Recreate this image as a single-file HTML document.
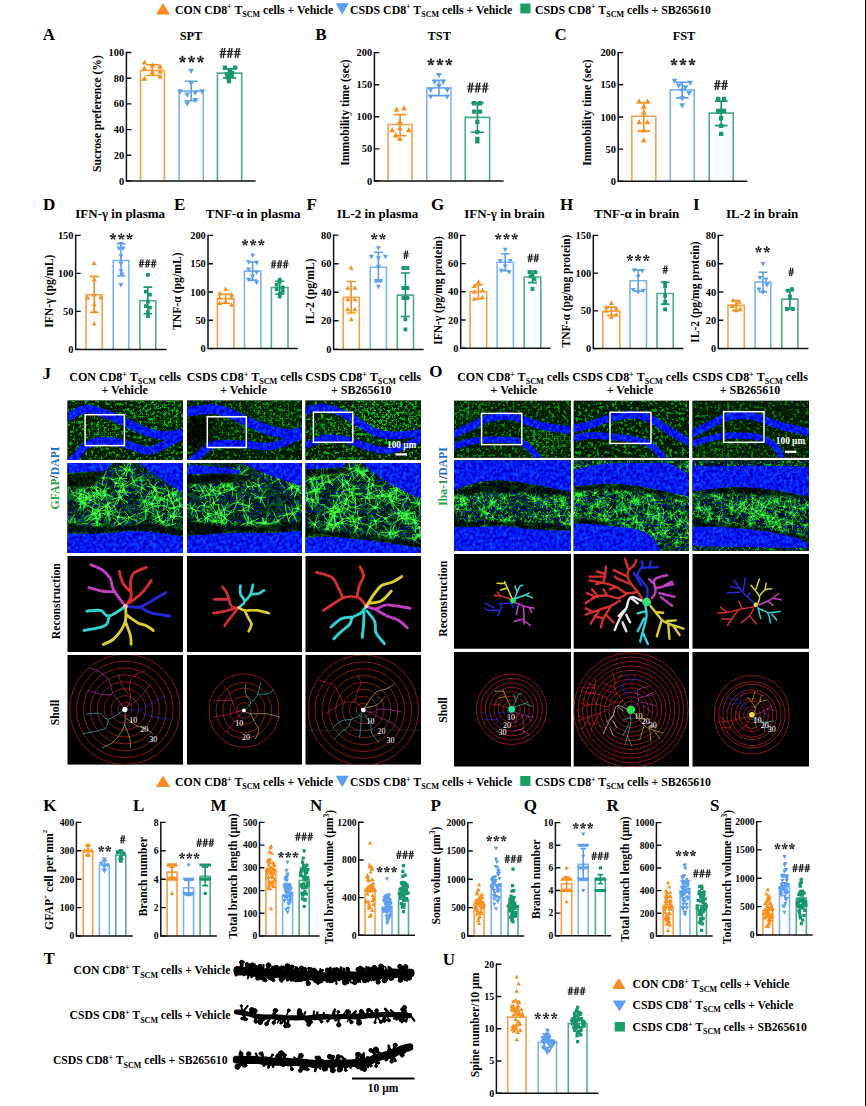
<!DOCTYPE html>
<html><head><meta charset="utf-8"><style>
html,body{margin:0;padding:0;background:#fff;width:866px;height:1106px;overflow:hidden}
svg{display:block;font-family:"Liberation Serif", serif}
</style></head><body>
<svg width="866" height="1106" viewBox="0 0 866 1106">
<path d="M163 3L170 14.6L156 14.6Z" fill="#F98A1E"/>
<text x="175" y="13.6" font-size="11.8" text-anchor="start" font-weight="bold" fill="#000" >CON CD8<tspan font-size="8" dy="-4.2">+</tspan><tspan dy="4.2"> T</tspan><tspan font-size="8" dy="3.3">SCM</tspan><tspan dy="-3.3"> cells + Vehicle</tspan></text>
<path d="M335.7 3.2L348.8 3.2L342.25 14.8Z" fill="#5B9EF5"/>
<text x="350" y="13.6" font-size="11.8" text-anchor="start" font-weight="bold" fill="#000" >CSDS CD8<tspan font-size="8" dy="-4.2">+</tspan><tspan dy="4.2"> T</tspan><tspan font-size="8" dy="3.3">SCM</tspan><tspan dy="-3.3"> cells + Vehicle</tspan></text>
<rect x="520.3" y="3.5" width="10.2" height="9.9" fill="#18A064"/>
<text x="535" y="13.6" font-size="11.8" text-anchor="start" font-weight="bold" fill="#000" >CSDS CD8<tspan font-size="8" dy="-4.2">+</tspan><tspan dy="4.2"> T</tspan><tspan font-size="8" dy="3.3">SCM</tspan><tspan dy="-3.3"> cells + SB265610</tspan></text>
<path d="M163 775.5L170 787.1L156 787.1Z" fill="#F98A1E"/>
<text x="175" y="786.1" font-size="11.8" text-anchor="start" font-weight="bold" fill="#000" >CON CD8<tspan font-size="8" dy="-4.2">+</tspan><tspan dy="4.2"> T</tspan><tspan font-size="8" dy="3.3">SCM</tspan><tspan dy="-3.3"> cells + Vehicle</tspan></text>
<path d="M335.7 775.7L348.8 775.7L342.25 787.3Z" fill="#5B9EF5"/>
<text x="350" y="786.1" font-size="11.8" text-anchor="start" font-weight="bold" fill="#000" >CSDS CD8<tspan font-size="8" dy="-4.2">+</tspan><tspan dy="4.2"> T</tspan><tspan font-size="8" dy="3.3">SCM</tspan><tspan dy="-3.3"> cells + Vehicle</tspan></text>
<rect x="520.3" y="776" width="10.2" height="9.9" fill="#18A064"/>
<text x="535" y="786.1" font-size="11.8" text-anchor="start" font-weight="bold" fill="#000" >CSDS CD8<tspan font-size="8" dy="-4.2">+</tspan><tspan dy="4.2"> T</tspan><tspan font-size="8" dy="3.3">SCM</tspan><tspan dy="-3.3"> cells + SB265610</tspan></text>
<text x="42.8" y="40.4" font-size="17" text-anchor="start" font-weight="bold" fill="#000" >A</text>
<text x="315.2" y="40.4" font-size="17" text-anchor="start" font-weight="bold" fill="#000" >B</text>
<text x="554.6" y="40.4" font-size="17" text-anchor="start" font-weight="bold" fill="#000" >C</text>
<text x="42.9" y="209.9" font-size="17" text-anchor="start" font-weight="bold" fill="#000" >D</text>
<text x="174" y="209.9" font-size="17" text-anchor="start" font-weight="bold" fill="#000" >E</text>
<text x="306.5" y="209.9" font-size="17" text-anchor="start" font-weight="bold" fill="#000" >F</text>
<text x="431" y="209.9" font-size="17" text-anchor="start" font-weight="bold" fill="#000" >G</text>
<text x="560" y="209.9" font-size="17" text-anchor="start" font-weight="bold" fill="#000" >H</text>
<text x="693" y="209.9" font-size="17" text-anchor="start" font-weight="bold" fill="#000" >I</text>
<text x="42.5" y="378.5" font-size="17" text-anchor="start" font-weight="bold" fill="#000" >J</text>
<text x="429.2" y="377.2" font-size="17" text-anchor="start" font-weight="bold" fill="#000" >O</text>
<text x="43.2" y="811" font-size="17" text-anchor="start" font-weight="bold" fill="#000" >K</text>
<text x="133" y="811" font-size="17" text-anchor="start" font-weight="bold" fill="#000" >L</text>
<text x="210.4" y="811" font-size="17" text-anchor="start" font-weight="bold" fill="#000" >M</text>
<text x="310" y="810.7" font-size="17" text-anchor="start" font-weight="bold" fill="#000" >N</text>
<text x="430.4" y="811" font-size="17" text-anchor="start" font-weight="bold" fill="#000" >P</text>
<text x="523.7" y="811" font-size="17" text-anchor="start" font-weight="bold" fill="#000" >Q</text>
<text x="606.6" y="811" font-size="17" text-anchor="start" font-weight="bold" fill="#000" >R</text>
<text x="710" y="811" font-size="17" text-anchor="start" font-weight="bold" fill="#000" >S</text>
<text x="43.5" y="963.9" font-size="17" text-anchor="start" font-weight="bold" fill="#000" >T</text>
<text x="442.8" y="964.8" font-size="17" text-anchor="start" font-weight="bold" fill="#000" >U</text>
<path d="M140.5 181V70.5H164.4V181" fill="none" stroke="#F7A04A" stroke-width="1.6"/>
<path d="M179.1 181V91.1H203.2V181" fill="none" stroke="#7DB3F2" stroke-width="1.6"/>
<path d="M217.4 181V73.1H241.7V181" fill="none" stroke="#4FAE86" stroke-width="1.6"/>
<path d="M144.4 59.4l2.9 5.2h-5.8zM152.4 62.2l2.9 5.2h-5.8zM160.1 63.5l2.9 5.2h-5.8zM144.4 65.2l2.9 5.2h-5.8zM160.1 68.4l2.9 5.2h-5.8zM152.4 69l2.9 5.2h-5.8zM160.1 73.3l2.9 5.2h-5.8zM144.4 75.6l2.9 5.2h-5.8z" fill="#F7901E"/>
<path d="M152.4 75.5V64.7M146.1 64.7H158.8M146.1 75.5H158.8" stroke="#F7901E" stroke-width="1.6" fill="none"/>
<path d="M191.2 73.9l2.9 -5.2h-5.8zM191.2 86.3l2.9 -5.2h-5.8zM180.2 94.4l2.9 -5.2h-5.8zM202.2 94.4l2.9 -5.2h-5.8zM187.2 97.7l2.9 -5.2h-5.8zM195.2 95.6l2.9 -5.2h-5.8zM195.2 103.2l2.9 -5.2h-5.8zM187.2 106.6l2.9 -5.2h-5.8z" fill="#5C9FEE"/>
<path d="M191.2 100.7V81.3M184.7 81.3H197.6M184.7 100.7H197.6" stroke="#5C9FEE" stroke-width="1.6" fill="none"/>
<path d="M222.8 65.4h4.3v4.3h-4.3zM233.1 65.5h4.3v4.3h-4.3zM227.6 67.9h4.3v4.3h-4.3zM229.6 70.5h4.3v4.3h-4.3zM224.8 72.2h4.3v4.3h-4.3zM229.6 73.6h4.3v4.3h-4.3zM226.2 75.3h4.3v4.3h-4.3zM226.8 78.9h4.3v4.3h-4.3z" fill="#17976A"/>
<path d="M229.6 77.9V68.9M223.1 68.9H236M223.1 77.9H236" stroke="#17976A" stroke-width="1.6" fill="none"/>
<path d="M126.4 51.8V181H255.6" fill="none" stroke="#111" stroke-width="1.5"/>
<path d="M126.4 181H131.4M126.4 155.3H131.4M126.4 129.6H131.4M126.4 103.9H131.4M126.4 78.2H131.4M126.4 52.5H131.4" stroke="#111" stroke-width="1.4"/>
<text x="124.2" y="184.5" font-size="10.4" text-anchor="end" font-weight="bold" fill="#000" >0</text>
<text x="124.2" y="158.8" font-size="10.4" text-anchor="end" font-weight="bold" fill="#000" >20</text>
<text x="124.2" y="133.1" font-size="10.4" text-anchor="end" font-weight="bold" fill="#000" >40</text>
<text x="124.2" y="107.4" font-size="10.4" text-anchor="end" font-weight="bold" fill="#000" >60</text>
<text x="124.2" y="81.7" font-size="10.4" text-anchor="end" font-weight="bold" fill="#000" >80</text>
<text x="124.2" y="56" font-size="10.4" text-anchor="end" font-weight="bold" fill="#000" >100</text>
<path d="M182.5 59.4L182.5 56.9M182.5 59.4L184.9 58.6M182.5 59.4L184 61.4M182.5 59.4L181 61.4M182.5 59.4L180.1 58.6M191.5 59.4L191.5 56.9M191.5 59.4L193.9 58.6M191.5 59.4L193 61.4M191.5 59.4L190 61.4M191.5 59.4L189.1 58.6M200.5 59.4L200.5 56.9M200.5 59.4L202.9 58.6M200.5 59.4L202 61.4M200.5 59.4L199 61.4M200.5 59.4L198.1 58.6" stroke="#222" stroke-width="1.1" fill="none"/><path d="M181.4 56.9a1.1 1.1 0 1 0 2.2 0a1.1 1.1 0 1 0 -2.2 0M183.8 58.6a1.1 1.1 0 1 0 2.2 0a1.1 1.1 0 1 0 -2.2 0M182.9 61.4a1.1 1.1 0 1 0 2.2 0a1.1 1.1 0 1 0 -2.2 0M179.9 61.4a1.1 1.1 0 1 0 2.2 0a1.1 1.1 0 1 0 -2.2 0M179 58.6a1.1 1.1 0 1 0 2.2 0a1.1 1.1 0 1 0 -2.2 0M190.4 56.9a1.1 1.1 0 1 0 2.2 0a1.1 1.1 0 1 0 -2.2 0M192.8 58.6a1.1 1.1 0 1 0 2.2 0a1.1 1.1 0 1 0 -2.2 0M191.9 61.4a1.1 1.1 0 1 0 2.2 0a1.1 1.1 0 1 0 -2.2 0M188.9 61.4a1.1 1.1 0 1 0 2.2 0a1.1 1.1 0 1 0 -2.2 0M188 58.6a1.1 1.1 0 1 0 2.2 0a1.1 1.1 0 1 0 -2.2 0M199.4 56.9a1.1 1.1 0 1 0 2.2 0a1.1 1.1 0 1 0 -2.2 0M201.8 58.6a1.1 1.1 0 1 0 2.2 0a1.1 1.1 0 1 0 -2.2 0M200.9 61.4a1.1 1.1 0 1 0 2.2 0a1.1 1.1 0 1 0 -2.2 0M197.9 61.4a1.1 1.1 0 1 0 2.2 0a1.1 1.1 0 1 0 -2.2 0M197 58.6a1.1 1.1 0 1 0 2.2 0a1.1 1.1 0 1 0 -2.2 0" fill="#222"/>
<path d="M220.8 57.8L222.4 48M223.2 57.8L224.8 48M228 57.8L229.6 48M230.4 57.8L232 48M235.3 57.8L236.9 48M237.7 57.8L239.3 48" stroke="#222" stroke-width="1.4" fill="none"/><path d="M219.5 51.5H226.2M219.5 54.3H226.2M226.7 51.5H233.4M226.7 54.3H233.4M234 51.5H240.7M234 54.3H240.7" stroke="#222" stroke-width="1" fill="none"/>
<text x="191" y="39.7" font-size="12.4" text-anchor="middle" font-weight="bold" fill="#000" >SPT</text>
<text transform="translate(97.7 113.5) rotate(-90)" x="0" y="0" font-size="11.7" text-anchor="middle" font-weight="bold" dominant-baseline="central">Sucrose preference (%)</text>
<path d="M388.1 181V124.5H412.1V181" fill="none" stroke="#F7A04A" stroke-width="1.6"/>
<path d="M426.8 181V87.9H451V181" fill="none" stroke="#7DB3F2" stroke-width="1.6"/>
<path d="M465.2 181V117.4H489.6V181" fill="none" stroke="#4FAE86" stroke-width="1.6"/>
<path d="M396.4 106.6l2.9 5.2h-5.8zM404 105.3l2.9 5.2h-5.8zM399.9 118.8l2.9 5.2h-5.8zM392.2 127.1l2.9 5.2h-5.8zM408.8 127.1l2.9 5.2h-5.8zM399.9 125.2l2.9 5.2h-5.8zM395.7 132.3l2.9 5.2h-5.8zM399.9 135.8l2.9 5.2h-5.8z" fill="#F7901E"/>
<path d="M400.1 135.8V114.6M393.7 114.6H406.5M393.7 135.8H406.5" stroke="#F7901E" stroke-width="1.6" fill="none"/>
<path d="M438.9 78.2l2.9 -5.2h-5.8zM434.7 84.9l2.9 -5.2h-5.8zM443.1 84.9l2.9 -5.2h-5.8zM438.9 89.1l2.9 -5.2h-5.8zM430.6 93l2.9 -5.2h-5.8zM447.2 93l2.9 -5.2h-5.8zM430.6 99.6l2.9 -5.2h-5.8zM447.2 99.6l2.9 -5.2h-5.8z" fill="#5C9FEE"/>
<path d="M438.9 95.6V80.2M432.4 80.2H445.3M432.4 95.6H445.3" stroke="#5C9FEE" stroke-width="1.6" fill="none"/>
<path d="M472.1 101.1h4.3v4.3h-4.3zM477.9 101.1h4.3v4.3h-4.3zM472.1 109.5h4.3v4.3h-4.3zM477.9 109.5h4.3v4.3h-4.3zM475.2 119.8h4.3v4.3h-4.3zM475.2 130h4.3v4.3h-4.3zM475.2 136.7h4.3v4.3h-4.3zM475.2 139.3h4.3v4.3h-4.3z" fill="#17976A"/>
<path d="M477.4 132.2V102.7M470.9 102.7H483.9M470.9 132.2H483.9" stroke="#17976A" stroke-width="1.6" fill="none"/>
<path d="M374.4 51.9V181H503.6" fill="none" stroke="#111" stroke-width="1.5"/>
<path d="M374.4 181H379.4M374.4 148.9H379.4M374.4 116.8H379.4M374.4 84.7H379.4M374.4 52.6H379.4" stroke="#111" stroke-width="1.4"/>
<text x="372.2" y="184.5" font-size="10.4" text-anchor="end" font-weight="bold" fill="#000" >0</text>
<text x="372.2" y="152.4" font-size="10.4" text-anchor="end" font-weight="bold" fill="#000" >50</text>
<text x="372.2" y="120.3" font-size="10.4" text-anchor="end" font-weight="bold" fill="#000" >100</text>
<text x="372.2" y="88.2" font-size="10.4" text-anchor="end" font-weight="bold" fill="#000" >150</text>
<text x="372.2" y="56.1" font-size="10.4" text-anchor="end" font-weight="bold" fill="#000" >200</text>
<path d="M430.9 62.2L430.9 59.7M430.9 62.2L433.3 61.4M430.9 62.2L432.4 64.2M430.9 62.2L429.4 64.2M430.9 62.2L428.5 61.4M439.9 62.2L439.9 59.7M439.9 62.2L442.3 61.4M439.9 62.2L441.4 64.2M439.9 62.2L438.4 64.2M439.9 62.2L437.5 61.4M448.9 62.2L448.9 59.7M448.9 62.2L451.3 61.4M448.9 62.2L450.4 64.2M448.9 62.2L447.4 64.2M448.9 62.2L446.5 61.4" stroke="#222" stroke-width="1.1" fill="none"/><path d="M429.8 59.7a1.1 1.1 0 1 0 2.2 0a1.1 1.1 0 1 0 -2.2 0M432.2 61.4a1.1 1.1 0 1 0 2.2 0a1.1 1.1 0 1 0 -2.2 0M431.3 64.2a1.1 1.1 0 1 0 2.2 0a1.1 1.1 0 1 0 -2.2 0M428.3 64.2a1.1 1.1 0 1 0 2.2 0a1.1 1.1 0 1 0 -2.2 0M427.4 61.4a1.1 1.1 0 1 0 2.2 0a1.1 1.1 0 1 0 -2.2 0M438.8 59.7a1.1 1.1 0 1 0 2.2 0a1.1 1.1 0 1 0 -2.2 0M441.2 61.4a1.1 1.1 0 1 0 2.2 0a1.1 1.1 0 1 0 -2.2 0M440.3 64.2a1.1 1.1 0 1 0 2.2 0a1.1 1.1 0 1 0 -2.2 0M437.3 64.2a1.1 1.1 0 1 0 2.2 0a1.1 1.1 0 1 0 -2.2 0M436.4 61.4a1.1 1.1 0 1 0 2.2 0a1.1 1.1 0 1 0 -2.2 0M447.8 59.7a1.1 1.1 0 1 0 2.2 0a1.1 1.1 0 1 0 -2.2 0M450.2 61.4a1.1 1.1 0 1 0 2.2 0a1.1 1.1 0 1 0 -2.2 0M449.3 64.2a1.1 1.1 0 1 0 2.2 0a1.1 1.1 0 1 0 -2.2 0M446.3 64.2a1.1 1.1 0 1 0 2.2 0a1.1 1.1 0 1 0 -2.2 0M445.4 61.4a1.1 1.1 0 1 0 2.2 0a1.1 1.1 0 1 0 -2.2 0" fill="#222"/>
<path d="M468.6 92.5L470.2 82.7M471 92.5L472.6 82.7M475.8 92.5L477.4 82.7M478.2 92.5L479.8 82.7M483.1 92.5L484.7 82.7M485.5 92.5L487.1 82.7" stroke="#222" stroke-width="1.4" fill="none"/><path d="M467.3 86.2H474M467.3 89H474M474.5 86.2H481.2M474.5 89H481.2M481.8 86.2H488.5M481.8 89H488.5" stroke="#222" stroke-width="1" fill="none"/>
<text x="439.3" y="39.7" font-size="12.4" text-anchor="middle" font-weight="bold" fill="#000" >TST</text>
<text transform="translate(345.3 112.5) rotate(-90)" x="0" y="0" font-size="11.7" text-anchor="middle" font-weight="bold" dominant-baseline="central">Immobility time (sec)</text>
<path d="M631.8 181.3V116.3H655.8V181.3" fill="none" stroke="#F7A04A" stroke-width="1.6"/>
<path d="M670.3 181.3V89.9H694.2V181.3" fill="none" stroke="#7DB3F2" stroke-width="1.6"/>
<path d="M709.2 181.3V113.1H733.2V181.3" fill="none" stroke="#4FAE86" stroke-width="1.6"/>
<path d="M639.2 98.4l2.9 5.2h-5.8zM647.5 98.4l2.9 5.2h-5.8zM643.8 103.5l2.9 5.2h-5.8zM643.8 109.3l2.9 5.2h-5.8zM639.2 119l2.9 5.2h-5.8zM647.5 119l2.9 5.2h-5.8zM643.8 127.3l2.9 5.2h-5.8zM643.8 137.3l2.9 5.2h-5.8z" fill="#F7901E"/>
<path d="M643.8 131.1V102.8M637.4 102.8H650.2M637.4 131.1H650.2" stroke="#F7901E" stroke-width="1.6" fill="none"/>
<path d="M674.6 84l2.9 -5.2h-5.8zM690.1 86l2.9 -5.2h-5.8zM678.7 88.6l2.9 -5.2h-5.8zM685.4 90.5l2.9 -5.2h-5.8zM682.2 93.7l2.9 -5.2h-5.8zM689.1 96.3l2.9 -5.2h-5.8zM682.2 101.4l2.9 -5.2h-5.8zM682.2 108.5l2.9 -5.2h-5.8z" fill="#5C9FEE"/>
<path d="M682.2 97.9V82.3M675.9 82.3H688.6M675.9 97.9H688.6" stroke="#5C9FEE" stroke-width="1.6" fill="none"/>
<path d="M716.1 96.8h4.3v4.3h-4.3zM721.9 96.8h4.3v4.3h-4.3zM719 108.7h4.3v4.3h-4.3zM716.1 108.7h4.3v4.3h-4.3zM721.9 108.7h4.3v4.3h-4.3zM719 116.1h4.3v4.3h-4.3zM719 123.8h4.3v4.3h-4.3zM719 131.8h4.3v4.3h-4.3z" fill="#17976A"/>
<path d="M721.2 125.6V101.1M714.8 101.1H727.6M714.8 125.6H727.6" stroke="#17976A" stroke-width="1.6" fill="none"/>
<path d="M618.2 51.9V181.3H747.4" fill="none" stroke="#111" stroke-width="1.5"/>
<path d="M618.2 181.3H623.2M618.2 149.1H623.2M618.2 117H623.2M618.2 84.8H623.2M618.2 52.6H623.2" stroke="#111" stroke-width="1.4"/>
<text x="616" y="184.8" font-size="10.4" text-anchor="end" font-weight="bold" fill="#000" >0</text>
<text x="616" y="152.7" font-size="10.4" text-anchor="end" font-weight="bold" fill="#000" >50</text>
<text x="616" y="120.5" font-size="10.4" text-anchor="end" font-weight="bold" fill="#000" >100</text>
<text x="616" y="88.3" font-size="10.4" text-anchor="end" font-weight="bold" fill="#000" >150</text>
<text x="616" y="56.1" font-size="10.4" text-anchor="end" font-weight="bold" fill="#000" >200</text>
<path d="M674 62.2L674 59.7M674 62.2L676.4 61.4M674 62.2L675.5 64.2M674 62.2L672.5 64.2M674 62.2L671.6 61.4M683 62.2L683 59.7M683 62.2L685.4 61.4M683 62.2L684.5 64.2M683 62.2L681.5 64.2M683 62.2L680.6 61.4M692 62.2L692 59.7M692 62.2L694.4 61.4M692 62.2L693.5 64.2M692 62.2L690.5 64.2M692 62.2L689.6 61.4" stroke="#222" stroke-width="1.1" fill="none"/><path d="M672.9 59.7a1.1 1.1 0 1 0 2.2 0a1.1 1.1 0 1 0 -2.2 0M675.3 61.4a1.1 1.1 0 1 0 2.2 0a1.1 1.1 0 1 0 -2.2 0M674.4 64.2a1.1 1.1 0 1 0 2.2 0a1.1 1.1 0 1 0 -2.2 0M671.4 64.2a1.1 1.1 0 1 0 2.2 0a1.1 1.1 0 1 0 -2.2 0M670.5 61.4a1.1 1.1 0 1 0 2.2 0a1.1 1.1 0 1 0 -2.2 0M681.9 59.7a1.1 1.1 0 1 0 2.2 0a1.1 1.1 0 1 0 -2.2 0M684.3 61.4a1.1 1.1 0 1 0 2.2 0a1.1 1.1 0 1 0 -2.2 0M683.4 64.2a1.1 1.1 0 1 0 2.2 0a1.1 1.1 0 1 0 -2.2 0M680.4 64.2a1.1 1.1 0 1 0 2.2 0a1.1 1.1 0 1 0 -2.2 0M679.5 61.4a1.1 1.1 0 1 0 2.2 0a1.1 1.1 0 1 0 -2.2 0M690.9 59.7a1.1 1.1 0 1 0 2.2 0a1.1 1.1 0 1 0 -2.2 0M693.3 61.4a1.1 1.1 0 1 0 2.2 0a1.1 1.1 0 1 0 -2.2 0M692.4 64.2a1.1 1.1 0 1 0 2.2 0a1.1 1.1 0 1 0 -2.2 0M689.4 64.2a1.1 1.1 0 1 0 2.2 0a1.1 1.1 0 1 0 -2.2 0M688.5 61.4a1.1 1.1 0 1 0 2.2 0a1.1 1.1 0 1 0 -2.2 0" fill="#222"/>
<path d="M715.3 89.9L716.9 80.1M717.7 89.9L719.3 80.1M722.6 89.9L724.2 80.1M725 89.9L726.6 80.1" stroke="#222" stroke-width="1.4" fill="none"/><path d="M714 83.6H720.7M714 86.4H720.7M721.3 83.6H727.9M721.3 86.4H727.9" stroke="#222" stroke-width="1" fill="none"/>
<text x="684" y="39.7" font-size="12.4" text-anchor="middle" font-weight="bold" fill="#000" >FST</text>
<text transform="translate(587.4 112.5) rotate(-90)" x="0" y="0" font-size="11.7" text-anchor="middle" font-weight="bold" dominant-baseline="central">Immobility time (sec)</text>
<path d="M86.1 349.4V294.7H102.2V349.4" fill="none" stroke="#F7A04A" stroke-width="1.6"/>
<path d="M113.2 349.4V260.5H128.9V349.4" fill="none" stroke="#7DB3F2" stroke-width="1.6"/>
<path d="M139.9 349.4V300.8H155.8V349.4" fill="none" stroke="#4FAE86" stroke-width="1.6"/>
<path d="M94.2 260.8l2.5 4.5h-5zM94.2 276.8l2.5 4.5h-5zM94.2 292l2.5 4.5h-5zM87.7 295l2.5 4.5h-5zM100.7 295l2.5 4.5h-5zM94.2 301.9l2.5 4.5h-5zM94.2 308.7l2.5 4.5h-5zM94.2 320.9l2.5 4.5h-5z" fill="#F7901E"/>
<path d="M94.2 312.2V276.4M89.7 276.4H98.6M89.7 312.2H98.6" stroke="#F7901E" stroke-width="1.6" fill="none"/>
<path d="M119 251l2.5 -4.5h-5zM123 251l2.5 -4.5h-5zM121 246.5l2.5 -4.5h-5zM121 258.6l2.5 -4.5h-5zM121 266.2l2.5 -4.5h-5zM121 273.8l2.5 -4.5h-5zM122 276.9l2.5 -4.5h-5zM121 287.5l2.5 -4.5h-5z" fill="#5C9FEE"/>
<path d="M121 275.7V243.8M116.7 243.8H125.4M116.7 275.7H125.4" stroke="#5C9FEE" stroke-width="1.6" fill="none"/>
<path d="M146 273h3.8v3.8h-3.8zM144 289.8h3.8v3.8h-3.8zM148 292.8h3.8v3.8h-3.8zM146 299.6h3.8v3.8h-3.8zM144 304.2h3.8v3.8h-3.8zM148 305.7h3.8v3.8h-3.8zM146 310.3h3.8v3.8h-3.8zM146 314.1h3.8v3.8h-3.8z" fill="#17976A"/>
<path d="M147.8 313.7V287.1M143.5 287.1H152.2M143.5 313.7H152.2" stroke="#17976A" stroke-width="1.6" fill="none"/>
<path d="M75.7 234.7V349.4H166.6" fill="none" stroke="#111" stroke-width="1.5"/>
<path d="M75.7 349.4H80.7M75.7 311.4H80.7M75.7 273.4H80.7M75.7 235.4H80.7" stroke="#111" stroke-width="1.4"/>
<text x="73.5" y="352.9" font-size="10.4" text-anchor="end" font-weight="bold" fill="#000" >0</text>
<text x="73.5" y="314.9" font-size="10.4" text-anchor="end" font-weight="bold" fill="#000" >50</text>
<text x="73.5" y="276.9" font-size="10.4" text-anchor="end" font-weight="bold" fill="#000" >100</text>
<text x="73.5" y="238.9" font-size="10.4" text-anchor="end" font-weight="bold" fill="#000" >150</text>
<path d="M113.1 236.7L113.1 234.3M113.1 236.7L115.4 236M113.1 236.7L114.5 238.6M113.1 236.7L111.7 238.6M113.1 236.7L110.8 236M121.3 236.7L121.3 234.3M121.3 236.7L123.6 236M121.3 236.7L122.7 238.6M121.3 236.7L119.9 238.6M121.3 236.7L119 236M129.5 236.7L129.5 234.3M129.5 236.7L131.8 236M129.5 236.7L130.9 238.6M129.5 236.7L128.1 238.6M129.5 236.7L127.2 236" stroke="#222" stroke-width="1" fill="none"/><path d="M112.1 234.3a1 1 0 1 0 2 0a1 1 0 1 0 -2 0M114.3 236a1 1 0 1 0 2 0a1 1 0 1 0 -2 0M113.5 238.6a1 1 0 1 0 2 0a1 1 0 1 0 -2 0M110.7 238.6a1 1 0 1 0 2 0a1 1 0 1 0 -2 0M109.8 236a1 1 0 1 0 2 0a1 1 0 1 0 -2 0M120.3 234.3a1 1 0 1 0 2 0a1 1 0 1 0 -2 0M122.5 236a1 1 0 1 0 2 0a1 1 0 1 0 -2 0M121.7 238.6a1 1 0 1 0 2 0a1 1 0 1 0 -2 0M118.9 238.6a1 1 0 1 0 2 0a1 1 0 1 0 -2 0M118 236a1 1 0 1 0 2 0a1 1 0 1 0 -2 0M128.5 234.3a1 1 0 1 0 2 0a1 1 0 1 0 -2 0M130.7 236a1 1 0 1 0 2 0a1 1 0 1 0 -2 0M129.9 238.6a1 1 0 1 0 2 0a1 1 0 1 0 -2 0M127.1 238.6a1 1 0 1 0 2 0a1 1 0 1 0 -2 0M126.2 236a1 1 0 1 0 2 0a1 1 0 1 0 -2 0" fill="#222"/>
<path d="M139.8 267.5L141.1 259.3M141.8 267.5L143.1 259.3M145.9 267.5L147.2 259.3M147.9 267.5L149.2 259.3M152 267.5L153.3 259.3M154 267.5L155.3 259.3" stroke="#222" stroke-width="1.2" fill="none"/><path d="M138.7 262.3H144.3M138.7 264.5H144.3M144.8 262.3H150.4M144.8 264.5H150.4M150.9 262.3H156.5M150.9 264.5H156.5" stroke="#222" stroke-width="0.9" fill="none"/>
<text x="120.2" y="217.6" font-size="13" text-anchor="middle" font-weight="bold" fill="#000" >IFN-γ in plasma</text>
<text transform="translate(49.4 291.2) rotate(-90)" x="0" y="0" font-size="11.7" text-anchor="middle" font-weight="bold" dominant-baseline="central">IFN-γ (pg/mL)</text>
<path d="M217.4 348.6V298.8H233.9V348.6" fill="none" stroke="#F7A04A" stroke-width="1.6"/>
<path d="M244.4 348.6V271.1H260.9V348.6" fill="none" stroke="#7DB3F2" stroke-width="1.6"/>
<path d="M271.4 348.6V287.5H288V348.6" fill="none" stroke="#4FAE86" stroke-width="1.6"/>
<path d="M225.6 286.5l2.5 4.5h-5zM219.6 291l2.5 4.5h-5zM231.6 292.1l2.5 4.5h-5zM219.6 295l2.5 4.5h-5zM231.6 295l2.5 4.5h-5zM225.6 298.9l2.5 4.5h-5zM219.6 300.6l2.5 4.5h-5zM231.6 302.3l2.5 4.5h-5z" fill="#F7901E"/>
<path d="M225.6 303.3V294.3M221.1 294.3H230.2M221.1 303.3H230.2" stroke="#F7901E" stroke-width="1.6" fill="none"/>
<path d="M252.6 257.9l2.5 -4.5h-5zM248.6 264.7l2.5 -4.5h-5zM256.6 265.3l2.5 -4.5h-5zM248.6 272.1l2.5 -4.5h-5zM256.6 274.9l2.5 -4.5h-5zM252.6 278.9l2.5 -4.5h-5zM248.6 282.2l2.5 -4.5h-5zM256.6 285.1l2.5 -4.5h-5z" fill="#5C9FEE"/>
<path d="M252.6 280.1V262M248.1 262H257.2M248.1 280.1H257.2" stroke="#5C9FEE" stroke-width="1.6" fill="none"/>
<path d="M277.8 277.7h3.8v3.8h-3.8zM277.8 279.9h3.8v3.8h-3.8zM274.8 282.8h3.8v3.8h-3.8zM280.8 285.6h3.8v3.8h-3.8zM274.8 287.3h3.8v3.8h-3.8zM280.8 289.6h3.8v3.8h-3.8zM277.8 291.8h3.8v3.8h-3.8zM277.8 294.7h3.8v3.8h-3.8z" fill="#17976A"/>
<path d="M279.7 294.3V281.2M275.2 281.2H284.3M275.2 294.3H284.3" stroke="#17976A" stroke-width="1.6" fill="none"/>
<path d="M208 234.7V348.6H297.7" fill="none" stroke="#111" stroke-width="1.5"/>
<path d="M208 348.6H213M208 320.3H213M208 292H213M208 263.7H213M208 235.4H213" stroke="#111" stroke-width="1.4"/>
<text x="205.8" y="352.1" font-size="10.4" text-anchor="end" font-weight="bold" fill="#000" >0</text>
<text x="205.8" y="323.8" font-size="10.4" text-anchor="end" font-weight="bold" fill="#000" >50</text>
<text x="205.8" y="295.5" font-size="10.4" text-anchor="end" font-weight="bold" fill="#000" >100</text>
<text x="205.8" y="267.2" font-size="10.4" text-anchor="end" font-weight="bold" fill="#000" >150</text>
<text x="205.8" y="238.9" font-size="10.4" text-anchor="end" font-weight="bold" fill="#000" >200</text>
<path d="M245 242.7L245 240.3M245 242.7L247.3 242M245 242.7L246.4 244.6M245 242.7L243.6 244.6M245 242.7L242.7 242M253.2 242.7L253.2 240.3M253.2 242.7L255.5 242M253.2 242.7L254.6 244.6M253.2 242.7L251.8 244.6M253.2 242.7L250.9 242M261.4 242.7L261.4 240.3M261.4 242.7L263.7 242M261.4 242.7L262.8 244.6M261.4 242.7L260 244.6M261.4 242.7L259.1 242" stroke="#222" stroke-width="1" fill="none"/><path d="M244 240.3a1 1 0 1 0 2 0a1 1 0 1 0 -2 0M246.2 242a1 1 0 1 0 2 0a1 1 0 1 0 -2 0M245.4 244.6a1 1 0 1 0 2 0a1 1 0 1 0 -2 0M242.6 244.6a1 1 0 1 0 2 0a1 1 0 1 0 -2 0M241.7 242a1 1 0 1 0 2 0a1 1 0 1 0 -2 0M252.2 240.3a1 1 0 1 0 2 0a1 1 0 1 0 -2 0M254.4 242a1 1 0 1 0 2 0a1 1 0 1 0 -2 0M253.6 244.6a1 1 0 1 0 2 0a1 1 0 1 0 -2 0M250.8 244.6a1 1 0 1 0 2 0a1 1 0 1 0 -2 0M249.9 242a1 1 0 1 0 2 0a1 1 0 1 0 -2 0M260.4 240.3a1 1 0 1 0 2 0a1 1 0 1 0 -2 0M262.6 242a1 1 0 1 0 2 0a1 1 0 1 0 -2 0M261.8 244.6a1 1 0 1 0 2 0a1 1 0 1 0 -2 0M259 244.6a1 1 0 1 0 2 0a1 1 0 1 0 -2 0M258.1 242a1 1 0 1 0 2 0a1 1 0 1 0 -2 0" fill="#222"/>
<path d="M271.9 268.3L273.2 260.1M273.9 268.3L275.2 260.1M278 268.3L279.3 260.1M280 268.3L281.3 260.1M284.1 268.3L285.4 260.1M286.1 268.3L287.4 260.1" stroke="#222" stroke-width="1.2" fill="none"/><path d="M270.8 263.1H276.4M270.8 265.3H276.4M276.9 263.1H282.5M276.9 265.3H282.5M283 263.1H288.6M283 265.3H288.6" stroke="#222" stroke-width="0.9" fill="none"/>
<text x="253.2" y="217.6" font-size="13" text-anchor="middle" font-weight="bold" fill="#000" >TNF-α in plasma</text>
<text transform="translate(177.3 291.2) rotate(-90)" x="0" y="0" font-size="11.7" text-anchor="middle" font-weight="bold" dominant-baseline="central">TNF-α (pg/mL)</text>
<path d="M343.2 349.4V297.3H359.3V349.4" fill="none" stroke="#F7A04A" stroke-width="1.6"/>
<path d="M370.3 349.4V267.2H386.5V349.4" fill="none" stroke="#7DB3F2" stroke-width="1.6"/>
<path d="M397.3 349.4V295.1H413.5V349.4" fill="none" stroke="#4FAE86" stroke-width="1.6"/>
<path d="M351.2 265.3l2.5 4.5h-5zM347.8 285.3l2.5 4.5h-5zM354.8 285.3l2.5 4.5h-5zM347.8 296.7l2.5 4.5h-5zM354.8 296.7l2.5 4.5h-5zM347.8 306.7l2.5 4.5h-5zM354.8 306.7l2.5 4.5h-5zM351.2 316.7l2.5 4.5h-5z" fill="#F7901E"/>
<path d="M351.2 313V281.5M346.8 281.5H355.7M346.8 313H355.7" stroke="#F7901E" stroke-width="1.6" fill="none"/>
<path d="M378.4 250.7l2.5 -4.5h-5zM371.4 259.2l2.5 -4.5h-5zM385.4 259.2l2.5 -4.5h-5zM378.4 260.7l2.5 -4.5h-5zM378.4 269.2l2.5 -4.5h-5zM376.4 283.5l2.5 -4.5h-5zM380.4 283.5l2.5 -4.5h-5zM378.4 289.2l2.5 -4.5h-5z" fill="#5C9FEE"/>
<path d="M378.4 281.5V252.2M373.9 252.2H382.8M373.9 281.5H382.8" stroke="#5C9FEE" stroke-width="1.6" fill="none"/>
<path d="M401.5 266.1h3.8v3.8h-3.8zM405.5 266.1h3.8v3.8h-3.8zM401.5 286.1h3.8v3.8h-3.8zM405.5 286.1h3.8v3.8h-3.8zM401.5 296.1h3.8v3.8h-3.8zM405.5 296.1h3.8v3.8h-3.8zM403.5 317.5h3.8v3.8h-3.8zM403.5 327.5h3.8v3.8h-3.8z" fill="#17976A"/>
<path d="M405.4 316.5V273M400.9 273H409.8M400.9 316.5H409.8" stroke="#17976A" stroke-width="1.6" fill="none"/>
<path d="M333.6 234.4V349.4H423.7" fill="none" stroke="#111" stroke-width="1.5"/>
<path d="M333.6 349.4H338.6M333.6 320.8H338.6M333.6 292.2H338.6M333.6 263.7H338.6M333.6 235.1H338.6" stroke="#111" stroke-width="1.4"/>
<text x="331.4" y="352.9" font-size="10.4" text-anchor="end" font-weight="bold" fill="#000" >0</text>
<text x="331.4" y="324.4" font-size="10.4" text-anchor="end" font-weight="bold" fill="#000" >20</text>
<text x="331.4" y="295.8" font-size="10.4" text-anchor="end" font-weight="bold" fill="#000" >40</text>
<text x="331.4" y="267.2" font-size="10.4" text-anchor="end" font-weight="bold" fill="#000" >60</text>
<text x="331.4" y="238.6" font-size="10.4" text-anchor="end" font-weight="bold" fill="#000" >80</text>
<path d="M374.3 236.7L374.3 234.3M374.3 236.7L376.6 236M374.3 236.7L375.7 238.6M374.3 236.7L372.9 238.6M374.3 236.7L372 236M382.5 236.7L382.5 234.3M382.5 236.7L384.8 236M382.5 236.7L383.9 238.6M382.5 236.7L381.1 238.6M382.5 236.7L380.2 236" stroke="#222" stroke-width="1" fill="none"/><path d="M373.3 234.3a1 1 0 1 0 2 0a1 1 0 1 0 -2 0M375.5 236a1 1 0 1 0 2 0a1 1 0 1 0 -2 0M374.7 238.6a1 1 0 1 0 2 0a1 1 0 1 0 -2 0M371.9 238.6a1 1 0 1 0 2 0a1 1 0 1 0 -2 0M371 236a1 1 0 1 0 2 0a1 1 0 1 0 -2 0M381.5 234.3a1 1 0 1 0 2 0a1 1 0 1 0 -2 0M383.7 236a1 1 0 1 0 2 0a1 1 0 1 0 -2 0M382.9 238.6a1 1 0 1 0 2 0a1 1 0 1 0 -2 0M380.1 238.6a1 1 0 1 0 2 0a1 1 0 1 0 -2 0M379.2 236a1 1 0 1 0 2 0a1 1 0 1 0 -2 0" fill="#222"/>
<path d="M404.3 258.9L405.6 250.7M406.3 258.9L407.6 250.7" stroke="#222" stroke-width="1.2" fill="none"/><path d="M403.2 253.7H408.8M403.2 255.9H408.8" stroke="#222" stroke-width="0.9" fill="none"/>
<text x="377.5" y="217.6" font-size="13" text-anchor="middle" font-weight="bold" fill="#000" >IL-2 in plasma</text>
<text transform="translate(310.5 291.2) rotate(-90)" x="0" y="0" font-size="11.7" text-anchor="middle" font-weight="bold" dominant-baseline="central">IL-2 (pg/mL)</text>
<path d="M470.1 348.2V291.8H486.7V348.2" fill="none" stroke="#F7A04A" stroke-width="1.6"/>
<path d="M497.1 348.2V262.2H513.4V348.2" fill="none" stroke="#7DB3F2" stroke-width="1.6"/>
<path d="M524.2 348.2V277H540.8V348.2" fill="none" stroke="#4FAE86" stroke-width="1.6"/>
<path d="M478.4 279.2l2.5 4.5h-5zM474.4 283.5l2.5 4.5h-5zM482.4 287.7l2.5 4.5h-5zM474.4 289.1l2.5 4.5h-5zM482.4 294.7l2.5 4.5h-5zM474.4 296.2l2.5 4.5h-5z" fill="#F7901E"/>
<path d="M478.4 298.9V284.8M473.8 284.8H482.9M473.8 298.9H482.9" stroke="#F7901E" stroke-width="1.6" fill="none"/>
<path d="M505.2 252.2l2.5 -4.5h-5zM500.2 263.5l2.5 -4.5h-5zM510.2 263.5l2.5 -4.5h-5zM505.2 269.1l2.5 -4.5h-5zM501.2 273.3l2.5 -4.5h-5zM509.2 274.8l2.5 -4.5h-5z" fill="#5C9FEE"/>
<path d="M505.2 270.6V253.7M500.8 253.7H509.7M500.8 270.6H509.7" stroke="#5C9FEE" stroke-width="1.6" fill="none"/>
<path d="M527.6 270.2h3.8v3.8h-3.8zM533.6 270.2h3.8v3.8h-3.8zM530.6 273h3.8v3.8h-3.8zM528.6 274.4h3.8v3.8h-3.8zM532.6 277.2h3.8v3.8h-3.8zM530.6 287.1h3.8v3.8h-3.8z" fill="#17976A"/>
<path d="M532.5 282.6V271.4M528 271.4H537M528 282.6H537" stroke="#17976A" stroke-width="1.6" fill="none"/>
<path d="M460.7 234.7V348.2H550.6" fill="none" stroke="#111" stroke-width="1.5"/>
<path d="M460.7 348.2H465.7M460.7 320H465.7M460.7 291.8H465.7M460.7 263.6H465.7M460.7 235.4H465.7" stroke="#111" stroke-width="1.4"/>
<text x="458.5" y="351.7" font-size="10.4" text-anchor="end" font-weight="bold" fill="#000" >0</text>
<text x="458.5" y="323.5" font-size="10.4" text-anchor="end" font-weight="bold" fill="#000" >20</text>
<text x="458.5" y="295.3" font-size="10.4" text-anchor="end" font-weight="bold" fill="#000" >40</text>
<text x="458.5" y="267.1" font-size="10.4" text-anchor="end" font-weight="bold" fill="#000" >60</text>
<text x="458.5" y="238.9" font-size="10.4" text-anchor="end" font-weight="bold" fill="#000" >80</text>
<path d="M498.3 236.7L498.3 234.3M498.3 236.7L500.6 236M498.3 236.7L499.7 238.6M498.3 236.7L496.9 238.6M498.3 236.7L496 236M506.5 236.7L506.5 234.3M506.5 236.7L508.8 236M506.5 236.7L507.9 238.6M506.5 236.7L505.1 238.6M506.5 236.7L504.2 236M514.7 236.7L514.7 234.3M514.7 236.7L517 236M514.7 236.7L516.1 238.6M514.7 236.7L513.3 238.6M514.7 236.7L512.4 236" stroke="#222" stroke-width="1" fill="none"/><path d="M497.3 234.3a1 1 0 1 0 2 0a1 1 0 1 0 -2 0M499.5 236a1 1 0 1 0 2 0a1 1 0 1 0 -2 0M498.7 238.6a1 1 0 1 0 2 0a1 1 0 1 0 -2 0M495.9 238.6a1 1 0 1 0 2 0a1 1 0 1 0 -2 0M495 236a1 1 0 1 0 2 0a1 1 0 1 0 -2 0M505.5 234.3a1 1 0 1 0 2 0a1 1 0 1 0 -2 0M507.7 236a1 1 0 1 0 2 0a1 1 0 1 0 -2 0M506.9 238.6a1 1 0 1 0 2 0a1 1 0 1 0 -2 0M504.1 238.6a1 1 0 1 0 2 0a1 1 0 1 0 -2 0M503.2 236a1 1 0 1 0 2 0a1 1 0 1 0 -2 0M513.7 234.3a1 1 0 1 0 2 0a1 1 0 1 0 -2 0M515.9 236a1 1 0 1 0 2 0a1 1 0 1 0 -2 0M515.1 238.6a1 1 0 1 0 2 0a1 1 0 1 0 -2 0M512.3 238.6a1 1 0 1 0 2 0a1 1 0 1 0 -2 0M511.4 236a1 1 0 1 0 2 0a1 1 0 1 0 -2 0" fill="#222"/>
<path d="M528.5 262.1L529.8 253.9M530.5 262.1L531.9 253.9M534.6 262.1L535.9 253.9M536.6 262.1L538 253.9" stroke="#222" stroke-width="1.2" fill="none"/><path d="M527.4 256.9H533M527.4 259.1H533M533.5 256.9H539.1M533.5 259.1H539.1" stroke="#222" stroke-width="0.9" fill="none"/>
<text x="504.4" y="217.6" font-size="13" text-anchor="middle" font-weight="bold" fill="#000" >IFN-γ in brain</text>
<text transform="translate(437.8 290.5) rotate(-90)" x="0" y="0" font-size="11.5" text-anchor="middle" font-weight="bold" dominant-baseline="central">IFN-γ (pg/mg protein)</text>
<path d="M602.8 348.6V311.2H619.8V348.6" fill="none" stroke="#F7A04A" stroke-width="1.6"/>
<path d="M630 348.6V280.7H646.5V348.6" fill="none" stroke="#7DB3F2" stroke-width="1.6"/>
<path d="M657 348.6V293.5H673.2V348.6" fill="none" stroke="#4FAE86" stroke-width="1.6"/>
<path d="M611.3 300.6l2.5 4.5h-5zM606.3 304.4l2.5 4.5h-5zM616.3 305.9l2.5 4.5h-5zM606.3 308.2l2.5 4.5h-5zM616.3 311.9l2.5 4.5h-5zM611.3 314.2l2.5 4.5h-5z" fill="#F7901E"/>
<path d="M611.3 315.4V307.1M606.6 307.1H615.9M606.6 315.4H615.9" stroke="#F7901E" stroke-width="1.6" fill="none"/>
<path d="M634.2 272.8l2.5 -4.5h-5zM642.2 273.6l2.5 -4.5h-5zM638.2 278.9l2.5 -4.5h-5zM633.2 292.4l2.5 -4.5h-5zM643.2 293.2l2.5 -4.5h-5zM638.2 294.7l2.5 -4.5h-5z" fill="#5C9FEE"/>
<path d="M638.2 291.2V270.1M633.7 270.1H642.8M633.7 291.2H642.8" stroke="#5C9FEE" stroke-width="1.6" fill="none"/>
<path d="M663.2 281.1h3.8v3.8h-3.8zM663.2 282.6h3.8v3.8h-3.8zM663.2 284.1h3.8v3.8h-3.8zM663.2 293.9h3.8v3.8h-3.8zM663.2 299.9h3.8v3.8h-3.8zM663.2 307.5h3.8v3.8h-3.8z" fill="#17976A"/>
<path d="M665.1 304.1V282.2M660.7 282.2H669.5M660.7 304.1H669.5" stroke="#17976A" stroke-width="1.6" fill="none"/>
<path d="M593.3 234.7V348.6H683.4" fill="none" stroke="#111" stroke-width="1.5"/>
<path d="M593.3 348.6H598.3M593.3 310.9H598.3M593.3 273.1H598.3M593.3 235.4H598.3" stroke="#111" stroke-width="1.4"/>
<text x="591.1" y="352.1" font-size="10.4" text-anchor="end" font-weight="bold" fill="#000" >0</text>
<text x="591.1" y="314.4" font-size="10.4" text-anchor="end" font-weight="bold" fill="#000" >50</text>
<text x="591.1" y="276.7" font-size="10.4" text-anchor="end" font-weight="bold" fill="#000" >100</text>
<text x="591.1" y="238.9" font-size="10.4" text-anchor="end" font-weight="bold" fill="#000" >150</text>
<path d="M629.9 258L629.9 255.6M629.9 258L632.2 257.3M629.9 258L631.3 259.9M629.9 258L628.5 259.9M629.9 258L627.6 257.3M638.1 258L638.1 255.6M638.1 258L640.4 257.3M638.1 258L639.5 259.9M638.1 258L636.7 259.9M638.1 258L635.8 257.3M646.3 258L646.3 255.6M646.3 258L648.6 257.3M646.3 258L647.7 259.9M646.3 258L644.9 259.9M646.3 258L644 257.3" stroke="#222" stroke-width="1" fill="none"/><path d="M628.9 255.6a1 1 0 1 0 2 0a1 1 0 1 0 -2 0M631.1 257.3a1 1 0 1 0 2 0a1 1 0 1 0 -2 0M630.3 259.9a1 1 0 1 0 2 0a1 1 0 1 0 -2 0M627.5 259.9a1 1 0 1 0 2 0a1 1 0 1 0 -2 0M626.6 257.3a1 1 0 1 0 2 0a1 1 0 1 0 -2 0M637.1 255.6a1 1 0 1 0 2 0a1 1 0 1 0 -2 0M639.3 257.3a1 1 0 1 0 2 0a1 1 0 1 0 -2 0M638.5 259.9a1 1 0 1 0 2 0a1 1 0 1 0 -2 0M635.7 259.9a1 1 0 1 0 2 0a1 1 0 1 0 -2 0M634.8 257.3a1 1 0 1 0 2 0a1 1 0 1 0 -2 0M645.3 255.6a1 1 0 1 0 2 0a1 1 0 1 0 -2 0M647.5 257.3a1 1 0 1 0 2 0a1 1 0 1 0 -2 0M646.7 259.9a1 1 0 1 0 2 0a1 1 0 1 0 -2 0M643.9 259.9a1 1 0 1 0 2 0a1 1 0 1 0 -2 0M643 257.3a1 1 0 1 0 2 0a1 1 0 1 0 -2 0" fill="#222"/>
<path d="M663.7 273.7L665 265.5M665.7 273.7L667 265.5" stroke="#222" stroke-width="1.2" fill="none"/><path d="M662.6 268.5H668.2M662.6 270.7H668.2" stroke="#222" stroke-width="0.9" fill="none"/>
<text x="636.7" y="217.6" font-size="13" text-anchor="middle" font-weight="bold" fill="#000" >TNF-α in brain</text>
<text transform="translate(566.2 291) rotate(-90)" x="0" y="0" font-size="11.5" text-anchor="middle" font-weight="bold" dominant-baseline="central">TNF-α (pg/mg protein)</text>
<path d="M728 348.6V305.4H744.3V348.6" fill="none" stroke="#F7A04A" stroke-width="1.6"/>
<path d="M755.1 348.6V282.1H770.8V348.6" fill="none" stroke="#7DB3F2" stroke-width="1.6"/>
<path d="M781.8 348.6V299.1H797.9V348.6" fill="none" stroke="#4FAE86" stroke-width="1.6"/>
<path d="M733.2 297.8l2.5 4.5h-5zM739.2 299.2l2.5 4.5h-5zM736.2 302l2.5 4.5h-5zM732.2 303.5l2.5 4.5h-5zM740.2 306.3l2.5 4.5h-5zM736.2 307.7l2.5 4.5h-5z" fill="#F7901E"/>
<path d="M736.2 310.4V300.5M731.7 300.5H740.6M731.7 310.4H740.6" stroke="#F7901E" stroke-width="1.6" fill="none"/>
<path d="M763 266.4l2.5 -4.5h-5zM760 280.6l2.5 -4.5h-5zM766 282l2.5 -4.5h-5zM767 287.6l2.5 -4.5h-5zM759 291.9l2.5 -4.5h-5zM763 294.7l2.5 -4.5h-5z" fill="#5C9FEE"/>
<path d="M763 292V272.2M758.6 272.2H767.3M758.6 292H767.3" stroke="#5C9FEE" stroke-width="1.6" fill="none"/>
<path d="M790 287.3h3.8v3.8h-3.8zM786 288.7h3.8v3.8h-3.8zM788 294.4h3.8v3.8h-3.8zM788 295.8h3.8v3.8h-3.8zM785 307.1h3.8v3.8h-3.8zM791 307.1h3.8v3.8h-3.8z" fill="#17976A"/>
<path d="M789.9 309V290.6M785.4 290.6H794.3M785.4 309H794.3" stroke="#17976A" stroke-width="1.6" fill="none"/>
<path d="M718.3 234.7V348.6H808.4" fill="none" stroke="#111" stroke-width="1.5"/>
<path d="M718.3 348.6H723.3M718.3 320.3H723.3M718.3 292H723.3M718.3 263.7H723.3M718.3 235.4H723.3" stroke="#111" stroke-width="1.4"/>
<text x="716.1" y="352.1" font-size="10.4" text-anchor="end" font-weight="bold" fill="#000" >0</text>
<text x="716.1" y="323.8" font-size="10.4" text-anchor="end" font-weight="bold" fill="#000" >20</text>
<text x="716.1" y="295.5" font-size="10.4" text-anchor="end" font-weight="bold" fill="#000" >40</text>
<text x="716.1" y="267.2" font-size="10.4" text-anchor="end" font-weight="bold" fill="#000" >60</text>
<text x="716.1" y="238.9" font-size="10.4" text-anchor="end" font-weight="bold" fill="#000" >80</text>
<path d="M758.6 249.6L758.6 247.2M758.6 249.6L760.9 248.9M758.6 249.6L760 251.5M758.6 249.6L757.2 251.5M758.6 249.6L756.3 248.9M766.8 249.6L766.8 247.2M766.8 249.6L769.1 248.9M766.8 249.6L768.2 251.5M766.8 249.6L765.4 251.5M766.8 249.6L764.5 248.9" stroke="#222" stroke-width="1" fill="none"/><path d="M757.6 247.2a1 1 0 1 0 2 0a1 1 0 1 0 -2 0M759.8 248.9a1 1 0 1 0 2 0a1 1 0 1 0 -2 0M759 251.5a1 1 0 1 0 2 0a1 1 0 1 0 -2 0M756.2 251.5a1 1 0 1 0 2 0a1 1 0 1 0 -2 0M755.3 248.9a1 1 0 1 0 2 0a1 1 0 1 0 -2 0M765.8 247.2a1 1 0 1 0 2 0a1 1 0 1 0 -2 0M768 248.9a1 1 0 1 0 2 0a1 1 0 1 0 -2 0M767.2 251.5a1 1 0 1 0 2 0a1 1 0 1 0 -2 0M764.4 251.5a1 1 0 1 0 2 0a1 1 0 1 0 -2 0M763.5 248.9a1 1 0 1 0 2 0a1 1 0 1 0 -2 0" fill="#222"/>
<path d="M789.5 276.1L790.8 267.9M791.5 276.1L792.8 267.9" stroke="#222" stroke-width="1.2" fill="none"/><path d="M788.4 270.9H794M788.4 273.1H794" stroke="#222" stroke-width="0.9" fill="none"/>
<text x="762.2" y="217.6" font-size="13" text-anchor="middle" font-weight="bold" fill="#000" >IL-2 in brain</text>
<text transform="translate(695.3 292) rotate(-90)" x="0" y="0" font-size="11.5" text-anchor="middle" font-weight="bold" dominant-baseline="central">IL-2 (pg/mg protein)</text>
<path d="M83.2 936V850.8H92.7V936" fill="none" stroke="#F7A04A" stroke-width="1.6"/>
<path d="M99.4 936V865H109.3V936" fill="none" stroke="#7DB3F2" stroke-width="1.6"/>
<path d="M115.8 936V855.1H125.8V936" fill="none" stroke="#4FAE86" stroke-width="1.6"/>
<path d="M88 842.4l2.5 4.5h-5zM88 846.7l2.5 4.5h-5zM84.5 848.1l2.5 4.5h-5zM91.5 848.1l2.5 4.5h-5zM88 852.4l2.5 4.5h-5z" fill="#F7901E"/>
<path d="M88 855.1V845.1M85.2 845.1H90.7M85.2 855.1H90.7" stroke="#F7901E" stroke-width="1.6" fill="none"/>
<path d="M104.3 862l2.5 -4.5h-5zM101.3 866.3l2.5 -4.5h-5zM107.3 867.7l2.5 -4.5h-5zM104.3 869.1l2.5 -4.5h-5zM104.3 873.4l2.5 -4.5h-5z" fill="#5C9FEE"/>
<path d="M104.3 869.3V860.7M101.5 860.7H107.2M101.5 869.3H107.2" stroke="#5C9FEE" stroke-width="1.6" fill="none"/>
<path d="M118.9 848.9h3.8v3.8h-3.8zM115.9 850.3h3.8v3.8h-3.8zM121.9 851.8h3.8v3.8h-3.8zM118.9 856h3.8v3.8h-3.8zM118.9 858.9h3.8v3.8h-3.8z" fill="#17976A"/>
<path d="M120.8 859.3V850.8M117.9 850.8H123.7M117.9 859.3H123.7" stroke="#17976A" stroke-width="1.6" fill="none"/>
<path d="M76.4 821.7V936H132.8" fill="none" stroke="#111" stroke-width="1.5"/>
<path d="M76.4 936H81.4M76.4 907.6H81.4M76.4 879.2H81.4M76.4 850.8H81.4M76.4 822.4H81.4" stroke="#111" stroke-width="1.4"/>
<text x="74.2" y="939.3" font-size="9.6" text-anchor="end" font-weight="bold" fill="#000" >0</text>
<text x="74.2" y="910.9" font-size="9.6" text-anchor="end" font-weight="bold" fill="#000" >100</text>
<text x="74.2" y="882.5" font-size="9.6" text-anchor="end" font-weight="bold" fill="#000" >200</text>
<text x="74.2" y="854.1" font-size="9.6" text-anchor="end" font-weight="bold" fill="#000" >300</text>
<text x="74.2" y="825.7" font-size="9.6" text-anchor="end" font-weight="bold" fill="#000" >400</text>
<path d="M101.3 849L101.3 846.8M101.3 849L103.4 848.3M101.3 849L102.6 850.8M101.3 849L100 850.8M101.3 849L99.2 848.3M108.3 849L108.3 846.8M108.3 849L110.4 848.3M108.3 849L109.6 850.8M108.3 849L107 850.8M108.3 849L106.2 848.3" stroke="#222" stroke-width="0.9" fill="none"/><path d="M100.4 846.8a0.9 0.9 0 1 0 1.9 0a0.9 0.9 0 1 0 -1.9 0M102.4 848.3a0.9 0.9 0 1 0 1.9 0a0.9 0.9 0 1 0 -1.9 0M101.6 850.8a0.9 0.9 0 1 0 1.9 0a0.9 0.9 0 1 0 -1.9 0M99.1 850.8a0.9 0.9 0 1 0 1.9 0a0.9 0.9 0 1 0 -1.9 0M98.3 848.3a0.9 0.9 0 1 0 1.9 0a0.9 0.9 0 1 0 -1.9 0M107.4 846.8a0.9 0.9 0 1 0 1.9 0a0.9 0.9 0 1 0 -1.9 0M109.4 848.3a0.9 0.9 0 1 0 1.9 0a0.9 0.9 0 1 0 -1.9 0M108.6 850.8a0.9 0.9 0 1 0 1.9 0a0.9 0.9 0 1 0 -1.9 0M106.1 850.8a0.9 0.9 0 1 0 1.9 0a0.9 0.9 0 1 0 -1.9 0M105.3 848.3a0.9 0.9 0 1 0 1.9 0a0.9 0.9 0 1 0 -1.9 0" fill="#222"/>
<path d="M121 843.4L122.3 835.2M123 843.4L124.3 835.2" stroke="#222" stroke-width="1.2" fill="none"/><path d="M119.9 838.2H125.5M119.9 840.4H125.5" stroke="#222" stroke-width="0.9" fill="none"/>
<text transform="translate(49.4 879.8) rotate(-90)" x="0" y="0" font-size="11.7" text-anchor="middle" font-weight="bold" dominant-baseline="central">GFAP<tspan font-size="7" dy="-3.8">+</tspan><tspan dy="3.8"> cell per mm</tspan><tspan font-size="7" dy="-4.2">2</tspan></text>
<path d="M167.1 936V872.1H177V936" fill="none" stroke="#F7A04A" stroke-width="1.6"/>
<path d="M183.5 936V887.7H193.6V936" fill="none" stroke="#7DB3F2" stroke-width="1.6"/>
<path d="M200.1 936V876.4H210.2V936" fill="none" stroke="#4FAE86" stroke-width="1.6"/>
<path d="M167.9 862.7l2.1 3.8h-4.2zM168.9 862.7l2.1 3.8h-4.2zM170 862.7l2.1 3.8h-4.2zM171 862.7l2.1 3.8h-4.2zM172.1 862.7l2.1 3.8h-4.2zM173.1 862.7l2.1 3.8h-4.2zM174.2 862.7l2.1 3.8h-4.2zM175.2 862.7l2.1 3.8h-4.2zM176.2 862.7l2.1 3.8h-4.2zM167.9 876.9l2.1 3.8h-4.2zM168.9 876.9l2.1 3.8h-4.2zM170 876.9l2.1 3.8h-4.2zM171 876.9l2.1 3.8h-4.2zM172.1 876.9l2.1 3.8h-4.2zM173.1 876.9l2.1 3.8h-4.2zM174.2 876.9l2.1 3.8h-4.2zM175.2 876.9l2.1 3.8h-4.2zM176.2 876.9l2.1 3.8h-4.2zM172.1 891.1l2.1 3.8h-4.2z" fill="#F7901E"/>
<path d="M172.1 877.1V867.1M169.2 867.1H174.9M169.2 877.1H174.9" stroke="#F7901E" stroke-width="1.6" fill="none"/>
<path d="M188.6 867.3l2.1 -3.8h-4.2zM184.4 881.5l2.1 -3.8h-4.2zM185.6 881.5l2.1 -3.8h-4.2zM186.8 881.5l2.1 -3.8h-4.2zM188 881.5l2.1 -3.8h-4.2zM189.2 881.5l2.1 -3.8h-4.2zM190.4 881.5l2.1 -3.8h-4.2zM191.6 881.5l2.1 -3.8h-4.2zM192.8 881.5l2.1 -3.8h-4.2zM184.4 895.7l2.1 -3.8h-4.2zM185 895.7l2.1 -3.8h-4.2zM185.6 895.7l2.1 -3.8h-4.2zM186.3 895.7l2.1 -3.8h-4.2zM186.9 895.7l2.1 -3.8h-4.2zM187.6 895.7l2.1 -3.8h-4.2zM188.2 895.7l2.1 -3.8h-4.2zM188.9 895.7l2.1 -3.8h-4.2zM189.5 895.7l2.1 -3.8h-4.2zM190.2 895.7l2.1 -3.8h-4.2zM190.8 895.7l2.1 -3.8h-4.2zM191.5 895.7l2.1 -3.8h-4.2zM192.1 895.7l2.1 -3.8h-4.2zM192.8 895.7l2.1 -3.8h-4.2z" fill="#5C9FEE"/>
<path d="M188.6 895.5V879.9M185.6 879.9H191.5M185.6 895.5H191.5" stroke="#5C9FEE" stroke-width="1.6" fill="none"/>
<path d="M199.4 863.4h3.2v3.2h-3.2zM200.3 863.4h3.2v3.2h-3.2zM201.2 863.4h3.2v3.2h-3.2zM202.2 863.4h3.2v3.2h-3.2zM203.1 863.4h3.2v3.2h-3.2zM204 863.4h3.2v3.2h-3.2zM205 863.4h3.2v3.2h-3.2zM205.9 863.4h3.2v3.2h-3.2zM206.8 863.4h3.2v3.2h-3.2zM207.8 863.4h3.2v3.2h-3.2zM199.4 877.6h3.2v3.2h-3.2zM200.1 877.6h3.2v3.2h-3.2zM200.9 877.6h3.2v3.2h-3.2zM201.7 877.6h3.2v3.2h-3.2zM202.4 877.6h3.2v3.2h-3.2zM203.2 877.6h3.2v3.2h-3.2zM204 877.6h3.2v3.2h-3.2zM204.7 877.6h3.2v3.2h-3.2zM205.5 877.6h3.2v3.2h-3.2zM206.2 877.6h3.2v3.2h-3.2zM207 877.6h3.2v3.2h-3.2zM207.8 877.6h3.2v3.2h-3.2zM203.6 891.8h3.2v3.2h-3.2z" fill="#17976A"/>
<path d="M205.2 885.6V867.1M202.2 867.1H208.1M202.2 885.6H208.1" stroke="#17976A" stroke-width="1.6" fill="none"/>
<path d="M160.8 821.7V936H217" fill="none" stroke="#111" stroke-width="1.5"/>
<path d="M160.8 936H165.8M160.8 907.6H165.8M160.8 879.2H165.8M160.8 850.8H165.8M160.8 822.4H165.8" stroke="#111" stroke-width="1.4"/>
<text x="158.6" y="939.3" font-size="9.6" text-anchor="end" font-weight="bold" fill="#000" >0</text>
<text x="158.6" y="910.9" font-size="9.6" text-anchor="end" font-weight="bold" fill="#000" >2</text>
<text x="158.6" y="882.5" font-size="9.6" text-anchor="end" font-weight="bold" fill="#000" >4</text>
<text x="158.6" y="854.1" font-size="9.6" text-anchor="end" font-weight="bold" fill="#000" >6</text>
<text x="158.6" y="825.7" font-size="9.6" text-anchor="end" font-weight="bold" fill="#000" >8</text>
<path d="M182.1 856L182.1 853.8M182.1 856L184.2 855.3M182.1 856L183.4 857.8M182.1 856L180.8 857.8M182.1 856L180 855.3M189.3 856L189.3 853.8M189.3 856L191.4 855.3M189.3 856L190.6 857.8M189.3 856L188 857.8M189.3 856L187.2 855.3M196.5 856L196.5 853.8M196.5 856L198.6 855.3M196.5 856L197.8 857.8M196.5 856L195.2 857.8M196.5 856L194.4 855.3" stroke="#222" stroke-width="0.9" fill="none"/><path d="M181.2 853.8a0.9 0.9 0 1 0 1.9 0a0.9 0.9 0 1 0 -1.9 0M183.2 855.3a0.9 0.9 0 1 0 1.9 0a0.9 0.9 0 1 0 -1.9 0M182.4 857.8a0.9 0.9 0 1 0 1.9 0a0.9 0.9 0 1 0 -1.9 0M179.9 857.8a0.9 0.9 0 1 0 1.9 0a0.9 0.9 0 1 0 -1.9 0M179.1 855.3a0.9 0.9 0 1 0 1.9 0a0.9 0.9 0 1 0 -1.9 0M188.4 853.8a0.9 0.9 0 1 0 1.9 0a0.9 0.9 0 1 0 -1.9 0M190.4 855.3a0.9 0.9 0 1 0 1.9 0a0.9 0.9 0 1 0 -1.9 0M189.6 857.8a0.9 0.9 0 1 0 1.9 0a0.9 0.9 0 1 0 -1.9 0M187.1 857.8a0.9 0.9 0 1 0 1.9 0a0.9 0.9 0 1 0 -1.9 0M186.3 855.3a0.9 0.9 0 1 0 1.9 0a0.9 0.9 0 1 0 -1.9 0M195.6 853.8a0.9 0.9 0 1 0 1.9 0a0.9 0.9 0 1 0 -1.9 0M197.6 855.3a0.9 0.9 0 1 0 1.9 0a0.9 0.9 0 1 0 -1.9 0M196.8 857.8a0.9 0.9 0 1 0 1.9 0a0.9 0.9 0 1 0 -1.9 0M194.3 857.8a0.9 0.9 0 1 0 1.9 0a0.9 0.9 0 1 0 -1.9 0M193.5 855.3a0.9 0.9 0 1 0 1.9 0a0.9 0.9 0 1 0 -1.9 0" fill="#222"/>
<path d="M197.5 846.9L198.8 838.7M199.5 846.9L200.8 838.7M203.6 846.9L204.9 838.7M205.6 846.9L206.9 838.7M209.7 846.9L211 838.7M211.7 846.9L213 838.7" stroke="#222" stroke-width="1.2" fill="none"/><path d="M196.4 841.7H202M196.4 843.9H202M202.5 841.7H208.1M202.5 843.9H208.1M208.6 841.7H214.2M208.6 843.9H214.2" stroke="#222" stroke-width="0.9" fill="none"/>
<text transform="translate(143.5 876.8) rotate(-90)" x="0" y="0" font-size="11.7" text-anchor="middle" font-weight="bold" dominant-baseline="central">Branch number</text>
<path d="M265.9 936V872.4H276V936" fill="none" stroke="#F7A04A" stroke-width="1.6"/>
<path d="M282.6 936V895.1H292.6V936" fill="none" stroke="#7DB3F2" stroke-width="1.6"/>
<path d="M299.2 936V880.3H309.2V936" fill="none" stroke="#4FAE86" stroke-width="1.6"/>
<path d="M271 843.9l2.1 3.9h-4.3zM271 906.4l2.1 3.9h-4.3zM269.3 886.7l2.1 3.9h-4.3zM271.1 870.9l2.1 3.9h-4.3zM268.6 885.3l2.1 3.9h-4.3zM269.9 886.2l2.1 3.9h-4.3zM271.8 850.9l2.1 3.9h-4.3zM267.9 857.8l2.1 3.9h-4.3zM272.3 873.7l2.1 3.9h-4.3zM266.8 875.5l2.1 3.9h-4.3zM271.2 874.9l2.1 3.9h-4.3zM268.9 862.5l2.1 3.9h-4.3zM266.6 867.1l2.1 3.9h-4.3zM273.1 883.2l2.1 3.9h-4.3zM271.1 867l2.1 3.9h-4.3zM272.1 879.4l2.1 3.9h-4.3zM270.7 881.4l2.1 3.9h-4.3zM274.8 877.7l2.1 3.9h-4.3zM269.6 859.5l2.1 3.9h-4.3zM269.5 886.6l2.1 3.9h-4.3zM273.5 871.2l2.1 3.9h-4.3zM270.1 865.4l2.1 3.9h-4.3zM274.6 863l2.1 3.9h-4.3zM273.4 880.2l2.1 3.9h-4.3zM274.1 861.5l2.1 3.9h-4.3zM270.7 870l2.1 3.9h-4.3zM268.2 857.6l2.1 3.9h-4.3zM272.2 871.6l2.1 3.9h-4.3zM267 868.3l2.1 3.9h-4.3zM269.7 879.8l2.1 3.9h-4.3zM269.3 849.5l2.1 3.9h-4.3zM268.7 874.8l2.1 3.9h-4.3zM273.6 866.5l2.1 3.9h-4.3zM268 867.5l2.1 3.9h-4.3zM269 882.7l2.1 3.9h-4.3zM272.9 875l2.1 3.9h-4.3zM268.4 857.9l2.1 3.9h-4.3zM270.4 856.9l2.1 3.9h-4.3zM275.4 867.8l2.1 3.9h-4.3zM273.2 860.4l2.1 3.9h-4.3zM268.8 878.7l2.1 3.9h-4.3zM270.6 845.6l2.1 3.9h-4.3zM268.2 859.1l2.1 3.9h-4.3zM273.9 884.3l2.1 3.9h-4.3zM273.5 867.9l2.1 3.9h-4.3zM269.7 860.7l2.1 3.9h-4.3zM267 871.5l2.1 3.9h-4.3zM271.7 865.4l2.1 3.9h-4.3z" fill="#F7901E"/>
<path d="M287.6 864.5l2.1 -3.9h-4.3zM287.6 914.5l2.1 -3.9h-4.3zM286.1 887.5l2.1 -3.9h-4.3zM290.6 896.8l2.1 -3.9h-4.3zM288.1 902.5l2.1 -3.9h-4.3zM288.5 910.3l2.1 -3.9h-4.3zM285 890.7l2.1 -3.9h-4.3zM290.4 888.7l2.1 -3.9h-4.3zM285.9 879.8l2.1 -3.9h-4.3zM289 890.6l2.1 -3.9h-4.3zM290.4 902.8l2.1 -3.9h-4.3zM284.3 888.5l2.1 -3.9h-4.3zM287.6 876.4l2.1 -3.9h-4.3zM284.7 889l2.1 -3.9h-4.3zM286.6 872.7l2.1 -3.9h-4.3zM286.9 899.4l2.1 -3.9h-4.3zM288.6 891.6l2.1 -3.9h-4.3zM285 890.8l2.1 -3.9h-4.3zM284.4 898.5l2.1 -3.9h-4.3zM290.4 900.6l2.1 -3.9h-4.3zM288.3 906.1l2.1 -3.9h-4.3zM287.4 891.2l2.1 -3.9h-4.3zM289.7 899.3l2.1 -3.9h-4.3zM292 895.7l2.1 -3.9h-4.3zM286.9 882.5l2.1 -3.9h-4.3zM286.3 899.7l2.1 -3.9h-4.3zM284.5 903l2.1 -3.9h-4.3zM286.2 911.7l2.1 -3.9h-4.3zM289.9 905.4l2.1 -3.9h-4.3zM287.6 888.2l2.1 -3.9h-4.3zM287.3 878.7l2.1 -3.9h-4.3zM287.8 894.1l2.1 -3.9h-4.3zM286.6 895.5l2.1 -3.9h-4.3zM289.3 886.8l2.1 -3.9h-4.3zM285.5 887.1l2.1 -3.9h-4.3zM289 889.7l2.1 -3.9h-4.3zM286.5 889.4l2.1 -3.9h-4.3zM288.9 895.5l2.1 -3.9h-4.3zM285.8 886.7l2.1 -3.9h-4.3zM285.7 893.8l2.1 -3.9h-4.3zM287.4 893.6l2.1 -3.9h-4.3zM291 891.5l2.1 -3.9h-4.3zM286.3 899.1l2.1 -3.9h-4.3zM290.8 891.1l2.1 -3.9h-4.3zM285.3 881.7l2.1 -3.9h-4.3zM286.1 899.4l2.1 -3.9h-4.3zM286.6 880l2.1 -3.9h-4.3zM288.7 894.5l2.1 -3.9h-4.3z" fill="#5C9FEE"/>
<path d="M302.6 849.2h3.2v3.2h-3.2zM302.6 904.9h3.2v3.2h-3.2zM299.4 874h3.2v3.2h-3.2zM300.5 869.3h3.2v3.2h-3.2zM302.9 878.2h3.2v3.2h-3.2zM300.3 884.2h3.2v3.2h-3.2zM305.6 881.3h3.2v3.2h-3.2zM303.3 864.8h3.2v3.2h-3.2zM300 867.6h3.2v3.2h-3.2zM306.2 876.7h3.2v3.2h-3.2zM305.1 869.3h3.2v3.2h-3.2zM303.6 898.6h3.2v3.2h-3.2zM301.6 856.5h3.2v3.2h-3.2zM305.4 884.5h3.2v3.2h-3.2zM302.9 898.5h3.2v3.2h-3.2zM301.9 875.8h3.2v3.2h-3.2zM301.2 886.3h3.2v3.2h-3.2zM299.8 867.6h3.2v3.2h-3.2zM306.2 868.1h3.2v3.2h-3.2zM303.4 897.8h3.2v3.2h-3.2zM300.9 897.2h3.2v3.2h-3.2zM304 884.5h3.2v3.2h-3.2zM300.2 884.9h3.2v3.2h-3.2zM302.8 874.9h3.2v3.2h-3.2zM303.6 877.9h3.2v3.2h-3.2zM301.9 863.7h3.2v3.2h-3.2zM300.7 867.7h3.2v3.2h-3.2zM300.7 867h3.2v3.2h-3.2zM298.8 873.5h3.2v3.2h-3.2zM303.6 866.4h3.2v3.2h-3.2zM304 865.7h3.2v3.2h-3.2zM306.5 881.2h3.2v3.2h-3.2zM305.1 870.9h3.2v3.2h-3.2zM305.8 875.7h3.2v3.2h-3.2zM301.8 882.3h3.2v3.2h-3.2zM305.7 883.2h3.2v3.2h-3.2zM301 860.6h3.2v3.2h-3.2zM304.7 892.4h3.2v3.2h-3.2zM300.4 891.6h3.2v3.2h-3.2zM305.4 863.5h3.2v3.2h-3.2zM301 893.5h3.2v3.2h-3.2zM303.4 889.7h3.2v3.2h-3.2zM301.8 892.2h3.2v3.2h-3.2zM304.3 885.7h3.2v3.2h-3.2zM299.8 883.3h3.2v3.2h-3.2zM304 868.8h3.2v3.2h-3.2zM299.1 870.8h3.2v3.2h-3.2zM303.8 871.8h3.2v3.2h-3.2z" fill="#17976A"/>
<path d="M259.5 821.7V936H319.5" fill="none" stroke="#111" stroke-width="1.5"/>
<path d="M259.5 936H264.5M259.5 913.3H264.5M259.5 890.6H264.5M259.5 867.8H264.5M259.5 845.1H264.5M259.5 822.4H264.5" stroke="#111" stroke-width="1.4"/>
<text x="257.3" y="939.3" font-size="9.6" text-anchor="end" font-weight="bold" fill="#000" >0</text>
<text x="257.3" y="916.5" font-size="9.6" text-anchor="end" font-weight="bold" fill="#000" >100</text>
<text x="257.3" y="893.8" font-size="9.6" text-anchor="end" font-weight="bold" fill="#000" >200</text>
<text x="257.3" y="871.1" font-size="9.6" text-anchor="end" font-weight="bold" fill="#000" >300</text>
<text x="257.3" y="848.4" font-size="9.6" text-anchor="end" font-weight="bold" fill="#000" >400</text>
<text x="257.3" y="825.7" font-size="9.6" text-anchor="end" font-weight="bold" fill="#000" >500</text>
<path d="M281 854.9L281 852.7M281 854.9L283.1 854.2M281 854.9L282.3 856.7M281 854.9L279.7 856.7M281 854.9L278.9 854.2M288.2 854.9L288.2 852.7M288.2 854.9L290.3 854.2M288.2 854.9L289.5 856.7M288.2 854.9L286.9 856.7M288.2 854.9L286.1 854.2M295.4 854.9L295.4 852.7M295.4 854.9L297.5 854.2M295.4 854.9L296.7 856.7M295.4 854.9L294.1 856.7M295.4 854.9L293.3 854.2" stroke="#222" stroke-width="0.9" fill="none"/><path d="M280.1 852.7a0.9 0.9 0 1 0 1.9 0a0.9 0.9 0 1 0 -1.9 0M282.1 854.2a0.9 0.9 0 1 0 1.9 0a0.9 0.9 0 1 0 -1.9 0M281.3 856.7a0.9 0.9 0 1 0 1.9 0a0.9 0.9 0 1 0 -1.9 0M278.8 856.7a0.9 0.9 0 1 0 1.9 0a0.9 0.9 0 1 0 -1.9 0M278 854.2a0.9 0.9 0 1 0 1.9 0a0.9 0.9 0 1 0 -1.9 0M287.3 852.7a0.9 0.9 0 1 0 1.9 0a0.9 0.9 0 1 0 -1.9 0M289.3 854.2a0.9 0.9 0 1 0 1.9 0a0.9 0.9 0 1 0 -1.9 0M288.5 856.7a0.9 0.9 0 1 0 1.9 0a0.9 0.9 0 1 0 -1.9 0M286 856.7a0.9 0.9 0 1 0 1.9 0a0.9 0.9 0 1 0 -1.9 0M285.2 854.2a0.9 0.9 0 1 0 1.9 0a0.9 0.9 0 1 0 -1.9 0M294.5 852.7a0.9 0.9 0 1 0 1.9 0a0.9 0.9 0 1 0 -1.9 0M296.5 854.2a0.9 0.9 0 1 0 1.9 0a0.9 0.9 0 1 0 -1.9 0M295.7 856.7a0.9 0.9 0 1 0 1.9 0a0.9 0.9 0 1 0 -1.9 0M293.2 856.7a0.9 0.9 0 1 0 1.9 0a0.9 0.9 0 1 0 -1.9 0M292.4 854.2a0.9 0.9 0 1 0 1.9 0a0.9 0.9 0 1 0 -1.9 0" fill="#222"/>
<path d="M296.3 840.7L297.6 832.5M298.3 840.7L299.6 832.5M302.4 840.7L303.7 832.5M304.4 840.7L305.7 832.5M308.5 840.7L309.8 832.5M310.5 840.7L311.8 832.5" stroke="#222" stroke-width="1.2" fill="none"/><path d="M295.2 835.5H300.8M295.2 837.7H300.8M301.3 835.5H306.9M301.3 837.7H306.9M307.4 835.5H313M307.4 837.7H313" stroke="#222" stroke-width="0.9" fill="none"/>
<text transform="translate(233.6 876) rotate(-90)" x="0" y="0" font-size="11.7" text-anchor="middle" font-weight="bold" dominant-baseline="central">Total branch length (μm)</text>
<path d="M365 935.3V889.3H375V935.3" fill="none" stroke="#F7A04A" stroke-width="1.6"/>
<path d="M382.1 935.3V907H392V935.3" fill="none" stroke="#7DB3F2" stroke-width="1.6"/>
<path d="M398.6 935.3V899.5H408.5V935.3" fill="none" stroke="#4FAE86" stroke-width="1.6"/>
<path d="M370 840.7l2.1 3.9h-4.3zM370 914.1l2.1 3.9h-4.3zM372.7 883.4l2.1 3.9h-4.3zM370 864.2l2.1 3.9h-4.3zM366.3 899.1l2.1 3.9h-4.3zM368.7 889.1l2.1 3.9h-4.3zM372.6 893.3l2.1 3.9h-4.3zM367.5 891.5l2.1 3.9h-4.3zM374.9 888.3l2.1 3.9h-4.3zM372.1 884.6l2.1 3.9h-4.3zM366.9 874.9l2.1 3.9h-4.3zM368.9 902.5l2.1 3.9h-4.3zM373.7 895.7l2.1 3.9h-4.3zM368.7 888.6l2.1 3.9h-4.3zM367.6 874.1l2.1 3.9h-4.3zM372 867.2l2.1 3.9h-4.3zM369.1 905.8l2.1 3.9h-4.3zM369.9 883.5l2.1 3.9h-4.3zM373.5 887.2l2.1 3.9h-4.3zM367.6 885.1l2.1 3.9h-4.3zM374.5 886.9l2.1 3.9h-4.3zM373 898.2l2.1 3.9h-4.3zM370.8 888l2.1 3.9h-4.3zM370.9 912.7l2.1 3.9h-4.3zM372.3 877.2l2.1 3.9h-4.3zM367.8 877.5l2.1 3.9h-4.3zM369.7 862.6l2.1 3.9h-4.3zM369.1 902.4l2.1 3.9h-4.3zM373.3 902l2.1 3.9h-4.3zM369 884.5l2.1 3.9h-4.3zM371.8 882.6l2.1 3.9h-4.3zM374.8 887.7l2.1 3.9h-4.3zM370.3 905.1l2.1 3.9h-4.3zM372.5 888.3l2.1 3.9h-4.3zM370.5 885.3l2.1 3.9h-4.3zM370.6 869.7l2.1 3.9h-4.3zM368.6 885.1l2.1 3.9h-4.3zM373.4 880.9l2.1 3.9h-4.3zM368.6 899.6l2.1 3.9h-4.3zM367.6 873.1l2.1 3.9h-4.3zM371.1 865l2.1 3.9h-4.3zM369.1 878.3l2.1 3.9h-4.3zM373.1 897.3l2.1 3.9h-4.3zM372.4 908.1l2.1 3.9h-4.3zM371.9 865.3l2.1 3.9h-4.3zM370 913.4l2.1 3.9h-4.3zM369.2 904.5l2.1 3.9h-4.3zM366.7 888.2l2.1 3.9h-4.3z" fill="#F7901E"/>
<path d="M387.1 881.1l2.1 -3.9h-4.3zM387.1 925.4l2.1 -3.9h-4.3zM388.5 907.8l2.1 -3.9h-4.3zM385.8 905.9l2.1 -3.9h-4.3zM390.7 905.2l2.1 -3.9h-4.3zM385.5 912.9l2.1 -3.9h-4.3zM387.7 923.4l2.1 -3.9h-4.3zM389.2 919.7l2.1 -3.9h-4.3zM390.8 910l2.1 -3.9h-4.3zM387.9 911.7l2.1 -3.9h-4.3zM390.3 911.2l2.1 -3.9h-4.3zM387.7 904.8l2.1 -3.9h-4.3zM389.1 897.4l2.1 -3.9h-4.3zM387.6 914.3l2.1 -3.9h-4.3zM385 912.7l2.1 -3.9h-4.3zM389.5 919.2l2.1 -3.9h-4.3zM390.5 914.4l2.1 -3.9h-4.3zM387.7 897.2l2.1 -3.9h-4.3zM388 900.6l2.1 -3.9h-4.3zM385.5 898.4l2.1 -3.9h-4.3zM384.3 900.5l2.1 -3.9h-4.3zM390.7 906.6l2.1 -3.9h-4.3zM386.5 918.5l2.1 -3.9h-4.3zM388.6 909.7l2.1 -3.9h-4.3zM386.1 903.8l2.1 -3.9h-4.3zM387.8 912.6l2.1 -3.9h-4.3zM387.4 912.3l2.1 -3.9h-4.3zM386.7 899.7l2.1 -3.9h-4.3zM383.8 913.7l2.1 -3.9h-4.3zM390.1 917.6l2.1 -3.9h-4.3zM386.3 914.3l2.1 -3.9h-4.3zM390.1 903.1l2.1 -3.9h-4.3zM386.5 900.8l2.1 -3.9h-4.3zM383.5 912l2.1 -3.9h-4.3zM387.4 905.7l2.1 -3.9h-4.3zM385.7 912.2l2.1 -3.9h-4.3zM384.4 912.7l2.1 -3.9h-4.3zM383.8 903.1l2.1 -3.9h-4.3zM387.6 922.5l2.1 -3.9h-4.3zM384.5 912.3l2.1 -3.9h-4.3zM386.2 910.2l2.1 -3.9h-4.3zM390 911.7l2.1 -3.9h-4.3zM389.3 902l2.1 -3.9h-4.3zM387 913.4l2.1 -3.9h-4.3zM389.7 919.2l2.1 -3.9h-4.3zM389.3 910.9l2.1 -3.9h-4.3zM387.7 921.3l2.1 -3.9h-4.3zM385.7 907.3l2.1 -3.9h-4.3z" fill="#5C9FEE"/>
<path d="M401.9 864h3.2v3.2h-3.2zM401.9 910.1h3.2v3.2h-3.2zM402.1 898.7h3.2v3.2h-3.2zM399 895.8h3.2v3.2h-3.2zM399.5 886.7h3.2v3.2h-3.2zM401.6 880.8h3.2v3.2h-3.2zM403.7 886.4h3.2v3.2h-3.2zM401.2 889.8h3.2v3.2h-3.2zM401.3 905.7h3.2v3.2h-3.2zM397.7 891.6h3.2v3.2h-3.2zM403.4 887.8h3.2v3.2h-3.2zM402.6 902.7h3.2v3.2h-3.2zM403.7 881.6h3.2v3.2h-3.2zM400.7 892h3.2v3.2h-3.2zM400.9 902.8h3.2v3.2h-3.2zM398.7 896.4h3.2v3.2h-3.2zM402.3 905.2h3.2v3.2h-3.2zM401.5 887.9h3.2v3.2h-3.2zM399.2 894.1h3.2v3.2h-3.2zM400.5 895h3.2v3.2h-3.2zM398.4 887.9h3.2v3.2h-3.2zM398.8 896.1h3.2v3.2h-3.2zM402.5 883h3.2v3.2h-3.2zM404.9 888.5h3.2v3.2h-3.2zM400.2 894.8h3.2v3.2h-3.2zM400.6 882.5h3.2v3.2h-3.2zM399.7 888.3h3.2v3.2h-3.2zM399.7 902.1h3.2v3.2h-3.2zM404.8 887.3h3.2v3.2h-3.2zM400.7 904.8h3.2v3.2h-3.2zM402.7 896.3h3.2v3.2h-3.2zM405.7 885h3.2v3.2h-3.2zM397.8 892.3h3.2v3.2h-3.2zM404.8 892.1h3.2v3.2h-3.2zM403.7 889.3h3.2v3.2h-3.2zM403.6 873.6h3.2v3.2h-3.2zM402.3 893.2h3.2v3.2h-3.2zM401.3 874.8h3.2v3.2h-3.2zM406.5 891.5h3.2v3.2h-3.2zM398.4 894.8h3.2v3.2h-3.2zM401.7 886.1h3.2v3.2h-3.2zM405.2 883.2h3.2v3.2h-3.2zM401.2 869.7h3.2v3.2h-3.2zM399.8 881.2h3.2v3.2h-3.2zM402.3 883.4h3.2v3.2h-3.2zM401.2 887.6h3.2v3.2h-3.2zM405 897h3.2v3.2h-3.2zM404.7 898.5h3.2v3.2h-3.2z" fill="#17976A"/>
<path d="M358.7 821.6V935.3H415" fill="none" stroke="#111" stroke-width="1.5"/>
<path d="M358.7 935.3H363.7M358.7 897.6H363.7M358.7 860H363.7M358.7 822.3H363.7" stroke="#111" stroke-width="1.4"/>
<text x="356.5" y="938.6" font-size="9.6" text-anchor="end" font-weight="bold" fill="#000" >0</text>
<text x="356.5" y="900.9" font-size="9.6" text-anchor="end" font-weight="bold" fill="#000" >400</text>
<text x="356.5" y="863.2" font-size="9.6" text-anchor="end" font-weight="bold" fill="#000" >800</text>
<text x="356.5" y="825.6" font-size="9.6" text-anchor="end" font-weight="bold" fill="#000" >1200</text>
<path d="M379.7 869.6L379.7 867.4M379.7 869.6L381.8 868.9M379.7 869.6L381 871.4M379.7 869.6L378.4 871.4M379.7 869.6L377.6 868.9M386.9 869.6L386.9 867.4M386.9 869.6L389 868.9M386.9 869.6L388.2 871.4M386.9 869.6L385.6 871.4M386.9 869.6L384.8 868.9M394.1 869.6L394.1 867.4M394.1 869.6L396.2 868.9M394.1 869.6L395.4 871.4M394.1 869.6L392.8 871.4M394.1 869.6L392 868.9" stroke="#222" stroke-width="0.9" fill="none"/><path d="M378.8 867.4a0.9 0.9 0 1 0 1.9 0a0.9 0.9 0 1 0 -1.9 0M380.8 868.9a0.9 0.9 0 1 0 1.9 0a0.9 0.9 0 1 0 -1.9 0M380 871.4a0.9 0.9 0 1 0 1.9 0a0.9 0.9 0 1 0 -1.9 0M377.5 871.4a0.9 0.9 0 1 0 1.9 0a0.9 0.9 0 1 0 -1.9 0M376.7 868.9a0.9 0.9 0 1 0 1.9 0a0.9 0.9 0 1 0 -1.9 0M386 867.4a0.9 0.9 0 1 0 1.9 0a0.9 0.9 0 1 0 -1.9 0M388 868.9a0.9 0.9 0 1 0 1.9 0a0.9 0.9 0 1 0 -1.9 0M387.2 871.4a0.9 0.9 0 1 0 1.9 0a0.9 0.9 0 1 0 -1.9 0M384.7 871.4a0.9 0.9 0 1 0 1.9 0a0.9 0.9 0 1 0 -1.9 0M383.9 868.9a0.9 0.9 0 1 0 1.9 0a0.9 0.9 0 1 0 -1.9 0M393.2 867.4a0.9 0.9 0 1 0 1.9 0a0.9 0.9 0 1 0 -1.9 0M395.2 868.9a0.9 0.9 0 1 0 1.9 0a0.9 0.9 0 1 0 -1.9 0M394.4 871.4a0.9 0.9 0 1 0 1.9 0a0.9 0.9 0 1 0 -1.9 0M391.9 871.4a0.9 0.9 0 1 0 1.9 0a0.9 0.9 0 1 0 -1.9 0M391.1 868.9a0.9 0.9 0 1 0 1.9 0a0.9 0.9 0 1 0 -1.9 0" fill="#222"/>
<path d="M397.3 858.8L398.6 850.6M399.3 858.8L400.6 850.6M403.4 858.8L404.7 850.6M405.4 858.8L406.7 850.6M409.5 858.8L410.8 850.6M411.5 858.8L412.8 850.6" stroke="#222" stroke-width="1.2" fill="none"/><path d="M396.2 853.6H401.8M396.2 855.8H401.8M402.3 853.6H407.9M402.3 855.8H407.9M408.4 853.6H414M408.4 855.8H414" stroke="#222" stroke-width="0.9" fill="none"/>
<text transform="translate(329.9 877) rotate(-90)" x="0" y="0" font-size="11.7" text-anchor="middle" font-weight="bold" dominant-baseline="central">Total branch volume (μm<tspan font-size="7.5" dy="-4">3</tspan><tspan dy="4">)</tspan></text>
<path d="M474.1 936V903.1H484.1V936" fill="none" stroke="#F7A04A" stroke-width="1.6"/>
<path d="M491.2 936V884.7H501V936" fill="none" stroke="#7DB3F2" stroke-width="1.6"/>
<path d="M508.1 936V909.4H518V936" fill="none" stroke="#4FAE86" stroke-width="1.6"/>
<path d="M479.1 882.6l2.1 3.9h-4.3zM479.1 921.2l2.1 3.9h-4.3zM476.7 899.4l2.1 3.9h-4.3zM481.3 899l2.1 3.9h-4.3zM480.2 894.1l2.1 3.9h-4.3zM477.1 891.5l2.1 3.9h-4.3zM478.6 910.4l2.1 3.9h-4.3zM483.6 903.8l2.1 3.9h-4.3zM483.2 900.6l2.1 3.9h-4.3zM478.2 901l2.1 3.9h-4.3zM477.9 899.7l2.1 3.9h-4.3zM482.3 895.2l2.1 3.9h-4.3zM479.9 900.6l2.1 3.9h-4.3zM479.5 896.5l2.1 3.9h-4.3zM478.6 887.4l2.1 3.9h-4.3zM476.7 906.3l2.1 3.9h-4.3zM477 889.6l2.1 3.9h-4.3zM480.5 903.4l2.1 3.9h-4.3zM478.3 917.8l2.1 3.9h-4.3zM476.5 898.2l2.1 3.9h-4.3zM479.7 914.2l2.1 3.9h-4.3zM477.5 901.5l2.1 3.9h-4.3zM477.6 899.7l2.1 3.9h-4.3zM481.1 911l2.1 3.9h-4.3zM482.3 895l2.1 3.9h-4.3zM481.5 905.6l2.1 3.9h-4.3zM480.2 903.6l2.1 3.9h-4.3zM479.5 897.3l2.1 3.9h-4.3zM476.2 903.5l2.1 3.9h-4.3zM482.7 905.1l2.1 3.9h-4.3zM476.8 911.8l2.1 3.9h-4.3zM478.4 909.2l2.1 3.9h-4.3zM481.9 892.2l2.1 3.9h-4.3zM476.9 908.1l2.1 3.9h-4.3zM478.9 915.6l2.1 3.9h-4.3zM481.5 897.9l2.1 3.9h-4.3zM475.7 905.6l2.1 3.9h-4.3zM483.6 903.4l2.1 3.9h-4.3zM477.7 898.1l2.1 3.9h-4.3zM480.9 898.4l2.1 3.9h-4.3zM479.1 896.4l2.1 3.9h-4.3zM481.1 909.1l2.1 3.9h-4.3zM480.2 903.3l2.1 3.9h-4.3zM480 894.4l2.1 3.9h-4.3zM476.1 898.2l2.1 3.9h-4.3zM481.3 901l2.1 3.9h-4.3zM480.9 909.4l2.1 3.9h-4.3zM483.9 902.3l2.1 3.9h-4.3z" fill="#F7901E"/>
<path d="M496.1 850.4l2.1 -3.9h-4.3zM496.1 911.1l2.1 -3.9h-4.3zM494.3 906.5l2.1 -3.9h-4.3zM496.2 888l2.1 -3.9h-4.3zM499.5 880.8l2.1 -3.9h-4.3zM498.6 899.9l2.1 -3.9h-4.3zM498.6 888.7l2.1 -3.9h-4.3zM492.4 888.1l2.1 -3.9h-4.3zM497.6 870.1l2.1 -3.9h-4.3zM499.4 887.3l2.1 -3.9h-4.3zM492.9 881.1l2.1 -3.9h-4.3zM492.6 890.6l2.1 -3.9h-4.3zM493.3 883l2.1 -3.9h-4.3zM491.4 889.2l2.1 -3.9h-4.3zM494.8 885.4l2.1 -3.9h-4.3zM492.8 887.5l2.1 -3.9h-4.3zM493.8 898l2.1 -3.9h-4.3zM496.9 864.2l2.1 -3.9h-4.3zM496.8 889.5l2.1 -3.9h-4.3zM497.6 903.1l2.1 -3.9h-4.3zM494.8 895.4l2.1 -3.9h-4.3zM493.9 892.7l2.1 -3.9h-4.3zM495.8 868.8l2.1 -3.9h-4.3zM498.1 876.7l2.1 -3.9h-4.3zM495.6 883l2.1 -3.9h-4.3zM491.9 889.9l2.1 -3.9h-4.3zM497.5 893.2l2.1 -3.9h-4.3zM495.3 879.2l2.1 -3.9h-4.3zM493.3 885.6l2.1 -3.9h-4.3zM500.4 887.1l2.1 -3.9h-4.3zM498 888.1l2.1 -3.9h-4.3zM498.9 875.8l2.1 -3.9h-4.3zM499.3 892.4l2.1 -3.9h-4.3zM496.2 898.6l2.1 -3.9h-4.3zM494.1 897.8l2.1 -3.9h-4.3zM494.3 901.4l2.1 -3.9h-4.3zM498.2 875.7l2.1 -3.9h-4.3zM497.8 903.8l2.1 -3.9h-4.3zM497.5 889.4l2.1 -3.9h-4.3zM492 882.9l2.1 -3.9h-4.3zM492.3 881.9l2.1 -3.9h-4.3zM498.7 873.9l2.1 -3.9h-4.3zM498.5 893l2.1 -3.9h-4.3zM498.8 900.3l2.1 -3.9h-4.3zM496 861.3l2.1 -3.9h-4.3zM493.6 879.8l2.1 -3.9h-4.3zM495 883.5l2.1 -3.9h-4.3zM498.6 872.9l2.1 -3.9h-4.3z" fill="#5C9FEE"/>
<path d="M511.4 867.5h3.2v3.2h-3.2zM511.4 920.2h3.2v3.2h-3.2zM513.8 914.6h3.2v3.2h-3.2zM510.2 918.5h3.2v3.2h-3.2zM511.5 911.3h3.2v3.2h-3.2zM514.3 913.9h3.2v3.2h-3.2zM514.2 913.4h3.2v3.2h-3.2zM512.7 906.4h3.2v3.2h-3.2zM511.4 907.1h3.2v3.2h-3.2zM508.2 898.4h3.2v3.2h-3.2zM511 915h3.2v3.2h-3.2zM513.7 913h3.2v3.2h-3.2zM512.5 895.8h3.2v3.2h-3.2zM508.4 909.3h3.2v3.2h-3.2zM510.9 884.1h3.2v3.2h-3.2zM509.5 897.2h3.2v3.2h-3.2zM509.4 894.4h3.2v3.2h-3.2zM510.3 912.9h3.2v3.2h-3.2zM506.6 904.6h3.2v3.2h-3.2zM511.6 898.6h3.2v3.2h-3.2zM508.7 907.6h3.2v3.2h-3.2zM508.8 897.4h3.2v3.2h-3.2zM512.2 889.1h3.2v3.2h-3.2zM511.9 901.6h3.2v3.2h-3.2zM508.2 901.7h3.2v3.2h-3.2zM509.9 901.7h3.2v3.2h-3.2zM509.2 898.9h3.2v3.2h-3.2zM508.7 902.6h3.2v3.2h-3.2zM511.2 909.9h3.2v3.2h-3.2zM510.5 912.1h3.2v3.2h-3.2zM510.7 918.4h3.2v3.2h-3.2zM507.8 908.3h3.2v3.2h-3.2zM513.3 912.6h3.2v3.2h-3.2zM507.7 904h3.2v3.2h-3.2zM511.8 903.9h3.2v3.2h-3.2zM510.9 905.9h3.2v3.2h-3.2zM512.9 911.5h3.2v3.2h-3.2zM510.3 889.6h3.2v3.2h-3.2zM509 915.8h3.2v3.2h-3.2zM507.4 904.6h3.2v3.2h-3.2zM511.2 915.2h3.2v3.2h-3.2zM510.9 912.6h3.2v3.2h-3.2zM514.2 911.1h3.2v3.2h-3.2zM516 905.2h3.2v3.2h-3.2zM510.5 906.5h3.2v3.2h-3.2zM514.4 904.7h3.2v3.2h-3.2zM508.5 906.6h3.2v3.2h-3.2zM513.2 901.6h3.2v3.2h-3.2z" fill="#17976A"/>
<path d="M467.8 821.9V936H524.2" fill="none" stroke="#111" stroke-width="1.5"/>
<path d="M467.8 936H472.8M467.8 907.6H472.8M467.8 879.3H472.8M467.8 851H472.8M467.8 822.6H472.8" stroke="#111" stroke-width="1.4"/>
<text x="465.6" y="939.3" font-size="9.6" text-anchor="end" font-weight="bold" fill="#000" >0</text>
<text x="465.6" y="910.9" font-size="9.6" text-anchor="end" font-weight="bold" fill="#000" >500</text>
<text x="465.6" y="882.6" font-size="9.6" text-anchor="end" font-weight="bold" fill="#000" >1000</text>
<text x="465.6" y="854.2" font-size="9.6" text-anchor="end" font-weight="bold" fill="#000" >1500</text>
<text x="465.6" y="825.9" font-size="9.6" text-anchor="end" font-weight="bold" fill="#000" >2000</text>
<path d="M489.2 838.6L489.2 836.4M489.2 838.6L491.3 837.9M489.2 838.6L490.5 840.4M489.2 838.6L487.9 840.4M489.2 838.6L487.1 837.9M496.4 838.6L496.4 836.4M496.4 838.6L498.5 837.9M496.4 838.6L497.7 840.4M496.4 838.6L495.1 840.4M496.4 838.6L494.3 837.9M503.6 838.6L503.6 836.4M503.6 838.6L505.7 837.9M503.6 838.6L504.9 840.4M503.6 838.6L502.3 840.4M503.6 838.6L501.5 837.9" stroke="#222" stroke-width="0.9" fill="none"/><path d="M488.3 836.4a0.9 0.9 0 1 0 1.9 0a0.9 0.9 0 1 0 -1.9 0M490.3 837.9a0.9 0.9 0 1 0 1.9 0a0.9 0.9 0 1 0 -1.9 0M489.5 840.4a0.9 0.9 0 1 0 1.9 0a0.9 0.9 0 1 0 -1.9 0M487 840.4a0.9 0.9 0 1 0 1.9 0a0.9 0.9 0 1 0 -1.9 0M486.2 837.9a0.9 0.9 0 1 0 1.9 0a0.9 0.9 0 1 0 -1.9 0M495.5 836.4a0.9 0.9 0 1 0 1.9 0a0.9 0.9 0 1 0 -1.9 0M497.5 837.9a0.9 0.9 0 1 0 1.9 0a0.9 0.9 0 1 0 -1.9 0M496.7 840.4a0.9 0.9 0 1 0 1.9 0a0.9 0.9 0 1 0 -1.9 0M494.2 840.4a0.9 0.9 0 1 0 1.9 0a0.9 0.9 0 1 0 -1.9 0M493.4 837.9a0.9 0.9 0 1 0 1.9 0a0.9 0.9 0 1 0 -1.9 0M502.7 836.4a0.9 0.9 0 1 0 1.9 0a0.9 0.9 0 1 0 -1.9 0M504.7 837.9a0.9 0.9 0 1 0 1.9 0a0.9 0.9 0 1 0 -1.9 0M503.9 840.4a0.9 0.9 0 1 0 1.9 0a0.9 0.9 0 1 0 -1.9 0M501.4 840.4a0.9 0.9 0 1 0 1.9 0a0.9 0.9 0 1 0 -1.9 0M500.6 837.9a0.9 0.9 0 1 0 1.9 0a0.9 0.9 0 1 0 -1.9 0" fill="#222"/>
<path d="M505.6 863L506.9 854.8M507.6 863L508.9 854.8M511.7 863L513 854.8M513.7 863L515 854.8M517.8 863L519.1 854.8M519.8 863L521.1 854.8" stroke="#222" stroke-width="1.2" fill="none"/><path d="M504.5 857.8H510.1M504.5 860H510.1M510.6 857.8H516.2M510.6 860H516.2M516.7 857.8H522.3M516.7 860H522.3" stroke="#222" stroke-width="0.9" fill="none"/>
<text transform="translate(436.4 875.6) rotate(-90)" x="0" y="0" font-size="11.7" text-anchor="middle" font-weight="bold" dominant-baseline="central">Soma volume (μm<tspan font-size="7.5" dy="-4">3</tspan><tspan dy="4">)</tspan></text>
<path d="M561.4 935.7V883.7H571.7V935.7" fill="none" stroke="#F7A04A" stroke-width="1.6"/>
<path d="M578.3 935.7V864.4H588.2V935.7" fill="none" stroke="#7DB3F2" stroke-width="1.6"/>
<path d="M595.4 935.7V879.2H605.3V935.7" fill="none" stroke="#4FAE86" stroke-width="1.6"/>
<path d="M566.5 865.6l2.1 3.8h-4.2zM562.3 876.9l2.1 3.8h-4.2zM563.3 876.9l2.1 3.8h-4.2zM564.2 876.9l2.1 3.8h-4.2zM565.1 876.9l2.1 3.8h-4.2zM566.1 876.9l2.1 3.8h-4.2zM567 876.9l2.1 3.8h-4.2zM567.9 876.9l2.1 3.8h-4.2zM568.9 876.9l2.1 3.8h-4.2zM569.8 876.9l2.1 3.8h-4.2zM570.8 876.9l2.1 3.8h-4.2zM562.3 888.2l2.1 3.8h-4.2zM563.5 888.2l2.1 3.8h-4.2zM564.8 888.2l2.1 3.8h-4.2zM565.9 888.2l2.1 3.8h-4.2zM567.1 888.2l2.1 3.8h-4.2zM568.3 888.2l2.1 3.8h-4.2zM569.5 888.2l2.1 3.8h-4.2zM570.8 888.2l2.1 3.8h-4.2zM566.5 899.5l2.1 3.8h-4.2z" fill="#F7901E"/>
<path d="M566.5 890.5V876.9M563.6 876.9H569.5M563.6 890.5H569.5" stroke="#F7901E" stroke-width="1.6" fill="none"/>
<path d="M583.2 836.2l2.1 -3.8h-4.2zM579 847.5l2.1 -3.8h-4.2zM580.2 847.5l2.1 -3.8h-4.2zM581.5 847.5l2.1 -3.8h-4.2zM582.6 847.5l2.1 -3.8h-4.2zM583.9 847.5l2.1 -3.8h-4.2zM585 847.5l2.1 -3.8h-4.2zM586.2 847.5l2.1 -3.8h-4.2zM587.5 847.5l2.1 -3.8h-4.2zM583.2 858.8l2.1 -3.8h-4.2zM579 870.1l2.1 -3.8h-4.2zM580.7 870.1l2.1 -3.8h-4.2zM582.4 870.1l2.1 -3.8h-4.2zM584.1 870.1l2.1 -3.8h-4.2zM585.8 870.1l2.1 -3.8h-4.2zM587.5 870.1l2.1 -3.8h-4.2zM579 881.4l2.1 -3.8h-4.2zM580 881.4l2.1 -3.8h-4.2zM580.9 881.4l2.1 -3.8h-4.2zM581.9 881.4l2.1 -3.8h-4.2zM582.8 881.4l2.1 -3.8h-4.2zM583.7 881.4l2.1 -3.8h-4.2zM584.6 881.4l2.1 -3.8h-4.2zM585.6 881.4l2.1 -3.8h-4.2zM586.5 881.4l2.1 -3.8h-4.2zM587.5 881.4l2.1 -3.8h-4.2zM583.2 892.7l2.1 -3.8h-4.2z" fill="#5C9FEE"/>
<path d="M583.2 879.2V848.6M580.4 848.6H586.1M580.4 879.2H586.1" stroke="#5C9FEE" stroke-width="1.6" fill="none"/>
<path d="M598.8 866.3h3.2v3.2h-3.2zM594.6 877.6h3.2v3.2h-3.2zM595.3 877.6h3.2v3.2h-3.2zM596.1 877.6h3.2v3.2h-3.2zM596.9 877.6h3.2v3.2h-3.2zM597.6 877.6h3.2v3.2h-3.2zM598.4 877.6h3.2v3.2h-3.2zM599.2 877.6h3.2v3.2h-3.2zM599.9 877.6h3.2v3.2h-3.2zM600.7 877.6h3.2v3.2h-3.2zM601.4 877.6h3.2v3.2h-3.2zM602.2 877.6h3.2v3.2h-3.2zM603 877.6h3.2v3.2h-3.2zM594.6 888.9h3.2v3.2h-3.2zM595.8 888.9h3.2v3.2h-3.2zM597 888.9h3.2v3.2h-3.2zM598.2 888.9h3.2v3.2h-3.2zM599.4 888.9h3.2v3.2h-3.2zM600.6 888.9h3.2v3.2h-3.2zM601.8 888.9h3.2v3.2h-3.2zM603 888.9h3.2v3.2h-3.2z" fill="#17976A"/>
<path d="M600.4 883.7V874.6M597.5 874.6H603.2M597.5 883.7H603.2" stroke="#17976A" stroke-width="1.6" fill="none"/>
<path d="M555.4 821.9V935.7H611.3" fill="none" stroke="#111" stroke-width="1.5"/>
<path d="M555.4 935.7H560.4M555.4 913.1H560.4M555.4 890.5H560.4M555.4 867.8H560.4M555.4 845.2H560.4M555.4 822.6H560.4" stroke="#111" stroke-width="1.4"/>
<text x="553.2" y="939" font-size="9.6" text-anchor="end" font-weight="bold" fill="#000" >0</text>
<text x="553.2" y="916.3" font-size="9.6" text-anchor="end" font-weight="bold" fill="#000" >2</text>
<text x="553.2" y="893.7" font-size="9.6" text-anchor="end" font-weight="bold" fill="#000" >4</text>
<text x="553.2" y="871.1" font-size="9.6" text-anchor="end" font-weight="bold" fill="#000" >6</text>
<text x="553.2" y="848.5" font-size="9.6" text-anchor="end" font-weight="bold" fill="#000" >8</text>
<text x="553.2" y="825.9" font-size="9.6" text-anchor="end" font-weight="bold" fill="#000" >10</text>
<path d="M575.8 825.9L575.8 823.7M575.8 825.9L577.9 825.2M575.8 825.9L577.1 827.7M575.8 825.9L574.5 827.7M575.8 825.9L573.7 825.2M583 825.9L583 823.7M583 825.9L585.1 825.2M583 825.9L584.3 827.7M583 825.9L581.7 827.7M583 825.9L580.9 825.2M590.2 825.9L590.2 823.7M590.2 825.9L592.3 825.2M590.2 825.9L591.5 827.7M590.2 825.9L588.9 827.7M590.2 825.9L588.1 825.2" stroke="#222" stroke-width="0.9" fill="none"/><path d="M574.9 823.7a0.9 0.9 0 1 0 1.9 0a0.9 0.9 0 1 0 -1.9 0M576.9 825.2a0.9 0.9 0 1 0 1.9 0a0.9 0.9 0 1 0 -1.9 0M576.1 827.7a0.9 0.9 0 1 0 1.9 0a0.9 0.9 0 1 0 -1.9 0M573.6 827.7a0.9 0.9 0 1 0 1.9 0a0.9 0.9 0 1 0 -1.9 0M572.8 825.2a0.9 0.9 0 1 0 1.9 0a0.9 0.9 0 1 0 -1.9 0M582.1 823.7a0.9 0.9 0 1 0 1.9 0a0.9 0.9 0 1 0 -1.9 0M584.1 825.2a0.9 0.9 0 1 0 1.9 0a0.9 0.9 0 1 0 -1.9 0M583.3 827.7a0.9 0.9 0 1 0 1.9 0a0.9 0.9 0 1 0 -1.9 0M580.8 827.7a0.9 0.9 0 1 0 1.9 0a0.9 0.9 0 1 0 -1.9 0M580 825.2a0.9 0.9 0 1 0 1.9 0a0.9 0.9 0 1 0 -1.9 0M589.3 823.7a0.9 0.9 0 1 0 1.9 0a0.9 0.9 0 1 0 -1.9 0M591.3 825.2a0.9 0.9 0 1 0 1.9 0a0.9 0.9 0 1 0 -1.9 0M590.5 827.7a0.9 0.9 0 1 0 1.9 0a0.9 0.9 0 1 0 -1.9 0M588 827.7a0.9 0.9 0 1 0 1.9 0a0.9 0.9 0 1 0 -1.9 0M587.2 825.2a0.9 0.9 0 1 0 1.9 0a0.9 0.9 0 1 0 -1.9 0" fill="#222"/>
<path d="M592.5 860L593.8 851.8M594.5 860L595.8 851.8M598.6 860L599.9 851.8M600.6 860L601.9 851.8M604.7 860L606 851.8M606.7 860L608 851.8" stroke="#222" stroke-width="1.2" fill="none"/><path d="M591.4 854.8H597M591.4 857H597M597.5 854.8H603.1M597.5 857H603.1M603.6 854.8H609.2M603.6 857H609.2" stroke="#222" stroke-width="0.9" fill="none"/>
<text transform="translate(536.1 879.3) rotate(-90)" x="0" y="0" font-size="11.7" text-anchor="middle" font-weight="bold" dominant-baseline="central">Branch number</text>
<path d="M663.2 936V907.2H673.1V936" fill="none" stroke="#F7A04A" stroke-width="1.6"/>
<path d="M680.2 936V891.2H689.9V936" fill="none" stroke="#7DB3F2" stroke-width="1.6"/>
<path d="M696.8 936V905.4H706.4V936" fill="none" stroke="#4FAE86" stroke-width="1.6"/>
<path d="M668.1 880.4l2.1 3.9h-4.3zM668.1 928l2.1 3.9h-4.3zM668.4 919.1l2.1 3.9h-4.3zM667.3 912.7l2.1 3.9h-4.3zM670.8 906.9l2.1 3.9h-4.3zM669 918.6l2.1 3.9h-4.3zM665.4 899.5l2.1 3.9h-4.3zM665.8 914.6l2.1 3.9h-4.3zM669.6 906.4l2.1 3.9h-4.3zM669.1 911.4l2.1 3.9h-4.3zM666.1 888.7l2.1 3.9h-4.3zM671 898.8l2.1 3.9h-4.3zM670.1 901.5l2.1 3.9h-4.3zM670 911.3l2.1 3.9h-4.3zM665.8 894.6l2.1 3.9h-4.3zM670.8 894.6l2.1 3.9h-4.3zM665.3 916l2.1 3.9h-4.3zM669 911.2l2.1 3.9h-4.3zM666.4 892.4l2.1 3.9h-4.3zM667.2 890.3l2.1 3.9h-4.3zM666.2 918.1l2.1 3.9h-4.3zM669.5 910.5l2.1 3.9h-4.3zM668.1 914.4l2.1 3.9h-4.3zM664.7 907l2.1 3.9h-4.3zM667.8 904l2.1 3.9h-4.3zM670.5 906.8l2.1 3.9h-4.3zM668.4 916l2.1 3.9h-4.3zM667 894.4l2.1 3.9h-4.3zM665.8 915.5l2.1 3.9h-4.3zM671.4 902.7l2.1 3.9h-4.3zM671.7 904.2l2.1 3.9h-4.3zM669.8 905.3l2.1 3.9h-4.3zM665.1 910.2l2.1 3.9h-4.3zM669.7 893.9l2.1 3.9h-4.3zM668.9 914.9l2.1 3.9h-4.3zM670 922.6l2.1 3.9h-4.3zM666.4 895.6l2.1 3.9h-4.3zM669 920.7l2.1 3.9h-4.3zM667.5 899l2.1 3.9h-4.3zM666.5 897.1l2.1 3.9h-4.3zM666.2 901.6l2.1 3.9h-4.3zM670.1 890.2l2.1 3.9h-4.3zM667.4 916l2.1 3.9h-4.3zM669.3 884.7l2.1 3.9h-4.3zM665.3 905.2l2.1 3.9h-4.3zM666.7 921.9l2.1 3.9h-4.3zM669.5 899l2.1 3.9h-4.3zM664 904.1l2.1 3.9h-4.3z" fill="#F7901E"/>
<path d="M685 867.4l2.1 -3.9h-4.3zM685 916.8l2.1 -3.9h-4.3zM688.8 895.5l2.1 -3.9h-4.3zM683.1 911.1l2.1 -3.9h-4.3zM682.5 896.6l2.1 -3.9h-4.3zM685.1 892.8l2.1 -3.9h-4.3zM686.2 886.6l2.1 -3.9h-4.3zM685.5 892.8l2.1 -3.9h-4.3zM687.9 891.3l2.1 -3.9h-4.3zM682.4 879.2l2.1 -3.9h-4.3zM683.7 888.1l2.1 -3.9h-4.3zM683.4 910.6l2.1 -3.9h-4.3zM682.2 884.2l2.1 -3.9h-4.3zM681.4 896.8l2.1 -3.9h-4.3zM687.3 885.2l2.1 -3.9h-4.3zM686.5 906.7l2.1 -3.9h-4.3zM684.1 901l2.1 -3.9h-4.3zM685.5 914.3l2.1 -3.9h-4.3zM687.9 900.9l2.1 -3.9h-4.3zM682.7 909.8l2.1 -3.9h-4.3zM683 902.4l2.1 -3.9h-4.3zM682.5 895.2l2.1 -3.9h-4.3zM681.6 889.6l2.1 -3.9h-4.3zM683.8 896.9l2.1 -3.9h-4.3zM684.4 878.2l2.1 -3.9h-4.3zM689.1 891.8l2.1 -3.9h-4.3zM686.1 885.4l2.1 -3.9h-4.3zM687 899.5l2.1 -3.9h-4.3zM682.1 898.5l2.1 -3.9h-4.3zM685.4 870.6l2.1 -3.9h-4.3zM686.8 910.2l2.1 -3.9h-4.3zM687.3 900.1l2.1 -3.9h-4.3zM683.2 893.7l2.1 -3.9h-4.3zM682.9 891.2l2.1 -3.9h-4.3zM688 887.5l2.1 -3.9h-4.3zM684.6 867.8l2.1 -3.9h-4.3zM688.4 900.5l2.1 -3.9h-4.3zM684.8 903.5l2.1 -3.9h-4.3zM685.6 894.9l2.1 -3.9h-4.3zM683.3 885.6l2.1 -3.9h-4.3zM684.7 915l2.1 -3.9h-4.3zM683.3 906.4l2.1 -3.9h-4.3zM682.7 880.6l2.1 -3.9h-4.3zM680.6 894.3l2.1 -3.9h-4.3zM686.9 881.8l2.1 -3.9h-4.3zM684.5 884l2.1 -3.9h-4.3zM688.4 883.9l2.1 -3.9h-4.3zM685.3 889.8l2.1 -3.9h-4.3z" fill="#5C9FEE"/>
<path d="M700 884.5h3.2v3.2h-3.2zM700 928.7h3.2v3.2h-3.2zM699.7 913.3h3.2v3.2h-3.2zM700 921.5h3.2v3.2h-3.2zM699.2 891.8h3.2v3.2h-3.2zM703.4 902.3h3.2v3.2h-3.2zM699.7 922h3.2v3.2h-3.2zM697.3 909.3h3.2v3.2h-3.2zM699.2 891.3h3.2v3.2h-3.2zM698.1 920.7h3.2v3.2h-3.2zM701.6 917h3.2v3.2h-3.2zM700.9 904.8h3.2v3.2h-3.2zM699.3 918.6h3.2v3.2h-3.2zM695.6 904.4h3.2v3.2h-3.2zM702.3 893.6h3.2v3.2h-3.2zM700.2 910.6h3.2v3.2h-3.2zM700.4 886h3.2v3.2h-3.2zM702.5 890.3h3.2v3.2h-3.2zM701.1 905.9h3.2v3.2h-3.2zM702.5 908.3h3.2v3.2h-3.2zM700.2 895.6h3.2v3.2h-3.2zM701.6 909.8h3.2v3.2h-3.2zM701.8 892.8h3.2v3.2h-3.2zM698.1 884.7h3.2v3.2h-3.2zM697.7 912.9h3.2v3.2h-3.2zM700.8 909.7h3.2v3.2h-3.2zM697.8 889.7h3.2v3.2h-3.2zM699.9 906.5h3.2v3.2h-3.2zM701.8 898.6h3.2v3.2h-3.2zM700.8 896.2h3.2v3.2h-3.2zM696.5 898.7h3.2v3.2h-3.2zM701.5 900.8h3.2v3.2h-3.2zM697.5 892.1h3.2v3.2h-3.2zM700.2 886.8h3.2v3.2h-3.2zM695.5 906.7h3.2v3.2h-3.2zM703.9 902.7h3.2v3.2h-3.2zM701.9 898h3.2v3.2h-3.2zM704.8 904.6h3.2v3.2h-3.2zM699 917.2h3.2v3.2h-3.2zM704 906.5h3.2v3.2h-3.2zM701.2 916.8h3.2v3.2h-3.2zM699.3 891.3h3.2v3.2h-3.2zM700.9 922.4h3.2v3.2h-3.2zM703.5 897.3h3.2v3.2h-3.2zM699.2 899.5h3.2v3.2h-3.2zM698 909.7h3.2v3.2h-3.2zM700.5 917.4h3.2v3.2h-3.2zM698.9 895.2h3.2v3.2h-3.2z" fill="#17976A"/>
<path d="M656.4 821.9V936H712.7" fill="none" stroke="#111" stroke-width="1.5"/>
<path d="M656.4 936H661.4M656.4 913.3H661.4M656.4 890.6H661.4M656.4 868H661.4M656.4 845.3H661.4M656.4 822.6H661.4" stroke="#111" stroke-width="1.4"/>
<text x="654.2" y="939.3" font-size="9.6" text-anchor="end" font-weight="bold" fill="#000" >0</text>
<text x="654.2" y="916.6" font-size="9.6" text-anchor="end" font-weight="bold" fill="#000" >200</text>
<text x="654.2" y="893.9" font-size="9.6" text-anchor="end" font-weight="bold" fill="#000" >400</text>
<text x="654.2" y="871.2" font-size="9.6" text-anchor="end" font-weight="bold" fill="#000" >600</text>
<text x="654.2" y="848.5" font-size="9.6" text-anchor="end" font-weight="bold" fill="#000" >800</text>
<text x="654.2" y="825.9" font-size="9.6" text-anchor="end" font-weight="bold" fill="#000" >1000</text>
<path d="M678.6 853.5L678.6 851.3M678.6 853.5L680.7 852.8M678.6 853.5L679.9 855.3M678.6 853.5L677.3 855.3M678.6 853.5L676.5 852.8M685.8 853.5L685.8 851.3M685.8 853.5L687.9 852.8M685.8 853.5L687.1 855.3M685.8 853.5L684.5 855.3M685.8 853.5L683.7 852.8M693 853.5L693 851.3M693 853.5L695.1 852.8M693 853.5L694.3 855.3M693 853.5L691.7 855.3M693 853.5L690.9 852.8" stroke="#222" stroke-width="0.9" fill="none"/><path d="M677.7 851.3a0.9 0.9 0 1 0 1.9 0a0.9 0.9 0 1 0 -1.9 0M679.7 852.8a0.9 0.9 0 1 0 1.9 0a0.9 0.9 0 1 0 -1.9 0M678.9 855.3a0.9 0.9 0 1 0 1.9 0a0.9 0.9 0 1 0 -1.9 0M676.4 855.3a0.9 0.9 0 1 0 1.9 0a0.9 0.9 0 1 0 -1.9 0M675.6 852.8a0.9 0.9 0 1 0 1.9 0a0.9 0.9 0 1 0 -1.9 0M684.9 851.3a0.9 0.9 0 1 0 1.9 0a0.9 0.9 0 1 0 -1.9 0M686.9 852.8a0.9 0.9 0 1 0 1.9 0a0.9 0.9 0 1 0 -1.9 0M686.1 855.3a0.9 0.9 0 1 0 1.9 0a0.9 0.9 0 1 0 -1.9 0M683.6 855.3a0.9 0.9 0 1 0 1.9 0a0.9 0.9 0 1 0 -1.9 0M682.8 852.8a0.9 0.9 0 1 0 1.9 0a0.9 0.9 0 1 0 -1.9 0M692.1 851.3a0.9 0.9 0 1 0 1.9 0a0.9 0.9 0 1 0 -1.9 0M694.1 852.8a0.9 0.9 0 1 0 1.9 0a0.9 0.9 0 1 0 -1.9 0M693.3 855.3a0.9 0.9 0 1 0 1.9 0a0.9 0.9 0 1 0 -1.9 0M690.8 855.3a0.9 0.9 0 1 0 1.9 0a0.9 0.9 0 1 0 -1.9 0M690 852.8a0.9 0.9 0 1 0 1.9 0a0.9 0.9 0 1 0 -1.9 0" fill="#222"/>
<path d="M694.2 877.5L695.5 869.3M696.2 877.5L697.5 869.3M700.3 877.5L701.6 869.3M702.3 877.5L703.6 869.3M706.4 877.5L707.7 869.3M708.4 877.5L709.7 869.3" stroke="#222" stroke-width="1.2" fill="none"/><path d="M693.1 872.3H698.7M693.1 874.5H698.7M699.2 872.3H704.8M699.2 874.5H704.8M705.3 872.3H710.9M705.3 874.5H710.9" stroke="#222" stroke-width="0.9" fill="none"/>
<text transform="translate(625.4 879) rotate(-90)" x="0" y="0" font-size="11.7" text-anchor="middle" font-weight="bold" dominant-baseline="central">Total branch length (μm)</text>
<path d="M763 934.9V910H772.8V934.9" fill="none" stroke="#F7A04A" stroke-width="1.6"/>
<path d="M779.5 934.9V886.7H789.5V934.9" fill="none" stroke="#7DB3F2" stroke-width="1.6"/>
<path d="M796.3 934.9V898.1H806.4V934.9" fill="none" stroke="#4FAE86" stroke-width="1.6"/>
<path d="M767.9 887.3l2.1 3.9h-4.3zM767.9 924.1l2.1 3.9h-4.3zM771.9 907l2.1 3.9h-4.3zM767.3 897.5l2.1 3.9h-4.3zM768.1 894.7l2.1 3.9h-4.3zM769 911l2.1 3.9h-4.3zM771.5 915.1l2.1 3.9h-4.3zM767.1 912.4l2.1 3.9h-4.3zM766.4 891.7l2.1 3.9h-4.3zM765.6 909.9l2.1 3.9h-4.3zM766.7 923.7l2.1 3.9h-4.3zM769 906l2.1 3.9h-4.3zM770.4 918.2l2.1 3.9h-4.3zM769.3 897.2l2.1 3.9h-4.3zM767.4 903.2l2.1 3.9h-4.3zM769.4 894.8l2.1 3.9h-4.3zM772.1 904.8l2.1 3.9h-4.3zM770.2 901.1l2.1 3.9h-4.3zM768.3 922.4l2.1 3.9h-4.3zM767.7 896.9l2.1 3.9h-4.3zM767.4 899.2l2.1 3.9h-4.3zM765 907.3l2.1 3.9h-4.3zM771.3 904.2l2.1 3.9h-4.3zM768.4 909.2l2.1 3.9h-4.3zM767.5 904.7l2.1 3.9h-4.3zM765.2 901l2.1 3.9h-4.3zM772.5 907.2l2.1 3.9h-4.3zM769.5 920.5l2.1 3.9h-4.3zM771.1 901.7l2.1 3.9h-4.3zM768.1 914.8l2.1 3.9h-4.3zM770 916.5l2.1 3.9h-4.3zM769.3 893.9l2.1 3.9h-4.3zM764.6 915.5l2.1 3.9h-4.3zM768.6 911.4l2.1 3.9h-4.3zM768.6 906.5l2.1 3.9h-4.3zM766.9 923.8l2.1 3.9h-4.3zM769.6 914.5l2.1 3.9h-4.3zM771.7 913.3l2.1 3.9h-4.3zM764 911.3l2.1 3.9h-4.3zM768.5 918.5l2.1 3.9h-4.3zM772.3 905.9l2.1 3.9h-4.3zM766.3 913.9l2.1 3.9h-4.3zM769 913l2.1 3.9h-4.3zM767.1 907.7l2.1 3.9h-4.3zM767.6 907.3l2.1 3.9h-4.3zM771.7 912.3l2.1 3.9h-4.3zM768.8 895.8l2.1 3.9h-4.3zM770.1 907.3l2.1 3.9h-4.3z" fill="#F7901E"/>
<path d="M784.5 859l2.1 -3.9h-4.3zM784.5 914.6l2.1 -3.9h-4.3zM787.3 878.3l2.1 -3.9h-4.3zM781.5 893.2l2.1 -3.9h-4.3zM782.5 877.4l2.1 -3.9h-4.3zM783 889.5l2.1 -3.9h-4.3zM783.4 891.1l2.1 -3.9h-4.3zM779.9 891.3l2.1 -3.9h-4.3zM782.3 882.8l2.1 -3.9h-4.3zM782.4 886.1l2.1 -3.9h-4.3zM787.8 887l2.1 -3.9h-4.3zM787.1 900.6l2.1 -3.9h-4.3zM784.7 867.3l2.1 -3.9h-4.3zM785.3 905.9l2.1 -3.9h-4.3zM782.1 878.6l2.1 -3.9h-4.3zM784.6 898.7l2.1 -3.9h-4.3zM781.3 896.1l2.1 -3.9h-4.3zM781.5 890.4l2.1 -3.9h-4.3zM785.7 895.8l2.1 -3.9h-4.3zM784.2 908.7l2.1 -3.9h-4.3zM786 888l2.1 -3.9h-4.3zM784.8 888.9l2.1 -3.9h-4.3zM781.5 895.8l2.1 -3.9h-4.3zM781.5 887.2l2.1 -3.9h-4.3zM783.2 878.5l2.1 -3.9h-4.3zM784.9 878l2.1 -3.9h-4.3zM786 902l2.1 -3.9h-4.3zM786.8 882.9l2.1 -3.9h-4.3zM786.2 872.1l2.1 -3.9h-4.3zM785.4 865.9l2.1 -3.9h-4.3zM786.8 880.9l2.1 -3.9h-4.3zM787.9 887.9l2.1 -3.9h-4.3zM785.7 871.8l2.1 -3.9h-4.3zM785.6 877.8l2.1 -3.9h-4.3zM781.3 897.3l2.1 -3.9h-4.3zM786.5 892.3l2.1 -3.9h-4.3zM787.8 894.5l2.1 -3.9h-4.3zM780.4 892.1l2.1 -3.9h-4.3zM784.7 886l2.1 -3.9h-4.3zM785.2 878.7l2.1 -3.9h-4.3zM784.5 873.6l2.1 -3.9h-4.3zM784.1 892.1l2.1 -3.9h-4.3zM780.8 894.8l2.1 -3.9h-4.3zM783.1 908.3l2.1 -3.9h-4.3zM786 895l2.1 -3.9h-4.3zM782.5 879.1l2.1 -3.9h-4.3zM782.1 889.4l2.1 -3.9h-4.3zM787.1 886.7l2.1 -3.9h-4.3z" fill="#5C9FEE"/>
<path d="M799.7 877.8h3.2v3.2h-3.2zM799.7 922h3.2v3.2h-3.2zM801.2 890.2h3.2v3.2h-3.2zM801.6 906.3h3.2v3.2h-3.2zM796.6 899.8h3.2v3.2h-3.2zM804.3 903.7h3.2v3.2h-3.2zM802.1 901.7h3.2v3.2h-3.2zM797.3 909.5h3.2v3.2h-3.2zM797.7 908.6h3.2v3.2h-3.2zM797.2 893.1h3.2v3.2h-3.2zM798.8 916.3h3.2v3.2h-3.2zM801.3 902.3h3.2v3.2h-3.2zM797.8 898.2h3.2v3.2h-3.2zM795.7 902h3.2v3.2h-3.2zM799.2 906.2h3.2v3.2h-3.2zM798 911h3.2v3.2h-3.2zM799.3 898.7h3.2v3.2h-3.2zM801.1 918.5h3.2v3.2h-3.2zM804.1 900.5h3.2v3.2h-3.2zM797.9 892.3h3.2v3.2h-3.2zM801.4 900h3.2v3.2h-3.2zM802.7 899.5h3.2v3.2h-3.2zM799.1 890.5h3.2v3.2h-3.2zM798.2 897.8h3.2v3.2h-3.2zM796.3 900.6h3.2v3.2h-3.2zM802.5 891.6h3.2v3.2h-3.2zM801 897.6h3.2v3.2h-3.2zM800.7 889.6h3.2v3.2h-3.2zM802.3 913.8h3.2v3.2h-3.2zM796.7 899.6h3.2v3.2h-3.2zM801.9 898.9h3.2v3.2h-3.2zM799.2 893.3h3.2v3.2h-3.2zM796.4 904.7h3.2v3.2h-3.2zM801.1 899h3.2v3.2h-3.2zM797.2 900.1h3.2v3.2h-3.2zM798.6 890.3h3.2v3.2h-3.2zM800.6 893.5h3.2v3.2h-3.2zM799.7 880.8h3.2v3.2h-3.2zM800.3 899h3.2v3.2h-3.2zM798.5 882.3h3.2v3.2h-3.2zM798.6 891h3.2v3.2h-3.2zM799.5 878.9h3.2v3.2h-3.2zM798.7 884.5h3.2v3.2h-3.2zM800.1 889.8h3.2v3.2h-3.2zM798.6 903.7h3.2v3.2h-3.2zM798.4 914.1h3.2v3.2h-3.2zM800.8 904.3h3.2v3.2h-3.2zM803.2 908.9h3.2v3.2h-3.2z" fill="#17976A"/>
<path d="M756.7 820.9V934.9H812.7" fill="none" stroke="#111" stroke-width="1.5"/>
<path d="M756.7 934.9H761.7M756.7 906.6H761.7M756.7 878.2H761.7M756.7 849.9H761.7M756.7 821.6H761.7" stroke="#111" stroke-width="1.4"/>
<text x="754.5" y="938.2" font-size="9.6" text-anchor="end" font-weight="bold" fill="#000" >0</text>
<text x="754.5" y="909.8" font-size="9.6" text-anchor="end" font-weight="bold" fill="#000" >500</text>
<text x="754.5" y="881.5" font-size="9.6" text-anchor="end" font-weight="bold" fill="#000" >1000</text>
<text x="754.5" y="853.2" font-size="9.6" text-anchor="end" font-weight="bold" fill="#000" >1500</text>
<text x="754.5" y="824.9" font-size="9.6" text-anchor="end" font-weight="bold" fill="#000" >2000</text>
<path d="M777.5 846.5L777.5 844.3M777.5 846.5L779.6 845.8M777.5 846.5L778.8 848.3M777.5 846.5L776.2 848.3M777.5 846.5L775.4 845.8M784.7 846.5L784.7 844.3M784.7 846.5L786.8 845.8M784.7 846.5L786 848.3M784.7 846.5L783.4 848.3M784.7 846.5L782.6 845.8M791.9 846.5L791.9 844.3M791.9 846.5L794 845.8M791.9 846.5L793.2 848.3M791.9 846.5L790.6 848.3M791.9 846.5L789.8 845.8" stroke="#222" stroke-width="0.9" fill="none"/><path d="M776.6 844.3a0.9 0.9 0 1 0 1.9 0a0.9 0.9 0 1 0 -1.9 0M778.6 845.8a0.9 0.9 0 1 0 1.9 0a0.9 0.9 0 1 0 -1.9 0M777.8 848.3a0.9 0.9 0 1 0 1.9 0a0.9 0.9 0 1 0 -1.9 0M775.3 848.3a0.9 0.9 0 1 0 1.9 0a0.9 0.9 0 1 0 -1.9 0M774.5 845.8a0.9 0.9 0 1 0 1.9 0a0.9 0.9 0 1 0 -1.9 0M783.8 844.3a0.9 0.9 0 1 0 1.9 0a0.9 0.9 0 1 0 -1.9 0M785.8 845.8a0.9 0.9 0 1 0 1.9 0a0.9 0.9 0 1 0 -1.9 0M785 848.3a0.9 0.9 0 1 0 1.9 0a0.9 0.9 0 1 0 -1.9 0M782.5 848.3a0.9 0.9 0 1 0 1.9 0a0.9 0.9 0 1 0 -1.9 0M781.7 845.8a0.9 0.9 0 1 0 1.9 0a0.9 0.9 0 1 0 -1.9 0M791 844.3a0.9 0.9 0 1 0 1.9 0a0.9 0.9 0 1 0 -1.9 0M793 845.8a0.9 0.9 0 1 0 1.9 0a0.9 0.9 0 1 0 -1.9 0M792.2 848.3a0.9 0.9 0 1 0 1.9 0a0.9 0.9 0 1 0 -1.9 0M789.7 848.3a0.9 0.9 0 1 0 1.9 0a0.9 0.9 0 1 0 -1.9 0M788.9 845.8a0.9 0.9 0 1 0 1.9 0a0.9 0.9 0 1 0 -1.9 0" fill="#222"/>
<path d="M793.4 872.2L794.7 864M795.4 872.2L796.7 864M799.5 872.2L800.8 864M801.5 872.2L802.8 864M805.6 872.2L806.9 864M807.6 872.2L808.9 864" stroke="#222" stroke-width="1.2" fill="none"/><path d="M792.3 867H797.9M792.3 869.2H797.9M798.4 867H804M798.4 869.2H804M804.5 867H810.1M804.5 869.2H810.1" stroke="#222" stroke-width="0.9" fill="none"/>
<text transform="translate(727.6 877) rotate(-90)" x="0" y="0" font-size="11.7" text-anchor="middle" font-weight="bold" dominant-baseline="central">Total branch volume (μm<tspan font-size="7.5" dy="-4">3</tspan><tspan dy="4">)</tspan></text>
<path d="M507.7 1093.2V1017.1H526V1093.2" fill="none" stroke="#F7A04A" stroke-width="1.6"/>
<path d="M538.2 1093.2V1042.2H556.5V1093.2" fill="none" stroke="#7DB3F2" stroke-width="1.6"/>
<path d="M568.3 1093.2V1023.5H587V1093.2" fill="none" stroke="#4FAE86" stroke-width="1.6"/>
<path d="M516.8 974.7l2.2 4h-4.4zM516.8 1037.3l2.2 4h-4.4zM516.7 1022.8l2.2 4h-4.4zM515.8 997.7l2.2 4h-4.4zM513.2 1023.8l2.2 4h-4.4zM518.5 1008.6l2.2 4h-4.4zM518 1000l2.2 4h-4.4zM515.2 1026.3l2.2 4h-4.4zM519.7 1021l2.2 4h-4.4zM514 1011.9l2.2 4h-4.4zM515.1 1023.7l2.2 4h-4.4zM518.6 981.4l2.2 4h-4.4zM517.9 1030l2.2 4h-4.4zM514 1028.7l2.2 4h-4.4zM515.6 1016.9l2.2 4h-4.4zM512.8 1023.9l2.2 4h-4.4zM511.8 1003.8l2.2 4h-4.4zM515.3 1010.5l2.2 4h-4.4zM516.6 988.7l2.2 4h-4.4zM512 1005.9l2.2 4h-4.4zM513.5 1007.6l2.2 4h-4.4zM512.3 1027l2.2 4h-4.4zM516.7 1026.4l2.2 4h-4.4zM513.1 1025.6l2.2 4h-4.4zM515.5 1008.9l2.2 4h-4.4zM518.1 999.8l2.2 4h-4.4zM518.2 1003.5l2.2 4h-4.4zM515.8 997.8l2.2 4h-4.4zM522.4 1011.3l2.2 4h-4.4zM513.4 1003.4l2.2 4h-4.4zM521.8 1012.2l2.2 4h-4.4zM520.3 1027.8l2.2 4h-4.4zM519.7 1011.8l2.2 4h-4.4zM518.3 1012l2.2 4h-4.4zM519.7 1021.9l2.2 4h-4.4zM521.9 1014.1l2.2 4h-4.4zM517.6 1006.4l2.2 4h-4.4zM514.4 1026.6l2.2 4h-4.4zM513.9 1007.1l2.2 4h-4.4zM513 1005l2.2 4h-4.4zM521.5 1007l2.2 4h-4.4zM513.5 998.9l2.2 4h-4.4zM518.1 1019.2l2.2 4h-4.4zM512.3 1008.1l2.2 4h-4.4zM516.8 1004.9l2.2 4h-4.4zM513.9 1005.9l2.2 4h-4.4zM516.4 1010.2l2.2 4h-4.4zM519.3 1000.1l2.2 4h-4.4z" fill="#F7901E"/>
<path d="M547.3 1032.4l2.2 -4h-4.4zM547.3 1054.9l2.2 -4h-4.4zM545.5 1042.2l2.2 -4h-4.4zM552.8 1047.7l2.2 -4h-4.4zM554.6 1044.8l2.2 -4h-4.4zM547 1043.4l2.2 -4h-4.4zM547.6 1042.3l2.2 -4h-4.4zM548.6 1043.9l2.2 -4h-4.4zM543.9 1049.3l2.2 -4h-4.4zM548 1044.1l2.2 -4h-4.4zM548.2 1042.6l2.2 -4h-4.4zM546.2 1053.6l2.2 -4h-4.4zM546.3 1052.7l2.2 -4h-4.4zM545 1041.8l2.2 -4h-4.4zM549.9 1046l2.2 -4h-4.4zM545.2 1039.4l2.2 -4h-4.4zM548.2 1040.7l2.2 -4h-4.4zM547.9 1037.2l2.2 -4h-4.4zM543 1040.7l2.2 -4h-4.4zM545.4 1044.3l2.2 -4h-4.4zM549.5 1053.3l2.2 -4h-4.4zM551.5 1049.2l2.2 -4h-4.4zM545.8 1039.8l2.2 -4h-4.4zM546 1051.2l2.2 -4h-4.4zM547.1 1039.8l2.2 -4h-4.4zM547.5 1050.8l2.2 -4h-4.4zM544.3 1037.3l2.2 -4h-4.4zM544.5 1037.3l2.2 -4h-4.4zM549.8 1043.9l2.2 -4h-4.4zM545.2 1043.5l2.2 -4h-4.4zM548.7 1038.4l2.2 -4h-4.4zM549.1 1041.1l2.2 -4h-4.4zM544.7 1040.7l2.2 -4h-4.4zM554 1045.5l2.2 -4h-4.4zM547.6 1033.5l2.2 -4h-4.4zM550.7 1049.7l2.2 -4h-4.4zM553 1046.2l2.2 -4h-4.4zM553.2 1043.6l2.2 -4h-4.4zM543.4 1044.9l2.2 -4h-4.4zM549.5 1039.6l2.2 -4h-4.4zM542.6 1040l2.2 -4h-4.4zM546.7 1036.4l2.2 -4h-4.4zM542.4 1043.4l2.2 -4h-4.4zM543.1 1050.5l2.2 -4h-4.4zM544.3 1045.5l2.2 -4h-4.4zM548.7 1046.5l2.2 -4h-4.4zM551.6 1045.1l2.2 -4h-4.4zM550.4 1043.3l2.2 -4h-4.4z" fill="#5C9FEE"/>
<path d="M576 1005.8h3.3v3.3h-3.3zM576 1040h3.3v3.3h-3.3zM572.8 1011.8h3.3v3.3h-3.3zM572.9 1015.7h3.3v3.3h-3.3zM578.9 1013h3.3v3.3h-3.3zM577.3 1017.4h3.3v3.3h-3.3zM580.9 1019.5h3.3v3.3h-3.3zM575.1 1008.4h3.3v3.3h-3.3zM582.5 1023.5h3.3v3.3h-3.3zM579 1011.4h3.3v3.3h-3.3zM573.5 1013.8h3.3v3.3h-3.3zM577 1029.8h3.3v3.3h-3.3zM575.9 1031h3.3v3.3h-3.3zM572.6 1017.5h3.3v3.3h-3.3zM573.8 1020.4h3.3v3.3h-3.3zM573.6 1023h3.3v3.3h-3.3zM577 1018.4h3.3v3.3h-3.3zM582.4 1022.6h3.3v3.3h-3.3zM575.4 1034.3h3.3v3.3h-3.3zM575.5 1032.4h3.3v3.3h-3.3zM574.2 1026.6h3.3v3.3h-3.3zM571.2 1016.9h3.3v3.3h-3.3zM577.2 1010.4h3.3v3.3h-3.3zM576.5 1023h3.3v3.3h-3.3zM582.5 1020.3h3.3v3.3h-3.3zM579.7 1017.1h3.3v3.3h-3.3zM579.1 1033.1h3.3v3.3h-3.3zM570.2 1018.7h3.3v3.3h-3.3zM574.2 1026.7h3.3v3.3h-3.3zM576.4 1016.5h3.3v3.3h-3.3zM581.3 1022.9h3.3v3.3h-3.3zM575.1 1018.4h3.3v3.3h-3.3zM573.3 1020.7h3.3v3.3h-3.3zM575.9 1025.5h3.3v3.3h-3.3zM572.9 1014.7h3.3v3.3h-3.3zM574.6 1020.2h3.3v3.3h-3.3zM576.1 1025.2h3.3v3.3h-3.3zM574.5 1010h3.3v3.3h-3.3zM573.2 1028.7h3.3v3.3h-3.3zM579.3 1026.2h3.3v3.3h-3.3zM576.6 1022.9h3.3v3.3h-3.3zM574.5 1022.4h3.3v3.3h-3.3zM576.9 1012.1h3.3v3.3h-3.3zM575.4 1013.8h3.3v3.3h-3.3zM570.9 1022.2h3.3v3.3h-3.3zM572.2 1026.1h3.3v3.3h-3.3zM579.3 1028.9h3.3v3.3h-3.3zM582.3 1024.4h3.3v3.3h-3.3z" fill="#17976A"/>
<path d="M496.4 963.5V1093.2H598.5" fill="none" stroke="#111" stroke-width="1.5"/>
<path d="M496.4 1093.2H501.4M496.4 1061H501.4M496.4 1028.7H501.4M496.4 996.5H501.4M496.4 964.2H501.4" stroke="#111" stroke-width="1.4"/>
<text x="494.2" y="1096.6" font-size="10" text-anchor="end" font-weight="bold" fill="#000" >0</text>
<text x="494.2" y="1064.4" font-size="10" text-anchor="end" font-weight="bold" fill="#000" >5</text>
<text x="494.2" y="1032.1" font-size="10" text-anchor="end" font-weight="bold" fill="#000" >10</text>
<text x="494.2" y="999.9" font-size="10" text-anchor="end" font-weight="bold" fill="#000" >15</text>
<text x="494.2" y="967.6" font-size="10" text-anchor="end" font-weight="bold" fill="#000" >20</text>
<path d="M537.8 1016L537.8 1013.6M537.8 1016L540.1 1015.3M537.8 1016L539.2 1017.9M537.8 1016L536.4 1017.9M537.8 1016L535.5 1015.3M546 1016L546 1013.6M546 1016L548.3 1015.3M546 1016L547.4 1017.9M546 1016L544.6 1017.9M546 1016L543.7 1015.3M554.2 1016L554.2 1013.6M554.2 1016L556.5 1015.3M554.2 1016L555.6 1017.9M554.2 1016L552.8 1017.9M554.2 1016L551.9 1015.3" stroke="#222" stroke-width="1" fill="none"/><path d="M536.8 1013.6a1 1 0 1 0 2 0a1 1 0 1 0 -2 0M539 1015.3a1 1 0 1 0 2 0a1 1 0 1 0 -2 0M538.2 1017.9a1 1 0 1 0 2 0a1 1 0 1 0 -2 0M535.4 1017.9a1 1 0 1 0 2 0a1 1 0 1 0 -2 0M534.5 1015.3a1 1 0 1 0 2 0a1 1 0 1 0 -2 0M545 1013.6a1 1 0 1 0 2 0a1 1 0 1 0 -2 0M547.2 1015.3a1 1 0 1 0 2 0a1 1 0 1 0 -2 0M546.4 1017.9a1 1 0 1 0 2 0a1 1 0 1 0 -2 0M543.6 1017.9a1 1 0 1 0 2 0a1 1 0 1 0 -2 0M542.7 1015.3a1 1 0 1 0 2 0a1 1 0 1 0 -2 0M553.2 1013.6a1 1 0 1 0 2 0a1 1 0 1 0 -2 0M555.4 1015.3a1 1 0 1 0 2 0a1 1 0 1 0 -2 0M554.6 1017.9a1 1 0 1 0 2 0a1 1 0 1 0 -2 0M551.8 1017.9a1 1 0 1 0 2 0a1 1 0 1 0 -2 0M550.9 1015.3a1 1 0 1 0 2 0a1 1 0 1 0 -2 0" fill="#222"/>
<path d="M568.8 995.1L570.1 986.9M570.8 995.1L572.1 986.9M574.9 995.1L576.2 986.9M576.9 995.1L578.2 986.9M581 995.1L582.3 986.9M583 995.1L584.3 986.9" stroke="#222" stroke-width="1.2" fill="none"/><path d="M567.7 989.9H573.3M567.7 992.1H573.3M573.8 989.9H579.4M573.8 992.1H579.4M579.9 989.9H585.5M579.9 992.1H585.5" stroke="#222" stroke-width="0.9" fill="none"/>
<text transform="translate(475.1 1024.9) rotate(-90)" x="0" y="0" font-size="11.7" text-anchor="middle" font-weight="bold" dominant-baseline="central">Spine number/10 μm</text>
<path d="M618.8 978.1L625.4 989L612.2 989Z" fill="#F98A1E"/>
<text x="632.5" y="988.3" font-size="11.7" text-anchor="start" font-weight="bold" fill="#000" >CON CD8<tspan font-size="8" dy="-4.2">+</tspan><tspan dy="4.2"> T</tspan><tspan font-size="8" dy="3.3">SCM</tspan><tspan dy="-3.3"> cells + Vehicle</tspan></text>
<path d="M612.7 1000.5L626.2 1000.5L619.45 1011.4Z" fill="#5B9EF5"/>
<text x="632.5" y="1008.6" font-size="11.7" text-anchor="start" font-weight="bold" fill="#000" >CSDS CD8<tspan font-size="8" dy="-4.2">+</tspan><tspan dy="4.2"> T</tspan><tspan font-size="8" dy="3.3">SCM</tspan><tspan dy="-3.3"> cells + Vehicle</tspan></text>
<rect x="614.7" y="1022" width="10.2" height="9.5" fill="#18A064"/>
<text x="632.5" y="1031" font-size="11.7" text-anchor="start" font-weight="bold" fill="#000" >CSDS CD8<tspan font-size="7.9" dy="-4.2">+</tspan><tspan dy="4.2"> T</tspan><tspan font-size="7.9" dy="3.3">SCM</tspan><tspan dy="-3.3"> cells + SB265610</tspan></text>
<text x="230.5" y="974.2" font-size="11.7" text-anchor="end" font-weight="bold" fill="#000" >CON CD8<tspan font-size="8" dy="-4.2">+</tspan><tspan dy="4.2"> T</tspan><tspan font-size="8" dy="3.3">SCM</tspan><tspan dy="-3.3"> cells + Vehicle</tspan></text>
<text x="230.5" y="1019.3" font-size="11.7" text-anchor="end" font-weight="bold" fill="#000" >CSDS CD8<tspan font-size="8" dy="-4.2">+</tspan><tspan dy="4.2"> T</tspan><tspan font-size="8" dy="3.3">SCM</tspan><tspan dy="-3.3"> cells + Vehicle</tspan></text>
<text x="227.5" y="1064.3" font-size="11.7" text-anchor="end" font-weight="bold" fill="#000" >CSDS CD8<tspan font-size="8" dy="-4.2">+</tspan><tspan dy="4.2"> T</tspan><tspan font-size="8" dy="3.3">SCM</tspan><tspan dy="-3.3"> cells + SB265610</tspan></text>
<path d="M352 1078.5H414.5" stroke="#000" stroke-width="2"/>
<text x="383.1" y="1091.8" font-size="11.5" text-anchor="middle" font-weight="bold" fill="#000" >10 μm</text>
<text x="125.2" y="380.8" font-size="12" text-anchor="middle" font-weight="bold" fill="#000" >CON CD8<tspan font-size="8.2" dy="-4.3">+</tspan><tspan dy="4.3"> T</tspan><tspan font-size="8.2" dy="3.4">SCM</tspan><tspan dy="-3.4"> cells</tspan></text>
<text x="244.5" y="380.8" font-size="12" text-anchor="middle" font-weight="bold" fill="#000" >CSDS CD8<tspan font-size="8.2" dy="-4.3">+</tspan><tspan dy="4.3"> T</tspan><tspan font-size="8.2" dy="3.4">SCM</tspan><tspan dy="-3.4"> cells</tspan></text>
<text x="363.2" y="380.8" font-size="12" text-anchor="middle" font-weight="bold" fill="#000" >CSDS CD8<tspan font-size="8.2" dy="-4.3">+</tspan><tspan dy="4.3"> T</tspan><tspan font-size="8.2" dy="3.4">SCM</tspan><tspan dy="-3.4"> cells</tspan></text>
<text x="513" y="380.8" font-size="12" text-anchor="middle" font-weight="bold" fill="#000" >CON CD8<tspan font-size="8.2" dy="-4.3">+</tspan><tspan dy="4.3"> T</tspan><tspan font-size="8.2" dy="3.4">SCM</tspan><tspan dy="-3.4"> cells</tspan></text>
<text x="630" y="380.8" font-size="12" text-anchor="middle" font-weight="bold" fill="#000" >CSDS CD8<tspan font-size="8.2" dy="-4.3">+</tspan><tspan dy="4.3"> T</tspan><tspan font-size="8.2" dy="3.4">SCM</tspan><tspan dy="-3.4"> cells</tspan></text>
<text x="750" y="380.8" font-size="12" text-anchor="middle" font-weight="bold" fill="#000" >CSDS CD8<tspan font-size="8.2" dy="-4.3">+</tspan><tspan dy="4.3"> T</tspan><tspan font-size="8.2" dy="3.4">SCM</tspan><tspan dy="-3.4"> cells</tspan></text>
<text x="124.7" y="393.7" font-size="12" text-anchor="middle" font-weight="bold" fill="#000" >+ Vehicle</text>
<text x="243.5" y="393.7" font-size="12" text-anchor="middle" font-weight="bold" fill="#000" >+ Vehicle</text>
<text x="361.2" y="393.7" font-size="12" text-anchor="middle" font-weight="bold" fill="#000" >+ SB265610</text>
<text x="513.8" y="393.7" font-size="12" text-anchor="middle" font-weight="bold" fill="#000" >+ Vehicle</text>
<text x="630" y="393.7" font-size="12" text-anchor="middle" font-weight="bold" fill="#000" >+ Vehicle</text>
<text x="750" y="393.7" font-size="12" text-anchor="middle" font-weight="bold" fill="#000" >+ SB265610</text>
<text transform="translate(54.5 478) rotate(-90)" x="0" y="0" font-size="11.7" text-anchor="middle" font-weight="bold" dominant-baseline="central"><tspan fill="#1EA03C">GFAP</tspan>/<tspan fill="#1F70C8">DAPI</tspan></text>
<text transform="translate(56 601.2) rotate(-90)" x="0" y="0" font-size="11.7" text-anchor="middle" font-weight="bold" dominant-baseline="central">Reconstruction</text>
<text transform="translate(55.5 712.5) rotate(-90)" x="0" y="0" font-size="11.7" text-anchor="middle" font-weight="bold" dominant-baseline="central">Sholl</text>
<text transform="translate(443 476.5) rotate(-90)" x="0" y="0" font-size="11.7" text-anchor="middle" font-weight="bold" dominant-baseline="central"><tspan fill="#1EA03C">Iba-1</tspan>/<tspan fill="#1F70C8">DAPI</tspan></text>
<text transform="translate(443 598.8) rotate(-90)" x="0" y="0" font-size="11.7" text-anchor="middle" font-weight="bold" dominant-baseline="central">Reconstruction</text>
<text transform="translate(443 710) rotate(-90)" x="0" y="0" font-size="11.7" text-anchor="middle" font-weight="bold" dominant-baseline="central">Sholl</text>
<defs>
<filter id="gsp" filterUnits="userSpaceOnUse" x="0" y="350" width="866" height="450" color-interpolation-filters="sRGB">
 <feTurbulence type="fractalNoise" baseFrequency="0.33" numOctaves="3" seed="4" result="n"/>
 <feColorMatrix in="n" type="matrix" values="0 0 0 0 0.0  0 0 0 0 0.85  0 0.5 0 0 -0.2  9 0 0 0 -4.95" result="g"/>
 <feGaussianBlur in="g" stdDeviation="0.55" result="gb"/>
 <feComposite in="gb" in2="SourceGraphic" operator="in"/>
</filter>
<filter id="bsp" filterUnits="userSpaceOnUse" x="0" y="350" width="866" height="450" color-interpolation-filters="sRGB">
 <feTurbulence type="fractalNoise" baseFrequency="0.3" numOctaves="2" seed="9" result="n"/>
 <feColorMatrix in="n" type="matrix" values="0.1 0 0 0 -0.03  0.6 0 0 0 -0.2  0.8 0 0 0 0.55  0 0 0 0 1" result="c"/>
 <feGaussianBlur in="c" stdDeviation="0.5" result="cb"/>
 <feComposite in="cb" in2="SourceGraphic" operator="in"/>
</filter>
<filter id="fib" filterUnits="userSpaceOnUse" x="0" y="350" width="866" height="450" color-interpolation-filters="sRGB">
 <feTurbulence type="turbulence" baseFrequency="0.16" numOctaves="2" seed="7" result="n"/>
 <feColorMatrix in="n" type="matrix" values="0 0 0 0 0.05  0 0 0 0 0.95  0 0 0 0 0.25  -13 0 0 0 2.2" result="g"/>
 <feTurbulence type="fractalNoise" baseFrequency="0.12" numOctaves="2" seed="21" result="n2"/>
 <feColorMatrix in="n2" type="matrix" values="0 0 0 0 0.08  0 0 0 0 0.9  0 0 0 0 0.2  8 0 0 0 -4.7" result="g2"/>
 <feMerge result="m"><feMergeNode in="g"/><feMergeNode in="g2"/></feMerge>
 <feGaussianBlur in="m" stdDeviation="0.5" result="gb"/>
 <feComposite in="gb" in2="SourceGraphic" operator="in"/>
</filter>
<filter id="nuc" filterUnits="userSpaceOnUse" x="0" y="350" width="866" height="450" color-interpolation-filters="sRGB">
 <feTurbulence type="fractalNoise" baseFrequency="0.45" numOctaves="1" seed="12" result="n"/>
 <feColorMatrix in="n" type="matrix" values="0 0 0 0 0  0 0 0 0 0.05  0 0 0 0 0.8  12 0 0 0 -6.7" result="g"/>
 <feGaussianBlur in="g" stdDeviation="0.4" result="gb"/>
 <feComposite in="gb" in2="SourceGraphic" operator="in"/>
</filter>
<filter id="gsp2" filterUnits="userSpaceOnUse" x="0" y="350" width="866" height="450" color-interpolation-filters="sRGB">
 <feTurbulence type="fractalNoise" baseFrequency="0.5" numOctaves="2" seed="31" result="n"/>
 <feColorMatrix in="n" type="matrix" values="0 0 0 0 0.05  0 0 0 0 0.9  0 0 0 0 0.15  8 0 0 0 -4.0" result="g"/>
 <feGaussianBlur in="g" stdDeviation="0.4" result="gb"/>
 <feGaussianBlur in="SourceAlpha" stdDeviation="7" result="m"/>
 <feComposite in="gb" in2="m" operator="in"/>
</filter>
<filter id="dk" filterUnits="userSpaceOnUse" x="0" y="350" width="866" height="450"><feGaussianBlur stdDeviation="5"/></filter>
<filter id="soft" x="-10%" y="-10%" width="120%" height="120%"><feGaussianBlur stdDeviation="0.8"/></filter>

<clipPath id="c1"><rect x="67.5" y="400.5" width="115.5" height="59.5"/></clipPath>
<clipPath id="c2"><rect x="67.5" y="463" width="115.5" height="90"/></clipPath>
<clipPath id="c3"><rect x="67.5" y="556" width="115.5" height="96"/></clipPath>
<clipPath id="c4"><rect x="67.5" y="655" width="115.5" height="109.6"/></clipPath>
<clipPath id="c5"><rect x="187" y="400.5" width="115" height="59.5"/></clipPath>
<clipPath id="c6"><rect x="187" y="463" width="115" height="90"/></clipPath>
<clipPath id="c7"><rect x="187" y="556" width="115" height="96"/></clipPath>
<clipPath id="c8"><rect x="187" y="655" width="115" height="109.6"/></clipPath>
<clipPath id="c9"><rect x="305.5" y="400.5" width="115.5" height="59.5"/></clipPath>
<clipPath id="c10"><rect x="305.5" y="463" width="115.5" height="90"/></clipPath>
<clipPath id="c11"><rect x="305.5" y="556" width="115.5" height="96"/></clipPath>
<clipPath id="c12"><rect x="305.5" y="655" width="115.5" height="109.6"/></clipPath>
<clipPath id="c13"><rect x="454" y="400.7" width="117" height="57"/></clipPath>
<clipPath id="c14"><rect x="454" y="460.2" width="117" height="90.6"/></clipPath>
<clipPath id="c15"><rect x="454" y="554" width="117" height="94.7"/></clipPath>
<clipPath id="c16"><rect x="454" y="652" width="117" height="114.5"/></clipPath>
<clipPath id="c17"><rect x="573.7" y="400.7" width="115.3" height="57"/></clipPath>
<clipPath id="c18"><rect x="573.7" y="460.2" width="115.3" height="90.6"/></clipPath>
<clipPath id="c19"><rect x="573.7" y="554" width="115.3" height="94.7"/></clipPath>
<clipPath id="c20"><rect x="573.7" y="652" width="115.3" height="114.5"/></clipPath>
<clipPath id="c21"><rect x="692.5" y="400.7" width="116.5" height="57"/></clipPath>
<clipPath id="c22"><rect x="692.5" y="460.2" width="116.5" height="90.6"/></clipPath>
<clipPath id="c23"><rect x="692.5" y="554" width="116.5" height="94.7"/></clipPath>
<clipPath id="c24"><rect x="692.5" y="652" width="116.5" height="114.5"/></clipPath>
</defs>
<rect x="67.5" y="400.5" width="115.5" height="59.5" fill="#000"/>
<g clip-path="url(#c1)">
<rect x="67.5" y="400.5" width="115.5" height="59.5" fill="#021a06" opacity="1"/>
<rect x="67.5" y="400.5" width="115.5" height="59.5" fill="#fff" filter="url(#gsp)" opacity="0.8"/>
<ellipse cx="160" cy="412" rx="28" ry="14" fill="#fff" filter="url(#gsp2)" opacity="0.6"/>
<ellipse cx="105" cy="432" rx="22" ry="10" fill="#fff" filter="url(#gsp2)" opacity="0.5"/>
<g filter="url(#bsp)"><path d="M62 417C63 416.9 63.9 417.8 68 416.5C72.1 415.2 80.2 409.3 86.8 409C93.4 408.7 101.4 412.5 107.6 414.6C113.8 416.7 118.4 419.1 124.2 421.6C130 424.2 135.7 427.6 142.2 429.9C148.7 432.2 155.7 435 163 435.4C170.3 435.8 182.2 432.6 186 432" stroke="#00f" stroke-width="8.5" fill="none" stroke-linecap="round"/><path d="M70 462C71.2 461 74.2 458.8 77 456C79.8 453.2 81.7 447.5 86.8 445C91.9 442.5 100.7 441 107.6 441C114.5 441 121.5 443.4 128.4 445C135.3 446.6 142.1 451.1 149 450.6C155.9 450.1 163.8 444.9 170 442C176.2 439.1 183.3 434.5 186 433" stroke="#00f" stroke-width="8" fill="none" stroke-linecap="round"/></g>
<rect x="85.1" y="414.7" width="39.3" height="30.9" fill="none" stroke="#fff" stroke-width="1.5"/>
</g>
<rect x="187" y="400.5" width="115" height="59.5" fill="#000"/>
<g clip-path="url(#c5)">
<rect x="187" y="400.5" width="115" height="59.5" fill="#021a06" opacity="1"/>
<rect x="187" y="400.5" width="115" height="59.5" fill="#fff" filter="url(#gsp)" opacity="0.6"/>
<ellipse cx="270" cy="415" rx="30" ry="14" fill="#fff" filter="url(#gsp2)" opacity="0.5"/>
<ellipse cx="235" cy="432" rx="20" ry="8" fill="#fff" filter="url(#gsp2)" opacity="0.4"/>
<ellipse cx="198" cy="432" rx="14" ry="18" fill="#000" filter="url(#dk)" opacity="0.8"/>
<g filter="url(#bsp)"><path d="M183 412C183.7 412 182.1 412.4 187 411.9C191.9 411.4 205.6 408.8 212.7 409C219.8 409.2 223.5 411.1 229.3 413.2C235.1 415.3 240.9 418.8 247.4 421.6C253.9 424.4 261.2 427.8 268.1 429.9C275 432 282.8 433.8 288.9 434C295 434.2 302.3 431.5 305 431" stroke="#00f" stroke-width="9.5" fill="none" stroke-linecap="round"/><path d="M190 462C191.2 461 193.7 459 197.5 456.2C201.3 453.4 206.7 447.2 212.7 445.1C218.7 443 227 443.7 233.5 443.7C240 443.7 245.7 444.6 251.5 445.1C257.3 445.6 262.6 447 268.1 446.5C273.7 446 278.7 444.6 284.8 442.3C290.9 440.1 301.6 434.6 305 433" stroke="#00f" stroke-width="7.6" fill="none" stroke-linecap="round"/></g>
<rect x="207.3" y="416.8" width="39" height="30.7" fill="none" stroke="#fff" stroke-width="1.5"/>
</g>
<rect x="305.5" y="400.5" width="115.5" height="59.5" fill="#000"/>
<g clip-path="url(#c9)">
<rect x="305.5" y="400.5" width="115.5" height="59.5" fill="#021a06" opacity="1"/>
<rect x="305.5" y="400.5" width="115.5" height="59.5" fill="#fff" filter="url(#gsp)" opacity="0.8"/>
<ellipse cx="385" cy="418" rx="38" ry="18" fill="#fff" filter="url(#gsp2)" opacity="0.8"/>
<ellipse cx="330" cy="428" rx="22" ry="10" fill="#fff" filter="url(#gsp2)" opacity="0.6"/>
<g filter="url(#bsp)"><path d="M302 410.5C302.7 410.5 302.2 411 306 410.5C309.8 410 318.7 407.2 324.8 407.7C330.9 408.1 337 410.6 342.8 413.2C348.6 415.8 353.9 419.8 359.4 423C364.9 426.2 370.2 430.5 376 432.6C381.8 434.7 386 435.4 394 435.4C402 435.4 419 433.1 424 432.6" stroke="#00f" stroke-width="7.6" fill="none" stroke-linecap="round"/><path d="M302 446C302.7 445.8 302.2 446.3 306 445C309.8 443.7 318.2 439.1 324.8 438.2C331.4 437.3 338.7 438.2 345.6 439.6C352.5 441 359.5 444.7 366.4 446.5C373.3 448.3 380.2 450.9 387.1 450.6C394 450.4 401.9 447.3 408 445C414.1 442.7 421.3 438.3 424 437" stroke="#00f" stroke-width="7" fill="none" stroke-linecap="round"/></g>
<rect x="313.4" y="412.2" width="39.4" height="30.1" fill="none" stroke="#fff" stroke-width="1.5"/>
</g>
<rect x="454" y="400.7" width="117" height="57" fill="#000"/>
<g clip-path="url(#c13)">
<rect x="454" y="400.7" width="117" height="57" fill="#021a06" opacity="1"/>
<rect x="454" y="400.7" width="117" height="57" fill="#fff" filter="url(#gsp)" opacity="0.6"/>
<ellipse cx="470" cy="410" rx="20" ry="10" fill="#fff" filter="url(#gsp2)" opacity="0.6"/>
<ellipse cx="545" cy="440" rx="25" ry="14" fill="#fff" filter="url(#gsp2)" opacity="0.6"/>
<g filter="url(#bsp)"><path d="M450 436C450.7 435.7 450.2 435.7 454 434C457.8 432.3 467.4 428.2 472.8 425.7C478.2 423.2 480.8 420.4 486.6 418.8C492.4 417.2 501.2 415.8 507.4 416C513.6 416.2 518.2 418.6 524 420.2C529.8 421.8 533.7 423.9 542 425.7C550.3 427.5 568.7 430.1 574 431" stroke="#00f" stroke-width="7.6" fill="none" stroke-linecap="round"/><path d="M450 448C450.7 447.8 450.2 447.7 454 446.5C457.8 445.3 466.2 442.1 472.8 441C479.4 439.9 486 439.6 493.6 439.6C501.2 439.6 512.5 439.6 518.5 441C524.5 442.4 526.4 445.1 529.6 447.9C532.9 450.7 536.1 455.2 538 457.6C539.9 460 540.5 461.3 541 462" stroke="#00f" stroke-width="6.4" fill="none" stroke-linecap="round"/></g>
<rect x="481.6" y="413.4" width="40.2" height="31.2" fill="none" stroke="#fff" stroke-width="1.5"/>
</g>
<rect x="573.7" y="400.7" width="115.3" height="57" fill="#000"/>
<g clip-path="url(#c17)">
<rect x="573.7" y="400.7" width="115.3" height="57" fill="#021a06" opacity="1"/>
<rect x="573.7" y="400.7" width="115.3" height="57" fill="#fff" filter="url(#gsp)" opacity="0.7"/>
<g filter="url(#bsp)"><path d="M570 429C570.5 428.9 569.4 429.3 573 428.5C576.6 427.7 585.2 426.2 591.8 424.3C598.4 422.4 605.7 419 612.6 417.4C619.5 415.8 627.2 414.4 633.4 414.6C639.6 414.8 644.2 416.2 650 418.8C655.8 421.4 661.8 426.2 668 429.9C674.2 433.6 683.4 438.6 687.4 441C691.4 443.4 691.2 443.5 692 444" stroke="#00f" stroke-width="7.6" fill="none" stroke-linecap="round"/><path d="M570 438.5C570.5 438.4 569.4 438.7 573 438.2C576.6 437.7 585.2 435.6 591.8 435.4C598.4 435.2 605.7 436.1 612.6 436.8C619.5 437.5 627.4 438.5 633.4 439.6C639.4 440.8 644.2 441.4 648.6 443.7C653 446 657.1 450.7 659.7 453.4C662.3 456.1 663.3 458.9 664 460" stroke="#00f" stroke-width="6.6" fill="none" stroke-linecap="round"/></g>
<rect x="610" y="412.3" width="41" height="31.1" fill="none" stroke="#fff" stroke-width="1.5"/>
</g>
<rect x="692.5" y="400.7" width="116.5" height="57" fill="#000"/>
<g clip-path="url(#c21)">
<rect x="692.5" y="400.7" width="116.5" height="57" fill="#021a06" opacity="1"/>
<rect x="692.5" y="400.7" width="116.5" height="57" fill="#fff" filter="url(#gsp)" opacity="0.5"/>
<ellipse cx="720" cy="450" rx="28" ry="8" fill="#fff" filter="url(#gsp2)" opacity="0.5"/>
<g filter="url(#bsp)"><path d="M689 436C689.5 435.7 688.4 435.9 692 434C695.6 432.1 705.1 427.1 710.8 424.3C716.5 421.5 720.2 418.9 726 417.4C731.8 415.9 739.4 415.1 745.4 415.3C751.4 415.5 756.2 417.1 762 418.8C767.8 420.5 771.7 423.3 780 425.7C788.3 428.1 806.7 431.8 812 433" stroke="#00f" stroke-width="7.6" fill="none" stroke-linecap="round"/><path d="M689 445C689.5 444.8 688.4 444.8 692 443.7C695.6 442.6 704.2 439.6 710.8 438.2C717.4 436.8 724 435.6 731.6 435.4C739.2 435.2 750 435.6 756.5 436.8C763 438 766.7 440 770.4 442.3C774.1 444.6 776.8 447.7 778.7 450.6C780.6 453.6 781.5 458.4 782 460" stroke="#00f" stroke-width="6.2" fill="none" stroke-linecap="round"/></g>
<rect x="723.6" y="411.7" width="40.4" height="30.6" fill="none" stroke="#fff" stroke-width="1.5"/>
</g>
<text x="401.7" y="448.3" font-size="9.3" text-anchor="middle" font-weight="bold" fill="#fff" >100 μm</text>
<path d="M395.5 454.4H407" stroke="#fff" stroke-width="2.2"/>
<text x="790.5" y="444.3" font-size="9.3" text-anchor="middle" font-weight="bold" fill="#fff" >100 μm</text>
<path d="M785 451.8H796.4" stroke="#fff" stroke-width="2.2"/>
<rect x="67.5" y="463" width="115.5" height="90" fill="#000"/>
<g clip-path="url(#c2)">
<rect x="67.5" y="463" width="115.5" height="90" fill="#021405" opacity="1"/>
<rect x="67.5" y="463" width="115.5" height="90" fill="#fff" filter="url(#fib)" opacity="0.4"/>
<rect x="67.5" y="463" width="115.5" height="90" fill="#fff" filter="url(#gsp)" opacity="0.3"/>
<rect x="67.5" y="463" width="115.5" height="90" fill="#fff" filter="url(#nuc)" opacity="0.9"/>
<path d="M168.9 494.9Q172.9 491.3 177.3 490.7M168.9 494.9Q169.6 500.1 172.8 503.3M168.9 494.9Q166 495.6 164.2 497M168.9 494.9Q168.7 488.5 165.5 485.3M138.2 541.9Q145.2 542.6 147.7 544.3M138.2 541.9Q136.7 548 137.8 550.6M138.2 541.9Q134.7 545.7 128.5 546M138.2 541.9Q134 540.4 130.6 538.3M138.2 541.9Q138.9 539.9 136.8 536.1M138.2 541.9Q143 537.9 146.4 535.7M132.8 538.9Q136.1 537 136.2 533.4M132.8 538.9Q136.2 537.7 138.2 539M132.8 538.9Q135.8 542.3 136.1 545.1M132.8 538.9Q133.8 539.6 133.1 543.1M132.8 538.9Q130.4 540.9 127.2 541.5M132.8 538.9Q131 536.4 127 537.1M132.8 538.9Q129.7 535 127.6 530.9M155.4 490Q157.6 495.4 158 496.1M155.4 490Q150.8 494.2 148.8 495M155.4 490Q153.6 486.6 149.6 483.5M155.4 490Q155.2 488.9 157.4 486.5M155.4 490Q157.7 492.9 162.8 493.4M166.4 525.8Q165.1 529.7 165 531.9M166.4 525.8Q165 527.7 160.8 527M166.4 525.8Q161.9 524.3 160.3 519.7M166.4 525.8Q166.7 525.5 170 523.5M166.4 525.8Q172.7 525.2 176 523.5M166.4 525.8Q167.2 528 170.3 533.4M83 539.5Q85.2 543.1 88.1 546.8M83 539.5Q80.8 541.1 79.6 542M83 539.5Q81.2 535.5 77.3 532.1M83 539.5Q86 538.3 84.9 535.6M83 539.5Q88.4 540.9 91.2 540.7M128.9 517.4Q128.3 514.6 124.3 511.3M128.9 517.4Q132.2 517.4 135.4 513.9M128.9 517.4Q130.9 519.1 135.5 520.5M128.9 517.4Q128.8 520.9 125.2 525.4M128.9 517.4Q124.8 519.9 122.6 519M122 544.9Q119.6 544.8 114.9 547.7M122 544.9Q118.2 545 116.6 543M122 544.9Q123.4 542.5 121.8 538.3M122 544.9Q125.5 541.9 127.5 537.5M122 544.9Q125.9 545.4 132.1 546M122 544.9Q125.4 550.7 128.4 553.3M122 544.9Q119.2 550.1 118.6 554.9M96.5 482.1Q97.4 485.1 96.2 490M96.5 482.1Q96.7 482.6 93.9 486.2M96.5 482.1Q90.8 480.7 89.3 481.9M96.5 482.1Q98.2 480.6 97.7 477M96.5 482.1Q98.4 478.9 102 477.6M96.5 482.1Q100.6 483.3 103.8 485.4M120.5 497.3Q117.4 502.2 116.9 504.4M120.5 497.3Q117.8 497.7 111.9 499.3M120.5 497.3Q116.6 492.2 115.6 490.7M120.5 497.3Q118.4 494.8 119.6 491.1M120.5 497.3Q123.6 494.5 126.9 492.8M120.5 497.3Q122.7 500.8 127.7 502.5M120.5 497.3Q121.6 501.8 124.7 503.6M160 520.2Q158 522.5 155.5 520.9M160 520.2Q158 512.9 156.5 509.8M160 520.2Q163 517.7 162.7 513.5M160 520.2Q165 522.5 167.2 524.1M160 520.2Q161.8 524.8 164.9 526.3M160 520.2Q156.2 521.2 155.7 523.6M89.8 541.7Q88.9 542.3 84.5 542.3M89.8 541.7Q85.9 539.2 86.2 536.9M89.8 541.7Q93.8 539.4 95 534.5M89.8 541.7Q92.9 542.3 98.4 540.2M89.8 541.7Q89.6 545.3 90.1 545.7M174 507.6Q171.6 507 168 508.7M174 507.6Q172.4 502.2 170 497.7M174 507.6Q172.8 504.5 174.2 500.2M174 507.6Q178.7 506 183.4 507.2M174 507.6Q177 507.3 179 510.3M174 507.6Q174.3 512.4 174.9 515.3M174 507.6Q169.2 508.2 167.8 512.2M81.1 494.3Q84.3 492.1 85.2 490.1M81.1 494.3Q85.8 494.2 88.7 496.8M81.1 494.3Q82 498.2 82.3 503.1M81.1 494.3Q77.4 498.1 76.4 499.3M81.1 494.3Q77.9 492.6 71.7 491.9M81.1 494.3Q80.8 493.2 79.5 490M69.9 522.9Q69.3 526.3 70.5 529.2M69.9 522.9Q67.6 527.1 63.1 527.5M69.9 522.9Q66.1 522.7 63.5 522.4M69.9 522.9Q68.7 518.7 64.2 517.4M69.9 522.9Q72.2 517.1 75 514M69.9 522.9Q72.7 521.4 75.8 522.7M69.9 522.9Q73 525.3 77 530.6M108.1 530.5Q109.7 526.6 107.5 525.8M108.1 530.5Q112 526.3 114.5 525.3M108.1 530.5Q110.9 532.2 113.5 534.7M108.1 530.5Q107.9 536.6 109 539M108.1 530.5Q106.8 531.3 103.9 530.3M108.1 530.5Q103.5 529.6 101.2 526.3M141.9 487.8Q141.1 491.3 141 492.8M141.9 487.8Q137 493.4 135.2 494.5M141.9 487.8Q135.4 485.4 132.4 484.2M141.9 487.8Q142.9 481.6 140.1 477.3M141.9 487.8Q142.8 483.8 146.5 483.2M141.9 487.8Q145.5 488.8 146 490.3M103.3 477.7Q103.2 479.9 102.2 484.8M103.3 477.7Q100.1 478.7 98.1 476.3M103.3 477.7Q105 473.9 106.7 470.7M103.3 477.7Q108.3 476.8 113.9 479.7M106.9 506.5Q107.5 501.8 108 501.3M106.9 506.5Q107.9 504.9 110 502.4M106.9 506.5Q108.9 506.2 112.5 508.6M106.9 506.5Q108.3 511.5 109.5 515.7M106.9 506.5Q105.5 509.4 104.7 514.8M106.9 506.5Q100.7 507.5 99 511.3M106.9 506.5Q105.3 505.3 102.5 503.5M95.8 518Q96.1 521.5 97.6 524M95.8 518Q91.2 520.3 88.6 522.4M95.8 518Q88.5 519.7 85.9 520.7M95.8 518Q91.8 514.7 92 510.1M95.8 518Q95.1 512.8 97.5 508.6M95.8 518Q100 517.8 100.7 517.5M95.8 518Q98.4 517.5 100.6 520M73.3 479Q73.4 480.8 70.7 482.1M73.3 479Q69.5 479 68.1 480.9M73.3 479Q71.8 475.6 68.1 473.7M73.3 479Q74.3 475.4 75.8 472.7M73.3 479Q76 478.1 78.2 477.9M73.3 479Q77.6 481.9 81.1 485M169.1 468.2Q168.8 471.8 166.3 475M169.1 468.2Q166.3 466.1 160.6 464.6M169.1 468.2Q170.2 466.4 169.8 462.1M169.1 468.2Q173.8 467.6 179.6 468.9M169.1 468.2Q170.6 471.8 172.9 471.6M124.6 536.3Q124.4 539.9 123.5 540.2M124.6 536.3Q120.7 535.4 117.4 537.7M124.6 536.3Q123.4 529.6 123 526.2M124.6 536.3Q130.2 537.9 134.1 538.2M136.3 524.6Q143.1 520.4 145.6 519.3M136.3 524.6Q136.2 525.3 138.3 528.6M136.3 524.6Q130.6 526.3 128.4 525.9M136.3 524.6Q138 523.1 136 519.2M119.7 523.9Q117.9 520.2 113.3 517.9M119.7 523.9Q122.4 521.9 126.7 520.4M119.7 523.9Q122.3 525.3 123.2 527.2M119.7 523.9Q118.6 524.1 114.2 527.2M145.2 501Q140.5 502.6 139.8 507.2M145.2 501Q141 498.8 137.1 500M145.2 501Q140.8 497.8 140 492.1M145.2 501Q146.4 495.3 149.8 491.3M145.2 501Q150.1 498.2 151.9 497.3M145.2 501Q150.3 504.4 153.4 507.5M145.2 501Q148.8 505.4 148.4 510.9M173.2 494.2Q170.7 499.1 170.7 501.1M173.2 494.2Q169.2 492.1 164.3 488.4M173.2 494.2Q172.9 489.7 172.3 488.3M173.2 494.2Q177.8 491.4 178.4 488.1M173.2 494.2Q174.7 493.6 177.2 495.3M173.2 494.2Q172.7 499.3 175.7 501M182.1 470.5Q176.9 473.4 174.6 477.5M182.1 470.5Q177.9 474.3 173.1 473.9M182.1 470.5Q178.4 469.4 177.6 468.4M182.1 470.5Q183.7 466.4 182.3 462.8M182.1 470.5Q183.2 467.3 186.2 466.3M182.1 470.5Q185 468.7 187.8 470.2M182.1 470.5Q185.1 473.3 186.6 479.1M181.9 478.2Q180.5 478.8 178.7 480.8M181.9 478.2Q178.4 477.1 177.3 477.8M181.9 478.2Q181.3 472.4 184.2 468.1M181.9 478.2Q185.2 479 185.6 476.7M181.9 478.2Q184 478.4 188.5 480M181.9 478.2Q183.5 481.8 185 485.3M131.7 541.3Q126.9 544.5 125.4 544.2M131.7 541.3Q130.8 535.9 129.6 532.1M131.7 541.3Q133.8 537.3 136.4 534M131.7 541.3Q134.6 540.2 140.2 541.9M131.7 541.3Q132.9 546.3 133.5 549.3M176.9 500Q181.3 497.3 185.1 497.4M176.9 500Q179.2 502.4 181.9 506.3M176.9 500Q173.8 502.1 169.9 504M176.9 500Q175.3 496.1 175.5 492.1M145.9 511.2Q142 511.7 138.9 514.1M145.9 511.2Q145.2 509 141.6 508.9M145.9 511.2Q143.8 504.3 144.1 500.8M145.9 511.2Q147.8 507.7 146.7 507.2M145.9 511.2Q150.6 508 152 506.8M145.9 511.2Q151 511.2 153.7 514.2M145.9 511.2Q146.2 516.1 145.3 518.7M162.9 522Q158.4 518 157 513.1M162.9 522Q167.2 517.8 169 516.6M162.9 522Q166.2 520 170.1 519.9M162.9 522Q165.4 527.4 166.3 530.3M162.9 522Q160.7 523.8 155.5 527.7M162.9 522Q162.3 523.2 158.6 521.9M116.5 536Q112.1 534.6 108.1 532.6M116.5 536Q116.1 531.2 112.5 526.6M116.5 536Q116.8 533.7 118.7 530.9M116.5 536Q121.2 531.9 122.7 532.1M116.5 536Q121.4 535.7 124.4 538.5M116.5 536Q115.7 538.7 115.4 544.2M116.5 536Q110.7 538.2 109.4 542.3M69.6 487.3Q70.8 485.7 74.1 486.6M69.6 487.3Q71.4 492.9 74.8 495.7M69.6 487.3Q67.6 490.5 67.5 492.4M69.6 487.3Q66.7 488.2 63.3 485.7M69.6 487.3Q67 482.8 65.1 481.1M69.6 487.3Q70.7 486.2 74 484.2M91.2 541.8Q88.1 540.9 87.9 539.2M91.2 541.8Q92.5 538.6 93.5 535.5M91.2 541.8Q95.4 539.4 101.9 540.6M91.2 541.8Q93.1 543.9 92.5 546.3M91.2 541.8Q89.5 547.4 88.8 552.4M91.2 541.8Q84 542.3 81.3 541M174.2 516.6Q181.4 515.8 184 518.2M174.2 516.6Q172.1 519.2 172.1 524.2M174.2 516.6Q172.2 516.5 168 514.7M174.2 516.6Q171.9 512.8 173.5 512.2M174.2 516.6Q177.7 514.7 181 512.8M80 487.2Q79.3 482.4 79.6 479M80 487.2Q82.7 487.3 87.1 486.2M80 487.2Q82.4 486.7 84.5 489.6M80 487.2Q76.7 491.5 75.7 492.4M80 487.2Q79 487.7 74.8 487.2M80 487.2Q79.6 484.7 77 482.9M120.4 477.9Q123.9 481.4 126.6 481.6M120.4 477.9Q119 482.2 117.9 483.6M120.4 477.9Q114.1 479.5 111.3 479.4M120.4 477.9Q115.8 473.9 115.1 468.7M120.4 477.9Q124.7 475.7 125.6 470.3M120.4 477.9Q122.5 479 126.6 478.6M83.1 471.1Q86.1 468.5 87.7 468.2M83.1 471.1Q87.5 474 87.8 474.7M83.1 471.1Q81.8 473.3 82.1 476.7M83.1 471.1Q79.6 472.5 76.3 474.5M83.1 471.1Q77.4 470.8 75.1 468.2M83.1 471.1Q83.5 464.7 84 462.6M179.5 505.7Q179.8 502.3 179.4 496.9M179.5 505.7Q180.7 504.2 183.8 504.7M179.5 505.7Q179.3 511.7 175.5 515.3M179.5 505.7Q176.8 506.3 172.8 507.8M97 491Q96.7 489 95.7 486M97 491Q100.3 489.2 101.4 490.9M97 491Q100.8 495.6 102.9 499.7M97 491Q96.5 496 96.8 497.3M97 491Q96.4 493.4 93.1 492.7M97 491Q93.5 488.7 94.2 487.4M76.9 535.7Q77.7 537.4 76.1 542.3M76.9 535.7Q72.5 535.7 70 534.5M76.9 535.7Q75.4 534.5 75.3 531.5M76.9 535.7Q80.7 535.3 81.8 531.5M76.9 535.7Q77.7 537.5 81.6 541.1M82.3 537.6Q83.6 541.2 86.4 544.1M82.3 537.6Q82.3 539.7 79 539.9M82.3 537.6Q78.3 536.8 72.2 535.3M82.3 537.6Q81.8 535.4 83.5 532.6M82.3 537.6Q87.9 534.5 91.3 535.3M93.7 496Q91.7 497.1 89.2 496.3M93.7 496Q91.7 494.6 92.8 491.9M93.7 496Q94.1 493.4 97.1 492.7M93.7 496Q100.3 497.9 102.3 500M93.7 496Q95.5 500.8 95.1 504.8M92.9 513.7Q92.2 515.6 88.4 518.9M92.9 513.7Q87.9 514.9 84.3 518.3M92.9 513.7Q89.5 510.9 86.9 509.6M92.9 513.7Q91.5 506.5 93.8 503.8M92.9 513.7Q97.3 512.7 100.9 515.3M92.9 513.7Q95.7 515.6 98.1 519.5M122.9 484.7Q120.7 486.2 116.8 486.4M122.9 484.7Q119.8 482.5 119.4 478.9M122.9 484.7Q127.7 484.4 129.2 481.1M122.9 484.7Q123.2 488.8 125.2 491.8M111.3 535.3Q113.6 538.6 117.8 537.7M111.3 535.3Q112.4 539.7 115.8 541M111.3 535.3Q110 538.7 110.1 542.7M111.3 535.3Q106.1 535.7 105 536M111.3 535.3Q106.3 534.3 103.7 531.4M111.3 535.3Q115 530 115.1 527.2M111.3 535.3Q114 533 118.7 530.2M81.4 490Q85.1 483.8 86.9 481.8M81.4 490Q86.4 493.9 90.2 494.3M81.4 490Q78.6 492.6 73.8 497.5M81.4 490Q77.5 487.7 71.9 486.8M81.9 474.7Q78.9 471.7 79.9 470.4M81.9 474.7Q83.2 474.4 87.3 471.9M81.9 474.7Q88.2 472.5 91.7 473.3M81.9 474.7Q83.8 480.8 84.4 483.4M81.9 474.7Q78 477.6 74.4 481.2M81.9 474.7Q76 476.1 74.5 475.4M86.6 498Q84.8 505.2 85.1 507.7M86.6 498Q85.5 498.2 82.2 496.9M86.6 498Q83.4 493.5 84 489.7M86.6 498Q90.1 498.4 91.8 497.5M107.9 514.6Q104.8 509.7 105.8 504.7M107.9 514.6Q108.5 510.9 110.5 510.8M107.9 514.6Q111.2 515.1 115.9 511.9M107.9 514.6Q110 517.7 111.1 521M107.9 514.6Q105.8 515.8 105.5 518.1M107.9 514.6Q106.9 515.8 103.1 513.5M79.6 498.7Q80.5 496.5 81.1 493.7M79.6 498.7Q84.9 496.6 90.5 497.7M79.6 498.7Q80.3 505.2 80.9 509.1M79.6 498.7Q75.9 494.7 71 494.5M154.1 487.6Q155.4 482.6 158.5 481.2M154.1 487.6Q160.5 488.4 164 489.2M154.1 487.6Q156.9 489.9 157 495.3M154.1 487.6Q154.2 493 152.5 495.1M154.1 487.6Q151 486.9 147.1 486.4M154.1 487.6Q150.7 484.6 147.1 479.2M108.2 504.1Q109.8 510 112.5 512.6M108.2 504.1Q105.3 506.1 99.7 507.2M108.2 504.1Q108.4 500.4 106.4 500.5M108.2 504.1Q109.7 503.3 113.9 501.6M151.9 503.7Q148.1 500.9 142.2 501.1M151.9 503.7Q148.5 503.1 148.6 499.5M151.9 503.7Q152.8 498.8 156 497.7M151.9 503.7Q154.5 503.7 158.9 503.2M151.9 503.7Q155.2 506.1 158.5 507.3M151.9 503.7Q152.6 507.7 153.3 511.1M151.9 503.7Q146 504.5 142.9 508M155 497.3Q158.5 501.7 158.4 507.5M155 497.3Q155.1 500.2 152.1 501.7M155 497.3Q150.3 496.9 147.2 496.3M155 497.3Q151 494.3 151.1 490.1M155 497.3Q157.1 493.5 158.7 491.8M155 497.3Q160.4 496 164.4 498.5M155 497.3Q158.6 497.9 159.1 501.5M108 512.6Q108 509.3 106.9 507.1M108 512.6Q111.4 511.8 116.4 509M108 512.6Q109.3 519.1 109.5 521.2M108 512.6Q103.6 514.3 100.3 513.2M104.8 495.4Q103 499.8 101.3 500.4M104.8 495.4Q100.4 496.7 100.2 494.5M104.8 495.4Q104.3 494.2 103.8 491.4M104.8 495.4Q104.3 491.6 105.8 491M104.8 495.4Q105.6 494.3 109.6 495.2M104.8 495.4Q106.6 495.6 107.1 498.9M97.3 477.2Q98.8 474.2 102.6 472M97.3 477.2Q101.2 477.2 104.1 478.6M97.3 477.2Q98.4 480.3 99.8 481.2M97.3 477.2Q96.7 480.7 94 483.7M97.3 477.2Q93.2 475.1 89.4 475.3M97.3 477.2Q93.7 473.3 91.7 472.2M97.3 477.2Q98.1 472.7 96.2 469.3M100.2 544.3Q94.3 542.9 92 541.4M100.2 544.3Q100.1 544.3 96.8 542.1M100.2 544.3Q101.5 542.1 99.8 539.8M100.2 544.3Q105.8 542.1 108.8 537.6M100.2 544.3Q103.4 547.7 106.4 551M100.2 544.3Q102.5 548.2 105.3 552.7M100.2 544.3Q101.2 545.3 99 548.5M129.5 470Q134.4 471 135.9 468.6M129.5 470Q131.3 472.1 132.6 473.1M129.5 470Q126.5 471.9 125.8 475.5M129.5 470Q126.1 471 121.3 474.8M129.5 470Q124.6 467.5 123.4 463.7M129.5 470Q128.9 466.1 132 460.4M99 494.3Q96.7 496.5 96.3 498.2M99 494.3Q94.8 496.4 88.4 495.2M99 494.3Q93.1 493.8 91.1 490.1M99 494.3Q97.4 490.1 93 486.1M99 494.3Q101.2 493.1 100.8 489.3M99 494.3Q103.9 494.2 106.7 491.2M99 494.3Q103 495.9 102.9 497M84.1 539Q83.1 537.6 83.1 533.6M84.1 539Q87.9 536.8 89.1 536.9M84.1 539Q86.1 542.9 85.5 544.5M84.1 539Q82.2 539.6 81.4 542.2M84.1 539Q80.8 535.3 78.2 534.9M83.6 488.1Q80.4 490.6 75.7 489.1M83.6 488.1Q79.1 485.9 74.4 486.3M83.6 488.1Q85.5 485.3 84.2 482.3M83.6 488.1Q86.9 484.8 87.5 480.6M83.6 488.1Q90.6 487.2 92.8 487.7M83.6 488.1Q84.5 492.7 86.3 493.6M83.6 488.1Q81 488.5 81.6 491.6M169.6 541Q167.8 541.5 165.9 543.4M169.6 541Q166.1 540.9 161.9 542.5M169.6 541Q167.8 539 166.3 537.9M169.6 541Q167.5 534.5 167.6 532.5M169.6 541Q171.7 537.8 176.1 534.2M169.6 541Q176.7 543.1 179.2 545.8M169.6 541Q170.3 544.4 171.6 547.1M136.8 533.4Q140.1 534.4 145.4 532.5M136.8 533.4Q137.2 540.3 141 543.3M136.8 533.4Q133.5 536.3 129.4 536.8M136.8 533.4Q130.6 531.7 128.2 530.4M136.8 533.4Q138.4 530.4 137.3 527.9M167.4 500.1Q169.9 502.9 173 502.3M167.4 500.1Q168 506 165.9 508.6M167.4 500.1Q161.1 500 158.7 498.1M167.4 500.1Q167.4 499.3 168.5 495.3M118.2 517Q124.6 518.4 126.2 516.8M118.2 517Q117.9 522.3 114.1 523.9M118.2 517Q115.4 515.2 110.1 513.9M118.2 517Q120.4 511.2 120.4 509.2M97.2 522.5Q97.3 526.3 99.3 526.5M97.2 522.5Q96.5 527 93.5 527M97.2 522.5Q94.6 524.3 90.8 524.2M97.2 522.5Q94.6 520.7 91.2 516.3M97.2 522.5Q99.7 517.4 99.8 513.6M97.2 522.5Q99.7 523.4 102.4 524.9M160.7 499.5Q157.1 496.8 157.6 496.7M160.7 499.5Q159.4 498.4 161.8 494.9M160.7 499.5Q164.5 498.4 165.1 497.6M160.7 499.5Q163.7 501.2 167.1 503.1M160.7 499.5Q159.4 500.8 159.7 503.5M160.7 499.5Q158.8 501.5 154.5 499.8M73 473Q70.6 476.6 71.8 478.1M73 473Q68 473.2 64.6 475.1M73 473Q70.7 472.6 65.7 470.6M73 473Q73.6 466.6 71.4 463.1M73 473Q76.2 470.3 80 466.9M73 473Q77.4 470.9 79.5 471.7M73 473Q73.4 477.4 74.9 482.3M77.4 525.4Q82.1 522.5 88 523.3M77.4 525.4Q81.5 528.8 81.8 532.2M77.4 525.4Q73.6 528.2 68.6 527.9M77.4 525.4Q74.1 523 74.6 518.2M97.6 525.6Q95.1 533 95.6 536.4M97.6 525.6Q94.7 525.9 92.3 525.3M97.6 525.6Q95.1 523.8 95.9 521.7M97.6 525.6Q100.7 524.7 101.1 523.7M150.2 528.2Q153 525.3 152.3 522.4M150.2 528.2Q152.4 526.9 155.2 528.1M150.2 528.2Q150.3 531.8 149.1 533.9M150.2 528.2Q147.1 528.2 143.3 525.5M125.7 469.3Q123.1 470.2 118.8 470.4M125.7 469.3Q123.5 467.4 119 466.1M125.7 469.3Q127.1 464.3 130.8 461.9M125.7 469.3Q129.7 471 134.5 473.1M125.7 469.3Q127.2 472.2 126.3 476.4M86 476.1Q86.1 475.7 83.2 471.8M86 476.1Q89.1 474.1 92.2 474.9M86 476.1Q88.7 481.7 92.3 484.9M86 476.1Q83.9 480.3 81.7 485.4M86 476.1Q78.3 475.9 75.6 476.9M95 513.2Q97.7 519 97.6 523.8M95 513.2Q92.1 516.7 88.2 519.3M95 513.2Q93.8 508.8 89.9 506M95 513.2Q94.8 510.8 95.9 509.2M95 513.2Q98.3 516.6 102.4 516.2M86.2 531.9Q91.7 528.5 93.3 525.2M86.2 531.9Q88.6 534.3 93.2 537.6M86.2 531.9Q87.5 534.4 87.6 538.4M86.2 531.9Q85 536.8 82.5 538.3M86.2 531.9Q81.4 531.4 78.3 533M86.2 531.9Q85.5 528.3 81.7 524.2M86.2 531.9Q84.6 529.8 85.9 524.8M171.1 516.4Q175.6 511.3 176.9 509.1M171.1 516.4Q173.8 518.5 175 519.1M171.1 516.4Q167.1 519.2 167.4 522.6M171.1 516.4Q169.8 511.5 166.4 509.3M177.9 488.8Q179.7 489.2 183.4 491.2M177.9 488.8Q176.5 495 174.9 496.6M177.9 488.8Q176.6 487.7 173.5 488.9M177.9 488.8Q180.5 482.5 182.2 480.4M133.6 481.3Q131.5 477.6 132.1 471.6M133.6 481.3Q139.3 476.7 142.7 475.7M133.6 481.3Q137.8 479.3 144.4 480.3M133.6 481.3Q135.2 484.2 138.2 486.8M133.6 481.3Q131.5 484.3 130.5 484.3M133.6 481.3Q128.8 486 124.2 486.6M133.6 481.3Q133.4 478.7 129.9 476.3M84.4 503.1Q85.3 500.5 86.5 496.3M84.4 503.1Q89 503.1 89.4 502.9M84.4 503.1Q89.8 507.3 92.7 508.6M84.4 503.1Q84.5 505.5 83.6 510M84.4 503.1Q82.8 504.9 78.8 504.6M84.4 503.1Q81.1 501.9 77.7 499M84.4 503.1Q82.4 498.8 83.5 494M98.5 510.8Q99.9 504.6 98.8 500M98.5 510.8Q102.1 507.4 105.8 505.6M98.5 510.8Q102.7 511.2 104.7 510.3M98.5 510.8Q101.4 515 100.3 518.3M98.5 510.8Q96.9 514.9 95.8 515M98.5 510.8Q96.5 509.7 92.3 508.6M176.6 539.2Q174.3 540.9 175.7 543.8M176.6 539.2Q174 539.5 172.7 540.4M176.6 539.2Q176.2 535.1 172.7 535.4M176.6 539.2Q176.2 537.3 178.4 533.2M176.6 539.2Q179 535.4 184.5 535.2M176.6 539.2Q180.4 543.5 185.6 544.6M164.2 505.8Q164.3 510.2 163.2 510.8M164.2 505.8Q158.1 504.5 153.8 506.6M164.2 505.8Q163.5 498.5 164.7 495.8M164.2 505.8Q169.8 507.7 173 508.9M158.9 516.8Q156.3 514.4 157.7 510.9M158.9 516.8Q162 516.1 165 512.9M158.9 516.8Q159.4 519.7 161.1 521.4M158.9 516.8Q156.3 518 152.7 520M158.9 516.8Q154.8 518.1 151.7 515.6M90.2 480.7Q94.2 477 99.2 476.8M90.2 480.7Q90.2 485.4 92.9 488.8M90.2 480.7Q88.8 486.5 85.6 489.6M90.2 480.7Q87.3 480.3 85.2 478.7M90.2 480.7Q90.2 479.1 90.7 476M73.5 537Q74.3 537.3 78.4 536.5M73.5 537Q74.5 541.2 76.6 543.4M73.5 537Q72.8 537.8 69.9 540.1M73.5 537Q68.3 537.8 67.1 538.2M73.5 537Q71.7 535 73.7 529.7M73.5 537Q73.7 531.1 77.3 529.4M90.3 500Q87.9 502.2 88.8 503.8M90.3 500Q85.1 499.2 82.2 500.5M90.3 500Q87.7 493.9 88.9 491.3M90.3 500Q92.2 499.8 94.7 498.8M90.3 500Q94.4 501.8 97.5 504.5M155.3 535.3Q149.9 538.4 144.8 537.8M155.3 535.3Q153.4 531.4 148.4 529.8M155.3 535.3Q158.2 535.2 159.4 532.8M155.3 535.3Q156.5 542.1 160.3 544.2M114.3 506.3Q115.4 510.5 118 512.7M114.3 506.3Q111.7 507.8 109.4 511.1M114.3 506.3Q113 505.8 109.1 502.1M114.3 506.3Q115.5 500.2 119 497.1M103.8 491.6Q100.9 488.3 95.2 486.2M103.8 491.6Q105.4 486.6 106.7 483.5M103.8 491.6Q107.3 488 109.6 487.9M103.8 491.6Q107 495.8 112.9 497.2M103.8 491.6Q105.5 494.8 106.2 496.2M103.8 491.6Q101.9 494.2 102.7 496.7M103.8 491.6Q99.6 492.5 95.4 493.8M156.6 536.5Q160.2 535.2 162.5 535.3M156.6 536.5Q155.6 539.1 158.4 541.7M156.6 536.5Q151.3 537.7 149.5 539.6M156.6 536.5Q152.3 534.2 148.5 529.8M156.6 536.5Q157.2 532.2 160 529.6M81.5 502Q77 500.8 74.3 500.7M81.5 502Q78.7 497.7 79.1 492.5M81.5 502Q84.1 501.9 85.3 498.8M81.5 502Q84.1 504.9 87.6 506.3M81.5 502Q84.8 506.6 84.6 507.8M81.5 502Q80.5 506.7 78.1 510.9M123.5 490.1Q121.5 488.4 119.7 483.9M123.5 490.1Q123.3 486.3 122.1 481.5M123.5 490.1Q126.2 487.4 127 486M123.5 490.1Q126.7 491.9 131.7 493M123.5 490.1Q125.1 494.9 128.3 496.2M123.5 490.1Q121.1 492.5 119.9 497.9M123.5 490.1Q118.1 490.5 117 491.2M115.7 483.1Q116 481.2 119.8 479.3M115.7 483.1Q116.5 482.9 119.7 483.9M115.7 483.1Q115.4 484.3 114.6 487.4M115.7 483.1Q111.6 480.2 111.3 478.7M146.9 538.6Q148 540.7 146.2 544.2M146.9 538.6Q141.1 540 138.5 541.1M146.9 538.6Q144.2 534.3 143.1 532.3M146.9 538.6Q148.3 539 151.7 536.5M146.9 538.6Q147.1 542.5 150.3 544.6M104.1 536.3Q104.9 534.4 108.8 534.9M104.1 536.3Q106.5 536.8 107.1 539.8M104.1 536.3Q102.9 539.1 101.8 539.8M104.1 536.3Q101.1 538.8 96.3 539.7M104.1 536.3Q102.8 535.6 101.8 532.3M104.1 536.3Q104.8 531.4 107.3 527.2M119.5 491.7Q118.2 492.3 115 490.2M119.5 491.7Q119.9 486.7 123.5 482.8M119.5 491.7Q124.7 493.3 127.6 492.2M119.5 491.7Q118.9 496.8 118.3 501.1" stroke="#38FF38" stroke-width="0.9" fill="none" stroke-linecap="round" opacity="0.95"/>
<g fill="#50FF50"><circle cx="168.9" cy="494.9" r="1.5"/><circle cx="138.2" cy="541.9" r="1.3"/><circle cx="132.8" cy="538.9" r="0.9"/><circle cx="155.4" cy="490" r="1.4"/><circle cx="166.4" cy="525.8" r="1.2"/><circle cx="83" cy="539.5" r="1.3"/><circle cx="128.9" cy="517.4" r="0.9"/><circle cx="122" cy="544.9" r="0.9"/><circle cx="96.5" cy="482.1" r="1.4"/><circle cx="120.5" cy="497.3" r="1.3"/><circle cx="160" cy="520.2" r="0.8"/><circle cx="89.8" cy="541.7" r="1.4"/><circle cx="174" cy="507.6" r="1.4"/><circle cx="81.1" cy="494.3" r="1.1"/><circle cx="69.9" cy="522.9" r="1"/><circle cx="108.1" cy="530.5" r="1"/><circle cx="141.9" cy="487.8" r="0.9"/><circle cx="103.3" cy="477.7" r="1.2"/><circle cx="106.9" cy="506.5" r="1.5"/><circle cx="95.8" cy="518" r="0.9"/><circle cx="73.3" cy="479" r="0.9"/><circle cx="169.1" cy="468.2" r="1.2"/><circle cx="124.6" cy="536.3" r="1"/><circle cx="136.3" cy="524.6" r="0.8"/><circle cx="119.7" cy="523.9" r="1.2"/><circle cx="145.2" cy="501" r="1"/><circle cx="173.2" cy="494.2" r="1.4"/><circle cx="182.1" cy="470.5" r="0.9"/><circle cx="181.9" cy="478.2" r="1.5"/><circle cx="131.7" cy="541.3" r="1"/><circle cx="176.9" cy="500" r="1.3"/><circle cx="145.9" cy="511.2" r="1"/><circle cx="162.9" cy="522" r="1"/><circle cx="116.5" cy="536" r="1.1"/><circle cx="69.6" cy="487.3" r="0.9"/><circle cx="91.2" cy="541.8" r="0.9"/><circle cx="174.2" cy="516.6" r="1.3"/><circle cx="80" cy="487.2" r="1.4"/><circle cx="120.4" cy="477.9" r="1.2"/><circle cx="83.1" cy="471.1" r="1"/><circle cx="179.5" cy="505.7" r="1"/><circle cx="97" cy="491" r="0.9"/><circle cx="76.9" cy="535.7" r="1.4"/><circle cx="82.3" cy="537.6" r="0.9"/><circle cx="93.7" cy="496" r="0.8"/><circle cx="92.9" cy="513.7" r="1.2"/><circle cx="122.9" cy="484.7" r="1.1"/><circle cx="111.3" cy="535.3" r="1.1"/><circle cx="81.4" cy="490" r="1"/><circle cx="81.9" cy="474.7" r="1.3"/><circle cx="86.6" cy="498" r="1.4"/><circle cx="107.9" cy="514.6" r="1"/><circle cx="79.6" cy="498.7" r="1.4"/><circle cx="154.1" cy="487.6" r="1.5"/><circle cx="108.2" cy="504.1" r="1.3"/><circle cx="151.9" cy="503.7" r="1.5"/><circle cx="155" cy="497.3" r="1.3"/><circle cx="108" cy="512.6" r="1"/><circle cx="104.8" cy="495.4" r="1.3"/><circle cx="97.3" cy="477.2" r="1.2"/><circle cx="100.2" cy="544.3" r="1.3"/><circle cx="129.5" cy="470" r="1.2"/><circle cx="99" cy="494.3" r="1.3"/><circle cx="84.1" cy="539" r="0.9"/><circle cx="83.6" cy="488.1" r="1.1"/><circle cx="169.6" cy="541" r="0.9"/><circle cx="136.8" cy="533.4" r="1.4"/><circle cx="167.4" cy="500.1" r="1.1"/><circle cx="118.2" cy="517" r="1.5"/><circle cx="97.2" cy="522.5" r="0.9"/><circle cx="160.7" cy="499.5" r="1.3"/><circle cx="73" cy="473" r="1.4"/><circle cx="77.4" cy="525.4" r="0.9"/><circle cx="97.6" cy="525.6" r="1.1"/><circle cx="150.2" cy="528.2" r="0.8"/><circle cx="125.7" cy="469.3" r="1.4"/><circle cx="86" cy="476.1" r="1.3"/><circle cx="95" cy="513.2" r="1.4"/><circle cx="86.2" cy="531.9" r="0.8"/><circle cx="171.1" cy="516.4" r="1.3"/><circle cx="177.9" cy="488.8" r="0.9"/><circle cx="133.6" cy="481.3" r="0.9"/><circle cx="84.4" cy="503.1" r="0.8"/><circle cx="98.5" cy="510.8" r="1.4"/><circle cx="176.6" cy="539.2" r="1"/><circle cx="164.2" cy="505.8" r="0.9"/><circle cx="158.9" cy="516.8" r="1.5"/><circle cx="90.2" cy="480.7" r="0.9"/><circle cx="73.5" cy="537" r="1"/><circle cx="90.3" cy="500" r="1.3"/><circle cx="155.3" cy="535.3" r="1.1"/><circle cx="114.3" cy="506.3" r="0.9"/><circle cx="103.8" cy="491.6" r="1.2"/><circle cx="156.6" cy="536.5" r="0.9"/><circle cx="81.5" cy="502" r="1.3"/><circle cx="123.5" cy="490.1" r="1.3"/><circle cx="115.7" cy="483.1" r="1.5"/><circle cx="146.9" cy="538.6" r="1"/><circle cx="104.1" cy="536.3" r="0.9"/><circle cx="119.5" cy="491.7" r="1.5"/></g>
<path d="M67 473C80 472 92 472 104 471C103 480 95 487 80 489C74 489 70 488 67 487Z" fill="#000" opacity="0.8" filter="url(#soft)"/>
<path d="M67 522C90 528 115 527 135 524C160 522 175 528 184 531V537C170 534 150 531 130 531C110 533 85 535 67 533Z" fill="#000" opacity="0.8" filter="url(#soft)"/>
<g filter="url(#bsp)"><path d="M67 463H139C148 470 162 480 184 494V463Z" fill="#00f"/><path d="M67 463H112C110 467 108 470 104 471C90 472 78 472 67 473Z" fill="#00f"/><path d="M67 533C90 535 110 533 130 531C150 531 170 534 184 537V554H67Z" fill="#00f"/></g>
<clipPath id="bcJ0"><path d="M67 463H139C148 470 162 480 184 494V463Z"/><path d="M67 463H112C110 467 108 470 104 471C90 472 78 472 67 473Z"/><path d="M67 533C90 535 110 533 130 531C150 531 170 534 184 537V554H67Z"/></clipPath>
<path clip-path="url(#bcJ0)" d="M95 512Q94.5 508.6 95.7 505.3M69 538.4Q67.7 534.1 66.6 529.7M164.1 505.9Q166.8 508.6 168.1 511.4M127.9 529.7Q131.6 531.2 134.9 532.7M102.3 465.8Q99.5 466.4 95.1 467M150 545.9Q151.7 543.2 151.7 540.5M169 471.8Q167.6 467.6 166.4 463.4M139.9 490.1Q139.7 487.6 139.3 485M135 544.4Q139.6 542.6 142.3 540.9M145 477.7Q149.3 476.8 153.3 475.8M149.9 482Q147 481 145.7 479.9M166.1 552.1Q166.3 549.5 167.8 546.9M101.4 532.2Q103.7 533.1 107.9 534M150.5 492.8Q154.5 492.4 156.5 492.1M103.3 469.9Q102.1 468.1 101.3 466.2M138 477.1Q139.8 474.8 139.8 472.5M171.1 497Q171.3 493.6 171.2 490.1M132.1 518.8Q129.7 518.7 126.5 518.6M94.9 490.1Q90.9 489.7 88.7 489.3M115.5 515.2Q115 511.8 116.3 508.5M140 505Q138.3 507.9 135.6 510.8M70.1 468.5Q72.2 467.9 74.4 467.4M136 491.8Q135.6 489.2 134.9 486.7M102.2 496.9Q105.8 497.5 108.5 498M103.3 483Q103.3 485.1 103.6 487.1M148.1 472.2Q147.3 468.2 146.7 464.3M166.3 478.2Q166.9 474.1 167.6 470M93.5 473.9Q92.9 470.2 91 466.4M88.7 488.1Q85.9 485 83.8 482M82.5 489.3Q82 491.8 81.8 494.3M116 499.9Q117.7 501.1 117.7 502.4M169.1 551.8Q170.5 548 173 544.2M153.6 538.3Q150.9 538 148.9 537.7M93.8 469.1Q92 465.3 92 461.5M171.9 525.4Q175.4 522.9 178.6 520.4M69 530.1Q68.3 526.7 67.6 523.3M115.3 547.5Q114.8 549.4 112.8 551.3M122.6 533.4Q122.3 530.5 120.7 527.5M87.3 534.3Q87.7 530.5 90 526.8M140.1 540.6Q139.6 538.4 139 536.1M116.4 505.6Q117.3 505.6 119.7 505.6M81.9 469.2Q83 467.8 84 466.4M104 491.3Q104.2 488.1 105 484.9M89.6 492.6Q89.5 488.9 90 485.3M76.7 479.1Q76.9 475.2 77.6 471.4M160 519.1Q160 516.1 159.2 513.1M116.1 525.5Q115.6 522.5 114.4 519.5M75.8 501.2Q77.2 497.3 79.1 493.3M171.2 534.2Q171.8 532.3 171.1 530.4M144 542.9Q142.3 539.6 140.3 536.4M79.4 515.9Q77.1 512.3 76.6 508.8M78.1 471.9Q79.5 473.4 79.5 474.8M81.5 539Q83.9 535.2 86 531.5M159.8 466.3Q155.3 466 152.5 465.7M154 547.1Q154.1 544 152.8 540.8M95.5 479.2Q95.7 475.4 96.4 471.7M109.9 498.7Q109.8 497 109.6 495.2M179.9 500.2Q182.3 503.2 183.7 506.2M145.3 509.5Q145.3 505.4 146.6 501.2M78.6 530.3Q76.2 530 72.9 529.7M89 487.1Q88.7 484.6 89.4 482.2M147.3 548.8Q148.6 546.1 148.5 543.5M135 487Q133.4 484.5 132.2 481.9M87.4 495.4Q88.9 493.6 88.5 491.7M122.9 516.9Q124.4 513.2 125.6 509.5M123.1 527.9Q121 530 117.1 532.2M121.5 483.7Q123.2 480.2 123.1 476.8M166.1 484.8Q166 482.8 165.1 480.8M166.7 544Q167.4 541.7 168.5 539.5M151.7 470.7Q152.2 468.5 153.3 466.3" stroke="#4FD8FF" stroke-width="0.8" fill="none" opacity="0.3"/>
</g>
<rect x="187" y="463" width="115" height="90" fill="#000"/>
<g clip-path="url(#c6)">
<rect x="187" y="463" width="115" height="90" fill="#021405" opacity="1"/>
<rect x="187" y="463" width="115" height="90" fill="#fff" filter="url(#fib)" opacity="0.3"/>
<rect x="187" y="463" width="115" height="90" fill="#fff" filter="url(#gsp)" opacity="0.3"/>
<rect x="187" y="463" width="115" height="90" fill="#fff" filter="url(#nuc)" opacity="0.9"/>
<path d="M268.7 537.4Q266.8 535 261.9 534.7M268.7 537.4Q268.7 531.8 268.7 527.7M268.7 537.4Q270.4 538.9 273.9 540.4M268.7 537.4Q265.1 540.9 264.5 544.8M220.1 493.5Q221.6 495.7 224.1 495.9M220.1 493.5Q218.3 495.3 215.4 498.1M220.1 493.5Q215.2 494.8 213 493.1M220.1 493.5Q218.7 490.9 219.8 488.4M220.1 493.5Q225 493.3 230.4 489.9M293.8 531Q290.9 529 287.3 529.2M293.8 531Q293.8 528.9 292.5 524.4M293.8 531Q296.4 530.4 297.9 528.2M293.8 531Q294.5 532 298 532.5M293.8 531Q294.9 535.3 294.1 538.5M293.8 531Q292.4 533.4 288.9 533.6M212.9 490.6Q207.8 489.6 205 486M212.9 490.6Q213.2 488 214.7 486.2M212.9 490.6Q215.6 490.5 220.6 492M212.9 490.6Q215.5 495.2 217.6 500.5M212.9 490.6Q207.4 492 206.4 495.6M247.7 522.5Q247.7 526.4 249.5 526.3M247.7 522.5Q247.5 526.4 245 526.5M247.7 522.5Q244.9 523.5 240.6 525.4M247.7 522.5Q245.3 518.2 243.7 513.9M247.7 522.5Q249.6 517 248.3 516M247.7 522.5Q252.8 521.2 254.1 520.1M247.6 539.4Q248.2 535.2 250.3 529.7M247.6 539.4Q251.9 543.5 256.6 543.4M247.6 539.4Q248.5 540.8 250.3 544.9M247.6 539.4Q245.4 544 243.1 545M247.6 539.4Q245.7 537.7 243.4 539.4M247.6 539.4Q245.8 536.1 244.6 532.2M228.3 483.9Q231 482.2 232.2 482.6M228.3 483.9Q229.4 485.5 233.6 488.3M228.3 483.9Q228.5 484.4 227 488M228.3 483.9Q221.5 482.4 217.7 480.8M228.3 483.9Q227.9 479.4 225.7 477.2M276.9 529.9Q281.2 534.4 285 535.4M276.9 529.9Q273.5 532.2 273.4 532.3M276.9 529.9Q274.5 525.8 271.6 525.7M276.9 529.9Q277.1 525.8 280.7 523.6M198.3 474.5Q194.2 474.9 193.4 475.8M198.3 474.5Q196.9 473.3 193.4 470.3M198.3 474.5Q195.8 467.6 196.5 464.9M198.3 474.5Q200.8 471.1 202.6 470.7M198.3 474.5Q205.2 474.6 208 477.3M198.3 474.5Q200.6 478.1 201.1 484.1M198.3 474.5Q197.8 476.8 196 480.9M247.7 486.6Q245.5 484.7 246.4 482.2M247.7 486.6Q252 487.1 255.4 484.8M247.7 486.6Q249.3 488.5 250.6 489.4M247.7 486.6Q245.1 491.7 242.1 493.4M194.7 485.4Q197.5 490.2 199.3 491.6M194.7 485.4Q192.3 485.1 190.7 487.9M194.7 485.4Q190.3 484.9 188.9 482.5M194.7 485.4Q195.4 483.4 196.2 480.6M194.7 485.4Q199.6 483.8 200.2 483.5M251.5 522.7Q251 524.5 247.3 523.2M251.5 522.7Q252 519.8 250.6 518.3M251.5 522.7Q256.6 519.4 258.5 518.5M251.5 522.7Q251.7 527.8 253.8 531.6M276.5 537.8Q276.2 539.2 273 540.9M276.5 537.8Q274.1 538.3 271.8 535.8M276.5 537.8Q276.2 531.2 275.5 529.3M276.5 537.8Q277.5 536.7 277.5 533.2M276.5 537.8Q282.1 538.1 285.1 540.6M276.5 537.8Q280 540.9 284.7 542.3M276.5 537.8Q276.4 539.3 274.3 541.7M235.1 530.9Q235 525.7 235 521.3M235.1 530.9Q235.7 529.5 239.7 529.8M235.1 530.9Q236.6 532.4 236.5 535.1M235.1 530.9Q230.9 532.1 225 533.5M191.2 470.6Q192.6 472.8 195.6 472.8M191.2 470.6Q191.8 475 195.7 478.7M191.2 470.6Q188.3 474.3 187.2 474.8M191.2 470.6Q188 470 185.8 470.2M191.2 470.6Q190.4 465.6 189.1 463.3M191.2 470.6Q195.7 466.8 197.1 465.3M225.5 529.7Q225.4 524.2 223.9 522.3M225.5 529.7Q226.1 524.8 226.4 521.4M225.5 529.7Q229.2 528.8 231 527M225.5 529.7Q226 529 229.4 531M225.5 529.7Q227 531.8 229.1 535.7M225.5 529.7Q223.1 534.4 217.9 536.7M225.5 529.7Q223.6 531.3 221 529.6M216.5 513.2Q214 513.9 215.3 517.6M216.5 513.2Q211.4 515.5 207.1 517.3M216.5 513.2Q215.1 513.3 212.6 511M216.5 513.2Q213.6 508.5 210.6 504.6M216.5 513.2Q218.7 510.3 219.1 505.2M216.5 513.2Q221.5 514.4 222.2 511.9M216.5 513.2Q218.4 517.9 222.2 519.7M209.3 494.7Q210.9 498.9 210.1 502.8M209.3 494.7Q204.8 495.2 200 497.4M209.3 494.7Q205.8 488.2 202.8 485.9M209.3 494.7Q211.7 492 210.9 486.5M209.3 494.7Q213.8 496.1 216.2 494.6M260.8 498.1Q261 498.9 260.2 502.9M260.8 498.1Q258.6 498.1 254.5 497.7M260.8 498.1Q256 496 251.4 493.4M260.8 498.1Q263.7 493.2 266.5 489.3M260.8 498.1Q262 497.1 265.8 497.4M260.8 498.1Q264.9 505.1 265.3 507.4M204.4 504.8Q201 504.8 197.3 507.7M204.4 504.8Q203.9 502.6 201.4 501.8M204.4 504.8Q206 500.9 208.1 501.1M204.4 504.8Q206.6 507.3 210.4 507.8M204.4 504.8Q203.5 509.6 204.3 510.3M292.6 514.1Q296.4 518.2 297 522.4M292.6 514.1Q288.5 517.2 288.3 521.3M292.6 514.1Q288.3 514.4 287.7 513.7M292.6 514.1Q290.8 510.4 288.4 506.7M292.6 514.1Q292.1 507.8 292 505.9M292.6 514.1Q295 511.1 298.2 511.2M269.7 530.9Q265.2 530.5 263.9 532.1M269.7 530.9Q267.1 528.1 267.6 526.9M269.7 530.9Q274.2 526.6 276.5 522.3M269.7 530.9Q272.2 534.4 276.5 534.4M269.7 530.9Q268 534.3 268.1 535.7M297.8 508.6Q300.4 508.6 301.8 511.1M297.8 508.6Q296.1 512.6 294.1 515.7M297.8 508.6Q293.9 508.1 293.2 508.6M297.8 508.6Q296.9 502.7 294.5 500.7M297.8 508.6Q299.2 504.9 297.7 500.9M297.8 508.6Q300.5 504.9 306 503.7M248.9 506.4Q249.6 499.8 250.3 496M248.9 506.4Q251.6 503.7 252 503M248.9 506.4Q251.1 507 254 509.7M248.9 506.4Q247.3 508.9 249.2 512M248.9 506.4Q247.3 507.1 242.7 509.1M248.9 506.4Q242.7 504.3 238.9 504.1M297.8 489.2Q295.6 493.2 294.7 496.5M297.8 489.2Q294 487.8 288.5 487.6M297.8 489.2Q299.9 485.5 298.5 479.9M297.8 489.2Q300.6 484 305.3 483.3M297.8 489.2Q297.8 492 301.2 493.6M221.8 521Q215.1 519.6 211.1 521.7M221.8 521Q218 518.4 218.3 517.2M221.8 521Q221.2 516.7 221 510.1M221.8 521Q224.8 519.7 224.3 517.3M221.8 521Q226.1 518.7 226.9 519.5M221.8 521Q222.3 524.1 225.2 523.4M221.8 521Q222 525 221 528.1M213.6 503.1Q213.6 508.7 210.7 509.8M213.6 503.1Q211.3 506.4 206 507.1M213.6 503.1Q214.1 498.5 212.4 496.8M213.6 503.1Q216.1 500.1 218.9 499.4M213.6 503.1Q216 505.8 219 504.6M187.7 543.8Q190.8 545.7 194.6 550.8M187.7 543.8Q188.3 547.8 189.8 553.2M187.7 543.8Q184.8 541.8 183.2 543.7M187.7 543.8Q183.4 542.4 182.4 538.1M187.7 543.8Q188.7 537.4 189.1 534.6M187.7 543.8Q188.9 543.3 192.9 540.3M236.4 477.2Q240.1 475.6 239.5 474.6M236.4 477.2Q238.8 481.4 243.4 481.4M236.4 477.2Q235.2 481.3 236.1 482.3M236.4 477.2Q233.1 480.2 230.7 484.4M236.4 477.2Q232.7 477.9 231.9 475.4M236.4 477.2Q235.7 474.3 231.6 473.5M236.4 477.2Q236.4 470.9 238.7 469.4M208.2 514.2Q207.2 517.1 207.5 522.1M208.2 514.2Q207.7 514.4 204.3 516.8M208.2 514.2Q203.1 511.2 202.1 509.8M208.2 514.2Q208.2 510.6 207.1 509.3M208.2 514.2Q209.5 513.4 212.2 513.3M208.2 514.2Q211.3 515.8 214.5 520.6M191.4 531.9Q192.7 533.5 190.9 538.4M191.4 531.9Q188.6 532.9 184.3 534.8M191.4 531.9Q190.3 528.9 188.7 526.6M191.4 531.9Q194 531.6 197 528M191.4 531.9Q193.5 534.8 195 534.7M278.6 478.9Q280.4 485.5 284.8 488M278.6 478.9Q274.4 482.9 272.6 482.7M278.6 478.9Q278.2 476.5 274.8 476.3M278.6 478.9Q282.5 477.9 282.3 473.5M257.2 527.5Q255.7 525.9 254.5 523.9M257.2 527.5Q259.6 524.9 263.9 519.6M257.2 527.5Q262.1 526.5 262.5 528.2M257.2 527.5Q259.9 528.3 259.6 530.9M257.2 527.5Q257.9 530.2 255.2 533.3M257.2 527.5Q255.7 528.3 251.3 530.7M257.2 527.5Q252.6 523.2 248.4 522.5M278.2 520.8Q275 521.6 271.5 523.6M278.2 520.8Q274 515.3 274 512.9M278.2 520.8Q283.8 518.5 286.1 513.3M278.2 520.8Q279.4 522.7 281.7 525.7M278.2 520.8Q275 526.4 273.8 527.4M235.2 478.9Q235.9 479.1 237.7 475.6M235.2 478.9Q237.9 479.7 239.6 480.8M235.2 478.9Q234.9 480.8 238.3 484.4M235.2 478.9Q231.4 482.3 228.9 487.1M235.2 478.9Q231.4 479.7 228.1 480.9M235.2 478.9Q235.1 475.3 232.1 472.7M235.2 478.9Q235.2 476 236.3 473.2M232.3 488.9Q227.9 487.1 226.6 482.2M232.3 488.9Q232.7 484.4 232.1 483M232.3 488.9Q236.8 486.7 239.2 486.3M232.3 488.9Q235.4 491.5 236.4 491.1M232.3 488.9Q233.1 491.9 232.3 496.3M232.3 488.9Q229.1 491.5 229.1 491.4M232.3 488.9Q225.4 489.3 223.3 490.5M210.5 484.9Q207.3 481.9 202.7 481.6M210.5 484.9Q211.6 478.9 208.9 475.2M210.5 484.9Q212.4 483.6 214.4 483.2M210.5 484.9Q212.8 489.4 216.4 491.1M210.5 484.9Q210.9 488.8 208.7 491.1M198.4 520.8Q194.8 523.7 194.9 526.5M198.4 520.8Q193.8 521.3 190.5 521.6M198.4 520.8Q197.7 519.6 195.4 515.6M198.4 520.8Q197.4 514.5 195.7 510.1M198.4 520.8Q200.7 517.5 201.7 517.9M198.4 520.8Q201.6 520.8 205.8 524.2M198.4 520.8Q200.7 524.5 201.2 527.7M237.4 502.5Q233 502.9 229.5 505.3M237.4 502.5Q236.6 499.5 236.4 493.7M237.4 502.5Q242 497.5 244.9 495.2M237.4 502.5Q244.1 503.1 246.8 505.7M237.4 502.5Q234.2 508.7 233 512.3M224.7 518.1Q230.5 521.3 232.9 523.8M224.7 518.1Q221 524.3 221.6 526.5M224.7 518.1Q223.3 515.9 221.8 515.2M224.7 518.1Q229.7 514 231.7 510.4M236.9 478.3Q233 484.5 229.8 486.3M236.9 478.3Q231.3 475.9 226.8 474.6M236.9 478.3Q235.7 473.5 238 467.5M236.9 478.3Q239.2 479.8 241.1 480.2M248.4 479.8Q247.6 480.8 245.2 482.3M248.4 479.8Q243.9 476.9 243.4 474M248.4 479.8Q253 478.1 253.6 477.3M248.4 479.8Q253 483.8 253.3 489.6M271.3 472.6Q266.8 474.5 264.5 474.6M271.3 472.6Q269.6 467.4 266.4 463.2M271.3 472.6Q273.2 471.7 273.4 468M271.3 472.6Q275.5 469.6 275.8 470.4M271.3 472.6Q274.2 476.3 278.4 479.9M271.3 472.6Q270 478.7 272.4 481.3M271.3 472.6Q269.2 475.2 268 475.7M265.4 522.8Q265.8 524.2 266 527.1M265.4 522.8Q261.1 522.9 260.4 523.8M265.4 522.8Q258.7 522.7 254.8 522.3M265.4 522.8Q262.5 520.7 263 518.4M265.4 522.8Q265.6 517.2 269.3 513.5M265.4 522.8Q269.6 523.7 273.3 523.9M265.4 522.8Q269.1 524.2 270.5 527.8M297.7 489.5Q295.2 494.8 294.7 496.6M297.7 489.5Q292.4 492.9 290.2 495.9M297.7 489.5Q291.1 484.8 288.9 483.2M297.7 489.5Q293.5 487.7 293 482.7M297.7 489.5Q298.5 487 301 485M297.7 489.5Q301.1 490.7 306.4 490.8M297.7 489.5Q299.7 493.6 301.8 493.8M264 523.9Q261.1 521.9 256.4 523.5M264 523.9Q263.2 521.1 262.3 517.4M264 523.9Q267.8 524.6 271.4 522.9M264 523.9Q267.3 524.7 268 528.1M264 523.9Q260.1 525.9 256.9 529.8M202.6 490.9Q203.2 493.1 200.1 496.3M202.6 490.9Q195.3 491.9 192.4 489.4M202.6 490.9Q199.8 486.2 198.7 484.6M202.6 490.9Q204 486.1 204.8 485.4M202.6 490.9Q203.8 489.6 206.9 491.3M202.6 490.9Q205.1 494.1 206 499M241.8 474.1Q237.4 473 235 473.6M241.8 474.1Q241.9 472 239.4 470.7M241.8 474.1Q246.1 468.2 248.7 465.6M241.8 474.1Q245.4 470.1 248.9 468.6M241.8 474.1Q244.5 474.3 245.7 475.8M241.8 474.1Q242.5 479.8 240.3 481.2M241.8 474.1Q241 475.3 239 478.6M215.4 521.3Q223.1 523.9 226 523.3M215.4 521.3Q218 524.7 217.8 526M215.4 521.3Q213.5 521.9 211.4 524.9M215.4 521.3Q210.4 520.2 206.8 517.7M215.4 521.3Q214.3 517.2 215.5 517.1M215.4 521.3Q219.2 514.3 220 511.5M289 535.4Q287.7 528.8 288.6 526.5M289 535.4Q295.4 535.5 299.7 534.1M289 535.4Q286.6 537.7 287.5 541.4M289 535.4Q281.9 535 279.6 533.8M263.4 468.6Q268.7 463.7 270.5 463.1M263.4 468.6Q265.5 472.8 269.5 473.2M263.4 468.6Q264.8 473.6 265.3 478.7M263.4 468.6Q259.1 469.2 259.1 468.4M263.4 468.6Q264.1 465.7 261.6 464.9M221.4 483.7Q219.1 480.7 215.5 478.7M221.4 483.7Q220 481.5 220.4 478.6M221.4 483.7Q226.2 479.6 227.7 478M221.4 483.7Q225.3 485.5 231.1 487.3M221.4 483.7Q219.3 488 220.9 488.2M221.4 483.7Q216.5 486.6 213.8 490.1M192 508.6Q193.3 512.8 191.6 513.2M192 508.6Q188.7 507.2 183.2 509.5M192 508.6Q190.1 505.3 186.6 503.7M192 508.6Q189.2 504.5 189.9 503.4M192 508.6Q192.2 506.9 195 503.6M192 508.6Q195.4 510.9 200.8 511M192 508.6Q194.8 508.9 195.9 511.8M300.6 540.1Q304.7 535.9 305 530.6M300.6 540.1Q304.1 540.9 309.1 544.4M300.6 540.1Q303.1 542.3 303.5 545.1M300.6 540.1Q298.6 545.4 295.9 546.8M300.6 540.1Q296.8 541.1 294.5 540.6M300.6 540.1Q302 535.7 299.7 532.1M297.5 534.1Q302.5 537.4 303 542.3M297.5 534.1Q294.3 536.8 292.3 538.3M297.5 534.1Q294.7 528.9 291.3 528.2M297.5 534.1Q296 527.2 295.7 524.6M297.5 534.1Q304.3 533.4 306.2 529.3M291.6 487Q294.6 485.9 298 486.5M291.6 487Q290.6 490 292.7 494.3M291.6 487Q290.9 487 288.8 490.5M291.6 487Q285.5 489.2 283.2 493.2M291.6 487Q287.1 483.2 286 481.4M291.6 487Q290.8 483.8 288.6 480.7M291.6 487Q291.8 483.2 295.4 483.1M243.7 510.4Q247 514.7 248.5 520.1M243.7 510.4Q239.8 510.4 238.2 510.5M243.7 510.4Q241.9 505 243.1 499.6M243.7 510.4Q246.9 510.1 247.9 510.4M277.8 535.6Q276.2 537.9 272.9 540.1M277.8 535.6Q277.4 534.1 275.9 531.8M277.8 535.6Q282.8 534.6 284.4 532.9M277.8 535.6Q278.8 538.5 281.2 539.7M270.5 527.9Q272.3 524.1 274.7 519.1M270.5 527.9Q273.1 529.9 276.6 529.5M270.5 527.9Q266.3 528.4 265.1 532.3M270.5 527.9Q267.5 523.9 267.6 524.1M259 485.6Q264.1 482.3 265.4 482.9M259 485.6Q260.8 489.5 262.9 492.2M259 485.6Q258.4 487.8 259.4 491.6M259 485.6Q258.3 485.4 254.4 486.8M259 485.6Q256 483.5 252.2 481.9M259 485.6Q256.9 480.5 258.5 478.4M224.3 509.6Q226.3 505.1 228.4 502M224.3 509.6Q226.3 507.3 229 506.6M224.3 509.6Q228.8 512.1 232.2 512.9M224.3 509.6Q224.7 516 224.9 517.9M224.3 509.6Q221.7 513 220 515.5M224.3 509.6Q221.7 509.9 217.5 510.6M224.3 509.6Q221.2 504.9 221.6 504.4M239.4 474.1Q243.9 475.4 248.1 475M239.4 474.1Q239.6 478.2 242.9 479.3M239.4 474.1Q237.9 478.2 234 480M239.4 474.1Q237.6 469.8 232.9 467.6M239.4 474.1Q239.8 470.2 239.1 466M301.6 469.3Q306.5 466.9 309.7 463.3M301.6 469.3Q305.2 475.8 305.3 477.9M301.6 469.3Q301.7 472.7 299.5 475.3M301.6 469.3Q297.2 471 297 469.7M301.6 469.3Q302 464.8 303.9 461.6M265.9 527.4Q268.3 526.4 267.4 523.5M265.9 527.4Q268.5 527.2 273.6 528.3M265.9 527.4Q265.7 531.8 264.6 537.9M265.9 527.4Q261.2 528.2 256.3 526.2M221.2 515.1Q224.8 514.9 230 514.1M221.2 515.1Q226.3 517 227.1 521.2M221.2 515.1Q220.8 514.4 217.7 517.2M221.2 515.1Q219.7 509.8 218.1 505.3M295.9 481.7Q292.5 484.9 289.3 488.2M295.9 481.7Q289.6 480.1 286 478.8M295.9 481.7Q295 478.2 295.2 474.9M295.9 481.7Q301 482 303.9 479M295.9 481.7Q295.6 486.1 298 486.3M205.9 518.2Q205.9 523.4 203.7 526.3M205.9 518.2Q202 521.2 199.5 523M205.9 518.2Q203.1 516.4 202.4 513.2M205.9 518.2Q206.6 517.2 210.3 514.7M205.9 518.2Q209.8 521.3 214 521.8M223.1 486.5Q224.2 486.9 228.5 485.4M223.1 486.5Q224 489.5 227.5 490.9M223.1 486.5Q225.3 490.3 225.1 491.1M223.1 486.5Q221.6 487.5 217.5 490.7M223.1 486.5Q220.3 487.8 217.2 488.2M223.1 486.5Q222.2 481 217.8 478.3M223.1 486.5Q225.7 484.4 224.7 482.1M277.1 527.6Q281 525.2 283.7 524.9M277.1 527.6Q280.8 529.2 281.2 533.5M277.1 527.6Q274.9 531.1 274.9 536.9M277.1 527.6Q274 530.5 269.8 534.8M277.1 527.6Q272 530 268.9 529.7M277.1 527.6Q275.2 523 275 522.4M277.1 527.6Q280.2 526.8 279.3 524.2M286.9 514.8Q281.5 515.9 278.8 516.3M286.9 514.8Q284.9 508.1 285.2 504.3M286.9 514.8Q292.6 513.5 294.5 511.8M286.9 514.8Q287.3 517.7 290.3 523.6M297.8 480.4Q298.7 482 300.6 484.5M297.8 480.4Q294.4 484.8 295.1 485.9M297.8 480.4Q293 481.6 292.5 483M297.8 480.4Q293.4 479.4 292.2 477M297.8 480.4Q299.1 480.1 297.2 476.5M297.8 480.4Q302 478.4 302.8 476.8M297.8 480.4Q301.4 480.4 303.9 479.6M266.3 526.8Q263.8 529 265.4 532.4M266.3 526.8Q261.3 525.7 260.3 525.5M266.3 526.8Q263.4 523.4 263.6 521M266.3 526.8Q268.1 523 266.5 521.3M266.3 526.8Q270.9 523.5 272.1 523.6M266.3 526.8Q270.5 531.6 272 532.3" stroke="#38FF38" stroke-width="0.9" fill="none" stroke-linecap="round" opacity="0.95"/>
<g fill="#50FF50"><circle cx="268.7" cy="537.4" r="1"/><circle cx="220.1" cy="493.5" r="1.2"/><circle cx="293.8" cy="531" r="0.9"/><circle cx="212.9" cy="490.6" r="1.3"/><circle cx="247.7" cy="522.5" r="0.9"/><circle cx="247.6" cy="539.4" r="0.9"/><circle cx="228.3" cy="483.9" r="1.4"/><circle cx="276.9" cy="529.9" r="1.1"/><circle cx="198.3" cy="474.5" r="1.4"/><circle cx="247.7" cy="486.6" r="1"/><circle cx="194.7" cy="485.4" r="1.1"/><circle cx="251.5" cy="522.7" r="1.1"/><circle cx="276.5" cy="537.8" r="1.2"/><circle cx="235.1" cy="530.9" r="1.1"/><circle cx="191.2" cy="470.6" r="0.9"/><circle cx="225.5" cy="529.7" r="1.1"/><circle cx="216.5" cy="513.2" r="1.5"/><circle cx="209.3" cy="494.7" r="1.3"/><circle cx="260.8" cy="498.1" r="1.3"/><circle cx="204.4" cy="504.8" r="0.9"/><circle cx="292.6" cy="514.1" r="1"/><circle cx="269.7" cy="530.9" r="1.1"/><circle cx="297.8" cy="508.6" r="1.4"/><circle cx="248.9" cy="506.4" r="1.1"/><circle cx="297.8" cy="489.2" r="1.4"/><circle cx="221.8" cy="521" r="1.3"/><circle cx="213.6" cy="503.1" r="1.3"/><circle cx="187.7" cy="543.8" r="1"/><circle cx="236.4" cy="477.2" r="1.3"/><circle cx="208.2" cy="514.2" r="1.1"/><circle cx="191.4" cy="531.9" r="1.1"/><circle cx="278.6" cy="478.9" r="1"/><circle cx="257.2" cy="527.5" r="1.2"/><circle cx="278.2" cy="520.8" r="1.2"/><circle cx="235.2" cy="478.9" r="1.2"/><circle cx="232.3" cy="488.9" r="1"/><circle cx="210.5" cy="484.9" r="1.3"/><circle cx="198.4" cy="520.8" r="1"/><circle cx="237.4" cy="502.5" r="0.9"/><circle cx="224.7" cy="518.1" r="1"/><circle cx="236.9" cy="478.3" r="1.1"/><circle cx="248.4" cy="479.8" r="1.4"/><circle cx="271.3" cy="472.6" r="1.3"/><circle cx="265.4" cy="522.8" r="1.2"/><circle cx="297.7" cy="489.5" r="0.8"/><circle cx="264" cy="523.9" r="1.1"/><circle cx="202.6" cy="490.9" r="0.9"/><circle cx="241.8" cy="474.1" r="1.3"/><circle cx="215.4" cy="521.3" r="1.1"/><circle cx="289" cy="535.4" r="1.4"/><circle cx="263.4" cy="468.6" r="0.8"/><circle cx="221.4" cy="483.7" r="1.2"/><circle cx="192" cy="508.6" r="0.8"/><circle cx="300.6" cy="540.1" r="1.3"/><circle cx="297.5" cy="534.1" r="1.3"/><circle cx="291.6" cy="487" r="1.5"/><circle cx="243.7" cy="510.4" r="1"/><circle cx="277.8" cy="535.6" r="1.2"/><circle cx="270.5" cy="527.9" r="1.4"/><circle cx="259" cy="485.6" r="1.2"/><circle cx="224.3" cy="509.6" r="1.1"/><circle cx="239.4" cy="474.1" r="0.9"/><circle cx="301.6" cy="469.3" r="1"/><circle cx="265.9" cy="527.4" r="1"/><circle cx="221.2" cy="515.1" r="1.3"/><circle cx="295.9" cy="481.7" r="1.3"/><circle cx="205.9" cy="518.2" r="1.2"/><circle cx="223.1" cy="486.5" r="0.9"/><circle cx="277.1" cy="527.6" r="1.2"/><circle cx="286.9" cy="514.8" r="0.8"/><circle cx="297.8" cy="480.4" r="1.3"/><circle cx="266.3" cy="526.8" r="1"/></g>
<path d="M186 475C205 474 225 473 243 474L255 480C235 484 210 484 186 484Z" fill="#000" opacity="0.8" filter="url(#soft)"/>
<path d="M186 520C215 526 250 528 275 524C290 522 300 523 303 524V531C290 532 270 534 250 532C225 532 205 535 186 536Z" fill="#000" opacity="0.8" filter="url(#soft)"/>
<g filter="url(#bsp)"><path d="M186 463H243C255 470 275 478 303 486V463Z" fill="#00f"/><path d="M186 465C200 465 220 467 240 470V474C220 473 200 474 186 475Z" fill="#00f"/><path d="M186 536C210 534 240 532 265 533C280 533 295 531 303 531V554H186Z" fill="#00f"/></g>
<clipPath id="bcJ1"><path d="M186 463H243C255 470 275 478 303 486V463Z"/><path d="M186 465C200 465 220 467 240 470V474C220 473 200 474 186 475Z"/><path d="M186 536C210 534 240 532 265 533C280 533 295 531 303 531V554H186Z"/></clipPath>
<path clip-path="url(#bcJ1)" d="M252.7 501.6Q252.2 497.8 250.3 494.1M262.1 477.4Q262.7 475.2 261.3 473M301.6 467Q299.1 465.4 297.4 463.8M264.6 504.1Q264.2 502.5 262.6 500.9M300 550.2Q300.7 550.7 302.9 551.1M295.2 490.3Q296.3 488 297.2 485.8M237.1 468.8Q237.3 467 238.5 465.2M234.5 466.3Q235.7 463 236.8 459.8M285.3 476.5Q284.1 473.2 284.5 469.9M276.2 471.7Q277.4 467.6 278.9 463.5M234.6 485.1Q234.1 483.1 235.1 481.1M239.4 477.8Q241 474.4 242.7 470.9M227 502.1Q227.2 499.7 228.1 497.3M196.2 503.3Q196.1 499.2 195.3 495.2M214.8 510.3Q210.6 509.9 208.2 509.4M243.3 504.5Q243.1 501.3 242.7 498M243.3 477.9Q243.7 475.5 245.9 473.1M187.3 511.2Q186.5 509.5 185.8 507.9M301.2 506.7Q300.9 503.7 300.8 500.7M270.5 543.8Q268.3 545.4 264.4 547M204.7 484.4Q203.5 481.2 202 478M282.4 506.1Q285.8 505.4 287.8 504.8M269.6 543Q272.1 539.5 272.8 536.1M299.9 488.7Q302.8 491.2 304 493.8M209.1 494.5Q207.6 492.5 207.7 490.5M302 542.9Q302.9 539.4 303.8 535.9M235.7 522.8Q235.3 520.3 234.4 517.7M259.1 481.9Q262.3 479 264.9 476M195.1 501.1Q194 499.1 193 497.1M274.3 519.6Q275 516.6 275.6 513.7M217.3 502.7Q217.9 499.9 218.7 497M241.9 506.2Q240.9 502.4 240.4 498.5M278.3 549.8Q278.6 548.2 277.6 546.5M283.2 464.5Q282.7 460.8 281.8 457.2M219.5 479.8Q218.7 476.2 216.3 472.7M212.3 530Q213.3 533 214.6 536M299.1 541.3Q298 537.4 296.6 533.6M247.1 535.9Q248.6 535.2 251.9 534.5M266.6 467.5Q267.8 465 268.6 462.5M206.7 477.2Q208.7 473.8 212.6 470.4M292.9 509Q292.3 505.8 292.2 502.6M203.7 540.9Q201.9 538.6 198.1 536.2M207.1 537.2Q205.3 539.8 203.6 542.5M209.3 502Q210.5 500.1 211.2 498.3M252.6 550.7Q250 552.7 249.2 554.8M193 491Q195.2 491.6 196.8 492.2M228.5 479.7Q231.5 480.6 234.8 481.5M226.7 480.5Q226.3 476.8 226 473.1M276.4 542.1Q277.5 539.1 278.9 536.1M246 543.1Q243.5 539.1 242.4 535.1M199.3 528Q199.3 524.6 197.8 521.2M226.7 544.6Q223.4 542.7 221.9 540.8M205.2 523.9Q207.9 525.9 210.8 527.8M253.4 498.9Q252.1 494.6 252 490.2M286.2 510.8Q287.3 509.3 287.2 507.9M225.9 545.7Q224.8 548.3 221.7 550.9M206.7 481.5Q206.9 479.4 208.2 477.3M257.7 515.6Q256.8 514 257.9 512.4M190.2 468Q191.8 467.7 193.9 467.5M188.7 502.1Q185.8 499.1 182.7 496.1M193.1 496.9Q193 495.3 192.5 493.7M243.2 526.8Q241.6 524.8 241.2 522.7M240 476.8Q239.2 474.9 240.1 473M200.8 526.5Q202.3 523.5 203.2 520.5M273.7 501.5Q274.6 498.2 275.2 494.9M261.3 511.2Q260.4 507.7 259.9 504.2M285.7 496.7Q288.2 498.3 289.3 499.9M207.2 519.3Q208.3 516.5 207.8 513.7M281.9 532.6Q282.3 530.7 282.6 528.7M231.8 505.3Q231.2 502.3 230 499.4" stroke="#4FD8FF" stroke-width="0.8" fill="none" opacity="0.3"/>
</g>
<rect x="305.5" y="463" width="115.5" height="90" fill="#000"/>
<g clip-path="url(#c10)">
<rect x="305.5" y="463" width="115.5" height="90" fill="#021405" opacity="1"/>
<rect x="305.5" y="463" width="115.5" height="90" fill="#fff" filter="url(#fib)" opacity="0.4"/>
<rect x="305.5" y="463" width="115.5" height="90" fill="#fff" filter="url(#gsp)" opacity="0.3"/>
<rect x="305.5" y="463" width="115.5" height="90" fill="#fff" filter="url(#nuc)" opacity="0.9"/>
<path d="M334 512.8Q333.3 514.5 329.2 514.1M334 512.8Q331.1 511.9 327.2 508.2M334 512.8Q332.5 509.7 333.6 506.6M334 512.8Q337.4 511.1 342.9 510.7M334 512.8Q336.8 511.4 339.1 512.7M334 512.8Q335.2 516.9 336.8 517.7M334 512.8Q332 516.2 331.1 520.6M395.5 532.9Q399.2 534.5 398.7 536.3M395.5 532.9Q395.5 536.2 393.1 540.9M395.5 532.9Q392.6 533.8 388.2 534.2M395.5 532.9Q392.6 530.7 393.9 526M395.5 532.9Q398.8 532.6 398.7 530.1M395.5 532.9Q398.7 530.6 402.6 530.5M414.9 522.4Q415.9 529.4 415.4 532.4M414.9 522.4Q410.7 524.9 404.6 523.9M414.9 522.4Q410.9 517.6 408.3 514.3M414.9 522.4Q416.9 518 414.9 513M414.9 522.4Q415.6 519.4 418.9 520.1M414.9 522.4Q416.7 522.3 418.8 523.5M323.3 475.1Q320.9 477.1 321.7 481.3M323.3 475.1Q319.4 476.5 316.9 479.9M323.3 475.1Q320.6 473.9 319.8 471.7M323.3 475.1Q324.4 472.1 323.7 468M323.3 475.1Q324.6 473 328 468.1M323.3 475.1Q327.9 474.3 329.2 477.2M413.5 481Q409.9 477.2 410.1 475.1M413.5 481Q420 478.7 421.9 475.9M413.5 481Q418.5 485.3 421.9 486.6M413.5 481Q411.2 486.1 411.5 491M413.5 481Q410.4 483.5 407 482.4M372.8 484.8Q376.4 486.5 381.2 486.3M372.8 484.8Q373.4 488.7 376.8 489.1M372.8 484.8Q370.9 486 371.4 489.6M372.8 484.8Q368.3 486.7 364.9 489.7M372.8 484.8Q370.3 483 368.3 481M372.8 484.8Q374.2 481.9 372.6 477.9M351.6 492.9Q351.7 498.1 354.8 502.1M351.6 492.9Q349.9 498 345.3 500.6M351.6 492.9Q346.1 489.1 345.1 486.8M351.6 492.9Q350.8 488.8 353.4 486.2M351.6 492.9Q355.1 493.5 360.8 493.5M355.2 507.4Q356 500.7 355.3 496.7M355.2 507.4Q359 505.9 362.9 504M355.2 507.4Q356 509.7 359 508.7M355.2 507.4Q356.2 512.1 355.2 513.2M355.2 507.4Q352.6 506.5 347.6 507.4M337.4 523.7Q335.8 526.1 333.3 529.7M337.4 523.7Q331.6 525.7 327 524.1M337.4 523.7Q334.1 523 335 519.5M337.4 523.7Q342.4 519.8 343.1 518.7M337.4 523.7Q343.3 522.6 347.2 524M337.4 523.7Q340 525.4 339.8 527.8M345.1 504Q343.8 502.3 341.5 501.6M345.1 504Q346.2 499.9 347 499.2M345.1 504Q347.4 503.8 351 507.1M345.1 504Q342.4 507.2 341.9 511.2M375.4 521.2Q374.6 519.4 371.8 515.5M375.4 521.2Q377 519.1 380 518.2M375.4 521.2Q377.8 520 380.8 521.6M375.4 521.2Q376.6 524.8 376.1 529M375.4 521.2Q371.3 519.7 371.3 520.8M331.3 525.1Q330 520.9 332.4 517.7M331.3 525.1Q336.6 522.9 340 524M331.3 525.1Q332.7 528.8 334.9 528.6M331.3 525.1Q333.2 527 332.6 532.1M331.3 525.1Q329.8 526.8 326.2 525.5M331.3 525.1Q328.8 523.6 326.3 522.5M331.5 510.9Q332.7 506 336.2 502.2M331.5 510.9Q336.3 508.1 337.8 507.1M331.5 510.9Q337.5 512.2 342 512M331.5 510.9Q331.2 513.7 333.8 518.8M331.5 510.9Q328.6 516.1 329.4 517.7M331.5 510.9Q327.2 511.6 322.3 514.5M331.5 510.9Q329.7 507.7 324.6 506M327.6 529.3Q329.1 526.1 330.7 526.9M327.6 529.3Q331.2 530.4 334.2 533.4M327.6 529.3Q326.4 532.4 325.4 535.5M327.6 529.3Q325.5 528.2 322.7 529.4M327.6 529.3Q330.1 523.1 329.1 519M350.2 469Q348.4 463.4 350 460.7M350.2 469Q354.9 467 357.4 468M350.2 469Q353.2 473.9 353.5 477.9M350.2 469Q346.4 468.9 343.9 471.3M350.2 469Q345.4 468.3 341.6 466.7M306.8 539.7Q311.5 535.4 315.3 535.2M306.8 539.7Q307.7 540 310.6 543.1M306.8 539.7Q309.1 542.2 309.3 544.5M306.8 539.7Q303.5 543.3 300.3 545.1M306.8 539.7Q304.5 537.4 302.2 538.3M306.8 539.7Q304.7 538.2 301.1 534.1M306.8 539.7Q309.1 538.2 308.6 534.7M335.1 524.8Q338.3 522.5 343.8 519.3M335.1 524.8Q339.6 529.6 339.9 532.7M335.1 524.8Q333.1 528 331.8 533.4M335.1 524.8Q331.9 526.1 328.4 524.5M335.1 524.8Q334.2 521.7 334.7 516.1M341 473.8Q336.3 468.7 332.6 467.1M341 473.8Q341.6 472.3 339.8 469.2M341 473.8Q343.8 473.2 349.6 470.1M341 473.8Q345.9 475.1 349 475.6M341 473.8Q343.6 479.6 342.4 481.3M341 473.8Q339.3 474.3 339 477.8M341 473.8Q335 479 332.8 480.9M388.9 495.8Q384.3 496.3 383.7 500.1M388.9 495.8Q387.3 497.3 384.3 495.8M388.9 495.8Q387.4 492.2 382.6 490.3M388.9 495.8Q392.2 490.2 391.5 489.3M388.9 495.8Q390.7 494.2 394.9 493.8M388.9 495.8Q391.8 501.4 392.2 506.3M314.7 524.6Q310.8 519.9 308.2 518.3M314.7 524.6Q316.4 517.3 318.1 514.4M314.7 524.6Q314.8 522.7 318.4 521.6M314.7 524.6Q318.8 529.1 320.2 531.6M314.7 524.6Q313.2 531.4 314.1 533.7M314.7 524.6Q310 525.2 309.7 527.9M314.7 524.6Q312.2 522.3 308.8 522.8M329.4 523.3Q334.8 524.6 338.1 526.6M329.4 523.3Q332.3 529 333.2 530.2M329.4 523.3Q328 528.4 324.4 530.4M329.4 523.3Q324.8 523.6 323.7 521.5M329.4 523.3Q325.8 519 323.2 514.4M329.4 523.3Q331.3 520.7 331.3 515M333.7 540.4Q339.1 536.6 340 533.4M333.7 540.4Q339.5 539.7 342.8 538.5M333.7 540.4Q334.3 540.9 336.2 544.1M333.7 540.4Q332.5 542.7 332.8 546.8M333.7 540.4Q331.8 542.9 328.5 541.6M333.7 540.4Q328.5 539.1 324.8 538.7M333.7 540.4Q332.7 538.7 331.4 536.3M363.7 474.7Q366.9 477.8 369.1 478.3M363.7 474.7Q364.9 477 364.3 479.1M363.7 474.7Q360.7 478.2 357.6 481.8M363.7 474.7Q359 469.9 355.4 469.5M363.7 474.7Q363.4 472.2 363.8 467.3M363.7 474.7Q366.9 470.3 367.6 466.8M403.7 516.2Q401.8 510.8 401.8 509.9M403.7 516.2Q406.3 514.1 410.5 512.3M403.7 516.2Q405.9 521.9 405.8 523.2M403.7 516.2Q400.5 518.9 395.5 522.3M398.7 484.4Q399.9 482.7 401.5 479.8M398.7 484.4Q401.2 487.5 406.4 488.2M398.7 484.4Q396.9 487.6 393.3 489M398.7 484.4Q393.5 481.9 390.7 479.3M390 542.9Q392.5 540.8 393.1 538.4M390 542.9Q393.4 545.3 396.9 547M390 542.9Q390.2 548.6 389.9 553.8M390 542.9Q385.6 541.2 384 540.8M356.9 527.5Q358.7 528.4 360.8 529.9M356.9 527.5Q353.1 532.1 352.3 536.7M356.9 527.5Q354.1 525.5 349.6 524.4M356.9 527.5Q359.2 522.3 359.2 518.3M369.4 493.7Q368.8 488.1 366.5 486.8M369.4 493.7Q368.5 488.4 368.5 483.8M369.4 493.7Q373.8 491.4 379 489.6M369.4 493.7Q369.3 496.7 372.4 496.6M369.4 493.7Q370.6 496 369.1 500.6M369.4 493.7Q366.1 495 365.2 494.5M345.8 542.2Q339.5 542.2 335.7 545.1M345.8 542.2Q346.9 538.7 344.7 537.2M345.8 542.2Q345.2 540.2 346.8 537.3M345.8 542.2Q351 541.6 352.7 539.7M345.8 542.2Q347.2 543.3 347.7 546M345.8 542.2Q341.9 546.6 341.5 547.4M390.9 496.2Q390.4 497.4 387.9 502M390.9 496.2Q386.8 493.5 385.9 493.9M390.9 496.2Q390.8 492.1 388.2 490.9M390.9 496.2Q392.8 494 394.4 492.2M390.9 496.2Q396 498.6 400.6 499.2M390.9 496.2Q388.9 500.5 390.4 500.9M373.5 541.2Q373.1 541.4 369.5 542.4M373.5 541.2Q369.7 535 368.9 532.2M373.5 541.2Q379.5 538.6 382.5 538.5M373.5 541.2Q375.8 544.4 375.6 545.3M366.7 497.5Q368.3 492.2 367.2 491M366.7 497.5Q369.8 492.7 371.6 491.9M366.7 497.5Q370.8 498.3 375.5 498.5M366.7 497.5Q370 499.5 369.9 502.9M366.7 497.5Q364.4 499.8 365.4 503M366.7 497.5Q365.1 497.9 360.2 498.7M366.7 497.5Q360.6 495.6 359 493.2M315.9 491.2Q320 490.2 319.8 492.4M315.9 491.2Q316 496.2 315.9 498.1M315.9 491.2Q311.9 491.3 307.1 492.3M315.9 491.2Q315 486.1 311 481.8M315.9 491.2Q320.3 488.4 324.3 484.7M385.3 544.3Q385.2 539.1 385.7 538.1M385.3 544.3Q387 541.2 389.3 537M385.3 544.3Q388.4 542.5 390.5 544.2M385.3 544.3Q385.2 545.8 385 548.7M385.3 544.3Q383.3 549.3 378.1 551.4M385.3 544.3Q380.3 546.1 378.5 545M309.9 537.1Q311.4 537.1 316.1 534.1M309.9 537.1Q312.1 537.8 317.5 541.6M309.9 537.1Q307.6 538.8 303.6 539.7M309.9 537.1Q307.8 536.2 308 532.9M322.8 534.7Q325.3 530.3 327.5 525.1M322.8 534.7Q325.4 535.6 329.5 535.6M322.8 534.7Q319.6 537.6 319.7 542.9M322.8 534.7Q319.4 533.9 313.1 534.5M407.9 469.4Q403.4 467.4 403 466.8M407.9 469.4Q405.6 463.6 403.9 460.2M407.9 469.4Q412.7 466.8 414.8 462M407.9 469.4Q408.6 470.4 412.4 470.4M407.9 469.4Q408.2 474 410.1 476.5M407.9 469.4Q407.3 472.4 404.1 475.3M369.8 526.8Q369.7 525.6 371.2 522.3M369.8 526.8Q374.7 523.6 378.3 522.7M369.8 526.8Q374.4 530.4 375.8 531.7M369.8 526.8Q366.8 531.1 366.2 537.1M369.8 526.8Q366.9 523.5 361.8 523.5M388.9 476.3Q385.2 483.1 383.6 485.7M388.9 476.3Q386 475.8 380.3 477.1M388.9 476.3Q386.6 473.8 384 473.9M388.9 476.3Q388.1 472.5 390.8 472.6M388.9 476.3Q394.2 476.1 397.1 475.2M388.9 476.3Q391.1 476.5 393.4 478.2M346.7 499.4Q350.6 501.4 354.2 503.1M346.7 499.4Q345.3 503.3 346.3 504.3M346.7 499.4Q341.1 501.5 339.2 503.1M346.7 499.4Q343.1 498.1 341.6 496.7M346.7 499.4Q347.1 496.1 344.4 492.6M346.7 499.4Q348.8 497.5 351.3 495.2M385.6 518.3Q390.7 516.2 392.2 514.5M385.6 518.3Q387.2 523.8 389.4 524.9M385.6 518.3Q385 519.8 381.1 522.1M385.6 518.3Q380.7 516.2 375.9 513.8M410.2 479.3Q406.8 480.3 404.8 482M410.2 479.3Q409.8 474.4 412.6 468.7M410.2 479.3Q415.6 478.1 416.9 476.3M410.2 479.3Q410 481.8 411 486M312.4 544.1Q307.6 543 305.4 541.9M312.4 544.1Q313.5 541 315 535M312.4 544.1Q314.1 543.2 316.4 540.7M312.4 544.1Q317.9 547 321 549.5M312.4 544.1Q310.5 549.4 311.6 550.7M312.4 544.1Q311.6 546.3 308.1 547.6M334.6 506.4Q333.4 502.4 333.4 499.7M334.6 506.4Q339.7 503.2 341.7 502.1M334.6 506.4Q338 508.5 338.9 511.9M334.6 506.4Q333.4 508.9 329.7 509M396.4 489.8Q398.9 491.3 403.2 495.3M396.4 489.8Q396.3 495.9 396.6 500.2M396.4 489.8Q393.4 490 390.1 493.7M396.4 489.8Q392.4 488.1 390.1 488.4M396.4 489.8Q397.4 483.2 394.7 479.8M396.4 489.8Q400.4 488.6 404.7 484M418.1 535.3Q416.9 537.1 415.5 540.3M418.1 535.3Q417.1 535.5 412.6 538.7M418.1 535.3Q414.9 534.9 412.7 534.2M418.1 535.3Q414.3 530.9 412.3 526.7M418.1 535.3Q421 534.4 419.8 530.8M418.1 535.3Q422.3 536.7 427.2 536.5M418.1 535.3Q418.4 538.4 421.7 539.1M327.5 475.4Q328.8 481.3 333.3 484.3M327.5 475.4Q324.7 480 321.1 482.9M327.5 475.4Q323.6 474.8 320.3 472.8M327.5 475.4Q327.6 470.3 326.2 466.2M327.5 475.4Q332.9 476.1 336.7 473.4M413.6 519.9Q416.6 525.2 417.8 529.3M413.6 519.9Q412.7 521.9 411.1 524.2M413.6 519.9Q409.2 517.5 405.8 518.8M413.6 519.9Q408.4 518.4 405.5 517.5M413.6 519.9Q413.5 515.7 413.2 515.2M413.6 519.9Q417.4 518.2 420.9 514.1M413.6 519.9Q420.5 521.8 424.1 522.1M321.3 475.8Q325.1 476.7 331.2 474.3M321.3 475.8Q322.3 478.9 322.4 479.7M321.3 475.8Q316.6 477.6 313.1 479M321.3 475.8Q322.3 472.8 321.3 467.9M407.6 498Q409.5 494.4 411.4 489.8M407.6 498Q409.5 499.2 411.8 502.9M407.6 498Q405.3 501.9 401.6 507.2M407.6 498Q401 499.8 398.3 501.3M407.6 498Q404 494.3 403.4 491.2M315.3 490Q310.3 491.9 309.7 491.9M315.3 490Q312.2 486.2 312.9 482.8M315.3 490Q319.5 489.3 320 488.1M315.3 490Q316.5 492.1 315.5 496.1M382.2 495.7Q381.2 498.8 378.1 499.5M382.2 495.7Q381.1 496 378.1 497.8M382.2 495.7Q381.3 491.2 379.7 490.5M382.2 495.7Q381.4 489.6 382.1 486.1M382.2 495.7Q384.4 494.6 386.1 493.4M382.2 495.7Q386.4 496.5 386.8 498.2M382.2 495.7Q385 497.4 385.6 501.3M392.2 500.8Q397.7 495.5 400.9 494.3M392.2 500.8Q398.1 503.8 401.2 503.8M392.2 500.8Q394.8 507 398.2 509.8M392.2 500.8Q393.4 505.8 393.7 508.9M392.2 500.8Q390.3 502 386 504.5M392.2 500.8Q387.2 496.5 383.6 494.4M392.2 500.8Q391 495.9 389.7 493.2M307 499.8Q310.1 504.5 312.5 509.1M307 499.8Q304.9 504.1 302.4 508.7M307 499.8Q300.5 498.5 296.3 499.2M307 499.8Q308.4 494.5 306.7 490.5M307 499.8Q311.2 499.5 312.1 497.1M307 499.8Q310.9 502 310.7 502.1M418.7 503.5Q423.2 503.2 427.8 504.7M418.7 503.5Q419.2 508.3 420.3 513.4M418.7 503.5Q416.3 505.8 415.8 506.4M418.7 503.5Q413.2 502.5 410.7 502.5M418.7 503.5Q414.9 501.7 413.7 496.9M418.7 503.5Q420.5 497.3 422.9 493.8M418.7 503.5Q421.7 504.2 423.3 503.3M349.4 489.1Q343.9 490 341.3 492.5M349.4 489.1Q348.3 483.7 347.3 481.4M349.4 489.1Q355.4 488.8 360 488.4M349.4 489.1Q348.8 491.6 349.4 493.8M369.4 479Q369.8 483.1 367.9 489.1M369.4 479Q368.3 481.2 366.8 482.1M369.4 479Q366.1 475.4 362.8 471M369.4 479Q373.2 475.2 375.3 471.5M369.4 479Q370.9 480.9 373.9 479.9M317.2 537.8Q315.2 539 312.3 538.3M317.2 537.8Q317.8 534.2 316.6 532.7M317.2 537.8Q319 534.2 322 532.6M317.2 537.8Q321.8 537.7 328.1 538.5M317.2 537.8Q318.6 539.5 320.3 540.8M317.2 537.8Q316 543.7 316.6 545M317.2 537.8Q314.8 540.9 312.8 547M315.9 491Q311.4 490.5 310.9 488M315.9 491Q317.8 484.9 316.4 481.8M315.9 491Q316.7 489.5 320 488.3M315.9 491Q316.9 491.3 319.6 492.8M315.9 491Q315 496.3 316.9 500.8M315.9 491Q308.5 493.9 305.6 493.4M414.4 539.5Q417.3 535.9 417.5 535.7M414.4 539.5Q418.8 535.6 420.6 535.3M414.4 539.5Q417 543.9 422.3 544.9M414.4 539.5Q413.9 544.6 412.6 545.4M414.4 539.5Q408.9 537.8 406.2 537.9M414.4 539.5Q413.6 539.1 412.1 535.5M418.7 496.4Q416.5 500.8 417.3 502.3M418.7 496.4Q414.9 493.9 412.2 495M418.7 496.4Q420 489.1 421.2 486.1M418.7 496.4Q423.5 498.3 425.2 499.7M389.7 533.6Q387 535.6 385.9 536.2M389.7 533.6Q385.6 528.4 383.8 525.7M389.7 533.6Q392.1 529.8 395.2 524.7M389.7 533.6Q394.4 534.2 396.5 535.8M389.7 533.6Q391.4 537.3 389.4 539.7M352.6 495.4Q351.9 492 355.1 485.8M352.6 495.4Q359.7 494.4 363.1 492.8M352.6 495.4Q356.1 499.2 356 504.2M352.6 495.4Q352 499 351.8 503.5M352.6 495.4Q348.9 497 344.7 494.8M352.6 495.4Q351.7 494.1 350.6 491.2M352.3 537.1Q349 540.1 345.7 544.5M352.3 537.1Q350.8 534.8 348.9 534.5M352.3 537.1Q350.1 534.8 350 532.1M352.3 537.1Q354.6 535.1 357.6 534.4M352.3 537.1Q353.6 539.2 357.4 540.9M352.3 537.1Q355.5 540.7 356.5 546.6M359.3 518.5Q359.8 520.4 361.6 522.9M359.3 518.5Q357.1 521.5 355.5 521.3M359.3 518.5Q353.8 519.6 348.3 518.7M359.3 518.5Q357.2 516.1 357.4 510.8M359.3 518.5Q360.1 517.7 364.1 516.7M406.4 514.9Q408.8 510.7 411.4 506.6M406.4 514.9Q410.8 513.4 415.5 512.9M406.4 514.9Q407.9 519.4 408.8 524.9M406.4 514.9Q405.9 518.6 402.7 520.7M406.4 514.9Q404.9 514 401 513.3M406.4 514.9Q399.9 511.6 397.5 509.1M360.9 472.4Q363.2 472.1 368.4 471M360.9 472.4Q361 473.2 362.7 476M360.9 472.4Q358.4 470.7 355.8 472.2M360.9 472.4Q357.3 468 357.6 464.9M375.2 507.5Q376.9 508.7 378.9 512.7M375.2 507.5Q371.3 509.2 367.5 513.8M375.2 507.5Q371.4 508.1 369.5 509.2M375.2 507.5Q371.6 504.6 366.9 503.2M375.2 507.5Q378.2 506.1 378 501.3M375.2 507.5Q379.5 505.2 380.5 501M375.2 507.5Q378.5 506.6 380.9 509M395.8 479.4Q392.3 482.9 390.6 484.3M395.8 479.4Q389 477.9 385.9 476.5M395.8 479.4Q396.5 475.3 399.4 474.3M395.8 479.4Q399.3 479.5 401 479.1M395.8 479.4Q394.3 481.4 395.7 484.1M402.1 518.1Q405.7 519 407.2 520.7M402.1 518.1Q401.4 519 403.3 523M402.1 518.1Q395.9 521.2 392.7 523.8M402.1 518.1Q398.2 514.4 393.9 511.5M402.1 518.1Q401.5 513.4 400 510.4M402.1 518.1Q408.8 518.8 411.4 517.6M338.9 496.5Q333 494.6 329.9 495.7M338.9 496.5Q335.7 495.5 336.8 491.9M338.9 496.5Q344.2 491 345.3 489.2M338.9 496.5Q342.4 493.1 347 493.8M338.9 496.5Q338.7 500.4 342 505.3M338.9 496.5Q337.8 499.9 335.9 503.8M419.3 527.5Q423.7 525.5 427.4 523.4M419.3 527.5Q421.7 534.3 420.3 536.9M419.3 527.5Q416.9 529.1 415.3 528.8M419.3 527.5Q417.4 525.6 416.2 522.5M381.5 470.5Q382.5 471.5 386.5 471.6M381.5 470.5Q383.4 471.4 385.6 473.7M381.5 470.5Q380.3 472.3 378.4 475.6M381.5 470.5Q377 471 372.5 473.1M381.5 470.5Q377.3 467.5 375.1 466.4M381.5 470.5Q379.4 470.4 379.4 466.9M381.5 470.5Q384.9 467 385 466.2M395.2 480.3Q393.4 477.4 392.2 474.1M395.2 480.3Q397.2 478 399.5 476.1M395.2 480.3Q397.2 485.5 397.7 489.4M395.2 480.3Q394.4 483.3 391.7 483.3M312.7 500.3Q314 502.3 315.9 504.3M312.7 500.3Q311.2 505.4 312.6 509.8M312.7 500.3Q306.7 497.2 303.8 497.2M312.7 500.3Q310 496.9 311.4 495.9M312.7 500.3Q314.8 499.2 318 497.8M390.2 532.2Q391.8 525.6 390.8 522.2M390.2 532.2Q392.6 532.6 396.5 532.2M390.2 532.2Q389.1 534.5 390.9 539M390.2 532.2Q385.9 533.1 382.5 532.5M400 472.2Q403.4 478.3 403.9 479.7M400 472.2Q398.7 477.5 398.3 478.2M400 472.2Q395 473.1 392.2 474.4M400 472.2Q400.1 467.4 396.8 466.9M400 472.2Q402.3 470.3 404 469.3M334.1 515.6Q334.9 522.6 335.8 524.9M334.1 515.6Q331.1 514.7 326.7 511.5M334.1 515.6Q338 511 338.5 505.8M334.1 515.6Q335.6 515.5 338.3 516.9M390.8 538.4Q386.3 536.3 381.5 534.8M390.8 538.4Q392.2 535.9 393.2 531M390.8 538.4Q396.1 535.4 397.6 534.9M390.8 538.4Q391.7 538.4 394.1 541M390.8 538.4Q387.9 542.2 385.9 544.3M347.4 483.1Q350.5 480.3 351 477.3M347.4 483.1Q353.4 485.5 355.4 486.9M347.4 483.1Q349.6 485.8 350.7 486.8M347.4 483.1Q343.3 484.2 342.2 486.6M347.4 483.1Q344.3 479.5 340.8 479M347.4 483.1Q345.6 479.5 342.4 474.6M399.9 476.5Q403.7 480.9 404.7 485.8M399.9 476.5Q397.5 480.3 393.7 482M399.9 476.5Q398.4 473.3 393.6 471.2M399.9 476.5Q403.5 474.3 409.9 473.9M398.6 513.3Q399.2 510.5 398.3 508.9M398.6 513.3Q403.5 513.5 409.1 510.3M398.6 513.3Q398.5 514.4 401.9 516.3M398.6 513.3Q399.4 515.3 397.2 520.4M398.6 513.3Q393.2 513.5 388.6 514.3M342.1 522.7Q342.8 520.6 340.3 515.3M342.1 522.7Q345.7 520.1 347.5 520.4M342.1 522.7Q343 526 346.9 529.5M342.1 522.7Q335.3 523.9 333 527.3M343.1 484.2Q343.1 479.6 342 479.4M343.1 484.2Q346.4 481.4 347.5 480.3M343.1 484.2Q344.4 486.7 347.7 490.7M343.1 484.2Q341.7 488.7 343.7 491.1M343.1 484.2Q339.1 486.8 337.2 490.4M343.1 484.2Q339.7 481.9 336.3 476.6M403.8 477.6Q407.6 476.9 410.2 478.7M403.8 477.6Q408.5 481 410.7 484.4M403.8 477.6Q401.2 481.8 398.2 484M403.8 477.6Q400.9 479.3 398.1 477.5M403.8 477.6Q402.6 476 403.1 473.6M403.8 477.6Q408.2 472.8 412.3 470.8M318.4 489.3Q315.8 490.7 315.5 495M318.4 489.3Q315.7 488.6 312.3 490.2M318.4 489.3Q316.8 487.4 317.6 485M318.4 489.3Q323.1 484.7 323.3 483.1M318.4 489.3Q324 488.2 325.6 489.1M318.4 489.3Q318.3 489.4 321.2 492.7M354.3 521.7Q351.8 516.8 349.9 514.6M354.3 521.7Q351.7 519.2 352.9 515M354.3 521.7Q354.5 520.1 357.3 518.5M354.3 521.7Q356.2 521.7 360.2 523.7M354.3 521.7Q356.8 527.2 356 532.3M354.3 521.7Q351.1 524.8 350.8 526.7M354.3 521.7Q351.7 521.2 348.1 521.8M406.4 514Q406.5 512.6 407.9 509.3M406.4 514Q413 512.9 415 511.4M406.4 514Q409.4 518 408.7 518.6M406.4 514Q406.4 516.1 406.9 520M406.4 514Q399.9 515.3 397 517.4M406.4 514Q402.3 512.6 402.2 512.5M406.4 514Q404.6 510.8 402.6 504.7M347.6 509.3Q348.7 506.2 348.3 500.9M347.6 509.3Q350.7 512.5 356.6 512.9M347.6 509.3Q344.2 510.2 344.2 514M347.6 509.3Q342.9 506.8 340.7 506.5M409.4 469.4Q408.9 470 405.8 473M409.4 469.4Q405.7 471.3 403.6 470.7M409.4 469.4Q408.3 469.3 405.4 466.3M409.4 469.4Q411.7 465.3 412.9 464.3M409.4 469.4Q414 470.4 414.7 468.3M409.4 469.4Q409.4 471.3 410.9 473.2M317.8 502.3Q312.2 502.2 309.6 502.1M317.8 502.3Q318.5 495.8 317.7 492.9M317.8 502.3Q317.7 498.6 321.1 498.1M317.8 502.3Q319.8 505.4 324.5 504.6M317.8 502.3Q316.3 504.2 314.8 506.1M339.3 509.6Q335.7 505.3 336.3 503.9M339.3 509.6Q343.7 503.4 344.7 501.4M339.3 509.6Q342.8 507.8 345.6 508.3M339.3 509.6Q339.9 516.5 342.4 518.5M339.3 509.6Q336.3 511.7 333.3 517M339.3 509.6Q337.5 510.8 334.1 512.8M339.3 509.6Q336.3 509.3 334.3 508.4M378.9 536.9Q378.7 532.2 381.7 532M378.9 536.9Q382.6 538.9 386.1 538.5M378.9 536.9Q378.9 539.4 381.6 543.9M378.9 536.9Q375.3 539.2 375.4 544.6M378.9 536.9Q375.7 536.8 370.8 537.7M378.9 536.9Q377.9 533.1 376.9 531.7M357.3 470Q364.5 470.2 367.8 470.3M357.3 470Q356 472.1 357.8 476.9M357.3 470Q351.1 471.9 348.8 473.7M357.3 470Q355.7 468.7 356 464.8M357.3 470Q359.3 466.6 361.8 460.5M307.2 540.5Q308.8 534.5 310.7 532.7M307.2 540.5Q310 540.3 314.2 538.1M307.2 540.5Q309.8 545.6 312.1 546.3M307.2 540.5Q306.5 543.5 305 545.8M307.2 540.5Q301.8 539.1 299.3 536.1M347.6 518Q343.6 517.6 341.9 520.2M347.6 518Q344.2 515 342.7 511.8M347.6 518Q350.3 517.6 353.6 516.4M347.6 518Q351.4 518.5 351.1 522.5M322.8 483.4Q320.4 483.1 317.2 485.2M322.8 483.4Q323.4 477.2 321 473.3M322.8 483.4Q327.8 481.4 328.7 481.1M322.8 483.4Q324.3 485.9 325 489.5M377.7 496.1Q374.8 501 375.9 504M377.7 496.1Q373.4 496.7 367.5 499.1M377.7 496.1Q371.8 494.5 370 492M377.7 496.1Q380 491.6 382.6 490.1M377.7 496.1Q382 493.8 385 494.9M377.7 496.1Q382.2 501.1 384.7 502.2M314.4 478.5Q310.7 482.1 309.4 482.1M314.4 478.5Q310.1 480.5 308 479.1M314.4 478.5Q312.9 472.2 310.7 470M314.4 478.5Q315.1 474 317.2 468.9M314.4 478.5Q316.4 480.3 319.3 479M314.4 478.5Q319.3 483.8 321.3 487M314.4 478.5Q312.7 481.2 311.9 484.8M358.2 536.3Q360 533.6 361.9 533.7M358.2 536.3Q362.8 540 367.9 541.1M358.2 536.3Q357.5 541.1 359.2 546.6M358.2 536.3Q352.4 539.7 348.8 539.9M358.2 536.3Q358.4 533.9 355.5 533.1M310.8 478.8Q313.2 485.3 312.2 488.2M310.8 478.8Q306.7 480.9 303.7 482.8M310.8 478.8Q304.8 473.7 303.2 471.6M310.8 478.8Q313 476.8 317.8 473.2M396.6 490.6Q400.9 492.3 404.2 493.6M396.6 490.6Q395.1 496 393 499.8M396.6 490.6Q393.5 491.6 390.6 493.4M396.6 490.6Q392.6 487 392.3 484.4M396.6 490.6Q398.2 485.5 398.9 480.2M396.6 490.6Q399.7 488.5 401.6 490.3M359.5 472.4Q357.8 470.8 359.2 467.4M359.5 472.4Q362.5 473 367.4 470M359.5 472.4Q364 478.5 366 480.3M359.5 472.4Q355.1 476.8 353.2 479.8M359.5 472.4Q358 471.1 354.9 470.3M408.8 490.1Q412.7 491.5 413.8 493.4M408.8 490.1Q408.1 493 406.5 496.2M408.8 490.1Q404.6 489.2 402.2 489.6M408.8 490.1Q407.3 489.9 405.1 486.6M408.8 490.1Q410.6 487.5 410.8 482.6M329.4 482Q327.6 479 327.7 475.1M329.4 482Q331.7 479.4 334 478.9M329.4 482Q332.4 483.7 332.7 485.7M329.4 482Q326.1 482.5 324.2 482.1" stroke="#38FF38" stroke-width="0.9" fill="none" stroke-linecap="round" opacity="0.95"/>
<g fill="#50FF50"><circle cx="334" cy="512.8" r="1"/><circle cx="395.5" cy="532.9" r="1"/><circle cx="414.9" cy="522.4" r="1.5"/><circle cx="323.3" cy="475.1" r="1.4"/><circle cx="413.5" cy="481" r="0.8"/><circle cx="372.8" cy="484.8" r="1.2"/><circle cx="351.6" cy="492.9" r="0.8"/><circle cx="355.2" cy="507.4" r="0.9"/><circle cx="337.4" cy="523.7" r="1.4"/><circle cx="345.1" cy="504" r="1.1"/><circle cx="375.4" cy="521.2" r="1.3"/><circle cx="331.3" cy="525.1" r="1.1"/><circle cx="331.5" cy="510.9" r="1"/><circle cx="327.6" cy="529.3" r="1.3"/><circle cx="350.2" cy="469" r="1.2"/><circle cx="306.8" cy="539.7" r="1.3"/><circle cx="335.1" cy="524.8" r="0.9"/><circle cx="341" cy="473.8" r="1.3"/><circle cx="388.9" cy="495.8" r="1.4"/><circle cx="314.7" cy="524.6" r="1.2"/><circle cx="329.4" cy="523.3" r="0.8"/><circle cx="333.7" cy="540.4" r="1.4"/><circle cx="363.7" cy="474.7" r="1.3"/><circle cx="403.7" cy="516.2" r="0.9"/><circle cx="398.7" cy="484.4" r="1.1"/><circle cx="390" cy="542.9" r="1.1"/><circle cx="356.9" cy="527.5" r="1.2"/><circle cx="369.4" cy="493.7" r="1.1"/><circle cx="345.8" cy="542.2" r="1.3"/><circle cx="390.9" cy="496.2" r="0.8"/><circle cx="373.5" cy="541.2" r="1.2"/><circle cx="366.7" cy="497.5" r="1.3"/><circle cx="315.9" cy="491.2" r="0.9"/><circle cx="385.3" cy="544.3" r="1.2"/><circle cx="309.9" cy="537.1" r="1.4"/><circle cx="322.8" cy="534.7" r="1.1"/><circle cx="407.9" cy="469.4" r="1.3"/><circle cx="369.8" cy="526.8" r="1.1"/><circle cx="388.9" cy="476.3" r="0.8"/><circle cx="346.7" cy="499.4" r="1.2"/><circle cx="385.6" cy="518.3" r="1.2"/><circle cx="410.2" cy="479.3" r="0.8"/><circle cx="312.4" cy="544.1" r="1.5"/><circle cx="334.6" cy="506.4" r="1.2"/><circle cx="396.4" cy="489.8" r="1"/><circle cx="418.1" cy="535.3" r="1.5"/><circle cx="327.5" cy="475.4" r="0.8"/><circle cx="413.6" cy="519.9" r="1.2"/><circle cx="321.3" cy="475.8" r="1.2"/><circle cx="407.6" cy="498" r="0.9"/><circle cx="315.3" cy="490" r="1"/><circle cx="382.2" cy="495.7" r="1.4"/><circle cx="392.2" cy="500.8" r="1.1"/><circle cx="307" cy="499.8" r="1.2"/><circle cx="418.7" cy="503.5" r="1.3"/><circle cx="349.4" cy="489.1" r="1.2"/><circle cx="369.4" cy="479" r="0.9"/><circle cx="317.2" cy="537.8" r="0.8"/><circle cx="315.9" cy="491" r="0.9"/><circle cx="414.4" cy="539.5" r="0.8"/><circle cx="418.7" cy="496.4" r="1.4"/><circle cx="389.7" cy="533.6" r="1.1"/><circle cx="352.6" cy="495.4" r="0.9"/><circle cx="352.3" cy="537.1" r="1.1"/><circle cx="359.3" cy="518.5" r="1.4"/><circle cx="406.4" cy="514.9" r="1.4"/><circle cx="360.9" cy="472.4" r="1.5"/><circle cx="375.2" cy="507.5" r="1.5"/><circle cx="395.8" cy="479.4" r="1.3"/><circle cx="402.1" cy="518.1" r="1.1"/><circle cx="338.9" cy="496.5" r="1.1"/><circle cx="419.3" cy="527.5" r="1.5"/><circle cx="381.5" cy="470.5" r="0.9"/><circle cx="395.2" cy="480.3" r="1"/><circle cx="312.7" cy="500.3" r="1.5"/><circle cx="390.2" cy="532.2" r="1"/><circle cx="400" cy="472.2" r="0.9"/><circle cx="334.1" cy="515.6" r="1.4"/><circle cx="390.8" cy="538.4" r="1.4"/><circle cx="347.4" cy="483.1" r="0.9"/><circle cx="399.9" cy="476.5" r="0.8"/><circle cx="398.6" cy="513.3" r="1.3"/><circle cx="342.1" cy="522.7" r="1.2"/><circle cx="343.1" cy="484.2" r="1.3"/><circle cx="403.8" cy="477.6" r="1"/><circle cx="318.4" cy="489.3" r="1"/><circle cx="354.3" cy="521.7" r="1.1"/><circle cx="406.4" cy="514" r="0.9"/><circle cx="347.6" cy="509.3" r="0.9"/><circle cx="409.4" cy="469.4" r="0.9"/><circle cx="317.8" cy="502.3" r="0.9"/><circle cx="339.3" cy="509.6" r="1"/><circle cx="378.9" cy="536.9" r="0.8"/><circle cx="357.3" cy="470" r="0.8"/><circle cx="307.2" cy="540.5" r="1"/><circle cx="347.6" cy="518" r="1.1"/><circle cx="322.8" cy="483.4" r="1"/><circle cx="377.7" cy="496.1" r="1.3"/><circle cx="314.4" cy="478.5" r="0.9"/><circle cx="358.2" cy="536.3" r="1.3"/><circle cx="310.8" cy="478.8" r="1.1"/><circle cx="396.6" cy="490.6" r="1"/><circle cx="359.5" cy="472.4" r="0.9"/><circle cx="408.8" cy="490.1" r="0.9"/><circle cx="329.4" cy="482" r="1.4"/></g>
<path d="M305 469C320 470 335 469 345 467L352 472C335 475 320 476 305 476Z" fill="#000" opacity="0.7" filter="url(#soft)"/>
<path d="M305 527C325 531 350 533 370 535C390 537 410 541 422 543V548C400 546 380 543 360 541C340 538 320 535 305 538Z" fill="#000" opacity="0.7" filter="url(#soft)"/>
<g filter="url(#bsp)"><path d="M305 463H363C375 475 395 488 422 499V463Z" fill="#00f"/><path d="M305 463H345V467C330 468 315 469 305 469Z" fill="#00f"/><path d="M305 538C325 535 345 538 365 540C385 542 405 546 422 548V554H305Z" fill="#00f"/></g>
<clipPath id="bcJ2"><path d="M305 463H363C375 475 395 488 422 499V463Z"/><path d="M305 463H345V467C330 468 315 469 305 469Z"/><path d="M305 538C325 535 345 538 365 540C385 542 405 546 422 548V554H305Z"/></clipPath>
<path clip-path="url(#bcJ2)" d="M365.8 535.6Q365.3 539.3 363.9 543M381.9 472.9Q380.9 469.2 381 465.5M363.4 491.6Q367 490.7 368.5 489.7M312.7 536.1Q314.9 539.1 316.9 542M415.8 481.9Q416.8 478.8 418.5 475.6M315 547.6Q316.5 545.9 316.9 544.2M399.4 545.8Q399.7 544.2 399 542.5M346.5 549.4Q347.1 545.4 348.8 541.5M369.8 549.2Q370 546.9 369.1 544.6M327.8 517.4Q328.2 515.5 328 513.6M411.4 491.7Q412.2 488.8 414 485.8M306.6 530.8Q306.8 528.5 306.5 526.2M389.7 490.9Q390.8 487.2 393.8 483.5M370.7 524.7Q371.9 520.5 372.8 516.2M350.7 480.6Q349.5 478.9 349.4 477.2M402.8 511.3Q405.3 509.4 409.7 507.5M412.4 471.4Q414.1 468.4 416.1 465.5M314.2 470.7Q313.9 473.8 314.5 476.8M324.4 489.6Q321.7 489.8 319 490M369.5 509.4Q370.7 506.1 373 502.8M342.3 480Q340.6 476.7 338.7 473.4M354.3 543.4Q354.8 539.1 355 534.9M376.3 496.1Q376.1 493.7 376.4 491.3M373.8 509.7Q373.2 506.6 371.8 503.6M393.9 503.4Q393.8 500.3 393.9 497.2M306.9 486.7Q308.7 484.1 309.6 481.6M329.9 487Q330.2 485.5 330.6 483.9M410.2 518.1Q414.3 520.6 417 523M308.5 511.3Q309.8 514.7 309.7 518.1M397.2 501.5Q397.4 499.5 397.4 497.4M336.6 494.3Q337.9 490.1 339.5 485.9M306.4 530.5Q306.5 526.7 308.5 522.8M389.9 488.6Q388.9 485.6 388.8 482.5M362.6 488.5Q361.3 485.1 360.8 481.7M328.6 495.9Q329.8 492.5 332.4 489.2M339.4 502.2Q339.6 499.2 338.7 496.1M323.3 513.3Q324 510.9 323.5 508.4M407.3 549.1Q407.9 547.1 407.7 545.1M395.4 501.4Q397 497.8 397.4 494.2M338.8 484.8Q337.6 483.4 337.9 481.9M362.4 501.7Q361.8 503.1 359.5 504.5M313.9 493.6Q312.5 497.5 310.1 501.5M341.1 540.7Q338.4 540.5 337.3 540.4M400 542.9Q400 539.1 401.1 535.2M330.1 541.1Q327.2 542 325.9 542.9M352.2 544.8Q352 543.2 351.6 541.7M312.4 523.7Q311.9 521.5 312.1 519.2M408.6 547.7Q408.9 549.7 409.6 551.8M406.7 547.9Q406.9 545.2 407.4 542.6M328.3 527.9Q331 526.8 333.8 525.7M380.1 474.8Q380.2 472.6 380.6 470.5M361.6 539.7Q362.8 544 362.2 548.4M404.6 507.3Q404.1 502.9 403.7 498.5M416.3 479.6Q415.8 477.5 416.2 475.4M309.7 474.2Q308.9 472 307.7 469.9M335.5 491Q335.3 487.9 334 484.8M309.1 511.3Q310.2 508 312.2 504.7M376.7 544.1Q376.6 542.2 377.1 540.4M360.8 492.6Q355.4 492.8 351.9 493M398.8 473.2Q398.1 470.8 396.9 468.3M416.2 466.7Q414 463.3 413.3 459.8M328.2 535.8Q330.1 533.7 330.1 531.6M317.8 471.7Q316.7 468.3 316.4 464.9M343.7 464.5Q343 462 340.8 459.5M367.5 492.1Q367.8 488.2 369.8 484.2M380.2 489.7Q380 486.5 379.1 483.3M393.5 469.4Q393.5 467.6 391.7 465.9M371.6 481Q372.1 479.3 371.3 477.5M349.5 468.1Q348.7 464.3 348.8 460.5M333 508.1Q332.4 504.7 330.2 501.3" stroke="#4FD8FF" stroke-width="0.8" fill="none" opacity="0.3"/>
</g>
<rect x="454" y="460.2" width="117" height="90.6" fill="#000"/>
<g clip-path="url(#c14)">
<rect x="454" y="460.2" width="117" height="90.6" fill="#021405" opacity="1"/>
<rect x="454" y="460.2" width="117" height="90.6" fill="#fff" filter="url(#fib)" opacity="0.3"/>
<rect x="454" y="460.2" width="117" height="90.6" fill="#fff" filter="url(#gsp)" opacity="0.85"/>
<rect x="454" y="460.2" width="117" height="90.6" fill="#fff" filter="url(#nuc)" opacity="0.9"/>
<path d="M504.8 521.4Q502 520.3 497.8 521.7M504.8 521.4Q500.2 520.4 499.1 518.6M504.8 521.4Q506.8 519.7 506.8 516.6M504.8 521.4Q506.7 521.6 509.5 519.8M504.8 521.4Q504.6 521.4 507.4 522.9M504.8 521.4Q507.7 524.2 506.5 523.6M504.8 521.4Q504.8 522 504.1 525.3M489.7 540.7Q489.2 539.9 491.6 538.5M489.7 540.7Q492.2 540.9 495.3 541.6M489.7 540.7Q491.8 543.8 490.9 543M489.7 540.7Q487.1 544.3 484.7 545.6M489.7 540.7Q487.9 540.6 486.2 541.7M489.7 540.7Q487.6 537.9 488.4 535.8M463.7 500.9Q461.9 504 461.2 503.9M463.7 500.9Q460.9 499.9 460.6 501.5M463.7 500.9Q464.4 495.5 462.6 494.6M463.7 500.9Q464 497.1 466.4 495.6M463.7 500.9Q465.6 500.2 467.9 499.5M463.7 500.9Q467.6 504.5 468.1 505.2M463.7 500.9Q463.8 503.9 465.7 506M561.8 501.2Q563.6 499.3 566 500.1M561.8 501.2Q562.1 505.1 564.8 506.4M561.8 501.2Q562.6 501.7 561 504.8M561.8 501.2Q558.9 500.6 554.8 502.2M561.8 501.2Q561.9 498.2 558.6 499M561.8 501.2Q561.3 499.9 561.1 498M561.8 501.2Q561.2 497.4 564.1 495.2M535.8 479Q538.2 478.4 536.8 475.9M535.8 479Q539.9 479.1 542.3 481.4M535.8 479Q536.4 481.9 535.8 485.8M535.8 479Q533.5 479.4 533.1 479.9M535.8 479Q534.9 476.5 531.8 474.1M569.7 488.6Q567 491.3 567.1 493.6M569.7 488.6Q567.3 488.1 564.2 487.9M569.7 488.6Q568.8 485.8 571.3 482.9M569.7 488.6Q572.4 489.3 574.8 487.3M569.7 488.6Q569.3 491.3 572 494.2M566.6 508.5Q566.5 509.6 564.3 513.3M566.6 508.5Q565.3 506.9 561.8 507.8M566.6 508.5Q567.4 505.4 567.9 505.7M566.6 508.5Q568.9 509.1 569.6 508.2M546.5 503.9Q549.4 505.2 552.3 504.4M546.5 503.9Q546.6 507.4 547 509.4M546.5 503.9Q545.6 503.1 543.9 505.2M546.5 503.9Q546.5 502.8 544.1 502.4M546.5 503.9Q547.1 500.4 548 498.6M491.8 502.6Q489.9 500.3 489.4 501.3M491.8 502.6Q490.7 498.2 488.5 496.3M491.8 502.6Q492.1 500 493.9 497.3M491.8 502.6Q491.9 502.2 495.3 501.2M491.8 502.6Q491.5 506 494.6 506.1M491.8 502.6Q490.3 507.4 491.9 509.4M491.8 502.6Q489.6 505.3 489.9 505.9M570.1 515.8Q570 514 572.7 514M570.1 515.8Q569.9 514.6 573 515.9M570.1 515.8Q572.4 519.5 571.5 519.6M570.1 515.8Q570.2 517 566.8 518.3M570.1 515.8Q567.7 515.5 566.9 513.5M570.1 515.8Q571.1 514.5 568.3 510.8M527.9 524.5Q525.2 526.1 524.6 526.3M527.9 524.5Q524.9 519.8 525.5 519M527.9 524.5Q530.2 519.9 530.5 519.4M527.9 524.5Q529.7 524.2 531.1 525.7M527.9 524.5Q529.8 526.1 528.4 529.2M502.7 530.9Q501.1 532.7 502.6 534M502.7 530.9Q498.5 534.8 498.1 534.5M502.7 530.9Q499.6 531.9 500.6 529.3M502.7 530.9Q501.1 528.7 501 525.4M502.7 530.9Q503.3 530.2 505.6 527.9M502.7 530.9Q508.2 532.1 509.6 531.4M532.7 525.7Q531.3 523.9 528 521.2M532.7 525.7Q533.8 524.5 535.7 521.3M532.7 525.7Q535.7 526.4 536.9 523.9M532.7 525.7Q534.5 528.2 537.8 527.7M532.7 525.7Q531.2 530.4 531.3 531.1M532.7 525.7Q530 529.9 530.3 530.1M532.7 525.7Q529.7 526.7 526.1 524.6M481.1 493Q477.6 494.7 474.3 493.3M481.1 493Q480.5 493 481.2 489.7M481.1 493Q485.6 490.5 486.4 491.5M481.1 493Q482 494.2 484.2 498.1M516.8 475Q514.3 477.4 513.4 477.2M516.8 475Q514.6 473.2 512.5 472.5M516.8 475Q517.9 471 519.2 470.1M516.8 475Q519 473.7 519.6 475M516.8 475Q519.3 476.9 518.9 477.3M542 478.9Q543.4 474.5 541.3 471.9M542 478.9Q544.2 476.3 546.6 477.3M542 478.9Q546.5 479 547.5 481.1M542 478.9Q543.4 481.2 544.2 483.6M542 478.9Q540 477.8 537.6 480.1M542 478.9Q539.2 475.2 538.3 475M494.3 491.2Q494.2 488.4 495.8 487.5M494.3 491.2Q495.5 491.1 499.3 488.6M494.3 491.2Q496.3 491.5 496.3 492.8M494.3 491.2Q493.5 492.2 490.2 495.1M494.3 491.2Q490.3 490.7 490.2 489.2M531.1 471.3Q534.5 469.3 534.7 470.9M531.1 471.3Q529.9 474 532.1 474.9M531.1 471.3Q531.4 475.5 529 475.8M531.1 471.3Q529.3 473.4 526.6 472.4M531.1 471.3Q529.5 470.1 527.4 468.1M531.1 471.3Q530.9 465.9 532 464.6M532.7 476.3Q535 477 539.6 476M532.7 476.3Q534.1 477 534.9 480.5M532.7 476.3Q530.1 476.3 529 476.6M532.7 476.3Q533.6 473.8 533.5 469.8M564.8 502.5Q561.9 502.1 558.8 499.2M564.8 502.5Q565 500.6 566.6 496M564.8 502.5Q566.9 504.7 567.4 504M564.8 502.5Q561.1 504.7 561.1 508.3M509.7 524Q507.2 521.5 507.7 522.2M509.7 524Q513.7 520.4 513.8 519.1M509.7 524Q512 525 512.3 528.8M509.7 524Q505.3 525 504.4 528.4M485.2 512.7Q484.6 516.2 485.4 515.7M485.2 512.7Q483.5 512.5 480 515.5M485.2 512.7Q485.1 511.3 481.8 511.1M485.2 512.7Q484.7 509.1 484.4 505.7M485.2 512.7Q486 512.2 486.8 509.1M485.2 512.7Q486.4 513.7 489.6 513.7M485.2 512.7Q485.9 512.1 487.2 514.6M559.7 470.6Q556.6 472.8 556.9 476.9M559.7 470.6Q555.3 469.9 554.8 471M559.7 470.6Q558.1 466.1 554.6 465.7M559.7 470.6Q559.7 469.4 561.7 465.8M559.7 470.6Q564 468.7 565.1 467.1M559.7 470.6Q561.1 474.6 565.4 474.4M559.7 470.6Q561.5 473.7 560.8 476.5M514.1 486.7Q513.1 483.5 513.9 482.3M514.1 486.7Q515.7 487.5 518.4 487.8M514.1 486.7Q512.2 488.1 511.5 491.7M514.1 486.7Q509.6 485.7 509.4 486.7M568.7 477.3Q568.7 479.1 571.9 478.9M568.7 477.3Q567.8 477 566.4 479.3M568.7 477.3Q567.8 477.2 566.1 473.5M568.7 477.3Q568.9 477.5 570.5 474.8M482.6 509.3Q480.7 509.6 476.8 506.3M482.6 509.3Q482.9 504.6 484.4 503.8M482.6 509.3Q487.7 505.6 488.4 506M482.6 509.3Q486.9 513.1 487.8 513.6M482.6 509.3Q481.5 510.9 481.6 515.2M482.6 509.3Q478.8 511.4 478.2 510.9M461.6 504.5Q456.4 503.7 455.4 506.5M461.6 504.5Q462 499.9 461.8 499.6M461.6 504.5Q465.9 504.4 466.7 502.9M461.6 504.5Q461.5 504.1 463.3 506.9M537.2 478.7Q541.3 481.3 541.1 482.6M537.2 478.7Q536.2 482.1 536.9 481.8M537.2 478.7Q536.8 480.5 535.2 481.6M537.2 478.7Q534.1 476.7 531.4 477.2M537.2 478.7Q535.7 476.1 537.8 475.7M537.2 478.7Q540.2 479.2 541.8 477.9M460.8 498.9Q462.9 497.3 464.1 492.6M460.8 498.9Q464.3 497.8 466.4 497.8M460.8 498.9Q464.5 498.9 464.3 501.7M460.8 498.9Q459.9 504.4 460.2 505.7M460.8 498.9Q459.9 500.2 456.1 502.5M460.8 498.9Q459.1 496.5 454.2 496.9M460.8 498.9Q459 497.4 460.9 495.7M555.3 510.8Q556.5 513.9 559.1 516.7M555.3 510.8Q553.8 511.7 555.2 515.2M555.3 510.8Q555.5 510.1 552.5 511.3M555.3 510.8Q554.8 507.8 553.1 508.7M555.3 510.8Q554.5 508.7 555.6 505.7M555.3 510.8Q558.5 510.7 557.8 507.6M555.3 510.8Q555.6 510.5 559.4 512.2M504.6 497.8Q504.6 496.8 506.9 494.2M504.6 497.8Q507.4 497.6 507.1 496.4M504.6 497.8Q506 498.4 508.1 502.1M504.6 497.8Q505.2 503 502.5 503.7M504.6 497.8Q501.8 499.9 499.3 501.1M504.6 497.8Q504.5 498.3 500.9 497.3M504.6 497.8Q503.2 496.3 502.7 493.8M544.5 501.8Q542.8 503.9 542.3 507.5M544.5 501.8Q541.1 499.7 538 498.8M544.5 501.8Q545.1 497.1 547.3 496.9M544.5 501.8Q547.4 500.2 549 502.5M463.1 498.5Q460.2 496.9 459.7 498.5M463.1 498.5Q460.6 496.8 462 496.1M463.1 498.5Q465.4 497.4 464.8 496.2M463.1 498.5Q464.9 498.2 466.7 499.5M463.1 498.5Q465.6 500.8 464.5 505.1M550.3 531.3Q551.3 528.7 550.4 528.7M550.3 531.3Q554.5 531 556.6 528.7M550.3 531.3Q553.6 530.3 553.6 532.6M550.3 531.3Q549.4 533.7 550.6 534.5M550.3 531.3Q549.7 533.4 547.9 532.5M550.3 531.3Q549.1 529.2 547.9 530.3M550.3 531.3Q550.4 528.6 548.7 528.5M487.4 513.7Q486.2 511.7 483.5 511M487.4 513.7Q487.9 513.2 489.5 511.5M487.4 513.7Q487.2 511.9 490.5 514.1M487.4 513.7Q486.2 515.4 486.7 518M487.4 513.7Q485.3 515.7 485.2 515.3M514.7 525.9Q511.2 526.6 511.9 524.7M514.7 525.9Q514.8 521.7 514.4 520.6M514.7 525.9Q515.1 527 518.6 526.6M514.7 525.9Q514.7 527.8 515.4 532.8M469.2 520.9Q470.6 520.3 473.2 520.9M469.2 520.9Q470.9 525.3 473.1 525.7M469.2 520.9Q466.4 523.2 466.6 525.1M469.2 520.9Q465.4 522.2 465.3 520.1M469.2 520.9Q468.9 518.9 468.8 514.7M564.6 523.4Q562.9 523.7 559.3 521.3M564.6 523.4Q560.2 521.5 560.1 520.4M564.6 523.4Q566.5 521.2 568.2 518.2M564.6 523.4Q566.7 519.6 569.7 519.8M564.6 523.4Q569.8 525 570.7 524.5M564.6 523.4Q566.8 527 565.5 528.8M564.6 523.4Q562.8 525.2 561.5 525.8M505.6 523.4Q505.1 520.8 505.7 519M505.6 523.4Q507.1 520.9 509.5 521.8M505.6 523.4Q506.3 525.6 508.7 529.7M505.6 523.4Q506.5 524.3 504.1 526.4M505.6 523.4Q501.8 521.8 500.3 519.1M534.5 498.4Q538 499.1 541.3 498M534.5 498.4Q534.7 501.9 535.9 501.5M534.5 498.4Q535.3 500.5 535 501.7M534.5 498.4Q533.6 499.2 529.8 499.5M534.5 498.4Q531.2 496.4 528.2 495.6M534.5 498.4Q535.2 494.2 536.7 491.8M554.5 499.6Q557.8 499.7 557.8 501.1M554.5 499.6Q555.2 499.4 553.9 502.5M554.5 499.6Q551.6 498.1 550 497.8M554.5 499.6Q554.1 498 554.2 495.3M557.9 475.7Q555.7 478 554 476.9M557.9 475.7Q555.7 475.1 553.8 472.9M557.9 475.7Q558.8 475.6 558.4 472.6M557.9 475.7Q561.3 473.8 564 472.1M557.9 475.7Q559.6 479.1 562.3 478.9M557.9 475.7Q555.9 477.7 556.1 480.4M457.7 508.9Q459.2 508.5 457.9 505.2M457.7 508.9Q459.4 506 460.9 504.1M457.7 508.9Q461.4 510.1 464.6 509.4M457.7 508.9Q458.2 510.6 461.7 512M457.7 508.9Q456.5 510.9 457.1 511.8M457.7 508.9Q455.1 507.8 453.8 510.2M457.7 508.9Q455 507.7 452.3 504.4M536.3 477.6Q537.3 480.4 534.6 484M536.3 477.6Q534.7 477.5 532.1 480.3M536.3 477.6Q534 475 532.1 474.3M536.3 477.6Q535.8 475.2 538 475M536.3 477.6Q536.9 479.3 538.9 477.7M533.1 487Q536.4 487.1 535.6 490.2M533.1 487Q530 488.3 526.6 488M533.1 487Q531 487.6 531.2 484.7M533.1 487Q536.2 483.8 537.2 484M528.2 472.3Q528.5 473.2 528.7 476.6M528.2 472.3Q525.6 473.7 525.1 474.6M528.2 472.3Q525.1 470.9 524.1 468.6M528.2 472.3Q529.4 470.5 531.1 467.8M528.2 472.3Q532.5 471.7 534.6 474.3M548.2 484.7Q548.6 482.5 551.6 481M548.2 484.7Q549.4 485 552.7 486.7M548.2 484.7Q548.1 487.4 548.6 487.5M548.2 484.7Q544.9 485.7 543.6 488.1M548.2 484.7Q544.4 484 542.6 484M548.2 484.7Q549.8 481.8 548 481.7M460 473.7Q457.8 472.2 456.4 467.6M460 473.7Q462.1 470.6 460.5 470.8M460 473.7Q461.6 474.3 462.7 472.9M460 473.7Q461.8 473.4 463.8 475.9M460 473.7Q459.7 476.8 460.8 476.9M460 473.7Q455.2 477.7 454.7 478M460 473.7Q455.6 475.1 453.5 473M476.9 537Q475.8 533.8 472.4 533.4M476.9 537Q480.5 536.4 480.8 533.4M476.9 537Q481.2 538.2 481.4 537M476.9 537Q479.4 542 481.1 542.7M476.9 537Q477 540.2 476.3 540.1M476.9 537Q473.6 537.4 472.8 536.3M465.2 503.2Q468.5 501.6 469 502.1M465.2 503.2Q467.6 508.1 466.2 510.3M465.2 503.2Q464 505.2 462.3 504.5M465.2 503.2Q465.7 502.4 463.1 498.6M520.3 541.6Q517.2 545 515.9 544.7M520.3 541.6Q517.3 540.3 517.9 539.7M520.3 541.6Q520.7 537.9 520.1 536.5M520.3 541.6Q522.5 537.8 522.6 538M520.3 541.6Q523.2 540.9 523.9 540.9M520.3 541.6Q523.6 544.6 524.5 546.1M520.3 541.6Q518.9 541.5 521.2 544.6M470.7 486Q469.6 485.9 468.9 482.6M470.7 486Q471 484.2 470.8 482.3M470.7 486Q471.1 483.9 473.1 484.7M470.7 486Q471.4 487.6 474.3 486.2M470.7 486Q471.6 485.8 471.7 488.4M470.7 486Q468.2 491.1 466.6 491.7M470.7 486Q467.3 487 465.2 486.6M535.5 516.6Q532.4 515.5 530.4 516.8M535.5 516.6Q535.3 511.9 533.9 511.6M535.5 516.6Q537.9 514.4 539.1 511.3M535.5 516.6Q538.5 520 541.8 519.7M535.5 516.6Q532.7 519.1 534 518.9M481.3 482Q478.2 483.1 477.9 484.3M481.3 482Q478.8 480.7 479.6 476.8M481.3 482Q480.7 481.1 483.4 480.4M481.3 482Q482.6 483.9 484.2 483M481.3 482Q480.7 485.2 480 488.6M494.7 539.2Q493.4 542.3 494.5 543.2M494.7 539.2Q492.3 541.4 490.2 540M494.7 539.2Q492.3 537.6 491.8 536.9M494.7 539.2Q495.8 536 494.2 535.3M494.7 539.2Q497.9 538.4 496.9 534.7M494.7 539.2Q500.1 538.7 501.8 539.3M494.7 539.2Q493.5 539.8 496 543.2M510.6 482.1Q508.7 478.8 509.4 479.5M510.6 482.1Q512.3 480.9 516.7 479.9M510.6 482.1Q511.8 485.5 511.8 488.5M510.6 482.1Q508.6 480.8 507.7 483M509 520.3Q513.8 521.6 516 520M509 520.3Q512.1 523.3 511.8 524M509 520.3Q506.5 523 506.5 523.3M509 520.3Q506.1 521.9 506.4 520.8M509 520.3Q506 518.1 505.8 519.5M509 520.3Q510.1 517 509.4 515.5M509 520.3Q508.4 520 511.3 516.2M478.4 498.1Q482.2 497.4 483.1 493.4M478.4 498.1Q481.2 499.5 482.6 497.7M478.4 498.1Q478.5 502.1 482.1 504.1M478.4 498.1Q478.2 501.3 479.9 502.2M478.4 498.1Q477.9 502.5 473.9 503.5M478.4 498.1Q474.8 496.3 474 496.4M478.4 498.1Q478.7 494.9 477.6 495M570.5 477.8Q573.1 481.7 573.2 481.9M570.5 477.8Q566.4 480.1 565.6 482.8M570.5 477.8Q568.5 477.5 566.6 477M570.5 477.8Q569.9 476.7 571.1 473.5M570.5 477.8Q571.2 477.8 573.3 478.6M469.5 477.2Q468.2 476.5 466.5 478.5M469.5 477.2Q468.7 474.9 464.7 473.9M469.5 477.2Q472.1 475.5 471.6 472.5M469.5 477.2Q470.2 477.7 473.3 477.8M469.5 477.2Q470.2 481.6 473.2 482.9M484.9 530.5Q488 531.1 488.8 534.9M484.9 530.5Q483.3 532.8 483.6 536.9M484.9 530.5Q480.3 529.7 479.1 530.6M484.9 530.5Q487.1 525.1 485.7 523.9M484.9 530.5Q488.4 529.9 490.7 527.7M570.2 523.4Q568.8 520.5 566 518M570.2 523.4Q570.1 522.8 570.7 518.7M570.2 523.4Q572.3 520.6 573.2 519.2M570.2 523.4Q575 521.2 577.1 522.7M570.2 523.4Q569.7 526.5 571.9 526.9M570.2 523.4Q568 527.5 568.2 528.7M570.2 523.4Q566.2 524.9 563.4 523.7M560 495.5Q558.1 496 557.3 493.3M560 495.5Q563 490.9 562.1 490.1M560 495.5Q563 497.5 564.7 496.8M560 495.5Q561 497.5 559.6 499.1M560 495.5Q559.4 497.3 556.6 496.3M531.5 541.8Q530.4 540.9 526.5 541.8M531.5 541.8Q531.7 539.3 528.6 540.7M531.5 541.8Q530.8 539.5 530.9 539M531.5 541.8Q531.7 540.9 534.9 540.8M531.5 541.8Q533 541.1 534.8 543.8M531.5 541.8Q531.9 542.2 534 545.5M531.5 541.8Q530.9 542.6 528.6 546.5M500.3 508.5Q500.9 511.7 502.3 512.4M500.3 508.5Q497.5 510 497.3 509.9M500.3 508.5Q497.6 508.9 496.1 508.1M500.3 508.5Q501.4 506.4 500.8 501.8M500.3 508.5Q503.2 508.3 502.2 506.4M500.3 508.5Q503 508.3 502.9 509.8M504.2 519.9Q508.2 518.6 510.2 517.6M504.2 519.9Q504.3 521.3 506.5 524.7M504.2 519.9Q503.1 523.9 501 525M504.2 519.9Q501.4 516.6 501.2 514.2M474.8 534.9Q470.5 535.9 469.1 535.4M474.8 534.9Q472.8 534.4 473.1 531.6M474.8 534.9Q477.7 534.7 480.2 531.4M474.8 534.9Q473.2 537.3 474.3 541.2M546.6 516.4Q543.8 512.8 543.1 512.3M546.6 516.4Q549 515 550.4 511.4M546.6 516.4Q550.6 514.5 551.2 516.1M546.6 516.4Q549.3 519.1 550.4 519.7M546.6 516.4Q547.1 517.5 546.2 521.5M546.6 516.4Q544.1 516.4 540.8 515.7M525.4 493.4Q526.1 496.1 524.9 496M525.4 493.4Q521.9 494.2 520.2 496.8M525.4 493.4Q525 492 523 491.8M525.4 493.4Q527.6 488.3 528.6 487.3M525.4 493.4Q528.9 492.2 528.5 490.3M525.4 493.4Q527.1 496.2 528.7 495.8M570.6 470.6Q572.7 472.3 573.5 471.8M570.6 470.6Q569.6 474.5 570.5 474.3M570.6 470.6Q567.5 471.9 566.5 474.4M570.6 470.6Q566.9 467.2 567.4 467M570.6 470.6Q570.2 469 571.3 465.6M570.6 470.6Q573.7 471.5 574.4 469M454.9 497.9Q454.3 499 451.5 500M454.9 497.9Q454.2 495 452.8 491.2M454.9 497.9Q455.1 498.3 457.1 496.2M454.9 497.9Q453.4 498.5 454.5 501.1M514.8 533.5Q514.2 534.9 511.6 536.2M514.8 533.5Q514.3 531.4 511.8 528.7M514.8 533.5Q514.3 531.5 517.4 527.4M514.8 533.5Q516 535.2 519.8 533.8M514.8 533.5Q516.1 535.1 515.4 539.6M475.3 476.9Q474.1 472.9 473.5 470.1M475.3 476.9Q478.2 476.5 482 477.8M475.3 476.9Q474.1 477.3 474.6 481.2M475.3 476.9Q473.6 478 470.1 475.9M491.7 502Q490.8 499.8 493.4 497.9M491.7 502Q495.8 502.1 496.4 501.2M491.7 502Q493.2 504.9 495.6 507.5M491.7 502Q489.1 503.2 490.2 507.8M491.7 502Q489.1 501.2 487 503.4M491.7 502Q492.1 499.8 489.2 500M562.1 475.1Q557.7 475.8 555.5 473.8M562.1 475.1Q558.2 474.9 558.3 471.2M562.1 475.1Q562.7 474.1 564.8 470.3M562.1 475.1Q565.5 472.5 567.6 472.7M562.1 475.1Q565.4 474.8 564.8 478M562.1 475.1Q560.6 476 560 479.1M463.3 476.8Q467.5 479.3 468.1 480.2M463.3 476.8Q463.9 476.9 463.7 479.5M463.3 476.8Q460.5 475.4 460.6 477.9M463.3 476.8Q461 475.5 459.5 476.6M463.3 476.8Q462 473.4 459.2 472.7M463.3 476.8Q465.9 474 466.1 473.7M463.3 476.8Q468.2 475.8 469.6 475.8M495.9 476.3Q495.8 478.5 498.6 478M495.9 476.3Q495.7 479.4 496.8 483.4M495.9 476.3Q495.1 480.2 490.9 480.3M495.9 476.3Q492 477.9 490.9 476.1M495.9 476.3Q492.6 472.8 491.7 471.9M495.9 476.3Q497 476.3 498.1 473.3M495.9 476.3Q497.7 476 498.9 476.8M458.1 494.5Q459.8 491.1 458.4 490.7M458.1 494.5Q462.8 494.3 463.5 491.8M458.1 494.5Q459.5 495.9 461.7 496.1M458.1 494.5Q458.2 496.6 456.8 498.9M458.1 494.5Q458.2 496.4 455.8 495.8M458.1 494.5Q455.8 494.8 451 494.7M458.1 494.5Q457.3 491.1 457 489.4M534.9 501.1Q535.4 504.2 534 504.3M534.9 501.1Q531.7 503 527.8 501.3M534.9 501.1Q532.9 498.3 531.7 498.9M534.9 501.1Q532.2 497.5 531.6 495M534.9 501.1Q538.1 500.6 538.7 497.4M534.9 501.1Q537 499.9 539.3 499.7M534.9 501.1Q534.8 501.3 538.3 505M494 502.1Q490.9 503.3 490.2 504.4M494 502.1Q493.3 501.2 491.7 497.7M494 502.1Q493.8 499.3 497 499.9M494 502.1Q496.8 504.4 499.1 504.7M494 502.1Q494.6 503.9 494.9 505.8M492.7 517Q492 515.9 492.8 513.7M492.7 517Q492.4 515.7 495.5 512.8M492.7 517Q496.4 520.1 496.6 519.6M492.7 517Q492.4 519.5 493.3 520.7M492.7 517Q488.8 518.9 489.1 521.4M492.7 517Q488.9 519 488.7 517.2M484.5 525.7Q485.1 522.2 484.8 521.1M484.5 525.7Q486.7 525.4 488.6 523.7M484.5 525.7Q483.2 529.9 485.5 530.7M484.5 525.7Q483.9 525.9 480.5 527.3M484.5 525.7Q483.3 525.2 480.3 523.1M566.1 535.6Q565.5 533.3 564.9 531.1M566.1 535.6Q566.9 531.2 571 531.1M566.1 535.6Q567.4 536.9 569 538.7M566.1 535.6Q565.3 540.6 565.6 542.1M566.1 535.6Q563.6 534.9 559.5 536.1M559.3 516Q557.7 512.8 559.3 513.1M559.3 516Q560.3 515.6 564.1 515.3M559.3 516Q561 519.5 560.7 520M559.3 516Q557.8 515.3 553.7 517M487.1 486.6Q486.1 481.9 487.4 481.6M487.1 486.6Q489 487.8 491.2 487.8M487.1 486.6Q489.7 489 489.3 492.8M487.1 486.6Q485.4 486.8 480.8 486.5M485.7 535.1Q481.3 536.8 479.6 534.6M485.7 535.1Q487.5 532.5 487.6 530.5M485.7 535.1Q488.6 532.1 489.1 532.6M485.7 535.1Q487.3 538.1 487.5 537.8M485.7 535.1Q486.1 534.3 483.6 536.6M476 473Q475.3 476.4 474.7 477.6M476 473Q473.4 474.6 471.1 472.9M476 473Q476.7 471.6 475 470.1M476 473Q475.8 473.4 478.8 473.5M531.3 486Q528 484.3 525.9 482.7M531.3 486Q532.6 483.4 532.7 483.6M531.3 486Q535 485.4 535.8 486.2M531.3 486Q528.9 489.3 530.3 491M531.3 486Q528.8 488 527.5 486.4M499 470.9Q497.8 467.9 494.5 465.8M499 470.9Q500.4 470.1 501.9 469.9M499 470.9Q501.8 475.2 500.5 477.2M499 470.9Q497.6 473.5 493.1 472.1M563.5 505.3Q560.8 506.3 558 506.4M563.5 505.3Q564.1 500.3 563.2 499.7M563.5 505.3Q567.3 504.6 567.1 501.5M563.5 505.3Q564.9 504.6 566 506.5M563.5 505.3Q560.1 505.4 560.6 507.9" stroke="#38FF38" stroke-width="0.7" fill="none" stroke-linecap="round" opacity="0.95"/>
<g fill="#50FF50"><circle cx="504.8" cy="521.4" r="1"/><circle cx="489.7" cy="540.7" r="0.6"/><circle cx="463.7" cy="500.9" r="0.7"/><circle cx="561.8" cy="501.2" r="0.9"/><circle cx="535.8" cy="479" r="0.7"/><circle cx="569.7" cy="488.6" r="0.6"/><circle cx="566.6" cy="508.5" r="0.7"/><circle cx="546.5" cy="503.9" r="0.9"/><circle cx="491.8" cy="502.6" r="0.8"/><circle cx="570.1" cy="515.8" r="0.7"/><circle cx="527.9" cy="524.5" r="0.6"/><circle cx="502.7" cy="530.9" r="0.6"/><circle cx="532.7" cy="525.7" r="0.8"/><circle cx="481.1" cy="493" r="0.9"/><circle cx="516.8" cy="475" r="1"/><circle cx="542" cy="478.9" r="0.9"/><circle cx="494.3" cy="491.2" r="0.7"/><circle cx="531.1" cy="471.3" r="0.7"/><circle cx="532.7" cy="476.3" r="0.7"/><circle cx="564.8" cy="502.5" r="0.6"/><circle cx="509.7" cy="524" r="0.6"/><circle cx="485.2" cy="512.7" r="0.7"/><circle cx="559.7" cy="470.6" r="0.9"/><circle cx="514.1" cy="486.7" r="0.8"/><circle cx="568.7" cy="477.3" r="0.8"/><circle cx="482.6" cy="509.3" r="0.6"/><circle cx="461.6" cy="504.5" r="0.9"/><circle cx="537.2" cy="478.7" r="0.9"/><circle cx="460.8" cy="498.9" r="0.8"/><circle cx="555.3" cy="510.8" r="0.9"/><circle cx="504.6" cy="497.8" r="0.7"/><circle cx="544.5" cy="501.8" r="0.7"/><circle cx="463.1" cy="498.5" r="0.6"/><circle cx="550.3" cy="531.3" r="0.5"/><circle cx="487.4" cy="513.7" r="0.8"/><circle cx="514.7" cy="525.9" r="0.7"/><circle cx="469.2" cy="520.9" r="0.6"/><circle cx="564.6" cy="523.4" r="0.9"/><circle cx="505.6" cy="523.4" r="0.8"/><circle cx="534.5" cy="498.4" r="0.9"/><circle cx="554.5" cy="499.6" r="0.7"/><circle cx="557.9" cy="475.7" r="0.6"/><circle cx="457.7" cy="508.9" r="1"/><circle cx="536.3" cy="477.6" r="0.9"/><circle cx="533.1" cy="487" r="0.6"/><circle cx="528.2" cy="472.3" r="0.6"/><circle cx="548.2" cy="484.7" r="0.6"/><circle cx="460" cy="473.7" r="0.7"/><circle cx="476.9" cy="537" r="1"/><circle cx="465.2" cy="503.2" r="0.7"/><circle cx="520.3" cy="541.6" r="0.8"/><circle cx="470.7" cy="486" r="0.6"/><circle cx="535.5" cy="516.6" r="0.8"/><circle cx="481.3" cy="482" r="0.6"/><circle cx="494.7" cy="539.2" r="0.7"/><circle cx="510.6" cy="482.1" r="0.7"/><circle cx="509" cy="520.3" r="0.6"/><circle cx="478.4" cy="498.1" r="1"/><circle cx="570.5" cy="477.8" r="0.7"/><circle cx="469.5" cy="477.2" r="0.7"/><circle cx="484.9" cy="530.5" r="0.7"/><circle cx="570.2" cy="523.4" r="0.8"/><circle cx="560" cy="495.5" r="0.6"/><circle cx="531.5" cy="541.8" r="0.7"/><circle cx="500.3" cy="508.5" r="0.9"/><circle cx="504.2" cy="519.9" r="0.6"/><circle cx="474.8" cy="534.9" r="0.8"/><circle cx="546.6" cy="516.4" r="0.9"/><circle cx="525.4" cy="493.4" r="0.6"/><circle cx="570.6" cy="470.6" r="0.5"/><circle cx="454.9" cy="497.9" r="0.6"/><circle cx="514.8" cy="533.5" r="0.6"/><circle cx="475.3" cy="476.9" r="0.6"/><circle cx="491.7" cy="502" r="0.6"/><circle cx="562.1" cy="475.1" r="0.7"/><circle cx="463.3" cy="476.8" r="0.9"/><circle cx="495.9" cy="476.3" r="0.6"/><circle cx="458.1" cy="494.5" r="0.8"/><circle cx="534.9" cy="501.1" r="0.7"/><circle cx="494" cy="502.1" r="0.7"/><circle cx="492.7" cy="517" r="0.7"/><circle cx="484.5" cy="525.7" r="0.7"/><circle cx="566.1" cy="535.6" r="0.8"/><circle cx="559.3" cy="516" r="1"/><circle cx="487.1" cy="486.6" r="0.7"/><circle cx="485.7" cy="535.1" r="0.5"/><circle cx="476" cy="473" r="0.9"/><circle cx="531.3" cy="486" r="0.8"/><circle cx="499" cy="470.9" r="0.8"/><circle cx="563.5" cy="505.3" r="0.7"/></g>
<path d="M453 491C470 486 485 480 505 480C530 482 550 488 572 492V497C540 493 500 490 453 496Z" fill="#000" opacity="0.7" filter="url(#soft)"/>
<path d="M453 520C480 523 510 520 540 523C555 525 565 526 572 527V531C555 530 530 531 510 527C480 524 465 528 453 527Z" fill="#000" opacity="0.7" filter="url(#soft)"/>
<g filter="url(#bsp)"><path d="M453 460H572V492C550 488 530 482 500 480C480 480 465 486 453 491Z" fill="#00f"/><path d="M453 527C480 528 500 524 520 528C540 531 560 530 572 531V552H453Z" fill="#00f"/></g>
<clipPath id="bcO0"><path d="M453 460H572V492C550 488 530 482 500 480C480 480 465 486 453 491Z"/><path d="M453 527C480 528 500 524 520 528C540 531 560 530 572 531V552H453Z"/></clipPath>
<path clip-path="url(#bcO0)" d="M506.9 510.9Q504.1 511.6 501 512.2M475.6 506.6Q475.7 504.9 476.6 503.1M464.6 533.6Q469.8 534.7 473.2 535.9M530.5 516Q528.1 513.3 527.5 510.6M476.3 482.1Q476.8 479.3 476 476.5M514.7 518.2Q514.8 515.4 515.7 512.5M570.7 550.4Q569.5 548 569.4 545.7M487.8 466.6Q484.3 468.9 481.3 471.3M566.1 537Q564.8 532.9 563.6 528.9M568.7 496.2Q568.8 492.4 569.7 488.6M464.2 490.3Q463.8 488.5 464.4 486.6M465.8 465.6Q467.1 468.5 468.6 471.3M476.3 526.5Q476.4 524.7 476.9 522.9M478.9 484.6Q480.5 482.4 480.5 480.1M478.7 495.9Q478.5 494.5 476.4 493.1M478.9 483.6Q477 485.7 476.7 487.8M464.5 513Q464.7 510.4 465.1 507.8M566.2 504Q566.3 502.1 567.8 500.2M560.3 534.3Q560 530.8 557.9 527.2M477 546.3Q474 544.6 472.6 542.9M458.5 547.4Q459.7 545.2 459.5 543M523.8 486.8Q523.6 485.1 524.6 483.5M519.4 537.4Q518.1 541.6 517.8 545.8M455.9 484.6Q454.8 482.8 454.1 481M520.9 472.1Q523 468 524.5 464M534.9 513.2Q535 511.8 533.4 510.4M536 547.4Q536.9 544.5 536.9 541.6M491.3 550.7Q492.3 547 491.7 543.3M540.2 524Q542.8 522.7 544.6 521.4M559.4 539.1Q560.8 535.2 561.8 531.3M527.1 494.8Q527.6 493.1 527.5 491.4M570.2 539.9Q567.5 542.3 564.6 544.7M505.5 536.2Q506.2 534.6 506.4 533.1M510.3 481.1Q507.8 481.1 503.6 481.2M483.9 461.2Q483.7 459.2 484.7 457.1M560 520Q561.3 517.7 561.9 515.4M477.2 499.2Q480.5 497.1 484.3 495M522.2 488.9Q522.9 484.9 522.2 480.9M537.2 546.3Q535.8 543.6 535.3 540.9M479 497.7Q477.3 497.8 474.2 497.9M568.9 501.2Q566 497.6 565 493.9M536.9 511.9Q536.6 510.4 537.8 508.9M507.2 462.4Q506.5 464.4 507.5 466.3M527.6 500.7Q526.3 497.4 523.2 494.2M534.1 478.3Q533.5 476.8 533.1 475.4M537.6 476.4Q537 472.9 536.4 469.3M525.9 528.7Q526.3 524.7 528.4 520.7M563.1 525.6Q563.8 522.3 562.8 518.9M498.1 511.7Q499.3 507.6 500.6 503.4M530.2 478.8Q532.1 475.6 533.1 472.5M479 541.7Q482.6 541.3 485.1 540.9M491.5 542.6Q490.4 544.1 489.5 545.5M518.4 529.8Q515.7 526.3 514.7 522.9M547.6 475.9Q547.5 474 548.7 472.2M514.4 525.8Q512.8 521.7 511.2 517.7M565.1 468Q565.6 465.6 565.2 463.3M528.7 507.6Q526.2 506.7 524.2 505.8M552.9 541.8Q554.5 537.7 556.1 533.6M521 478.4Q520.1 475.1 521.1 471.8M567.4 507Q568.4 503.9 569.4 500.9M534.8 466.2Q535.3 461.8 534.1 457.5M485.5 503.1Q486 499.1 485 495.2M509.8 488.9Q509.5 484.7 510.8 480.5M545.2 462.3Q543.8 458.8 543.2 455.4M495.6 516.4Q496 514.5 496.5 512.7M483.3 478.1Q483 475.5 483 472.9M515.9 474.7Q516.5 471.3 516.9 467.9M553.6 515.6Q554.6 519.3 554.4 523M559.6 488.8Q561.5 486.9 561.5 484.9M557.8 472.3Q557.6 470.1 558.9 467.9" stroke="#4FD8FF" stroke-width="0.8" fill="none" opacity="0.3"/>
</g>
<rect x="573.7" y="460.2" width="115.3" height="90.6" fill="#000"/>
<g clip-path="url(#c18)">
<rect x="573.7" y="460.2" width="115.3" height="90.6" fill="#021405" opacity="1"/>
<rect x="573.7" y="460.2" width="115.3" height="90.6" fill="#fff" filter="url(#fib)" opacity="0.4"/>
<rect x="573.7" y="460.2" width="115.3" height="90.6" fill="#fff" filter="url(#gsp)" opacity="0.85"/>
<rect x="573.7" y="460.2" width="115.3" height="90.6" fill="#fff" filter="url(#nuc)" opacity="0.9"/>
<path d="M574.7 488.9Q576.4 485.5 580.2 484.5M574.7 488.9Q576.4 490.7 580 490.4M574.7 488.9Q576 491.1 576 494.4M574.7 488.9Q572.1 489.4 569.5 491.3M574.7 488.9Q573.2 485.1 573.3 484.9M654 516.9Q657.2 520.9 657.5 520.6M654 516.9Q651.9 517 653.4 519.7M654 516.9Q652.1 516.3 648.3 516.6M654 516.9Q652.7 513.7 648.1 513.9M654 516.9Q652.7 515.9 653.1 513.9M654 516.9Q654.4 516.1 657.2 515.3M654 516.9Q655.2 517.7 659.5 521.3M636.3 500.1Q636.5 504 635.6 505.1M636.3 500.1Q633.5 503.6 633.4 503M636.3 500.1Q635.2 498.1 632.4 495.5M636.3 500.1Q635.7 498 637 497.5M636.3 500.1Q635.3 497.6 638 498M636.3 500.1Q637.7 502.3 639 502.1M688.1 533.2Q690.1 535.5 690.4 539.6M688.1 533.2Q685.7 533.2 684.9 534.1M688.1 533.2Q685.1 531.9 685.2 532.4M688.1 533.2Q687.6 528.9 686.2 528.5M688.1 533.2Q691.6 533.1 691.6 532.5M688.1 533.2Q691.3 535.6 692.2 534.6M646.5 533.4Q644.5 531.5 642.1 528.4M646.5 533.4Q649 531 651.2 528.6M646.5 533.4Q648.8 536.3 652.6 535.2M646.5 533.4Q646.1 537.2 648.3 537.9M646.5 533.4Q644.8 537.4 643.5 537.9M646.5 533.4Q642.6 531.7 640.6 533.7M575.8 521.9Q574.4 524.6 573.8 525.4M575.8 521.9Q574 521.6 572.4 521.4M575.8 521.9Q575.1 519.4 577 517.1M575.8 521.9Q575.5 519 578.9 519M575.8 521.9Q575.4 522.4 577.5 524.2M632.2 501.1Q630.7 500 632.6 498.5M632.2 501.1Q635.1 499.1 634.8 496.4M632.2 501.1Q637.2 500.3 638.3 500.1M632.2 501.1Q633.4 503 635.9 504.8M632.2 501.1Q632.7 502.3 631.5 504.1M632.2 501.1Q629.4 503 627.7 502.3M632.2 501.1Q628 501 627.6 499.7M648 495.7Q652.5 494.9 653.6 493.4M648 495.7Q650.1 498.3 652.6 499.4M648 495.7Q647.5 500.8 646.8 502.7M648 495.7Q645.2 498.8 643.8 499.2M648 495.7Q644.6 495 644 494.3M648 495.7Q646.1 492.4 646 491.4M648 495.7Q650.2 494.7 649.6 492.5M649.8 495.8Q653.9 496.7 654.8 499.7M649.8 495.8Q647.5 495.8 646.5 496.9M649.8 495.8Q648.1 495.5 648.9 493.1M649.8 495.8Q650.5 496 653.3 493.3M679.1 524.5Q680.6 523.9 681.4 522.5M679.1 524.5Q679.1 523.6 682.5 525.4M679.1 524.5Q677.8 527.2 679.3 528.3M679.1 524.5Q675.6 524.7 673.3 526.6M679.1 524.5Q677.2 521.8 676.1 522.7M679.1 524.5Q680.5 519.7 679.3 518.4M681 496.8Q678.2 499.1 677.2 498.5M681 496.8Q680.1 494.7 678.9 493.6M681 496.8Q682.2 496.2 682.7 494.1M681 496.8Q681.9 498 685.8 500.3M681 496.8Q680.4 502.1 679.1 503.3M616 484.9Q614.3 487.7 614.1 487M616 484.9Q613.4 486.8 611.9 486.3M616 484.9Q611.7 481.6 610 481.3M616 484.9Q614.6 482.4 614.1 478.1M616 484.9Q619.5 484.1 619.4 484.2M616 484.9Q619.8 486.5 620.5 488.9M616 484.9Q615.6 487.3 617.9 491.7M680.9 537.5Q683.1 534.1 682.3 532.7M680.9 537.5Q685.4 537.9 687.6 536.8M680.9 537.5Q680.4 540.3 681.8 543.5M680.9 537.5Q676.4 536.1 674.8 537.9M680.9 537.5Q680.3 536.2 677.9 532.4M606 468.8Q607.4 470.2 611 472M606 468.8Q607 472.6 604.8 474.7M606 468.8Q601.9 470.7 602.3 471.5M606 468.8Q605.6 466.3 601.8 466.5M606 468.8Q604.1 466.3 604.5 462.2M606 468.8Q607.5 470.5 611.1 468.3M574.4 512.9Q577.2 515.8 577.6 519.2M574.4 512.9Q570.3 512.9 568.3 515M574.4 512.9Q573.8 509.2 571.3 509.1M574.4 512.9Q576.2 508.1 575.6 506.6M574.4 512.9Q577 511.4 577.1 512.6M659 513.9Q657.9 510.2 660.6 508.9M659 513.9Q662.5 512.1 662.5 513M659 513.9Q660.2 517.7 664.1 518.1M659 513.9Q660.7 515.2 659.3 517.9M659 513.9Q658.3 515.7 654.8 515.8M659 513.9Q657.7 512.6 655.2 509.5M657.6 508.4Q656.8 506.1 657.2 504.5M657.6 508.4Q658.6 507.4 660 509.8M657.6 508.4Q656.8 510.2 657.1 511.7M657.6 508.4Q651.8 508.5 650.5 507.7M601.6 520.2Q603.7 520.4 603.7 524M601.6 520.2Q598.7 523.6 599.9 525.2M601.6 520.2Q598.5 520.6 597 517.6M601.6 520.2Q599.5 516.9 598.3 515.8M601.6 520.2Q605.8 518.7 606 516M601.6 520.2Q604.2 519.4 607.8 521.2M670.1 481.5Q672.2 485.4 674.4 487M670.1 481.5Q668.5 483.5 667.8 486.8M670.1 481.5Q666.6 482.3 664.5 485.5M670.1 481.5Q666.3 478.4 666.4 478.2M670.1 481.5Q668.1 481.3 670.2 478M670.1 481.5Q672.5 479.8 674.6 478.5M617.8 537.9Q616.2 540.6 617.3 544.2M617.8 537.9Q615.4 539.5 615.5 539.7M617.8 537.9Q616.5 538.1 613.6 536.9M617.8 537.9Q618.7 534.6 618.5 531.1M617.8 537.9Q620.9 537.3 622.8 535.6M617.8 537.9Q622.2 540.4 622.4 539.5M608 486.8Q608.8 486.2 613.1 486.7M608 486.8Q611.2 487.4 612.7 489.9M608 486.8Q606.8 488.8 607.1 491.1M608 486.8Q605.3 485.9 605.7 488.5M608 486.8Q604.5 485.7 604 486.1M608 486.8Q606.4 483.1 603.6 483M608 486.8Q607.4 483.7 607.9 481.2M598.8 466.9Q600.8 466.1 602.2 467.4M598.8 466.9Q597.9 471 598.4 472.1M598.8 466.9Q598.5 468.8 596.3 468.4M598.8 466.9Q597.5 466.9 595.1 467.2M598.8 466.9Q600 462.3 599.1 460.1M598.8 466.9Q599.7 465.1 601.3 461.2M637.9 502.2Q636.5 501.1 633.6 499.7M637.9 502.2Q638.1 500.3 637.8 497.3M637.9 502.2Q637.8 502.7 640.3 500.2M637.9 502.2Q643.3 503.5 644.5 501.5M637.9 502.2Q637.7 504.4 640.4 505.7M637.9 502.2Q639.1 503.5 637.7 507.4M637.9 502.2Q635.5 504.2 634.8 505.6M608.1 466.6Q604.2 466 604.2 464.7M608.1 466.6Q606.4 464.9 607.3 463.3M608.1 466.6Q607.9 464.2 610.8 463.4M608.1 466.6Q610.9 466.5 611.5 468.7M608.1 466.6Q606.3 469.9 604.5 469.8M612.3 535.2Q612.4 538.1 613.3 539M612.3 535.2Q607.6 538 606.6 538.6M612.3 535.2Q609.2 534.7 607.4 536.8M612.3 535.2Q611.5 531.9 609.9 529.4M612.3 535.2Q612.5 533.4 612.3 529.2M612.3 535.2Q615.2 530.7 617.1 530.6M612.3 535.2Q615.9 538.1 618 539.1M647.5 513.9Q647.4 512.1 648.5 508.8M647.5 513.9Q648.9 515.9 651.5 514.9M647.5 513.9Q649.2 516.4 649.6 520.2M647.5 513.9Q643.7 514.5 644.1 517.3M647.5 513.9Q643.3 513.9 642.4 512.8M647.5 513.9Q648 511.2 647 511.3M652.6 468.7Q652.7 463.8 652.3 462.9M652.6 468.7Q655.1 468.6 657.9 465M652.6 468.7Q657.5 470.2 657.8 468.7M652.6 468.7Q653.5 468.5 654 471.4M652.6 468.7Q650.1 468.8 651.5 471.1M652.6 468.7Q649.3 468.9 647.3 465.8M615.4 511.5Q613 514 612.9 515.4M615.4 511.5Q611.6 512.1 609.1 512.6M615.4 511.5Q614.1 511.3 613.2 509M615.4 511.5Q617.1 508.9 616.6 505.6M615.4 511.5Q618.1 510.8 620.9 508.6M615.4 511.5Q617.3 512.7 618 516.6M611.1 529.2Q610.5 528.3 608.2 527.7M611.1 529.2Q611.4 527.6 610.9 523.9M611.1 529.2Q613.3 530.5 616.3 528.1M611.1 529.2Q612.8 530.5 612.4 531.7M611.1 529.2Q609.7 533.5 609.7 533.8M637.1 522.8Q641.2 526.7 642.2 526.9M637.1 522.8Q637.2 526.3 635.6 528.2M637.1 522.8Q633 521.9 632.8 520.6M637.1 522.8Q637.5 521.3 636.8 518.6M637.1 522.8Q640.5 522.3 643.3 521.7M584.2 491.7Q585.5 495.4 584.6 496.3M584.2 491.7Q580.5 494.6 580.9 494.8M584.2 491.7Q582.4 490.2 581.3 489.4M584.2 491.7Q583 489.8 585.4 486.1M584.2 491.7Q587.6 490.3 588.3 490.5M584.2 491.7Q586.6 492.7 588.7 494.8M679 491.1Q678.4 487.1 680 486.4M679 491.1Q682.3 491.4 683.9 488.5M679 491.1Q681.6 494.3 682.6 495.9M679 491.1Q676.1 493.4 675.8 496.2M679 491.1Q678.3 491.8 675.2 491.7M576.7 532.9Q579.9 529.6 582.2 530.5M576.7 532.9Q577.6 534.8 579.3 536.2M576.7 532.9Q573.9 534.1 573.6 537.6M576.7 532.9Q574.9 532.7 570.2 534.1M576.7 532.9Q574.1 529.1 575 526.9M664 470.5Q665.5 469.8 663.5 467.5M664 470.5Q666.1 467.6 668.1 466.8M664 470.5Q665.2 470.5 669.2 470M664 470.5Q664.3 473 664.3 473.8M664 470.5Q661.2 473.9 657.9 473.6M664 470.5Q662.5 467.5 658 467.9M607.5 518.8Q609.6 521.2 611.8 520.7M607.5 518.8Q608.3 522.2 607.8 521.8M607.5 518.8Q605 519.5 605.2 521.5M607.5 518.8Q603.9 519.2 604.4 519M607.5 518.8Q606 513.7 604 512.8M607.5 518.8Q608.6 515 612.4 514.5M633.8 518.2Q631.2 515.1 628.8 514.2M633.8 518.2Q635.1 515 635.4 512.3M633.8 518.2Q636.5 515.8 637.3 515.1M633.8 518.2Q634 520.9 635.9 520.7M633.8 518.2Q632.5 520.9 632.8 524.9M633.8 518.2Q631.5 518 628.1 520M687.6 523Q689.6 523.7 687.7 527.8M687.6 523Q685.7 525.6 685.5 527.4M687.6 523Q685.1 520.5 683.1 520.4M687.6 523Q685.8 521.5 687.3 519.7M687.6 523Q688.3 519.9 691.1 520M687.6 523Q690.6 523.5 691.1 525.5M607.8 504.5Q605.2 503.8 604.6 506.6M607.8 504.5Q605.7 502.8 604.8 501.2M607.8 504.5Q607.1 502.3 609.2 502.2M607.8 504.5Q609.9 504.8 609.9 506.2M607.8 504.5Q608.4 508.5 605.7 510.1M650.2 474.2Q647.8 475.4 647.7 476M650.2 474.2Q649 475.4 645.5 473.4M650.2 474.2Q649.4 472.1 648.9 468.6M650.2 474.2Q652.2 471.7 652.9 472.9M650.2 474.2Q652.7 476 652.9 473.9M650.2 474.2Q652.7 473.8 652.6 476.3M650.2 474.2Q650.4 477.8 650.3 480.4M640.3 531Q640 528.4 638.6 525.8M640.3 531Q644.5 530.1 644.4 530.8M640.3 531Q640 534.6 641.9 537.8M640.3 531Q637.5 534.3 634.9 533.5M615.5 531.3Q611.4 530.1 610.7 531.6M615.5 531.3Q616.6 527.2 614.3 527.4M615.5 531.3Q615.2 533 618.5 531.9M615.5 531.3Q614.7 533.6 614.8 537.4M582.1 537.8Q578.8 538.4 579.1 540.2M582.1 537.8Q580.8 538 577.9 534.9M582.1 537.8Q584 534.5 584.6 534.8M582.1 537.8Q583.7 540.9 586.2 540M582.1 537.8Q581.8 541.1 582.4 541.1M687.8 495.2Q687.8 495 685 494.4M687.8 495.2Q687.3 494.8 684 491.2M687.8 495.2Q687.7 494.1 689 491.7M687.8 495.2Q691.8 493.3 692.4 495.3M687.8 495.2Q686.9 495.4 689 498.1M687.8 495.2Q683.9 497.4 682.3 499.5M681.4 493.3Q683.7 489.8 683.3 489M681.4 493.3Q683.3 494.8 686 495.3M681.4 493.3Q683.2 493.4 682.8 496.9M681.4 493.3Q679.4 492.2 678.8 494M681.4 493.3Q678.2 493.2 678.9 491.2M664.9 533Q663.5 533.5 660.1 534.7M664.9 533Q664.9 529.9 662 529.1M664.9 533Q666.2 529.7 665.6 529.5M664.9 533Q666.2 532.9 669.9 529.4M664.9 533Q666.1 535.8 669.8 537M664.9 533Q666 534.7 666.3 537.2M664.9 533Q664.3 533.6 663.8 537.6M593 482.9Q591.1 485 590.1 485.7M593 482.9Q589.1 483.6 589.1 481.8M593 482.9Q594.3 480.2 591.8 480.4M593 482.9Q594.3 479.5 594.4 475.9M593 482.9Q595.5 481.8 596.7 483.8M593 482.9Q594.4 483 595.9 484.9M593 482.9Q591.3 484.7 592.6 487.4M594.5 482.1Q595.8 484.9 598.2 486.1M594.5 482.1Q594.1 482.7 595.2 485.3M594.5 482.1Q590.8 483.2 591.3 482.1M594.5 482.1Q592.7 478.9 591.1 478.2M594.5 482.1Q598.8 479.9 599.2 477.4M604.6 477.1Q605.7 480.2 606.9 482M604.6 477.1Q603 479.9 602.5 478.8M604.6 477.1Q604.1 473.4 600.3 471.5M604.6 477.1Q607.9 475.6 608.4 472.6M584.3 483Q585.7 480.5 586.4 478.7M584.3 483Q587.9 485.8 590 487.1M584.3 483Q584.2 485 582.6 487.9M584.3 483Q583.7 485.1 580.4 483.8M584.3 483Q584.5 480.1 582.5 477.8M611.5 541.7Q611.1 541.1 607.9 539.8M611.5 541.7Q610.4 540.5 610.5 539.1M611.5 541.7Q614.6 540.2 613.7 539.1M611.5 541.7Q613.1 541.9 617.5 543.5M611.5 541.7Q615.1 543 614.7 545.3M611.5 541.7Q611.3 542.5 610.2 545.2M611.5 541.7Q608.8 543 604.8 543M590 513.1Q592.6 513.9 593.2 513.2M590 513.1Q591.9 517.2 594.1 518M590 513.1Q589.2 515.6 589.7 518.5M590 513.1Q585.4 514.8 584.1 514.2M590 513.1Q590.4 513.3 588 511M590 513.1Q590.4 509.9 590.2 506.4M603.8 516.1Q602.3 515 601 516M603.8 516.1Q603.7 513.3 604.9 510.4M603.8 516.1Q606.2 515.7 607.6 514M603.8 516.1Q606 519.1 605.4 522.5M573.8 467.3Q574.2 471.9 572.9 473.2M573.8 467.3Q569 469.9 568.7 468.7M573.8 467.3Q572.1 464 573 464.6M573.8 467.3Q577.5 465.1 580.2 466.8M680.2 520.6Q681.8 521 683.2 523.1M680.2 520.6Q679.8 525.6 678.1 527.2M680.2 520.6Q679.2 521.5 675.3 521M680.2 520.6Q676.6 518.1 676.1 514.8M680.2 520.6Q682.5 517.5 681.2 516.5M680.2 520.6Q682 521.1 682.5 519.2M680.2 520.6Q680.1 522.1 683.7 522.2M663.8 513.1Q663.8 509.3 662.8 508.3M663.8 513.1Q668.3 509.9 669.3 510.9M663.8 513.1Q662.1 516.7 663.3 518.2M663.8 513.1Q661.4 513.3 660.9 514.5M625.3 509.8Q623.3 507.5 623.7 503.4M625.3 509.8Q626.8 508.8 629.5 507.8M625.3 509.8Q627.7 511.4 627.3 513.3M625.3 509.8Q622.2 508.4 622.6 509.9M591.8 506.5Q587.9 503.4 587.1 503.6M591.8 506.5Q590.5 504.8 590.4 503.3M591.8 506.5Q594.3 505.2 595.9 504.6M591.8 506.5Q595.7 506.5 595.5 507.5M591.8 506.5Q593.7 508.7 592 509.5M591.8 506.5Q587.4 506.9 587.4 509.3M585.3 468.9Q587.4 469.1 589.8 466.7M585.3 468.9Q586.7 472.7 589.6 473.5M585.3 468.9Q585.3 474.6 583.9 475.8M585.3 468.9Q582.7 471.3 580.2 470.6M585.3 468.9Q584.6 468.4 583.6 466M585.3 468.9Q587.9 467.8 586.8 464.1M644.3 467.3Q641.5 465.9 640.7 465.1M644.3 467.3Q644.9 466.1 646.5 463.8M644.3 467.3Q646.3 468.4 648.6 472.8M644.3 467.3Q643 470.6 639.8 472.7M627.6 466Q629.2 465.3 627.3 461.2M627.6 466Q630.3 462.6 629.6 460.3M627.6 466Q630.5 466.3 633.2 465.4M627.6 466Q629.6 468.4 628 471.6M627.6 466Q625.3 468.8 626.5 468.4M627.6 466Q624.3 465.9 622.3 464M672.8 472.8Q673.8 473.5 674 475.3M672.8 472.8Q672 474.7 668.2 476.6M672.8 472.8Q671.5 471.3 670.2 472.5M672.8 472.8Q670 467.8 670.8 466.3M672.8 472.8Q672.2 468.7 675.2 467.5M672.8 472.8Q673.6 471.7 675.8 473.5M604.3 488.9Q601.4 488.9 601.6 487.3M604.3 488.9Q604.7 486.4 606.5 484.5M604.3 488.9Q606.6 485.6 610.4 485.4M604.3 488.9Q606.9 490.5 607.4 493.3M604.3 488.9Q605 491.1 605 493.9M604.3 488.9Q601.9 490.1 600 489.2M592.7 474.5Q590.1 474.4 590 471.9M592.7 474.5Q593.1 473.4 592.2 470.9M592.7 474.5Q593.4 473.8 595.5 472.8M592.7 474.5Q595.5 476 599 473.6M592.7 474.5Q594.9 477.1 595.8 477.6M592.7 474.5Q590.1 474.8 589.9 477.8M592.7 474.5Q590.9 475.5 588.4 475.3M625.3 491.3Q628.7 488.4 628.7 488.3M625.3 491.3Q629.9 494.3 631.5 493M625.3 491.3Q628.8 492.2 630.5 495.5M625.3 491.3Q626.3 494.5 624.1 496M625.3 491.3Q625.9 491.5 623 492.7M625.3 491.3Q625.3 489.2 622.3 490.8M625.3 491.3Q627.4 487.9 626.3 488.2M609.4 469Q607.8 467.6 606.9 466.5M609.4 469Q609.3 465.8 611 465.5M609.4 469Q612.2 469.7 613.2 470.3M609.4 469Q607.1 469.5 607.9 472.2M609.4 469Q605.5 470.9 604.1 472.6M607.4 511.7Q607.8 515.2 610.6 517.9M607.4 511.7Q607.4 511.8 603.7 515.3M607.4 511.7Q604.9 511.6 605.1 509.7M607.4 511.7Q609.9 509.5 611.3 507.1M658.4 518.7Q662.2 515.9 662.8 515.9M658.4 518.7Q659.3 519.3 663.5 523.3M658.4 518.7Q657.3 524.1 658.6 525.1M658.4 518.7Q654.6 517.8 652.1 519.7M658.4 518.7Q655.9 518.7 656.6 516M658.4 518.7Q659.3 516.7 658.2 512.2M635.7 488.5Q635.2 488.5 638.3 487.9M635.7 488.5Q638.9 491 640.6 492.2M635.7 488.5Q635.4 490.8 633.3 492M635.7 488.5Q630.9 488.4 630.3 488.5M635.7 488.5Q633 486.7 634.1 484.3M681.4 495.7Q680.2 495.2 678.1 495.1M681.4 495.7Q680.3 493.6 681.3 488.9M681.4 495.7Q682.8 495.4 687 496.4M681.4 495.7Q683.2 499.1 684.6 500.5M681.4 495.7Q678 495.3 678.1 497.6M631.5 466.5Q630 464.3 629.4 464M631.5 466.5Q630.6 464.4 631.8 462.6M631.5 466.5Q633.5 466.7 634.9 466.2M631.5 466.5Q632.4 467.5 633.6 470.5M631.5 466.5Q631.4 469.5 630.4 473.2M631.5 466.5Q628.6 464.3 624.9 465.9M658 532.9Q657.7 527.6 657.8 525.8M658 532.9Q661 533.3 663.9 532.7M658 532.9Q656.5 536.5 656.6 539.5M658 532.9Q654 534.4 651.9 533.3M676.8 541.9Q672.9 542.1 672 544.8M676.8 541.9Q677 542 673.8 539.4M676.8 541.9Q678.1 539.6 677.6 539.3M676.8 541.9Q678.2 543.3 681.2 541.2M676.8 541.9Q679.5 543.2 679.9 544.2M676.8 541.9Q675.9 542.7 675.6 546.4M576 518.8Q578.9 517.5 582.7 517.6M576 518.8Q579.5 522.1 579.9 524M576 518.8Q575.3 519.1 577.3 522.4M576 518.8Q571.7 519.7 571.5 523.6M576 518.8Q574.4 517.8 570 517.5M576 518.8Q574.6 517.8 573.8 514.8M576 518.8Q574.8 516.9 576.6 513.2M640.9 524.4Q644.2 522 643.6 520.2M640.9 524.4Q640.6 522.6 643.4 522.5M640.9 524.4Q642.8 527.7 644.4 527.9M640.9 524.4Q643.7 528.5 643.8 529.9M640.9 524.4Q638.6 525.9 639.3 529.6M640.9 524.4Q640 526.4 638.3 525.3M640.9 524.4Q636.6 521.6 636.6 520M637.4 480.6Q633.9 482.1 634.3 481.7M637.4 480.6Q635.1 479 632.5 479.7M637.4 480.6Q635.5 477 637.4 474.6M637.4 480.6Q637.7 479.2 640.4 478.8M637.4 480.6Q639.1 483.6 641.7 482.5M637.4 480.6Q638.7 482.9 639.4 485.6M637.4 480.6Q636.3 483.1 637.1 484.7M630.5 507.9Q625.5 510.1 623.7 509.7M630.5 507.9Q629.4 506.6 628.3 504.9M630.5 507.9Q629.4 503.3 630.7 502.4M630.5 507.9Q634.6 507.8 634.7 508.2M630.5 507.9Q632.2 511.8 635.6 512.8M630.5 507.9Q630.1 509.1 629 513.6M682.1 501.7Q685 500.9 687.8 500.5M682.1 501.7Q680.8 502.7 682.1 505.7M682.1 501.7Q679.2 500.5 676 499.2M682.1 501.7Q683.8 498 682 495.9M657.2 470.1Q657.9 472.8 661.6 473.2M657.2 470.1Q657.3 474.1 656.3 474.4M657.2 470.1Q653.9 472.6 652 474.5M657.2 470.1Q652.8 471.4 651.1 469.3M657.2 470.1Q654.6 469.2 655.9 466.3M657.2 470.1Q657.8 470 658.8 467.3M657.2 470.1Q661.2 469.5 661.1 469.1M597.6 504.5Q599.5 504 600.4 501.7M597.6 504.5Q599.8 505.8 602.8 504.5M597.6 504.5Q596.9 506.8 598.9 508.9M597.6 504.5Q597.3 507.9 595.7 507.2M597.6 504.5Q594.5 504.7 592.4 504M597.6 504.5Q595.1 503.2 594.1 501M597.6 504.5Q598.7 501.4 596.6 498.8M667.3 494.1Q667.4 498.8 665.2 500M667.3 494.1Q664 496.1 663.4 495.3M667.3 494.1Q662.4 494.4 661.2 493.1M667.3 494.1Q667.6 492.1 666.5 487.5M667.3 494.1Q670.6 493.4 670.4 493.2M667.3 494.1Q668.8 496.9 672.4 496.8M687.6 499Q682.7 498.9 681.9 501.8M687.6 499Q683.8 500.2 683.6 497.8M687.6 499Q688.4 495.3 686.5 495.7M687.6 499Q690.3 495.9 690.2 494.8M687.6 499Q688.8 500.9 692.8 500.3M687.6 499Q688.7 498.8 693.2 501.8M687.6 499Q686.2 501.7 688.6 504.3M687.8 466Q690.5 469 693.2 469.8M687.8 466Q689.1 467.9 688.3 471.8M687.8 466Q686.4 467.6 686.9 468.5M687.8 466Q685.6 466 683.6 466.6M687.8 466Q683.5 464.1 683.2 463M687.8 466Q689.5 464.8 688.7 463.5M687.8 466Q690.1 465 691.4 465.5M581.2 495.5Q581.7 497.2 579.7 500.5M581.2 495.5Q579.3 497.4 574.5 495.3M581.2 495.5Q578.6 494.8 578.7 493.5M581.2 495.5Q582.4 494.3 581 491.4M581.2 495.5Q585.3 494.6 588 495.6M581.2 495.5Q582.2 497.9 585.3 501.2M636.2 521.6Q637.4 517 635.9 515.5M636.2 521.6Q636.1 518.5 637.4 518.9M636.2 521.6Q638.4 522.8 642.8 522.8M636.2 521.6Q635.4 523.5 637.7 524.2M636.2 521.6Q634.2 522.4 632.1 525M636.2 521.6Q634.3 522.6 630.8 522.6M675.7 493.8Q678.8 494 677.9 491.3M675.7 493.8Q676.8 495.7 678.2 495.1M675.7 493.8Q674.7 494 675.1 496.6M675.7 493.8Q674.1 492.5 669.6 490.4M595.1 492.9Q593.8 493.5 594.1 495.9M595.1 492.9Q593.3 495.7 592.9 495.1M595.1 492.9Q592.7 492.4 589.5 491.3M595.1 492.9Q594.4 488.9 594.4 486.8M595.1 492.9Q598.6 491.8 598.6 489.1M595.1 492.9Q598 492.3 598.7 490.6M595.1 492.9Q597.5 493.5 597.5 495.2M634.4 501.6Q638.5 499.6 640.2 499.7M634.4 501.6Q635.8 504 635.9 505.1M634.4 501.6Q629.1 501.8 627.5 503.3M634.4 501.6Q634.1 500.9 633.5 498.5M606.7 540.2Q607.2 537.6 608.2 537.5M606.7 540.2Q609.7 541.8 612.6 541.1M606.7 540.2Q609.1 545.3 609.6 546.5M606.7 540.2Q604.5 543.4 604.1 545.5M606.7 540.2Q604.4 538.6 600 540.3M606.7 540.2Q604.7 538.3 602.3 535.8M606.7 540.2Q604 536.4 605.3 536.9M661.1 522.9Q663.3 521.5 666.4 519M661.1 522.9Q663.1 521.8 667.2 524.3M661.1 522.9Q662.5 524.9 664.8 525.8M661.1 522.9Q659.8 524.1 660.5 527.5M661.1 522.9Q658 525.9 657.8 524.8M661.1 522.9Q661.1 523.3 657.9 522.1M661.1 522.9Q661.2 520.2 661.1 519.6M593.7 528.4Q594.4 527.3 597.1 527.1M593.7 528.4Q593.9 528.9 595 531.7M593.7 528.4Q590.9 529.8 587.7 531.5M593.7 528.4Q592.4 525.4 594 524.5M675.9 500.5Q676 502.2 676.2 503.3M675.9 500.5Q675 502.3 671.8 503.8M675.9 500.5Q673 496.2 672.4 496.2M675.9 500.5Q676.3 496.8 678 494.8M675.9 500.5Q680.2 502 681.1 500.6M578.9 494.3Q578.2 498.5 577.5 498.5M578.9 494.3Q575.9 495.7 573.9 495.7M578.9 494.3Q577.8 491.2 575.3 491.5M578.9 494.3Q579.7 492 578.7 490.8M578.9 494.3Q580.3 494.4 581.7 492.2M578.9 494.3Q579.7 492.5 582 493.8M578.9 494.3Q578.6 495.2 580.2 497.2M637.4 480.5Q636.5 478 636.6 477.9M637.4 480.5Q640.4 479.3 640 478.8M637.4 480.5Q639.5 483.3 641.7 484.8M637.4 480.5Q637.4 479.9 635.1 482.6M637.4 480.5Q635.9 480.9 633.4 480.1M614.4 466.2Q616.1 468 614.8 471.8M614.4 466.2Q612.4 466.4 610.2 467M614.4 466.2Q612.7 462 609.6 461.1M614.4 466.2Q613.6 462.2 613.9 462.2M614.4 466.2Q618 465.2 618.9 464M614.4 466.2Q618.8 466.2 619.9 467.6M614.4 466.2Q615.8 469.3 619 470.2M604.3 473.2Q604.8 471.9 607.1 474.5M604.3 473.2Q606 477 604.1 478.9M604.3 473.2Q601 473.7 600.6 474.7M604.3 473.2Q603.8 470.5 601.5 469.7M604.3 473.2Q607.2 470.2 608 467.6M623.6 523.7Q627.8 521.8 628 519.1M623.6 523.7Q624.5 522.5 626 525.1M623.6 523.7Q625.4 526.4 624.8 527.5M623.6 523.7Q619.5 527.5 619.5 529.3M623.6 523.7Q621.9 521.8 617 523.7M623.6 523.7Q619.8 520.8 618.4 519.6M623.6 523.7Q624 520.8 624.3 516.8M668.1 480Q667.4 475.9 666.5 474.6M668.1 480Q671 477.1 672.4 477.5M668.1 480Q669.9 482.2 672.4 485.7M668.1 480Q666.5 481.2 661.6 482M666.5 531Q664.4 533.2 663 536.7M666.5 531Q665.8 530.5 662.4 530.2M666.5 531Q666.3 529.6 667.7 527.6M666.5 531Q666.4 529.1 669.1 530.6M641 481.1Q642.6 479.9 642.9 479.2M641 481.1Q645.7 481.2 646.1 480.7M641 481.1Q643.8 483.7 642.6 483.2M641 481.1Q640.8 483.2 639.8 485.2M641 481.1Q637.4 483 637.9 483M641 481.1Q641.1 480.8 638.1 480.9M641 481.1Q638.8 476.6 640.1 476M621.3 510.6Q623 508.5 625.1 508.4M621.3 510.6Q625.3 510 626.9 511.8M621.3 510.6Q620.1 514.4 621.9 514.3M621.3 510.6Q617.7 511.4 616.4 512.3M621.3 510.6Q619.9 511.1 616.4 508M621.3 510.6Q622 505.4 622.5 504.1M605.3 534.9Q607.7 535.3 607.8 534M605.3 534.9Q605.8 539.7 606.8 541.3M605.3 534.9Q604.5 537.6 601.6 537.9M605.3 534.9Q604.7 532.4 603.4 532.9M582.5 472.1Q579.9 470.2 580.4 468.1M582.5 472.1Q583.8 469.5 585.5 466.5M582.5 472.1Q584.7 471.9 587.1 473.2M582.5 472.1Q584.1 474.6 584.9 477M582.5 472.1Q582.3 475.9 581.7 479.1M582.5 472.1Q581.9 472.1 578.7 473.4M582.5 472.1Q581.5 470.9 578.3 471.9M642.2 484.4Q640.8 482.9 638.4 480.3M642.2 484.4Q643.7 483.6 645.2 482.9M642.2 484.4Q644.1 487.6 647.6 488.3M642.2 484.4Q641.5 485.7 640.1 486.1M637.9 531.8Q642.1 529.9 643 530.9M637.9 531.8Q638.8 534.6 639.1 535.6M637.9 531.8Q636.9 533.1 635.2 534.5M637.9 531.8Q637.6 529.2 635.5 528.3M678.4 487.4Q681.3 486.8 684.3 486.2M678.4 487.4Q681.2 489.6 681.9 490.4M678.4 487.4Q679.9 488.1 678.1 490.2M678.4 487.4Q676.2 491 674.2 492.3M678.4 487.4Q675.2 485.3 674.7 484.1M678.4 487.4Q677.3 485.1 677.9 481.7M678.4 487.4Q682.7 486.6 683.3 483.2M635.4 539.6Q638.5 540.6 638.7 538.6M635.4 539.6Q637.4 540.4 639.2 540.3M635.4 539.6Q634.6 542.5 634.6 545.9M635.4 539.6Q634.7 542.6 632.9 543M635.4 539.6Q633.2 540.4 630.7 538.4M635.4 539.6Q631.7 538.4 632.1 534.1M635.4 539.6Q636.7 537.9 637.3 534.1M618.5 471.7Q614.3 470.4 612.9 468.4M618.5 471.7Q621.7 469.8 621.7 468.6M618.5 471.7Q621.6 472.8 622 475M618.5 471.7Q617.6 472.8 615.7 473.7M649.1 504.4Q646.8 503 644.5 503.4M649.1 504.4Q648.1 501.6 647.7 499.5M649.1 504.4Q652.8 506.2 655.1 507M649.1 504.4Q647.3 509.2 647.6 511.2M644.6 489Q645.9 488.8 649.7 490.4M644.6 489Q644.4 492.5 642.7 493.3M644.6 489Q640.3 491.1 639.7 489.8M644.6 489Q643.8 487.8 641.6 485.7M644.6 489Q644.6 487.9 645.2 484.8M644.6 489Q646 487.8 650.6 487.9M589.9 535.9Q585.1 533.9 584 535.9M589.9 535.9Q588.6 534.2 588.9 531.6M589.9 535.9Q592.3 533.8 594.5 533.6M589.9 535.9Q591.3 538.4 593.1 537.1M589.9 535.9Q588.1 539.2 589.4 542.7M573.8 496.9Q571.9 499.9 570.5 499.7M573.8 496.9Q571.3 493.2 571.4 493.6M573.8 496.9Q575.3 495.8 577.7 495M573.8 496.9Q575.7 499.1 577.3 502.8M655 488.6Q656.4 485.4 656.9 485M655 488.6Q655 487.9 657 486.4M655 488.6Q657.6 487.8 660.1 490.3M655 488.6Q655.9 492.9 658.4 493.2M655 488.6Q653.6 489.9 651.8 493.7M655 488.6Q650.5 489.4 648.2 488.8M655 488.6Q652.7 485.4 651.2 485.4M622.6 497.9Q620.6 497.2 619.3 494.7M622.6 497.9Q624.4 495.7 625.6 496.8M622.6 497.9Q625.9 497.7 625.3 500.7M622.6 497.9Q622.6 503.2 619.4 504.2M677.3 469.7Q679 469.9 678.1 473M677.3 469.7Q673.5 470.3 673.1 472.5M677.3 469.7Q677.9 468.6 675.9 466.6M677.3 469.7Q677.2 470.4 680.5 468.8M617.4 491.7Q618.4 493.9 621.2 492.7M617.4 491.7Q617.1 494.4 619.3 497.2M617.4 491.7Q614 493.4 611.2 494.9M617.4 491.7Q615.7 492.3 612 490.3M617.4 491.7Q616.7 489 619.4 487.2M654.2 480.2Q658.9 480.7 660.7 479.1M654.2 480.2Q654.4 481.6 657.3 483.9M654.2 480.2Q652.2 482.9 651.8 481.7M654.2 480.2Q651.3 476.9 649.3 477.1M654.2 480.2Q655.4 477.9 655.6 475M631.4 485.4Q628.6 483 626.6 484.4M631.4 485.4Q633.4 482.8 632.1 479.2M631.4 485.4Q632.6 485.4 635.3 485M631.4 485.4Q634 487.5 634.1 488.5M631.4 485.4Q627.6 486.9 627.2 488.2M679.7 511.2Q681.7 512.6 680.1 514.3M679.7 511.2Q674.3 513.3 673.5 512.1M679.7 511.2Q679.6 511 680 507.6M679.7 511.2Q681.6 513.3 686.5 511.7M653.5 534.5Q650.7 532.8 651.6 530.3M653.5 534.5Q653.9 535.6 656.4 533.1M653.5 534.5Q655.9 536.8 657 536.5M653.5 534.5Q654.8 538.6 655.3 539.3M653.5 534.5Q653.2 535.3 650.6 537.8M653.5 534.5Q653.6 532 650.8 532.6M671.4 515.5Q672.5 518.9 671.3 519.5M671.4 515.5Q671.1 516.8 668.2 518M671.4 515.5Q668.4 513.1 666.2 510.9M671.4 515.5Q669.8 513.5 670.7 510.4M671.4 515.5Q674.2 513.6 676.8 511.6M671.4 515.5Q674 514.5 675.4 514M671.4 515.5Q675.4 515.5 675.3 518.8M600 481.7Q599.1 484.2 596.9 486.3M600 481.7Q598.6 480.3 594.7 479.8M600 481.7Q602.6 479.4 601.3 477.4M600 481.7Q603.1 481.7 603.1 478.6M600 481.7Q603.7 482.7 606.9 482.3M600 481.7Q601.2 482.8 599.7 487.2M576.8 493.8Q574.1 490.2 574.1 489.8M576.8 493.8Q578.3 494 577.2 491.1M576.8 493.8Q578.9 492.3 580.9 493M576.8 493.8Q576.8 496.9 579.2 499.1M576.8 493.8Q573.8 492.7 573.7 494.4M588.7 531.4Q589.8 535.6 592.7 536.9M588.7 531.4Q585.9 532 586.4 534.8M588.7 531.4Q586.8 530.5 582.8 533M588.7 531.4Q586.4 528.9 587.8 528.2M588.7 531.4Q590.8 528.9 591.1 529.5M588.7 531.4Q592.3 531.1 595.4 530.3M577.6 517.9Q577.9 515.4 575.8 515.4M577.6 517.9Q581.4 514.7 582.1 513.2M577.6 517.9Q580 519.8 582.2 518.1M577.6 517.9Q580.3 518.9 580 520M577.6 517.9Q579 519.2 577.3 521M577.6 517.9Q574.5 517.7 575.3 521.1M577.6 517.9Q574.9 519.3 570.5 518.2M626.6 542.8Q622 542.7 620.7 539.5M626.6 542.8Q626.4 541.3 629.4 539.3M626.6 542.8Q629.3 545.1 632.1 543.5M626.6 542.8Q624.9 543.3 627.1 545.5M626.6 542.8Q626 543.5 622.9 546.4M599.3 514.5Q602 512.2 602.1 510.9M599.3 514.5Q601.8 514.7 602.6 515M599.3 514.5Q600.5 516.7 600.4 517.3M599.3 514.5Q599.9 517.1 597.7 516.8M599.3 514.5Q596.6 512.7 594 510.7M612.1 484.8Q614.7 486.4 614.7 484.6M612.1 484.8Q615.8 483.8 616.1 485.8M612.1 484.8Q613.1 488 613.3 491.6M612.1 484.8Q610.8 484.3 609 486.9M612.1 484.8Q611.5 482 609.9 483M612.1 484.8Q613.2 479.9 613.1 478.9M635.6 488.9Q633.7 490.3 632.6 490.9M635.6 488.9Q633.8 487.6 631.4 488.5M635.6 488.9Q634.8 484.8 636.5 483.7M635.6 488.9Q637.3 488 639.2 484.5M635.6 488.9Q636.9 489.7 641.6 491.5M635.6 488.9Q635.4 491.6 635.1 492.3M632.7 532.1Q628.8 532.9 628.2 533M632.7 532.1Q631.3 528.9 630.5 526.4M632.7 532.1Q633.3 529.4 635.5 530.2M632.7 532.1Q635.1 532.2 635.7 532.9M632.7 532.1Q631.6 534.6 633.5 534.7M632.7 532.1Q633.9 533.7 631.4 536.5M600.3 501.1Q599.4 500 601.2 497.4M600.3 501.1Q602.7 499 602.9 497.9M600.3 501.1Q602.6 503.5 604.5 503.2M600.3 501.1Q600.4 503.4 603.4 503.8M600.3 501.1Q600.4 504.3 599 504.3M600.3 501.1Q595.6 503.4 594.9 503.6M600.3 501.1Q596.7 498.6 596.8 499.4M624 466.6Q624.4 469.5 622.2 470.7M624 466.6Q623.7 466.4 619.9 463M624 466.6Q624.8 465.7 626.4 465.3M624 466.6Q625.6 468.4 627.5 468M653.6 499.7Q653.6 497 653.1 495.4M653.6 499.7Q657.6 499.8 658.5 500.5M653.6 499.7Q656.2 503.7 654.9 506M653.6 499.7Q651.3 500.2 650.9 500.2M612.7 471Q612.9 470.7 615.7 469.2M612.7 471Q612.2 473.4 612.6 475.3M612.7 471Q608.6 473.2 608.6 472.7M612.7 471Q614 471.2 612.5 467.8M578.1 500Q577.4 500.6 578.7 502.6M578.1 500Q575.2 503.8 573.7 503.9M578.1 500Q576.2 499 573 496.6M578.1 500Q577.5 497.1 580.6 493.8M578.1 500Q580.3 501.3 584.7 500.7M687.3 496.5Q687.6 498.6 690.8 500.4M687.3 496.5Q685.7 500.8 684 501.1M687.3 496.5Q686.8 495.6 683 495.5M687.3 496.5Q685 495.4 686.5 492.2M687.3 496.5Q687.2 494.2 689.6 493.6" stroke="#38FF38" stroke-width="0.7" fill="none" stroke-linecap="round" opacity="0.95"/>
<g fill="#50FF50"><circle cx="574.7" cy="488.9" r="1"/><circle cx="654" cy="516.9" r="0.5"/><circle cx="636.3" cy="500.1" r="0.6"/><circle cx="688.1" cy="533.2" r="0.9"/><circle cx="646.5" cy="533.4" r="0.6"/><circle cx="575.8" cy="521.9" r="0.7"/><circle cx="632.2" cy="501.1" r="0.6"/><circle cx="648" cy="495.7" r="0.7"/><circle cx="649.8" cy="495.8" r="1"/><circle cx="679.1" cy="524.5" r="0.6"/><circle cx="681" cy="496.8" r="0.6"/><circle cx="616" cy="484.9" r="0.5"/><circle cx="680.9" cy="537.5" r="0.8"/><circle cx="606" cy="468.8" r="0.7"/><circle cx="574.4" cy="512.9" r="0.6"/><circle cx="659" cy="513.9" r="0.7"/><circle cx="657.6" cy="508.4" r="0.8"/><circle cx="601.6" cy="520.2" r="0.8"/><circle cx="670.1" cy="481.5" r="0.9"/><circle cx="617.8" cy="537.9" r="0.8"/><circle cx="608" cy="486.8" r="0.7"/><circle cx="598.8" cy="466.9" r="0.9"/><circle cx="637.9" cy="502.2" r="0.7"/><circle cx="608.1" cy="466.6" r="0.6"/><circle cx="612.3" cy="535.2" r="0.7"/><circle cx="647.5" cy="513.9" r="1"/><circle cx="652.6" cy="468.7" r="0.7"/><circle cx="615.4" cy="511.5" r="0.8"/><circle cx="611.1" cy="529.2" r="0.8"/><circle cx="637.1" cy="522.8" r="0.8"/><circle cx="584.2" cy="491.7" r="0.8"/><circle cx="679" cy="491.1" r="0.9"/><circle cx="576.7" cy="532.9" r="0.8"/><circle cx="664" cy="470.5" r="0.6"/><circle cx="607.5" cy="518.8" r="0.9"/><circle cx="633.8" cy="518.2" r="0.7"/><circle cx="687.6" cy="523" r="0.6"/><circle cx="607.8" cy="504.5" r="0.8"/><circle cx="650.2" cy="474.2" r="0.7"/><circle cx="640.3" cy="531" r="0.6"/><circle cx="615.5" cy="531.3" r="0.9"/><circle cx="582.1" cy="537.8" r="0.9"/><circle cx="687.8" cy="495.2" r="1"/><circle cx="681.4" cy="493.3" r="0.5"/><circle cx="664.9" cy="533" r="0.9"/><circle cx="593" cy="482.9" r="0.8"/><circle cx="594.5" cy="482.1" r="0.8"/><circle cx="604.6" cy="477.1" r="1"/><circle cx="584.3" cy="483" r="0.7"/><circle cx="611.5" cy="541.7" r="0.7"/><circle cx="590" cy="513.1" r="0.6"/><circle cx="603.8" cy="516.1" r="0.9"/><circle cx="573.8" cy="467.3" r="0.9"/><circle cx="680.2" cy="520.6" r="0.9"/><circle cx="663.8" cy="513.1" r="0.8"/><circle cx="625.3" cy="509.8" r="1"/><circle cx="591.8" cy="506.5" r="0.7"/><circle cx="585.3" cy="468.9" r="0.8"/><circle cx="644.3" cy="467.3" r="0.9"/><circle cx="627.6" cy="466" r="0.7"/><circle cx="672.8" cy="472.8" r="0.8"/><circle cx="604.3" cy="488.9" r="0.8"/><circle cx="592.7" cy="474.5" r="0.6"/><circle cx="625.3" cy="491.3" r="0.9"/><circle cx="609.4" cy="469" r="0.9"/><circle cx="607.4" cy="511.7" r="0.8"/><circle cx="658.4" cy="518.7" r="0.7"/><circle cx="635.7" cy="488.5" r="0.8"/><circle cx="681.4" cy="495.7" r="0.9"/><circle cx="631.5" cy="466.5" r="0.6"/><circle cx="658" cy="532.9" r="0.8"/><circle cx="676.8" cy="541.9" r="0.6"/><circle cx="576" cy="518.8" r="0.7"/><circle cx="640.9" cy="524.4" r="0.7"/><circle cx="637.4" cy="480.6" r="0.9"/><circle cx="630.5" cy="507.9" r="0.6"/><circle cx="682.1" cy="501.7" r="0.7"/><circle cx="657.2" cy="470.1" r="0.8"/><circle cx="597.6" cy="504.5" r="0.9"/><circle cx="667.3" cy="494.1" r="0.8"/><circle cx="687.6" cy="499" r="0.9"/><circle cx="687.8" cy="466" r="0.7"/><circle cx="581.2" cy="495.5" r="0.8"/><circle cx="636.2" cy="521.6" r="0.8"/><circle cx="675.7" cy="493.8" r="0.8"/><circle cx="595.1" cy="492.9" r="0.9"/><circle cx="634.4" cy="501.6" r="0.6"/><circle cx="606.7" cy="540.2" r="0.6"/><circle cx="661.1" cy="522.9" r="0.6"/><circle cx="593.7" cy="528.4" r="0.8"/><circle cx="675.9" cy="500.5" r="0.9"/><circle cx="578.9" cy="494.3" r="0.7"/><circle cx="637.4" cy="480.5" r="0.9"/><circle cx="614.4" cy="466.2" r="0.8"/><circle cx="604.3" cy="473.2" r="0.9"/><circle cx="623.6" cy="523.7" r="0.8"/><circle cx="668.1" cy="480" r="0.8"/><circle cx="666.5" cy="531" r="0.6"/><circle cx="641" cy="481.1" r="0.9"/><circle cx="621.3" cy="510.6" r="0.5"/><circle cx="605.3" cy="534.9" r="0.9"/><circle cx="582.5" cy="472.1" r="0.6"/><circle cx="642.2" cy="484.4" r="0.9"/><circle cx="637.9" cy="531.8" r="0.7"/><circle cx="678.4" cy="487.4" r="0.7"/><circle cx="635.4" cy="539.6" r="0.9"/><circle cx="618.5" cy="471.7" r="0.6"/><circle cx="649.1" cy="504.4" r="0.7"/><circle cx="644.6" cy="489" r="0.8"/><circle cx="589.9" cy="535.9" r="0.9"/><circle cx="573.8" cy="496.9" r="0.9"/><circle cx="655" cy="488.6" r="0.9"/><circle cx="622.6" cy="497.9" r="0.6"/><circle cx="677.3" cy="469.7" r="0.5"/><circle cx="617.4" cy="491.7" r="0.9"/><circle cx="654.2" cy="480.2" r="0.6"/><circle cx="631.4" cy="485.4" r="0.7"/><circle cx="679.7" cy="511.2" r="0.8"/><circle cx="653.5" cy="534.5" r="0.9"/><circle cx="671.4" cy="515.5" r="0.8"/><circle cx="600" cy="481.7" r="0.8"/><circle cx="576.8" cy="493.8" r="0.9"/><circle cx="588.7" cy="531.4" r="0.7"/><circle cx="577.6" cy="517.9" r="0.9"/><circle cx="626.6" cy="542.8" r="0.5"/><circle cx="599.3" cy="514.5" r="0.9"/><circle cx="612.1" cy="484.8" r="0.9"/><circle cx="635.6" cy="488.9" r="0.8"/><circle cx="632.7" cy="532.1" r="1"/><circle cx="600.3" cy="501.1" r="0.8"/><circle cx="624" cy="466.6" r="0.6"/><circle cx="653.6" cy="499.7" r="1"/><circle cx="612.7" cy="471" r="0.8"/><circle cx="578.1" cy="500" r="0.9"/><circle cx="687.3" cy="496.5" r="0.7"/></g>
<path d="M573 486C590 484 610 482 630 484C655 488 675 494 690 498V502C670 497 640 490 610 490C595 490 583 491 573 492Z" fill="#000" opacity="0.7" filter="url(#soft)"/>
<path d="M573 516C585 518 598 520 612 523L600 527C590 526 580 525 573 525Z" fill="#000" opacity="0.7" filter="url(#soft)"/>
<g filter="url(#bsp)"><path d="M573 470C590 466 600 463 620 463H668C675 466 682 470 690 475V497C660 490 630 482 600 484C590 485 580 486 573 486Z" fill="#00f"/><path d="M573 524C590 522 610 527 630 528C645 530 655 536 662 552H573Z" fill="#00f"/></g>
<clipPath id="bcO1"><path d="M573 470C590 466 600 463 620 463H668C675 466 682 470 690 475V497C660 490 630 482 600 484C590 485 580 486 573 486Z"/><path d="M573 524C590 522 610 527 630 528C645 530 655 536 662 552H573Z"/></clipPath>
<path clip-path="url(#bcO1)" d="M594.6 520.1Q593.7 517.3 592.8 514.5M629 501.7Q627.8 498.3 627.2 494.8M651.5 531.5Q653.1 530.8 655.6 530M658.4 512.3Q659.9 508.3 659.9 504.2M598.6 487.3Q600.1 485.4 600.7 483.5M635.7 514Q636.4 510.9 637.9 507.7M586.9 503.5Q589.4 506.3 591.3 509.1M592.2 478.9Q589.6 480 587.2 481M585.4 524Q586.1 521.5 585.6 519M668.7 509.6Q667.2 507.7 667.3 505.9M648.5 509.4Q650.4 506.4 651.3 503.3M668 521.9Q669.3 520.3 669.9 518.6M675.7 503.5Q676.3 506 678 508.5M619.5 523.8Q618.4 519.8 618.1 515.8M588.2 550.3Q586 547.5 585.1 544.7M592.5 527.1Q589.9 528.5 587 529.8M626.6 469.4Q626.8 466.6 627.3 463.9M644.1 503Q645 499.1 647.3 495.2M593.5 531.3Q592.4 528.9 593 526.5M669.1 544.5Q668.8 540.1 668.3 535.7M680.9 484Q682.8 480.6 683.4 477.2M588.7 487.4Q587.8 485.2 586.5 482.9M681.7 525.4Q681.9 522.3 681.1 519.3M688.5 461.2Q688.5 459.7 689.6 458.1M605.2 479.7Q603.8 476.5 602.6 473.2M586 536.6Q586.3 540.6 585.5 544.6M634.8 468.2Q638.7 465.2 640.7 462.3M592.4 548.6Q592.3 545.5 591.5 542.5M634.8 542.4Q636.9 539.6 639.2 536.9M576.1 518.8Q576.8 523 579.4 527.2M619.5 528.2Q616.9 527.1 615.3 526M589.8 518.6Q588.4 515.3 587.1 511.9M575.7 498.6Q572.7 498.5 571.1 498.3M631.3 482.2Q630.4 479.2 628.3 476.2M632.1 515.6Q634.1 513.6 634.4 511.5M575.3 520.1Q572.7 519.2 571.4 518.3M687.7 550.2Q688.1 546.2 686.9 542.3M577.1 509.6Q575.5 506.3 574.1 503.1M597.7 529Q596.5 526.7 596.6 524.4M670.9 490.1Q670.5 487.2 668.5 484.3M616.7 463.4Q621.6 465.1 624.6 466.7M618.8 468.3Q618.5 472.7 618.3 477.1M675.8 539.4Q674.7 536.7 674.8 533.9M680.8 479.2Q680.8 477.3 679.6 475.5M597.1 513.6Q599.2 509.9 599.5 506.3M580.1 520.9Q577.8 523.9 576.3 526.9M641.1 537.4Q640.9 539.4 638.9 541.4M600.6 503Q599.4 499.9 599.8 496.8M627.3 521.1Q624.7 521.3 623 521.4M595.7 473.5Q595.7 469.2 594.7 464.9M680 504.8Q681.2 501.2 680.5 497.6M600.3 529.3Q597.1 531.2 595.5 533.1M651.1 465.2Q651.9 461.2 651.4 457.2M581.7 539.6Q585.6 538.2 589.6 536.9M672.5 478.3Q670.8 474.8 669 471.3M639.9 482.2Q638.2 481.8 635.6 481.5M640.8 499Q637.7 500.7 634.5 502.3M615.9 492.3Q614.8 490.4 614.6 488.5M655.9 477.2Q653.1 481 651.8 484.9M672 534.9Q671.2 533.1 668.7 531.4M599.4 523.9Q597.8 521.4 597 518.9M664.6 478.9Q666.6 479.2 668.1 479.6M680.9 515.9Q681.4 512.7 683.8 509.5M589 495.5Q589.5 491.5 589.5 487.5M684.3 497Q684.8 492.8 685.7 488.7M579.2 494.6Q580.1 492.3 581.2 490M644.9 465.4Q644.1 463.1 645 460.9M659.5 526.8Q663.2 529.7 665 532.5M586.6 521.9Q586.5 519.6 584.6 517.3M626.3 509.1Q623.7 510.6 622.6 512.1" stroke="#4FD8FF" stroke-width="0.8" fill="none" opacity="0.3"/>
</g>
<rect x="692.5" y="460.2" width="116.5" height="90.6" fill="#000"/>
<g clip-path="url(#c22)">
<rect x="692.5" y="460.2" width="116.5" height="90.6" fill="#021405" opacity="1"/>
<rect x="692.5" y="460.2" width="116.5" height="90.6" fill="#fff" filter="url(#fib)" opacity="0.3"/>
<rect x="692.5" y="460.2" width="116.5" height="90.6" fill="#fff" filter="url(#gsp)" opacity="0.85"/>
<rect x="692.5" y="460.2" width="116.5" height="90.6" fill="#fff" filter="url(#nuc)" opacity="0.9"/>
<path d="M751.4 517.1Q748.5 513.6 748.5 510.8M751.4 517.1Q751.7 514 754.5 514.5M751.4 517.1Q752.5 520.5 754.2 520.9M751.4 517.1Q748.8 520.1 747.8 522.4M751.4 517.1Q751.2 518.5 748.4 517.1M750.5 523.8Q750.7 525.9 749.8 528.5M750.5 523.8Q747.1 526.3 745.2 526.9M750.5 523.8Q746.6 520.5 745.3 519.6M750.5 523.8Q750.6 520.9 750.6 519.9M750.5 523.8Q751.7 524.1 754.7 521.4M750.5 523.8Q753.2 522.5 754.2 522.5M750.5 523.8Q752.2 527.4 753.3 530.3M767.9 518.6Q767.6 515.4 769.6 516.2M767.9 518.6Q769.3 517 771.3 516.5M767.9 518.6Q768.4 519 772.5 521.7M767.9 518.6Q765.6 521.7 766.8 525.6M767.9 518.6Q764.6 521.8 764.4 521.8M767.9 518.6Q764.8 516.6 763.6 517.8M767.9 518.6Q767 515.2 762.9 513.6M693.7 535.4Q692.1 532.2 693.1 531.5M693.7 535.4Q696.3 534.1 696.9 534.5M693.7 535.4Q696.5 538.9 697.9 541M693.7 535.4Q689.9 538.1 688.4 540.1M693.7 535.4Q692.2 536.9 690.5 534.9M731.7 508.1Q728 505.1 726.4 505.1M731.7 508.1Q730.5 504.7 732.5 502.9M731.7 508.1Q735.4 504.8 736.4 503M731.7 508.1Q733.5 507.6 734.4 507.2M731.7 508.1Q731.6 507.5 734.3 509.7M731.7 508.1Q732 511.5 731.4 514M731.7 508.1Q729.7 507.6 724.6 508.8M753.6 516.2Q753.2 515.9 752.7 512.5M753.6 516.2Q757 514.6 756.5 516M753.6 516.2Q757.7 518 759.3 520.1M753.6 516.2Q753.3 517.6 752 520.5M753.6 516.2Q750.3 517.3 747.9 517M785.9 478.4Q786.6 481.1 785.1 481.6M785.9 478.4Q780.9 477.3 780.5 477.3M785.9 478.4Q785.4 474.8 785.2 473.7M785.9 478.4Q786.7 477.1 790 475.9M785.9 478.4Q787.7 482 790.7 483.3M706.4 532.5Q704.9 534.8 704.7 537.6M706.4 532.5Q704.2 531.9 703.4 533.3M706.4 532.5Q706.6 530.2 706.5 527.4M706.4 532.5Q711 533.3 713 531.2M707.6 520Q708.3 518.4 708.8 514.8M707.6 520Q710.7 520.2 713.9 518.5M707.6 520Q708 521.6 709.6 521.9M707.6 520Q705.5 521.1 705.2 524M707.6 520Q707.4 520 704.6 520.2M707.6 520Q706.3 519.1 707.3 516.4M797.1 472.8Q797.1 474.5 794.6 475.7M797.1 472.8Q794.3 473.1 790.5 470.4M797.1 472.8Q794.2 468.5 795 467.1M797.1 472.8Q798.3 471.2 800.6 467.8M797.1 472.8Q798.8 475.1 803.7 473.8M797.1 472.8Q797 475.9 797.8 479.1M718.5 525.1Q721 524.7 724.8 525.9M718.5 525.1Q721.6 525.1 720.6 528.4M718.5 525.1Q716.5 527.7 715.4 528.6M718.5 525.1Q715.2 524.9 714.9 524.5M718.5 525.1Q716.2 522.5 715.4 522.3M718.5 525.1Q717.7 520.9 719.6 519.4M794 515.2Q792.9 511.9 793 511.4M794 515.2Q794.9 512.4 797.6 512M794 515.2Q796.4 516.6 800 515.2M794 515.2Q796.4 516.7 795.1 520.4M794 515.2Q793.2 516.1 791.3 517.5M794 515.2Q791.3 514.9 788 512.7M778.8 520.6Q776.5 521.9 773.9 525.2M778.8 520.6Q777.6 517.9 776.3 514M778.8 520.6Q784 519.3 785.1 517.6M778.8 520.6Q781.6 525 780.9 527.2M795.5 480.2Q794 482.2 791.2 482.2M795.5 480.2Q793.3 480.4 792.8 479M795.5 480.2Q793.9 478.3 795.2 475.8M795.5 480.2Q795.5 480.7 798.3 479.2M795.5 480.2Q795.6 480.1 798.6 482.1M795.5 480.2Q796.1 482.5 797.5 485.9M795.5 480.2Q794.6 481.7 792.6 484.5M774.4 501.2Q773.8 504.3 776.8 505.6M774.4 501.2Q774.7 505.2 772 507.3M774.4 501.2Q773.2 501.2 770.3 498.9M774.4 501.2Q774.7 501.6 774.1 498.6M774.4 501.2Q775.3 501 775.6 498.6M774.4 501.2Q777.5 501.2 778.8 503.7M745.9 508.6Q748.1 510.4 749.5 509.9M745.9 508.6Q745 512.8 746 513.8M745.9 508.6Q745 509.7 744.6 511.7M745.9 508.6Q743.8 507.7 743.2 509.4M745.9 508.6Q745.7 505.9 743.7 503.9M745.9 508.6Q743.3 506.1 744.6 501.8M745.9 508.6Q748 505.4 750.4 503.6M760.7 511.1Q762.9 506.9 763.8 505.3M760.7 511.1Q761.6 515 765.6 515.2M760.7 511.1Q758.6 512.7 755.4 515.8M760.7 511.1Q758.6 509.6 756.3 507.6M803 508.3Q805.8 507.7 805.8 506.5M803 508.3Q806.5 507.3 806.5 508.3M803 508.3Q805.9 509.7 805.6 513.3M803 508.3Q803.6 509.4 801.9 510.9M803 508.3Q800.6 507 799.1 508.5M803 508.3Q802.1 507 799.2 503.5M803 508.3Q802 504.3 803.7 504.7M783.7 489.3Q783.5 488.5 786.3 488M783.7 489.3Q786 490.3 787 490.8M783.7 489.3Q785.9 489.3 784.5 492.8M783.7 489.3Q780.2 491 780.8 491.9M783.7 489.3Q779.4 487.2 779.4 486.9M783.7 489.3Q783.4 486.4 780.1 484.8M783.7 489.3Q783.3 487.7 785 484.5M807.4 504.9Q808.5 507.6 808.2 509.5M807.4 504.9Q806.1 506.4 804.8 506.6M807.4 504.9Q807 503.4 804.3 505.2M807.4 504.9Q805.9 500.6 804.3 499.1M807.4 504.9Q808.4 505.2 809.5 502.4M807.4 504.9Q807.9 505.4 810.5 502.1M807.4 504.9Q809.1 506 812.5 507.6M767.9 474.3Q767.5 470.6 763.8 469.8M767.9 474.3Q769 471 769.2 471.8M767.9 474.3Q770.1 474.6 770.8 473.5M767.9 474.3Q769.9 474.4 770.4 475.5M767.9 474.3Q768.3 477.1 766.5 480M767.9 474.3Q766.5 477 764.5 476.9M799.1 491.1Q798.1 489.3 793.7 487.5M799.1 491.1Q799.1 489.6 797.7 486.9M799.1 491.1Q799 490 801.6 490.1M799.1 491.1Q799.8 492.8 801.4 492.9M799.1 491.1Q801.6 494 800.2 494M799.1 491.1Q796.7 492.9 795.2 492.4M756 511.7Q759 516.3 760.2 516.9M756 511.7Q754.9 512.8 754.1 514.5M756 511.7Q752.1 514.1 749.9 514.4M756 511.7Q754.5 511.1 752.2 507.2M756 511.7Q755.4 510 756.1 505.4M756 511.7Q759.1 510.1 762 509.6M756 511.7Q756.7 513.2 759.4 514.3M763.4 534.3Q764.4 529.8 762.2 529.5M763.4 534.3Q764.1 530.2 764.9 530.3M763.4 534.3Q768.3 535.4 769.6 533.3M763.4 534.3Q763.4 535.1 766.3 538.4M763.4 534.3Q762.1 535.8 761.9 538.5M763.4 534.3Q762.4 536.4 760.8 535.9M763.4 534.3Q759.4 534.7 759.6 533.9M786.2 491.6Q786.9 494.6 786 497.3M786.2 491.6Q782.6 491.9 779.7 493.5M786.2 491.6Q786.7 489.8 785.2 488.7M786.2 491.6Q786.2 489.6 789.4 490.9M781.7 533.9Q780.4 537.5 782.3 537.3M781.7 533.9Q778.5 532.9 778.9 533.6M781.7 533.9Q780.5 529.1 779.1 528.1M781.7 533.9Q786.3 531.7 786.8 530.9M781.7 533.9Q783.1 534.6 786.9 535.1M762.9 515.1Q762.8 518.9 765.5 520.3M762.9 515.1Q760.1 515.4 761.3 518.4M762.9 515.1Q758.9 516.5 759.3 517.8M762.9 515.1Q760.2 511.3 757.5 511.3M762.9 515.1Q763.3 512.1 764.1 509.6M762.9 515.1Q763.2 514.9 765.1 512.4M762.9 515.1Q768.7 516.6 769.9 515.5M781.3 496.6Q779.2 496.1 776.4 492.4M781.3 496.6Q781.4 491.7 780.8 490.5M781.3 496.6Q785 497 786 494M781.3 496.6Q786.7 498.9 788.1 497.8M781.3 496.6Q779.5 501.3 780.6 501.7M781.3 496.6Q778.4 500.4 776.5 500.4M742.9 542.1Q745.8 542.7 747.8 543.1M742.9 542.1Q742.3 544.3 742.2 546M742.9 542.1Q742.7 541.6 740.9 543.9M742.9 542.1Q737.9 542.5 736.9 542.7M742.9 542.1Q740.9 539.9 739.9 539.8M742.9 542.1Q741.4 540.9 742.9 536.6M742.9 542.1Q745.4 543.4 746.3 541.1M761.8 515.2Q763.8 514.1 768.2 516.7M761.8 515.2Q762.6 515.6 763.4 518.5M761.8 515.2Q758.3 515.1 755.9 518.3M761.8 515.2Q761.9 513.8 758.5 513.6M761.8 515.2Q761.2 514 764.2 510.4M719 518.7Q718.8 518.1 715.3 515.7M719 518.7Q719.4 514.5 720.6 512.1M719 518.7Q721.9 518.2 723.5 517.9M719 518.7Q719.1 521.9 718.4 522.8M719 518.7Q715.7 518.6 715.2 519.3M772.9 517.9Q774.6 516.7 775.6 514.3M772.9 517.9Q776.8 516 776.8 517.7M772.9 517.9Q771.8 521.1 773.1 520.5M772.9 517.9Q772.9 519.7 770.7 520.3M772.9 517.9Q771 516.6 767.7 517M772.9 517.9Q770.8 513.7 770.3 513.4M729.4 523.7Q728.6 525.3 731.7 526.1M729.4 523.7Q729.4 526.6 726.4 528.8M729.4 523.7Q725.5 521.7 722.7 521.6M729.4 523.7Q728.3 518.4 729.1 517.6M729.4 523.7Q731.8 522.3 736 522.5M752.8 498.3Q755.8 497.8 755.3 496.8M752.8 498.3Q752.7 500.7 755.8 499.2M752.8 498.3Q753.1 499.5 752.2 501.7M752.8 498.3Q752.4 500.1 748.8 499.2M752.8 498.3Q753.3 497.3 750.3 496.1M752.8 498.3Q753.4 496.3 751.3 492.8M738.8 469.9Q737.9 471.4 735.7 473.8M738.8 469.9Q736.2 467.2 734.8 465.9M738.8 469.9Q742.7 467.3 742.7 464.5M738.8 469.9Q740.5 470.4 740.2 473.1M780 468.9Q778.5 471.7 776.2 471.8M780 468.9Q779.7 466.5 779.1 464.5M780 468.9Q783 468.8 786 467.7M780 468.9Q783.8 470.6 784.7 473.9M795.3 507.8Q792.9 506.7 791 506.7M795.3 507.8Q794.9 507.8 792 505.6M795.3 507.8Q794 505.6 795 503.8M795.3 507.8Q799 506 799.8 504.8M795.3 507.8Q799.4 508.3 800.9 510.2M795.3 507.8Q796.7 510.8 796.3 512.5M795.3 507.8Q792.9 509.7 790.9 512.7M693.8 494.6Q693.9 497.1 691.3 498.5M693.8 494.6Q690.1 494.6 689.3 492.1M693.8 494.6Q694.6 494 692 491.9M693.8 494.6Q695.5 492.4 696.9 492.8M693.8 494.6Q696.8 495.6 700.4 497M693.8 494.6Q695.1 499.2 697.8 499.5M769.1 521.4Q764.6 524.4 763.4 523.8M769.1 521.4Q768.1 520.2 766.5 517.8M769.1 521.4Q767 517.4 767.5 515.6M769.1 521.4Q773.3 517.8 774.1 518.1M769.1 521.4Q772.6 522.4 774.9 521.6M769.1 521.4Q769.7 525.1 772.7 527.3M769.1 521.4Q769.7 524.5 769 527.6M696.8 469.8Q696.5 471.3 698.5 472.1M696.8 469.8Q693.4 474.5 693.2 476M696.8 469.8Q692.5 473.1 692.3 473M696.8 469.8Q693.8 467.9 694.2 467.8M696.8 469.8Q695.8 468.5 695.3 464.9M696.8 469.8Q698.9 468.8 698.9 467.6M696.8 469.8Q698.5 470.8 700.8 470M740.6 504.2Q739.8 504.2 736.5 504.6M740.6 504.2Q740.1 499.9 741.6 497.6M740.6 504.2Q741.7 504.8 744.6 502.6M740.6 504.2Q742 505 740.5 508.7M757.5 475.1Q760.9 474.6 761 471.2M757.5 475.1Q761.4 475.4 762.3 475.4M757.5 475.1Q757.3 479.5 756.6 480M757.5 475.1Q756 477.9 755.5 476.9M757.5 475.1Q755.7 475.4 753.3 472.5M719.5 498.5Q720 496 719.3 493.9M719.5 498.5Q721.1 498 723.3 494.2M719.5 498.5Q723.9 498 724.2 498.9M719.5 498.5Q719.9 500.3 721.8 503.5M719.5 498.5Q715.7 501.3 714.6 502.5M719.5 498.5Q716.5 500.1 714.8 499.8M719.5 498.5Q718.9 496.6 714.8 496.3M758.6 502.5Q759.1 503.8 756.9 506M758.6 502.5Q755.8 503.7 751.7 502M758.6 502.5Q759.1 500.3 756.8 499.2M758.6 502.5Q760.1 498.9 760.3 496.4M758.6 502.5Q761.8 500.7 761.1 500.9M758.6 502.5Q759.8 502.2 762.4 505M758.6 502.5Q759.2 506.1 757.6 507.7M742.9 535.3Q739.8 539.3 740.9 539.1M742.9 535.3Q740.6 534.5 736.5 534.6M742.9 535.3Q743 532.7 745.8 530.8M742.9 535.3Q743.2 537 745.7 536.2M698.1 507.6Q697.6 509.5 695.7 511.8M698.1 507.6Q697.8 509.2 694.6 507.8M698.1 507.6Q694.7 503.9 693.5 502.9M698.1 507.6Q697.9 505.4 699.6 502.3M698.1 507.6Q702.5 506.5 704.5 508.8M698.1 507.6Q698.5 508.3 701.3 510.7M779.2 527.1Q780.7 528.4 778.6 530.1M779.2 527.1Q776.5 527.6 775.3 529.7M779.2 527.1Q778.9 524.2 775.5 523.8M779.2 527.1Q780.6 523.7 780.3 524.2M779.2 527.1Q783.8 526.8 785.5 530M776.1 522.2Q774.6 518.9 773.6 517M776.1 522.2Q780.7 519.1 781.7 518.8M776.1 522.2Q779 522.8 780.5 526.1M776.1 522.2Q773.2 522.9 769.2 523.4M769.8 542.4Q770.4 544.8 770.7 546.4M769.8 542.4Q767 540.4 766.7 540.5M769.8 542.4Q769.4 539.8 770.7 538.5M769.8 542.4Q771.4 540.7 774.6 542.2M784.2 506.4Q779.7 507.2 779.2 506.5M784.2 506.4Q784 502.5 785.8 500.7M784.2 506.4Q787.1 505.5 786.9 507.2M784.2 506.4Q784.7 508 783 510.7M791.8 523.6Q788.3 521.3 788.4 521.3M791.8 523.6Q791.9 519.6 793.2 517.7M791.8 523.6Q791.7 525.8 795.1 524.2M791.8 523.6Q792.7 525.3 792.4 529.2M791.8 523.6Q789.4 525.3 786.5 524.7M777.5 501.4Q773.1 500.3 772.4 497.2M777.5 501.4Q777 498.4 777.4 497.9M777.5 501.4Q780.7 500.2 780.9 500.9M777.5 501.4Q779.8 502.8 779.7 504.1M777.5 501.4Q779.2 503.6 779 506.5M777.5 501.4Q776 502.7 774.2 503.9M777.5 501.4Q775.2 502.2 771.3 502.1M773.4 470.5Q772.7 470.5 775.3 472.7M773.4 470.5Q769.2 473.7 768.2 474.1M773.4 470.5Q773 467.9 769.8 469.3M773.4 470.5Q771.6 469.1 773.8 467.8M773.4 470.5Q777.4 469.5 777.6 469.3M804.3 490.7Q803.9 493.8 802.3 494.3M804.3 490.7Q801.4 491.4 800 491M804.3 490.7Q801.4 490.5 801.8 488.1M804.3 490.7Q806.3 489.1 805.1 488.1M804.3 490.7Q807.9 492 810.1 490.7M804.3 490.7Q806.5 492.9 805.4 493.6M769.3 501.3Q770.7 500.8 772.1 503.7M769.3 501.3Q768.1 504.5 767.8 503.5M769.3 501.3Q768 499.5 765.3 495.7M769.3 501.3Q769.5 498.9 771.3 497.2M739.7 506.9Q740.6 503.3 740.7 503.3M739.7 506.9Q742 504.5 744.2 501.5M739.7 506.9Q742.7 507.9 742.5 506.6M739.7 506.9Q742.2 509.2 744.6 511.6M739.7 506.9Q736.3 510.2 735.3 511.9M739.7 506.9Q735.6 508.9 735.1 510M739.7 506.9Q736 504.1 735.2 503.8M797.8 494.8Q799 493 800.3 488.2M797.8 494.8Q798.9 494.3 802.8 497.4M797.8 494.8Q799.4 497.1 799.6 500.7M797.8 494.8Q795.2 498.9 793.4 500.2M797.8 494.8Q796.2 494.5 795.4 493.4M765.5 507Q769.8 509.6 770 508.2M765.5 507Q765.7 508.9 764.7 514M765.5 507Q761.9 507 762.2 508.2M765.5 507Q763 503.8 764 503.1M765.5 507Q766.7 503.5 769.9 502.5M801.5 483.2Q804.1 484.9 803 487M801.5 483.2Q800.1 486.2 796.5 486M801.5 483.2Q798.5 483.6 798.3 482.7M801.5 483.2Q799.2 481.4 798.7 479M801.5 483.2Q799.8 481.3 801.9 479.3M801.5 483.2Q805.4 484.9 806 483.2M801.5 483.2Q804.9 482 804.4 483.7M706.5 509.2Q707.9 510.3 709.2 514.6M706.5 509.2Q706 510.4 702.6 514.2M706.5 509.2Q702.5 510.9 699.9 510.2M706.5 509.2Q706.9 507.7 704.7 506.1M706.5 509.2Q705.1 506 707.2 506.1M706.5 509.2Q711.4 507.6 711.8 508.3M706.5 509.2Q710.6 509.8 711.2 509.5M700.5 492.2Q701.3 491.3 705.4 491.2M700.5 492.2Q703.5 492.4 703.4 493.1M700.5 492.2Q699.4 495.1 700.8 495.1M700.5 492.2Q698.8 495.4 699.1 496.3M700.5 492.2Q697.1 494.9 695.1 494M700.5 492.2Q696.9 489.2 697 487.3M700.5 492.2Q700.6 489 699.9 487.1M790.6 512.9Q789 509.3 789.8 508.3M790.6 512.9Q793.4 509.1 793.3 507.5M790.6 512.9Q792.5 511.2 793.3 512.6M790.6 512.9Q792.1 515.2 794.1 516.1M790.6 512.9Q792 513.9 789.5 515.5M790.6 512.9Q789 514 788.7 515.2M790.6 512.9Q787.6 512.4 786.7 510.7M782.6 531.4Q781.9 535.7 783 538M782.6 531.4Q782.1 534.6 780.5 534.8M782.6 531.4Q781.5 529.4 777.7 529.8M782.6 531.4Q780.6 528.3 780.5 526.1M782.6 531.4Q784.4 529.8 787.7 529.6M782.6 531.4Q783.3 532.7 786.4 534.6M694.2 479.3Q691.5 479 689.2 482M694.2 479.3Q690.4 478.2 689.9 477M694.2 479.3Q692.7 476.4 692.8 474.4M694.2 479.3Q694.4 476.8 697.1 477.6M694.2 479.3Q695.1 481.7 696.2 481.2M716.1 477.9Q715.1 478.3 713.1 481.5M716.1 477.9Q713.4 478.5 713.2 477M716.1 477.9Q717.4 474.9 715.2 471.8M716.1 477.9Q716.1 476 719.4 475.8M716.1 477.9Q717.7 477.8 719.5 478M716.1 477.9Q713.8 480.4 715.4 484.3M744.2 502.6Q743.3 501.5 739.9 501.6M744.2 502.6Q747.1 501.4 746.6 498.3M744.2 502.6Q745.4 500.9 747.1 502.6M744.2 502.6Q744.3 504.5 742.9 504.8M709.8 513.5Q709 512.3 708.4 510.3M709.8 513.5Q713.3 511.6 713.6 511.8M709.8 513.5Q710.4 516.7 711.6 519.1M709.8 513.5Q709.1 515.7 708.6 520.3M709.8 513.5Q708.6 512.5 704.7 510.1M786.7 522Q789.2 522.2 792 524.1M786.7 522Q786.2 523.8 786 528.1M786.7 522Q784.8 524.3 783.7 524.2M786.7 522Q783.7 520.3 783.4 518.7M786.7 522Q787.3 520.2 785.7 519.1M786.7 522Q789.1 522.2 790.5 520.6M768.3 483.6Q768.3 481.7 766.8 478.6M768.3 483.6Q768 483.4 768.3 480.2M768.3 483.6Q770.1 483.2 774.6 480.8M768.3 483.6Q771.7 485.4 772.5 488.5M768.3 483.6Q769.8 486 767.8 488M768.3 483.6Q768.1 483.2 764.7 485.9M768.3 483.6Q766.1 483.4 761.5 485.5M773.4 492.4Q776.1 492.8 779.9 489.7M773.4 492.4Q773.8 493.6 777.4 493.6M773.4 492.4Q774.8 496.7 775.3 498M773.4 492.4Q770.8 496.8 769.2 497.5M773.4 492.4Q772.7 490.4 770.1 492.3M773.4 492.4Q772.7 491 768.9 487.7M773.4 492.4Q772.9 488.1 774.8 485.7M699.4 533.9Q702 533.8 702.2 534.5M699.4 533.9Q702.1 535.7 701.6 537.3M699.4 533.9Q698.4 536.1 694.1 536.1M699.4 533.9Q696.3 530.3 697.1 530.9M699.4 533.9Q698.9 530 699.5 526.9M732.7 469.3Q731.6 471.8 729.6 473.2M732.7 469.3Q732 465.8 730.3 465.5M732.7 469.3Q732.7 468.4 735.9 468.8M732.7 469.3Q734.5 471.5 733.3 472.9M761.7 505.1Q758.6 501 758.4 500.6M761.7 505.1Q762.1 501.4 762.2 499.2M761.7 505.1Q766.2 501.2 767 500.4M761.7 505.1Q763.1 505 766 507.4M761.7 505.1Q761.2 506.9 762.4 508.4M761.7 505.1Q759.1 508.9 760.4 508.4M761.7 505.1Q758.7 505.1 755.2 505M698.7 488.2Q700.7 484.9 699 483M698.7 488.2Q701.8 488.2 704.9 487.6M698.7 488.2Q699.7 489.6 702.4 492.9M698.7 488.2Q699.4 491.5 696.8 491.1M698.7 488.2Q695.5 489.4 695.1 487.3M715.3 496Q712.2 495 710.6 496.4M715.3 496Q711.5 493.3 709.7 494.3M715.3 496Q713.8 493.4 714.4 491.8M715.3 496Q718.9 495.5 720 492.6M715.3 496Q718.3 496.8 721 497.6M715.3 496Q715.8 497 718.8 498.2M715.3 496Q713.6 498.8 715.2 500.5M743.4 527.7Q740.2 525.5 740.2 524.6M743.4 527.7Q743 524.4 742.9 522.9M743.4 527.7Q743.9 528.4 746.8 526.7M743.4 527.7Q746.6 528.9 747.8 528.8M743.4 527.7Q741.8 529.1 743.8 531.2M743.4 527.7Q739.8 532.7 740.4 533.2M743.4 527.7Q742 528.4 739 528.9M730.8 508.5Q728.6 503.9 729.3 502.5M730.8 508.5Q734 504.4 734.4 504.1M730.8 508.5Q735 512.6 735.8 513.1M730.8 508.5Q731.4 510.6 731.1 511.7M730.8 508.5Q728.3 510.5 728.7 511M730.8 508.5Q729 507.8 726.4 504M775.7 511.4Q773.5 509.8 772.8 507.2M775.7 511.4Q778.3 510.8 777 508.1M775.7 511.4Q780 511.2 779.9 512.7M775.7 511.4Q776.4 513 775.1 517.4M775.7 511.4Q775 512 773.3 513.5M715 481.7Q712 481.6 707.9 480.7M715 481.7Q713.8 478.8 711.8 478.9M715 481.7Q715.3 478.7 715 477.1M715 481.7Q719.2 479.8 719.8 480.3M715 481.7Q717.2 482.4 719.1 484.1M715 481.7Q714.2 485.4 714.4 486.2M715 481.7Q713.5 485.4 710.3 485.3M725.6 525.1Q722.5 528.2 722.8 531.5M725.6 525.1Q722.8 526.6 721.8 524.6M725.6 525.1Q725.5 521.8 723.1 520M725.6 525.1Q727.6 525.5 727.1 522.5M725.6 525.1Q730.6 525.8 731.2 526.2M725.6 525.1Q728 528 726.8 528.9M773.1 526.9Q776 523.3 777.5 523.6M773.1 526.9Q773 528.3 775.6 529.5M773.1 526.9Q771.4 530.9 771.6 531.6M773.1 526.9Q767.8 525.1 766.6 526.6M773.1 526.9Q773.2 525.7 772.6 524.1M790.6 496.2Q789.6 495 788.6 493.2M790.6 496.2Q795 494.9 797 493.3M790.6 496.2Q790.7 496 793.3 497M790.6 496.2Q789.4 498.3 788.5 501.4M790.6 496.2Q786.7 495.9 787.1 495.1M805.4 525.5Q801.6 524 800.5 523.7M805.4 525.5Q808.1 523.1 806.8 523.1M805.4 525.5Q809.7 523.7 809.9 523.1M805.4 525.5Q805.7 528.9 808.3 528M805.4 525.5Q804.4 529.3 804.8 529.5M805.4 525.5Q802.6 524.3 801.9 526.2M729.7 488.2Q730.1 483.4 726.8 483M729.7 488.2Q730.5 486.8 731.5 485.9M729.7 488.2Q731.2 491.1 732.1 491.1M729.7 488.2Q730.6 492 728.3 492M729.7 488.2Q727.1 486.3 724.2 487.4M704.8 476.7Q707.7 475.5 708.1 472.2M704.8 476.7Q706.6 478 710.5 477.4M704.8 476.7Q706.8 480.6 704.9 481.1M704.8 476.7Q705.4 478.8 703.3 483.7M704.8 476.7Q701.7 477.5 700.3 476M704.8 476.7Q704 474 700.8 474.3M704.8 476.7Q702.7 476.7 704.5 473.1M775.7 481.1Q775.4 485.9 775.9 486.6M775.7 481.1Q775.6 481.9 773.4 483M775.7 481.1Q774.2 481.2 770.2 481.8M775.7 481.1Q776 481.1 773.1 478.8M775.7 481.1Q774.7 479.6 775 476.2M775.7 481.1Q777.2 479.4 781.5 477M775.7 481.1Q776.9 481.9 780.8 482.9M801.5 538.8Q803.4 540.3 802.3 545M801.5 538.8Q799.4 537.6 795.2 537.9M801.5 538.8Q798.3 535.4 799 533.2M801.5 538.8Q801.5 534.9 804 534.5M801.5 538.8Q803.5 539.6 805.5 539.9M808 541.3Q807 543.1 808.1 547M808 541.3Q806.2 544 805.7 543.4M808 541.3Q805 541.4 804.8 538.4M808 541.3Q806.2 539.9 806.6 535.8M808 541.3Q810.1 538.5 812.2 539.7M808 541.3Q810.6 543.6 814.7 542.9M741.8 511.1Q744.3 512.1 745.5 511.2M741.8 511.1Q739.5 514.8 738 516.6M741.8 511.1Q740.3 511.8 736.7 509.3M741.8 511.1Q744.6 509.2 743.6 507M790.2 501Q787.6 500.5 786.3 501.3M790.2 501Q792 496.9 790.1 496.3M790.2 501Q791.8 502.4 795.9 502.2M790.2 501Q791.4 504.3 791.3 506.1M731.5 501.4Q732.5 502 734.4 501.2M731.5 501.4Q732.6 504.6 732.7 508.2M731.5 501.4Q729.9 504.5 729.5 504M731.5 501.4Q731.5 500.4 728.6 500.8M731.5 501.4Q731.8 500.1 732.9 496M736.7 474.9Q734.4 476 732.5 474.2M736.7 474.9Q735.6 473.2 734.7 471.3M736.7 474.9Q736.4 473 739.1 471.3M736.7 474.9Q738.8 473.7 743.4 474.7M736.7 474.9Q736.6 475.4 739.4 476.7M736.7 474.9Q738.3 476.2 737.6 478.9M736.7 474.9Q736.2 477.4 734.4 477.4M699.4 508Q701.2 509.9 702.8 512.1M699.4 508Q697.4 510.3 698.5 514.4M699.4 508Q697.3 507 695.7 509.3M699.4 508Q699.3 502.5 698.9 501M699.4 508Q700.7 506.3 702.6 506.7M783.8 476.2Q784.3 473.4 786.1 474.7M783.8 476.2Q785.1 475 786.2 477.3M783.8 476.2Q783.1 478.9 781.4 479.8M783.8 476.2Q782.8 475.9 779.8 472.6M733.1 490.3Q733.1 490.3 736.4 486.6M733.1 490.3Q732.9 494.8 736.1 495.4M733.1 490.3Q732.8 495.2 732.1 495.6M733.1 490.3Q732.2 490.4 730.1 490.7M733.1 490.3Q731.6 486 731.3 484.4M752.1 509.1Q751.9 508.5 749 504.8M752.1 509.1Q751.2 506.4 753.5 502.8M752.1 509.1Q754.5 509.8 757.4 506.9M752.1 509.1Q752.7 509.1 755.7 510.9M752.1 509.1Q750.8 510.6 752 514.3M752.1 509.1Q751.1 512.6 746.8 513M752.1 509.1Q751.1 508 747.5 509.1M792.9 482.3Q794.8 483.1 797.3 483.8M792.9 482.3Q792.3 485.4 792 485.3M792.9 482.3Q789.1 482 789.1 482.3M792.9 482.3Q789.6 481.7 789.7 479.2M792.9 482.3Q792.6 478.2 795.1 477.4" stroke="#38FF38" stroke-width="0.7" fill="none" stroke-linecap="round" opacity="0.95"/>
<g fill="#50FF50"><circle cx="751.4" cy="517.1" r="0.8"/><circle cx="750.5" cy="523.8" r="1"/><circle cx="767.9" cy="518.6" r="0.8"/><circle cx="693.7" cy="535.4" r="0.6"/><circle cx="731.7" cy="508.1" r="0.9"/><circle cx="753.6" cy="516.2" r="0.9"/><circle cx="785.9" cy="478.4" r="0.9"/><circle cx="706.4" cy="532.5" r="0.6"/><circle cx="707.6" cy="520" r="0.9"/><circle cx="797.1" cy="472.8" r="0.8"/><circle cx="718.5" cy="525.1" r="0.8"/><circle cx="794" cy="515.2" r="0.7"/><circle cx="778.8" cy="520.6" r="0.8"/><circle cx="795.5" cy="480.2" r="0.9"/><circle cx="774.4" cy="501.2" r="0.8"/><circle cx="745.9" cy="508.6" r="1"/><circle cx="760.7" cy="511.1" r="0.8"/><circle cx="803" cy="508.3" r="0.8"/><circle cx="783.7" cy="489.3" r="0.8"/><circle cx="807.4" cy="504.9" r="0.6"/><circle cx="767.9" cy="474.3" r="0.8"/><circle cx="799.1" cy="491.1" r="0.7"/><circle cx="756" cy="511.7" r="0.8"/><circle cx="763.4" cy="534.3" r="0.9"/><circle cx="786.2" cy="491.6" r="1"/><circle cx="781.7" cy="533.9" r="0.7"/><circle cx="762.9" cy="515.1" r="0.7"/><circle cx="781.3" cy="496.6" r="0.9"/><circle cx="742.9" cy="542.1" r="0.5"/><circle cx="761.8" cy="515.2" r="0.8"/><circle cx="719" cy="518.7" r="0.7"/><circle cx="772.9" cy="517.9" r="0.7"/><circle cx="729.4" cy="523.7" r="0.6"/><circle cx="752.8" cy="498.3" r="0.7"/><circle cx="738.8" cy="469.9" r="0.8"/><circle cx="780" cy="468.9" r="0.9"/><circle cx="795.3" cy="507.8" r="0.8"/><circle cx="693.8" cy="494.6" r="0.8"/><circle cx="769.1" cy="521.4" r="0.7"/><circle cx="696.8" cy="469.8" r="0.7"/><circle cx="740.6" cy="504.2" r="0.9"/><circle cx="757.5" cy="475.1" r="0.6"/><circle cx="719.5" cy="498.5" r="0.6"/><circle cx="758.6" cy="502.5" r="0.6"/><circle cx="742.9" cy="535.3" r="0.9"/><circle cx="698.1" cy="507.6" r="1"/><circle cx="779.2" cy="527.1" r="0.9"/><circle cx="776.1" cy="522.2" r="0.7"/><circle cx="769.8" cy="542.4" r="0.7"/><circle cx="784.2" cy="506.4" r="0.8"/><circle cx="791.8" cy="523.6" r="0.9"/><circle cx="777.5" cy="501.4" r="0.7"/><circle cx="773.4" cy="470.5" r="0.9"/><circle cx="804.3" cy="490.7" r="0.9"/><circle cx="769.3" cy="501.3" r="0.7"/><circle cx="739.7" cy="506.9" r="0.7"/><circle cx="797.8" cy="494.8" r="0.8"/><circle cx="765.5" cy="507" r="0.7"/><circle cx="801.5" cy="483.2" r="0.9"/><circle cx="706.5" cy="509.2" r="0.6"/><circle cx="700.5" cy="492.2" r="0.8"/><circle cx="790.6" cy="512.9" r="0.5"/><circle cx="782.6" cy="531.4" r="0.8"/><circle cx="694.2" cy="479.3" r="0.5"/><circle cx="716.1" cy="477.9" r="0.8"/><circle cx="744.2" cy="502.6" r="0.8"/><circle cx="709.8" cy="513.5" r="0.5"/><circle cx="786.7" cy="522" r="0.9"/><circle cx="768.3" cy="483.6" r="0.5"/><circle cx="773.4" cy="492.4" r="1"/><circle cx="699.4" cy="533.9" r="0.6"/><circle cx="732.7" cy="469.3" r="0.9"/><circle cx="761.7" cy="505.1" r="1"/><circle cx="698.7" cy="488.2" r="1"/><circle cx="715.3" cy="496" r="0.9"/><circle cx="743.4" cy="527.7" r="0.9"/><circle cx="730.8" cy="508.5" r="0.6"/><circle cx="775.7" cy="511.4" r="0.5"/><circle cx="715" cy="481.7" r="0.8"/><circle cx="725.6" cy="525.1" r="0.7"/><circle cx="773.1" cy="526.9" r="0.8"/><circle cx="790.6" cy="496.2" r="0.6"/><circle cx="805.4" cy="525.5" r="0.7"/><circle cx="729.7" cy="488.2" r="0.8"/><circle cx="704.8" cy="476.7" r="0.9"/><circle cx="775.7" cy="481.1" r="0.6"/><circle cx="801.5" cy="538.8" r="0.7"/><circle cx="808" cy="541.3" r="0.7"/><circle cx="741.8" cy="511.1" r="0.7"/><circle cx="790.2" cy="501" r="0.6"/><circle cx="731.5" cy="501.4" r="0.6"/><circle cx="736.7" cy="474.9" r="0.9"/><circle cx="699.4" cy="508" r="0.9"/><circle cx="783.8" cy="476.2" r="0.5"/><circle cx="733.1" cy="490.3" r="0.7"/><circle cx="752.1" cy="509.1" r="0.7"/><circle cx="792.9" cy="482.3" r="1"/></g>
<path d="M692 491C710 489 730 486 752 486C775 488 795 492 810 497V500C780 495 740 492 692 494Z" fill="#000" opacity="0.7" filter="url(#soft)"/>
<path d="M692 521C730 523 770 528 810 538V545C790 538 760 530 730 528C715 527 700 527 692 527Z" fill="#000" opacity="0.7" filter="url(#soft)"/>
<g filter="url(#bsp)"><path d="M692 466C720 467 760 464 810 467V497C780 490 750 485 720 488C705 490 698 491 692 491Z" fill="#00f"/><path d="M692 527C720 526 750 528 780 534C795 537 805 540 810 545V548C770 547 730 547 692 546Z" fill="#00f"/></g>
<clipPath id="bcO2"><path d="M692 466C720 467 760 464 810 467V497C780 490 750 485 720 488C705 490 698 491 692 491Z"/><path d="M692 527C720 526 750 528 780 534C795 537 805 540 810 545V548C770 547 730 547 692 546Z"/></clipPath>
<path clip-path="url(#bcO2)" d="M736.4 544.2Q737.6 548.2 738.3 552.2M697.4 546.5Q697.1 543.8 696.3 541.1M707 522.4Q703.4 522.1 699.2 521.8M788.6 476.6Q789.5 474.8 788.5 473M766.6 469.1Q765.7 467 766.2 465M746.2 466.6Q747 464.7 746.2 462.8M697.2 475.8Q697.8 478.5 698.2 481.2M743.2 505Q743.8 503.3 743.2 501.6M725.5 464.5Q726.5 461.3 727.6 458.1M748.2 480.1Q746.4 481.5 746.2 482.8M703.3 522.2Q702.7 520.1 703.4 517.9M803.2 494.1Q803.6 490.7 803.7 487.4M745.2 487.7Q744.9 484.2 744.8 480.6M733.8 549.5Q735.2 546.9 735.3 544.2M775 511.5Q775.7 513 775.4 514.6M722.7 470.3Q721.4 469.4 720 468.5M711.6 538.6Q712.2 535.6 714.5 532.6M740.1 547.8Q741.1 549.9 743.1 552.1M703.4 514Q704.8 517.1 704.7 520.2M796.5 475.7Q796.8 473.5 798.5 471.2M785.6 484.1Q784.6 481.9 783.8 479.7M726.2 533.3Q724.8 529.3 724.3 525.3M743.4 506.9Q743.5 503.3 741.7 499.7M732.3 503.4Q732.3 500.8 732.3 498.2M727.3 488.6Q726.9 486.1 728.2 483.6M698.6 468.9Q698.1 465.9 699.1 462.8M794.8 520.9Q797.6 519.4 798.7 518M806.2 542.5Q807 538.4 809.4 534.2M793.3 534.1Q794.6 530.4 795 526.7M699.2 548.1Q697.4 544.1 695.6 540.2M713.3 496Q713.1 500.2 712.3 504.4M737.5 493.4Q739.6 491.3 739.9 489.2M755.4 508.9Q755.3 507.1 755.4 505.3M764 544.1Q762 540.4 761.4 536.8M715.2 503.5Q716.7 502.1 716.8 500.6M746.4 472.7Q747.1 470.9 748.1 469M697 504.3Q696.7 501.8 696.6 499.3M788.7 539.7Q786.4 535.8 784.8 532M747.9 464.4Q746.2 461.6 745.5 458.7M785 473.4Q788.4 473.8 790.1 474.1M722.4 488.6Q723.1 485.9 724.7 483.1M757.8 484.4Q755.7 485.2 754.8 486M698.7 529.4Q697.9 526.1 698.6 522.8M767.2 517.1Q771.4 515.4 775.4 513.6M749.1 499.2Q749.6 494.7 750 490.2M791.9 484.2Q791.3 479.8 791.2 475.4M781.1 473.6Q775.7 474.4 772.2 475.1M723 540.6Q721.9 536.6 721.1 532.6M794.9 509.6Q794.1 505.9 791.6 502.1M712.2 550.3Q708.5 549.5 704.7 548.6M696.5 486.8Q697.8 484.7 698.4 482.6M766.2 470.8Q766.1 467.2 766.6 463.5M807.5 533.2Q809.7 530.1 810.1 527M719.2 530.2Q717.3 531.7 715 533.2M806.5 522.4Q805.1 518.7 803.3 514.9M775.4 463.6Q778.6 462.9 781.6 462.1M801.4 511.4Q799.1 510.5 795.2 509.5M800.1 514.2Q800 511.3 800.4 508.4M719 486.4Q720.9 483.9 721.4 481.5M747.4 550.5Q746.5 547.7 746.5 545M730.8 486.1Q731.5 484.6 730.4 483M786.7 491.1Q790.1 492.1 793.1 493.2M795.2 549Q796.1 545.8 798.7 542.7M705.1 470.5Q702.6 470.9 700.1 471.4M801.9 503.9Q800.1 506.5 797.2 509.1M713.8 542.7Q711.8 538.6 710.7 534.4M742.6 545.4Q742.3 541.8 743.8 538.2M705.8 549.1Q704 546.2 702.4 543.2M798.5 462.4Q798.6 459.1 796.9 455.7M721.4 470.2Q721.9 467 723.8 463.9" stroke="#4FD8FF" stroke-width="0.8" fill="none" opacity="0.3"/>
</g>
<rect x="67.5" y="556" width="115.5" height="96" fill="#000"/>
<g clip-path="url(#c3)">
<path d="M125.6 606.3C123.6 603.6 116.3 594.9 113.8 590.3C111.2 585.7 112.1 582 110.3 578.6C108.5 575.2 105.9 572.5 102.7 570.2C99.5 567.9 93 565.6 91 564.7M112.4 591.7C110.6 591.6 105.2 591.7 101.3 591C97.4 590.3 91 588.2 88.9 587.6" stroke="#C23CC4" stroke-width="2.9" fill="none" stroke-linecap="round" stroke-linejoin="round" opacity="1"/>
<path d="M125.6 606.3C126.5 604.7 130.3 600.5 131.1 596.6C131.9 592.7 129.9 586.6 130.4 582.7C130.9 578.8 131.2 575.5 133.9 573C136.6 570.5 144.3 568.4 146.4 567.5M130.5 592C129.2 590.5 124.7 586.1 122.8 582.7C120.9 579.3 119.9 573.5 119.3 571.6M128 603C128.8 602.6 129.9 602.7 132.5 600.7C135.1 598.7 140.5 594.4 143.6 591C146.7 587.6 149.9 582.3 151.2 580.6" stroke="#D2302E" stroke-width="2.9" fill="none" stroke-linecap="round" stroke-linejoin="round" opacity="1"/>
<path d="M125.6 606.3C127.9 606.4 135 607.9 139.4 607C143.8 606.1 147.5 603.1 151.9 600.7C156.3 598.3 163.5 593.8 165.8 592.4M140.5 607.5C142.4 608.5 147 611.8 151.9 613.2C156.8 614.6 166.9 615.5 169.9 616" stroke="#2428D8" stroke-width="2.9" fill="none" stroke-linecap="round" stroke-linejoin="round" opacity="1"/>
<path d="M125.6 606.3C122.8 607.9 113.2 615.3 109 616C104.8 616.7 104.3 611.2 100.6 610.4C96.9 609.6 89.1 611 86.8 611.1M109 617C108.3 618.5 109 623.5 104.8 625.7C100.6 628 87.5 629.7 84 630.5" stroke="#30D2D4" stroke-width="2.9" fill="none" stroke-linecap="round" stroke-linejoin="round" opacity="1"/>
<path d="M125.6 606.3C125.6 608.6 126.3 616.2 125.6 620.1C124.9 624 123.5 626.6 121.4 629.8C119.3 633 116.1 637.1 113.1 639.5C110.1 641.9 105 643.6 103.4 644.4M125.6 622C126.4 624.2 129.5 631.7 130.4 635.4C131.3 639.1 131 642.9 131.1 644.4M126.5 615C128.4 616.3 134.7 621.1 138 622.9C141.3 624.7 143.8 624.4 146.4 625.7C149 627 152.2 629.7 153.3 630.5" stroke="#D8CC34" stroke-width="2.9" fill="none" stroke-linecap="round" stroke-linejoin="round" opacity="1"/>
<circle cx="125.6" cy="606.3" r="2.2" fill="#F0C8A0"/>
</g>
<rect x="187" y="556" width="115" height="96" fill="#000"/>
<g clip-path="url(#c7)">
<path d="M239 607.7C237.8 607.6 233.7 608.2 232.1 607C230.5 605.8 230.2 603.1 229.3 600.7C228.4 598.3 227.8 594.7 226.6 592.4C225.4 590.1 223.1 587.8 222.4 586.9M229.3 599.5C227.9 599.5 223.5 599.3 221 599.3C218.5 599.3 215.2 599.3 214.1 599.3M237.5 607.7C235.4 608.3 229.2 610.2 225.2 611.1C221.2 612 215.4 612.9 213.4 613.2M237.6 608.7C236.4 610.2 232.9 614.6 230.7 617.4C228.5 620.2 225.5 624.3 224.5 625.7" stroke="#D2302E" stroke-width="2.7" fill="none" stroke-linecap="round" stroke-linejoin="round" opacity="1"/>
<path d="M239 607.7C239.9 606.7 244.4 603.7 244.6 601.4C244.8 599.1 241.1 596.4 240.4 593.8C239.7 591.1 240.4 586.9 240.4 585.5M244.6 601.4C245.5 600.4 248.7 598 250.1 595.2C251.5 592.4 252.4 586.5 252.9 584.8M251.5 594C252.7 594 256.3 594.4 258.4 593.8C260.5 593.2 263.1 590.9 264 590.3" stroke="#30D2D4" stroke-width="2.7" fill="none" stroke-linecap="round" stroke-linejoin="round" opacity="1"/>
<path d="M239 607.7C239.9 608.2 241.6 610 244.6 610.4C247.6 610.8 253 609.9 257 610.4C261 610.9 266.8 612.7 268.8 613.2M244.6 610.4C245.3 611.8 247.5 616.4 248.7 618.7C249.8 621 251.5 622.2 251.5 624.3C251.5 626.4 249.2 630.1 248.7 631.2" stroke="#D8CC34" stroke-width="2.7" fill="none" stroke-linecap="round" stroke-linejoin="round" opacity="1"/>
<circle cx="239" cy="607.7" r="1.5" fill="#F0C8A0"/>
</g>
<rect x="305.5" y="556" width="115.5" height="96" fill="#000"/>
<g clip-path="url(#c11)">
<path d="M366.4 606.3C365.2 604.9 362.2 599.6 359.4 598C356.6 596.4 352.5 596.6 349.7 596.6C346.9 596.6 345.1 597.1 342.8 598C340.5 598.9 339.1 600 335.9 602.1C332.7 604.2 325.5 609 323.4 610.4M342.8 597.5C342.1 596 340.5 591.7 338.6 588.3C336.8 584.9 335.4 579.9 331.7 577.2C328 574.5 319 573.1 316.5 572.3M357 597C357.4 595.1 358.3 589 359.4 585.5C360.5 582 363.5 578.9 363.6 575.8C363.7 572.7 360.7 568.3 360.1 566.8" stroke="#D2302E" stroke-width="2.9" fill="none" stroke-linecap="round" stroke-linejoin="round" opacity="1"/>
<path d="M366.4 606.3C367.5 604.4 370.8 598.7 373.3 595.2C375.8 591.7 378.4 587.7 381.6 585.5C384.8 583.3 389.4 583.5 392.7 582C396 580.5 400.2 577.4 401.7 576.5M368.5 603.3C370.7 602.9 377.8 602.8 381.6 600.7C385.4 598.7 389.7 592.6 391.3 591" stroke="#D8CC34" stroke-width="2.9" fill="none" stroke-linecap="round" stroke-linejoin="round" opacity="1"/>
<path d="M366.4 606.3C368 606.8 372.6 609.2 376 609C379.4 608.8 381.4 605 387.1 604.9C392.8 604.8 406.2 607.7 410 608.3M376 609.5C377.9 610.6 383.4 614.2 387.1 616C390.8 617.8 394.9 618.1 398.2 620.1C401.5 622.1 405.7 626.4 407.2 627.7" stroke="#C23CC4" stroke-width="2.9" fill="none" stroke-linecap="round" stroke-linejoin="round" opacity="1"/>
<path d="M366.4 606.3C365.5 607.4 363.1 611.4 360.8 613.2C358.5 615.1 354.4 615.5 352.5 617.4C350.6 619.2 351.8 621.8 349.7 624.3C347.6 626.8 342.6 630.2 340 632.6C337.4 635 334.8 637.8 333.8 638.8M353 617C351.1 617.3 345.1 617 341.4 618.7C337.7 620.4 332.7 625.6 331 627M364 611C363.9 613.2 363.9 619.9 363.6 624.3C363.3 628.7 362.4 635.2 362.2 637.4M367 611C368.3 612.8 373.2 617.9 374.7 621.5C376.2 625.1 374.4 628.9 376 632.6C377.6 636.3 383 641.9 384.4 643.7" stroke="#30D2D4" stroke-width="2.9" fill="none" stroke-linecap="round" stroke-linejoin="round" opacity="1"/>
<circle cx="366.4" cy="606.3" r="2" fill="#F0C8A0"/>
</g>
<rect x="454" y="554" width="117" height="94.7" fill="#000"/>
<g clip-path="url(#c15)">
<path d="M513 600.5C512.1 598.4 508.8 591.1 507.4 588C506 584.9 505.1 582.8 504.7 581.8M505.5 583.5C504.1 583.5 498.4 583.2 497 583.2M507.4 588C506.2 588.4 501.6 589.8 500.5 590.1" stroke="#D8CC34" stroke-width="1.6" fill="none" stroke-linecap="round" stroke-linejoin="round" opacity="1"/>
<path d="M514.3 599C514.8 597.9 516.2 594.4 517.1 592.2C518 590 519.4 587 519.9 586M517.1 592.2C516.8 591.2 515.4 587 515 586M515.5 598.5C517.1 597.9 523.2 595.9 525.4 595C527.6 594.1 528.3 593.2 528.9 592.9M525.4 595C526.6 595.5 531.2 597.2 532.4 597.7M519.9 586C520.4 585.9 522.2 585.4 522.7 585.3" stroke="#30D2D4" stroke-width="1.6" fill="none" stroke-linecap="round" stroke-linejoin="round" opacity="1"/>
<path d="M511.6 599.8C510 599.2 504.8 597 501.9 596.3C499 595.6 495.6 595.7 494.3 595.6M500.6 596.3C500.1 595.6 498.2 592.9 497.7 592.2" stroke="#D2302E" stroke-width="1.6" fill="none" stroke-linecap="round" stroke-linejoin="round" opacity="1"/>
<path d="M511.6 603.3C510.5 603.3 506.8 603.2 504.7 603.3C502.6 603.4 500 603.9 499.1 604M511.6 603.3C511.8 604 512.8 606.7 513 607.4M501.9 604C501.5 605.3 500.5 609.6 499.8 611.6C499.1 613.6 498.1 615 497.7 615.7M499.8 610.2C498.1 610.2 491.8 610.4 489.4 610.2C487 610 486 609 485.3 608.8M494.3 608C492.8 607.2 486.8 604.1 485.3 603.3" stroke="#2428D8" stroke-width="1.6" fill="none" stroke-linecap="round" stroke-linejoin="round" opacity="1"/>
<path d="M515.5 603C516.7 603.5 521.3 604.1 522.7 606C524.1 607.9 523.8 611.4 524 614.4C524.2 617.4 524 622.4 524 624M522.7 606C524.6 606.4 531.9 607.8 533.8 608.1M529 607C529.5 607.9 531.2 611.4 531.7 612.3M518.5 605C518.1 606.6 516.8 612.8 516.4 614.4M524 619C522.4 619.4 516 620.9 514.4 621.3M524 620.5C525 621.3 529.2 624.6 530.3 625.4" stroke="#C23CC4" stroke-width="1.6" fill="none" stroke-linecap="round" stroke-linejoin="round" opacity="1"/>
<circle cx="513" cy="600.5" r="2.9" fill="#30E070"/>
</g>
<rect x="573.7" y="554" width="115.3" height="94.7" fill="#000"/>
<g clip-path="url(#c19)">
<path d="M642.1 598.8C641.4 597.7 639.5 594.3 637.7 591.8C635.9 589.4 633 586.8 631.3 584.2C629.7 581.7 628 578.9 627.5 576.6C627.1 574.3 627.7 572.1 628.8 570.2C629.9 568.3 632.6 566.9 633.9 565.2C635.2 563.5 636 560.9 636.4 560.1M628.8 570.2C628.2 568.3 625.6 560.7 625 558.8M627.5 576.6C625.2 575.5 615.9 571.3 613.6 570.2M631.3 584.2C629.2 583.4 621.4 580.4 618.6 579.1C615.9 577.9 615.5 577 614.8 576.6M637.7 591.8C635.8 592 629.9 594 626.3 593.1C622.7 592.3 619.9 588.4 616.1 586.8C612.3 585.1 606.8 583.4 603.4 582.9C600 582.5 597.1 584 595.8 584.2M616.1 586.8C615 587.2 610.8 588.9 609.8 589.3M603.4 582.9C603.7 581.5 604.9 576.8 605.3 574.1C605.7 571.3 605.8 567.7 605.9 566.4M603.4 582.9C601.1 582.5 591.8 580.8 589.4 580.4M605.3 574.1C603.9 573.6 598.4 571.9 597.1 571.5M605.3 576.6C602.7 576.6 592.1 576.6 589.4 576.6M627.5 593.1C626.1 594 622 597.8 618.6 598.2C615.3 598.6 611 595.9 607.2 595.6C603.4 595.4 599.4 595.6 595.8 596.9C592.2 598.2 587.3 602.2 585.6 603.3M595.8 596.9C594.3 596.3 588.4 593.7 586.9 593.1M598.3 596.9C597.3 595.6 593 590.6 592 589.3M607.2 595.6C606.6 594.6 604 590.4 603.4 589.3M619.9 600.7C618.4 601.6 614.4 604.3 611 605.8C607.6 607.3 603.8 608.1 599.6 609.6C595.4 611.1 587.9 613.9 585.6 614.7M599.6 609.6C598.1 611.9 592.2 621.3 590.7 623.6M611 605.8C609.8 607.9 605.1 614.9 603.4 618.5C601.7 622.1 601.3 625.9 600.9 627.4M605.9 614.7C607.2 616 612.3 621 613.6 622.3M593.2 612.2C592 611.5 586.9 609 585.6 608.3M603.4 618.5C601.9 618.1 596 616.4 594.5 616" stroke="#D2302E" stroke-width="2.4" fill="none" stroke-linecap="round" stroke-linejoin="round" opacity="1"/>
<path d="M641.5 600.7C640 600.1 634.7 597.1 632.6 596.9C630.5 596.7 629.9 597.6 628.8 599.5C627.7 601.4 627.5 605.6 626.3 608.3C625 611.1 622.7 613.4 621.2 616C619.7 618.5 618.4 621.3 617.4 623.6C616.3 625.9 615.3 628.9 614.8 629.9M626.3 608.3C625 609.6 619.9 614.7 618.6 616M626.3 614.7C626.9 616 629.4 621 630.1 622.3M622.5 622.3C623.1 623.8 625.6 629.7 626.3 631.2M631.3 598.2C632.4 599 636.6 602.4 637.7 603.3" stroke="#E8E8E8" stroke-width="2.4" fill="none" stroke-linecap="round" stroke-linejoin="round" opacity="1"/>
<path d="M645.3 605.8C645.5 607.3 646.6 611.9 646.6 614.7C646.6 617.4 646 619.6 645.3 622.3C644.7 625.1 643.6 628 642.8 631.2C641.9 634.4 640.7 639.7 640.2 641.4M646.6 610.9C645.1 611.3 639.2 613 637.7 613.4M644 618.5C643 620.6 638.8 629.1 637.7 631.2M642.8 632.5C643.6 634.4 647 642 647.9 643.9" stroke="#30D2D4" stroke-width="2.4" fill="none" stroke-linecap="round" stroke-linejoin="round" opacity="1"/>
<path d="M650.4 605.8C651.2 606.9 653.6 609.8 655.5 612.2C657.4 614.5 659.7 617.9 661.8 619.8C663.9 621.7 664.6 622.1 668.2 623.6C671.8 625.1 680.9 627.8 683.4 628.7M656.8 612.2C657.8 612.3 662 612.7 663.1 612.8M661.8 619.8C661 622.5 657.6 633.5 656.8 636.3M668.2 623.6C668.4 626.1 669.2 636.3 669.5 638.8M673.3 626.1C674.3 627.6 678.6 633.5 679.6 635M666.9 621C668.4 620.9 674.3 620.5 675.8 620.4" stroke="#D8CC34" stroke-width="2.4" fill="none" stroke-linecap="round" stroke-linejoin="round" opacity="1"/>
<path d="M651.7 598.2C652.3 597.1 655.1 594.8 655.5 591.8C655.9 588.9 653.4 582.9 654.2 580.4C655.1 577.9 658.4 577.4 660.6 576.6C662.7 575.7 665.9 575.5 666.9 575.3M654.2 584.2C653.4 583.4 650 580 649.1 579.1M656.8 588C659.5 587.4 670.5 584.8 673.3 584.2M659.3 593.1C661.8 593.7 672 596.3 674.5 596.9M660.6 596.9C662.5 598.4 670.1 604.3 672 605.8M664.4 585.5C665.6 584.8 670.7 582.3 672 581.7" stroke="#C23CC4" stroke-width="2.4" fill="none" stroke-linecap="round" stroke-linejoin="round" opacity="1"/>
<path d="M647.2 596.9C647.2 595.4 648.2 590.8 647.2 588C646.3 585.3 643.1 582.7 641.5 580.4C639.9 578.1 637.5 576.6 637.7 574.1C637.9 571.5 642.1 567.3 642.8 565.2C643.4 563 641.7 562 641.5 561.4M642.8 567.7C645.3 567.6 655.5 567.2 658 567.1M651 561.4C650.7 562.4 649.4 566.6 649.1 567.7M633.9 572.8C635.2 574.9 640.2 583.4 641.5 585.5" stroke="#2428D8" stroke-width="2.4" fill="none" stroke-linecap="round" stroke-linejoin="round" opacity="1"/>
<circle cx="646.6" cy="602" r="4.4" fill="#3CE070"/>
</g>
<rect x="692.5" y="554" width="116.5" height="94.7" fill="#000"/>
<g clip-path="url(#c23)">
<path d="M755.8 604.7C753.6 602.6 746.3 596.2 742.7 592.2C739.1 588.2 735.7 582.4 734.3 580.4M742.7 592.2C743.2 589.9 745 580.6 745.4 578.3M738.5 588.3C737.1 588 731.6 586.9 730.2 586.6M740 592.2C737.9 592.3 729.5 592.8 727.4 592.9M748.2 596.3C748.4 595.6 749.4 592.9 749.6 592.2" stroke="#2428D8" stroke-width="1.5" fill="none" stroke-linecap="round" stroke-linejoin="round" opacity="1"/>
<path d="M757.9 603.3C758.1 602.1 760.4 599.3 759.3 596.3C758.1 593.3 752.4 587.1 751 585.3M759.3 596.3C760.2 595.3 762.7 591.4 764.8 590.1C766.9 588.8 770.6 588.9 771.8 588.7M756 589C756.5 587.3 758.8 580.7 759.3 579M764.8 590.1C765 589 766 584.4 766.2 583.2" stroke="#D8CC34" stroke-width="1.5" fill="none" stroke-linecap="round" stroke-linejoin="round" opacity="1"/>
<path d="M759.3 604.7C760.9 604 765.8 602.4 769 600.5C772.2 598.6 777.1 594.8 778.7 593.6M769 602C769.7 602.5 772.4 604.8 773.1 605.3M774.5 598.4C775.6 598.6 780.2 599.6 781.4 599.8" stroke="#C23CC4" stroke-width="1.5" fill="none" stroke-linecap="round" stroke-linejoin="round" opacity="1"/>
<path d="M757.9 607.4C758.4 609.2 760.2 616.6 760.7 618.5M759.3 608.8C760.7 609.5 765.8 610.7 767.6 613C769.5 615.3 769.9 621.1 770.4 622.7M767.6 613C769.7 612.8 777.9 611.8 780 611.6M771.8 614.3C772.6 615.2 775.8 619 776.6 619.9" stroke="#30D2D4" stroke-width="1.5" fill="none" stroke-linecap="round" stroke-linejoin="round" opacity="1"/>
<path d="M755 606.7C753 607.1 747.3 607.9 742.7 608.8C738.1 609.7 731.6 611.6 727.4 612.3C723.2 613 719.3 612.9 717.7 613M738.5 609.5C736.6 612.1 729.2 622.8 727.4 625.4M742.7 608.8C742 607.5 739.2 602.5 738.5 601.2M727.4 612.3C726.2 611.5 721.6 608.2 720.5 607.4M753.7 608.8C753 609.9 751.7 613.4 749.6 615.7C747.5 618 742.7 621.5 741.3 622.7M749.6 615.7C750.8 617.1 755.4 622.6 756.5 624M731 619C729.5 619 723.5 619 722 619" stroke="#D2302E" stroke-width="1.5" fill="none" stroke-linecap="round" stroke-linejoin="round" opacity="1"/>
<circle cx="755.8" cy="604.7" r="2.3" fill="#E8E040"/>
</g>
<rect x="67.5" y="655" width="115.5" height="109.6" fill="#000"/>
<g clip-path="url(#c4)">
<path d="M118 709.4a6.9 6.9 0 1 0 13.8 0a6.9 6.9 0 1 0 -13.8 0M111.1 709.4a13.8 13.8 0 1 0 27.6 0a13.8 13.8 0 1 0 -27.6 0M104.2 709.4a20.7 20.7 0 1 0 41.4 0a20.7 20.7 0 1 0 -41.4 0M97.3 709.4a27.6 27.6 0 1 0 55.2 0a27.6 27.6 0 1 0 -55.2 0M90.4 709.4a34.5 34.5 0 1 0 69 0a34.5 34.5 0 1 0 -69 0M83.5 709.4a41.4 41.4 0 1 0 82.8 0a41.4 41.4 0 1 0 -82.8 0M76.6 709.4a48.3 48.3 0 1 0 96.6 0a48.3 48.3 0 1 0 -96.6 0M69.7 709.4a55.2 55.2 0 1 0 110.4 0a55.2 55.2 0 1 0 -110.4 0" stroke="#9C1A1A" stroke-width="0.9" fill="none"/>
<path d="M124.9 709.4C122.9 706.7 115.7 698 113.1 693.4C110.6 688.8 111.5 685.1 109.6 681.7C107.8 678.4 105.2 675.6 102 673.3C98.8 671 92.3 668.7 90.3 667.8M111.7 694.8C109.9 694.7 104.5 694.8 100.6 694.1C96.7 693.4 90.3 691.3 88.2 690.7" stroke="#C23CC4" stroke-width="0.8" fill="none" stroke-linecap="round" stroke-linejoin="round" opacity="0.8"/>
<path d="M124.9 709.4C125.8 707.8 129.6 703.6 130.4 699.7C131.2 695.8 129.2 689.7 129.7 685.8C130.2 681.9 130.5 678.6 133.2 676.1C135.9 673.6 143.6 671.5 145.7 670.6M129.8 695.1C128.5 693.6 124 689.2 122.1 685.8C120.2 682.4 119.2 676.6 118.6 674.7M127.3 706.1C128.1 705.7 129.2 705.8 131.8 703.8C134.4 701.8 139.8 697.5 142.9 694.1C146 690.8 149.2 685.4 150.5 683.7" stroke="#D2302E" stroke-width="0.8" fill="none" stroke-linecap="round" stroke-linejoin="round" opacity="0.8"/>
<path d="M124.9 709.4C127.2 709.5 134.3 711 138.7 710.1C143.1 709.2 146.8 706.2 151.2 703.8C155.6 701.4 162.8 696.9 165.1 695.5M139.8 710.6C141.7 711.6 146.3 714.9 151.2 716.3C156.1 717.7 166.2 718.6 169.2 719.1" stroke="#2428D8" stroke-width="0.8" fill="none" stroke-linecap="round" stroke-linejoin="round" opacity="0.8"/>
<path d="M124.9 709.4C122.1 711 112.5 718.4 108.3 719.1C104.1 719.8 103.6 714.3 99.9 713.5C96.2 712.7 88.4 714.1 86.1 714.2M108.3 720.1C107.6 721.6 108.3 726.6 104.1 728.8C99.9 731.1 86.8 732.8 83.3 733.6" stroke="#30D2D4" stroke-width="0.8" fill="none" stroke-linecap="round" stroke-linejoin="round" opacity="0.8"/>
<path d="M124.9 709.4C124.9 711.7 125.6 719.3 124.9 723.2C124.2 727.1 122.8 729.7 120.7 732.9C118.6 736.1 115.4 740.2 112.4 742.6C109.4 745 104.3 746.7 102.7 747.5M124.9 725.1C125.7 727.3 128.8 734.8 129.7 738.5C130.6 742.2 130.3 746 130.4 747.5M125.8 718.1C127.7 719.4 134 724.2 137.3 726C140.6 727.8 143.2 727.5 145.7 728.8C148.3 730.1 151.5 732.8 152.6 733.6" stroke="#D8CC34" stroke-width="0.8" fill="none" stroke-linecap="round" stroke-linejoin="round" opacity="0.8"/>
<circle cx="124.9" cy="709.4" r="2.6" fill="#fff"/>
<text x="133.2" y="722.6" font-size="8" text-anchor="middle" font-weight="normal" fill="#fff" >10</text>
<text x="144.3" y="732.3" font-size="8" text-anchor="middle" font-weight="normal" fill="#fff" >20</text>
<text x="153.3" y="742" font-size="8" text-anchor="middle" font-weight="normal" fill="#fff" >30</text>
</g>
<rect x="187" y="655" width="115" height="109.6" fill="#000"/>
<g clip-path="url(#c8)">
<path d="M237 710.5a7 7 0 1 0 13.9 0a7 7 0 1 0 -13.9 0M230 710.5a13.9 13.9 0 1 0 27.8 0a13.9 13.9 0 1 0 -27.8 0M223.1 710.5a20.9 20.9 0 1 0 41.7 0a20.9 20.9 0 1 0 -41.7 0M216.1 710.5a27.8 27.8 0 1 0 55.6 0a27.8 27.8 0 1 0 -55.6 0M209.2 710.5a34.8 34.8 0 1 0 69.5 0a34.8 34.8 0 1 0 -69.5 0" stroke="#9C1A1A" stroke-width="0.9" fill="none"/>
<path d="M243.9 710.5C242.5 710.4 237.6 711.1 235.6 709.7C233.7 708.3 233.4 705 232.3 702.1C231.2 699.2 230.4 694.9 229 692.1C227.6 689.4 224.8 686.6 224 685.5M232.3 700.7C230.6 700.6 225.3 700.5 222.3 700.4C219.3 700.4 215.4 700.4 214 700.4M242.1 710.5C239.6 711.2 232.2 713.5 227.3 714.6C222.5 715.7 215.5 716.7 213.2 717.1M242.2 711.7C240.8 713.4 236.6 718.7 233.9 722.1C231.3 725.5 227.7 730.4 226.5 732.1" stroke="#D2302E" stroke-width="0.8" fill="none" stroke-linecap="round" stroke-linejoin="round" opacity="0.8"/>
<path d="M243.9 710.5C245 709.2 250.3 705.7 250.6 702.9C250.9 700.2 246.4 697 245.6 693.8C244.7 690.6 245.6 685.5 245.6 683.9M250.6 702.9C251.7 701.7 255.6 698.8 257.2 695.5C258.9 692.2 260 685.1 260.6 683M258.9 694.1C260.3 694 264.7 694.6 267.2 693.8C269.7 693.1 272.8 690.3 273.9 689.6" stroke="#30D2D4" stroke-width="0.8" fill="none" stroke-linecap="round" stroke-linejoin="round" opacity="0.8"/>
<path d="M243.9 710.5C245 711 247 713.2 250.6 713.7C254.2 714.3 260.7 713.2 265.5 713.7C270.3 714.3 277.3 716.5 279.7 717.1M250.6 713.7C251.4 715.4 254.2 720.9 255.5 723.7C256.9 726.5 258.9 727.9 258.9 730.4C258.9 732.9 256.1 737.3 255.5 738.7" stroke="#D8CC34" stroke-width="0.8" fill="none" stroke-linecap="round" stroke-linejoin="round" opacity="0.8"/>
<circle cx="243.9" cy="710.5" r="1.9" fill="#fff"/>
<text x="239.3" y="726.1" font-size="8" text-anchor="middle" font-weight="normal" fill="#fff" >10</text>
<text x="246" y="739.7" font-size="8" text-anchor="middle" font-weight="normal" fill="#fff" >20</text>
</g>
<rect x="305.5" y="655" width="115.5" height="109.6" fill="#000"/>
<g clip-path="url(#c12)">
<path d="M356.4 710.1a6.9 6.9 0 1 0 13.8 0a6.9 6.9 0 1 0 -13.8 0M349.5 710.1a13.8 13.8 0 1 0 27.6 0a13.8 13.8 0 1 0 -27.6 0M342.6 710.1a20.7 20.7 0 1 0 41.4 0a20.7 20.7 0 1 0 -41.4 0M335.7 710.1a27.6 27.6 0 1 0 55.2 0a27.6 27.6 0 1 0 -55.2 0M328.8 710.1a34.5 34.5 0 1 0 69 0a34.5 34.5 0 1 0 -69 0M321.9 710.1a41.4 41.4 0 1 0 82.8 0a41.4 41.4 0 1 0 -82.8 0M315 710.1a48.3 48.3 0 1 0 96.6 0a48.3 48.3 0 1 0 -96.6 0M308.1 710.1a55.2 55.2 0 1 0 110.4 0a55.2 55.2 0 1 0 -110.4 0" stroke="#9C1A1A" stroke-width="0.9" fill="none"/>
<path d="M363.3 710.1C362.3 708.9 359.6 704.3 357.2 702.9C354.8 701.5 351.2 701.7 348.8 701.7C346.4 701.7 344.8 702.1 342.8 702.9C340.8 703.7 339.6 704.6 336.8 706.4C334 708.2 327.7 712.5 325.9 713.7M342.8 702.4C342.2 701.1 340.7 697.4 339.1 694.4C337.5 691.5 336.3 687.1 333.1 684.8C329.9 682.5 322.1 681.2 319.9 680.5M355.1 702C355.5 700.3 356.3 695.1 357.2 692C358.2 688.9 360.8 686.3 360.9 683.6C361 680.9 358.3 677 357.8 675.7" stroke="#D2302E" stroke-width="0.8" fill="none" stroke-linecap="round" stroke-linejoin="round" opacity="0.8"/>
<path d="M363.3 710.1C364.3 708.5 367.1 703.5 369.3 700.4C371.5 697.4 373.7 693.9 376.5 692C379.3 690.1 383.3 690.3 386.2 689C389.1 687.7 392.7 685 394 684.2M365.1 707.5C367 707.1 373.2 707 376.5 705.2C379.8 703.4 383.6 698.2 385 696.8" stroke="#D8CC34" stroke-width="0.8" fill="none" stroke-linecap="round" stroke-linejoin="round" opacity="0.8"/>
<path d="M363.3 710.1C364.7 710.5 368.7 712.7 371.7 712.4C374.7 712.2 376.4 709 381.3 708.9C386.2 708.8 397.9 711.3 401.2 711.8M371.7 712.9C373.3 713.8 378.1 717 381.3 718.5C384.5 720.1 388.1 720.4 391 722.1C393.9 723.8 397.5 727.6 398.8 728.7" stroke="#C23CC4" stroke-width="0.8" fill="none" stroke-linecap="round" stroke-linejoin="round" opacity="0.8"/>
<path d="M363.3 710.1C362.5 711.1 360.4 714.5 358.4 716.1C356.4 717.7 352.8 718.1 351.2 719.8C349.6 721.4 350.6 723.6 348.8 725.8C347 728 342.6 730.9 340.3 733C338 735.1 335.8 737.5 334.9 738.4M351.6 719.4C350 719.7 344.7 719.4 341.6 720.9C338.4 722.3 334 726.9 332.5 728.1M361.2 714.2C361.2 716.1 361.1 721.9 360.9 725.8C360.6 729.6 359.8 735.3 359.6 737.2M363.8 714.2C364.9 715.7 369.2 720.2 370.5 723.3C371.8 726.5 370.2 729.8 371.7 733C373.1 736.2 377.7 741 379 742.6" stroke="#30D2D4" stroke-width="0.8" fill="none" stroke-linecap="round" stroke-linejoin="round" opacity="0.8"/>
<circle cx="363.3" cy="710.1" r="2.4" fill="#fff"/>
<text x="370.5" y="723.7" font-size="8" text-anchor="middle" font-weight="normal" fill="#fff" >10</text>
<text x="381.6" y="734.4" font-size="8" text-anchor="middle" font-weight="normal" fill="#fff" >20</text>
<text x="390.6" y="743.4" font-size="8" text-anchor="middle" font-weight="normal" fill="#fff" >30</text>
<path d="M305.5 730.2H421" stroke="#3a4a4a" stroke-width="0.6"/>
</g>
<rect x="454" y="652" width="117" height="114.5" fill="#000"/>
<g clip-path="url(#c16)">
<path d="M507.2 709.3a4.4 4.4 0 1 0 8.8 0a4.4 4.4 0 1 0 -8.8 0M502.8 709.3a8.8 8.8 0 1 0 17.6 0a8.8 8.8 0 1 0 -17.6 0M498.4 709.3a13.2 13.2 0 1 0 26.4 0a13.2 13.2 0 1 0 -26.4 0M494 709.3a17.6 17.6 0 1 0 35.2 0a17.6 17.6 0 1 0 -35.2 0M489.6 709.3a22 22 0 1 0 44 0a22 22 0 1 0 -44 0M485.2 709.3a26.4 26.4 0 1 0 52.8 0a26.4 26.4 0 1 0 -52.8 0M480.8 709.3a30.8 30.8 0 1 0 61.6 0a30.8 30.8 0 1 0 -61.6 0M476.4 709.3a35.2 35.2 0 1 0 70.4 0a35.2 35.2 0 1 0 -70.4 0" stroke="#9C1A1A" stroke-width="0.9" fill="none"/>
<path d="M511.6 709.3C510.6 707.1 507.2 699.4 505.7 696.2C504.3 692.9 503.4 690.8 502.9 689.7M503.7 691.4C502.2 691.4 496.3 691.2 494.8 691.1M505.7 696.2C504.5 696.5 499.7 698 498.5 698.4" stroke="#D8CC34" stroke-width="0.8" fill="none" stroke-linecap="round" stroke-linejoin="round" opacity="0.8"/>
<path d="M513 707.7C513.5 706.5 514.9 702.9 515.9 700.6C516.9 698.3 518.4 695.2 518.8 694.1M515.9 700.6C515.5 699.5 514.1 695.2 513.7 694.1M514.2 707.2C516 706.6 522.3 704.5 524.6 703.5C527 702.5 527.7 701.7 528.3 701.3M524.6 703.5C525.8 704 530.7 705.9 532 706.4M518.8 694.1C519.3 694 521.3 693.5 521.8 693.3" stroke="#30D2D4" stroke-width="0.8" fill="none" stroke-linecap="round" stroke-linejoin="round" opacity="0.8"/>
<path d="M510.1 708.6C508.4 708 503 705.6 499.9 704.9C496.9 704.2 493.3 704.3 492 704.2M498.6 704.9C498.1 704.2 496 701.3 495.5 700.6" stroke="#D2302E" stroke-width="0.8" fill="none" stroke-linecap="round" stroke-linejoin="round" opacity="0.8"/>
<path d="M510.1 712.2C508.9 712.2 505.1 712.1 502.9 712.2C500.7 712.4 498 712.9 497 713M510.1 712.2C510.4 713 511.4 715.8 511.6 716.5M499.9 713C499.6 714.3 498.5 718.9 497.7 721C497 723 495.9 724.5 495.5 725.3M497.7 719.5C495.9 719.5 489.4 719.7 486.8 719.5C484.3 719.2 483.2 718.3 482.5 718M492 717.2C490.4 716.4 484.1 713.1 482.5 712.2" stroke="#2428D8" stroke-width="0.8" fill="none" stroke-linecap="round" stroke-linejoin="round" opacity="0.8"/>
<path d="M514.2 711.9C515.5 712.4 520.3 713.1 521.8 715.1C523.3 717.1 522.9 720.7 523.1 723.9C523.4 727 523.1 732.3 523.1 734M521.8 715.1C523.7 715.4 531.5 716.9 533.4 717.3M528.4 716.1C528.9 717.1 530.8 720.8 531.2 721.7M517.4 714C517 715.7 515.5 722.2 515.2 723.9M523.1 728.7C521.5 729.1 514.8 730.7 513.1 731.1M523.1 730.3C524.3 731.2 528.7 734.6 529.8 735.4" stroke="#C23CC4" stroke-width="0.8" fill="none" stroke-linecap="round" stroke-linejoin="round" opacity="0.8"/>
<circle cx="511.6" cy="709.3" r="3.4" fill="#20E8A0"/>
<text x="510.9" y="720" font-size="8" text-anchor="middle" font-weight="normal" fill="#fff" >10</text>
<text x="507.1" y="727.6" font-size="8" text-anchor="middle" font-weight="normal" fill="#fff" >20</text>
<text x="502.6" y="735.2" font-size="8" text-anchor="middle" font-weight="normal" fill="#fff" >30</text>
</g>
<rect x="573.7" y="652" width="115.3" height="114.5" fill="#000"/>
<g clip-path="url(#c20)">
<path d="M626.5 709.9a4.4 4.4 0 1 0 8.8 0a4.4 4.4 0 1 0 -8.8 0M622.1 709.9a8.8 8.8 0 1 0 17.6 0a8.8 8.8 0 1 0 -17.6 0M617.7 709.9a13.2 13.2 0 1 0 26.4 0a13.2 13.2 0 1 0 -26.4 0M613.3 709.9a17.6 17.6 0 1 0 35.2 0a17.6 17.6 0 1 0 -35.2 0M608.9 709.9a22 22 0 1 0 44 0a22 22 0 1 0 -44 0M604.5 709.9a26.4 26.4 0 1 0 52.8 0a26.4 26.4 0 1 0 -52.8 0M600.1 709.9a30.8 30.8 0 1 0 61.6 0a30.8 30.8 0 1 0 -61.6 0M595.7 709.9a35.2 35.2 0 1 0 70.4 0a35.2 35.2 0 1 0 -70.4 0M591.3 709.9a39.6 39.6 0 1 0 79.2 0a39.6 39.6 0 1 0 -79.2 0M586.9 709.9a44 44 0 1 0 88 0a44 44 0 1 0 -88 0M582.5 709.9a48.4 48.4 0 1 0 96.8 0a48.4 48.4 0 1 0 -96.8 0M578.1 709.9a52.8 52.8 0 1 0 105.6 0a52.8 52.8 0 1 0 -105.6 0M573.7 709.9a57.2 57.2 0 1 0 114.4 0a57.2 57.2 0 1 0 -114.4 0" stroke="#9C1A1A" stroke-width="0.9" fill="none"/>
<path d="M627 707.1C626.4 706.1 624.7 703.2 623.2 701.1C621.6 698.9 619.1 696.6 617.6 694.4C616.2 692.2 614.7 689.8 614.3 687.8C613.9 685.8 614.5 683.9 615.4 682.3C616.3 680.6 618.7 679.3 619.8 677.9C620.9 676.4 621.7 674.2 622 673.4M615.4 682.3C614.9 680.6 612.7 674 612.1 672.3M614.3 687.8C612.3 686.9 604.2 683.2 602.2 682.3M617.6 694.4C615.8 693.7 609 691.1 606.6 690C604.2 688.9 603.8 688.2 603.3 687.8M623.2 701.1C621.5 701.2 616.3 702.9 613.2 702.2C610.1 701.4 607.7 698.1 604.4 696.6C601.1 695.2 596.3 693.7 593.3 693.3C590.4 693 587.8 694.2 586.7 694.4M604.4 696.6C603.4 697 599.8 698.5 598.8 698.8M593.3 693.3C593.6 692 594.6 688 595 685.6C595.3 683.2 595.4 680.1 595.5 679M593.3 693.3C591.3 693 583.2 691.5 581.2 691.1M595 685.6C593.8 685.2 589 683.7 587.8 683.4M595 687.8C592.7 687.8 583.5 687.8 581.2 687.8M614.3 702.2C613 702.9 609.5 706.2 606.6 706.6C603.6 706.9 599.9 704.6 596.6 704.4C593.3 704.2 589.8 704.4 586.7 705.5C583.6 706.6 579.3 710.1 577.8 711M586.7 705.5C585.4 704.9 580.2 702.7 579 702.2M588.9 705.5C588 704.4 584.3 700 583.4 698.8M596.6 704.4C596.1 703.5 593.9 699.8 593.3 698.8M607.7 708.8C606.4 709.5 602.9 711.9 599.9 713.2C597 714.5 593.7 715.2 590 716.5C586.3 717.8 579.9 720.2 577.8 720.9M590 716.5C588.7 718.6 583.6 726.7 582.3 728.7M599.9 713.2C598.8 715.1 594.8 721.1 593.3 724.3C591.8 727.4 591.5 730.7 591.1 732M595.5 720.9C596.6 722.1 601.1 726.5 602.2 727.6M584.5 718.7C583.4 718.2 579 716 577.8 715.4M593.3 724.3C592 723.9 586.9 722.4 585.6 722.1" stroke="#D2302E" stroke-width="0.8" fill="none" stroke-linecap="round" stroke-linejoin="round" opacity="0.8"/>
<path d="M626.5 708.8C625.2 708.2 620.6 705.7 618.7 705.5C616.9 705.3 616.3 706 615.4 707.7C614.5 709.3 614.3 713 613.2 715.4C612.1 717.8 610.1 719.8 608.8 722.1C607.5 724.3 606.4 726.7 605.5 728.7C604.6 730.7 603.6 733.3 603.3 734.2M613.2 715.4C612.1 716.5 607.7 720.9 606.6 722.1M613.2 720.9C613.8 722.1 616 726.5 616.5 727.6M609.9 727.6C610.4 728.9 612.7 734 613.2 735.3M617.6 706.6C618.6 707.3 622.2 710.3 623.2 711" stroke="#E8E8E8" stroke-width="0.8" fill="none" stroke-linecap="round" stroke-linejoin="round" opacity="0.8"/>
<path d="M629.8 713.2C630 714.5 630.9 718.6 630.9 720.9C630.9 723.3 630.3 725.2 629.8 727.6C629.2 730 628.3 732.5 627.6 735.3C626.8 738.1 625.7 742.7 625.4 744.2M630.9 717.6C629.6 718 624.4 719.5 623.2 719.8M628.7 724.3C627.8 726.1 624.1 733.5 623.2 735.3M627.6 736.4C628.3 738.1 631.3 744.7 632 746.4" stroke="#30D2D4" stroke-width="0.8" fill="none" stroke-linecap="round" stroke-linejoin="round" opacity="0.8"/>
<path d="M634.2 713.2C634.9 714.1 637 716.7 638.6 718.7C640.3 720.8 642.3 723.7 644.2 725.4C646 727 646.5 727.4 649.7 728.7C652.8 730 660.7 732.4 662.9 733.1M639.7 718.7C640.7 718.8 644.3 719.2 645.3 719.3M644.2 725.4C643.4 727.8 640.5 737.3 639.7 739.7M649.7 728.7C649.9 730.9 650.6 739.7 650.8 741.9M654.1 730.9C655 732.2 658.7 737.3 659.6 738.6M648.6 726.5C649.9 726.4 655 726 656.3 725.9" stroke="#D8CC34" stroke-width="0.8" fill="none" stroke-linecap="round" stroke-linejoin="round" opacity="0.8"/>
<path d="M635.3 706.6C635.9 705.7 638.3 703.6 638.6 701.1C639 698.5 636.8 693.3 637.5 691.1C638.3 688.9 641.2 688.5 643 687.8C644.9 687.1 647.7 686.9 648.6 686.7M637.5 694.4C636.8 693.7 633.8 690.7 633.1 690M639.7 697.7C642.1 697.2 651.7 695 654.1 694.4M641.9 702.2C644.2 702.7 653 704.9 655.2 705.5M643 705.5C644.7 706.8 651.3 711.9 653 713.2M646.4 695.5C647.5 695 651.9 692.8 653 692.2" stroke="#C23CC4" stroke-width="0.8" fill="none" stroke-linecap="round" stroke-linejoin="round" opacity="0.8"/>
<path d="M631.4 705.5C631.4 704.2 632.3 700.1 631.4 697.7C630.6 695.3 627.9 693.1 626.5 691.1C625.1 689.1 623 687.8 623.2 685.6C623.3 683.4 627 679.7 627.6 677.9C628.1 676 626.7 675.1 626.5 674.5M627.6 680.1C629.8 680 638.6 679.6 640.8 679.5M634.8 674.5C634.5 675.5 633.4 679.1 633.1 680.1M619.8 684.5C620.9 686.3 625.4 693.7 626.5 695.5" stroke="#2428D8" stroke-width="0.8" fill="none" stroke-linecap="round" stroke-linejoin="round" opacity="0.8"/>
<circle cx="630.9" cy="709.9" r="4.2" fill="#20E050"/>
<text x="638.6" y="719.3" font-size="8" text-anchor="middle" font-weight="normal" fill="#fff" >10</text>
<text x="645.8" y="723.7" font-size="8" text-anchor="middle" font-weight="normal" fill="#fff" >20</text>
<text x="652.8" y="727.6" font-size="8" text-anchor="middle" font-weight="normal" fill="#fff" >30</text>
</g>
<rect x="692.5" y="652" width="116.5" height="114.5" fill="#000"/>
<g clip-path="url(#c24)">
<path d="M747.8 714.8a4.2 4.2 0 1 0 8.3 0a4.2 4.2 0 1 0 -8.3 0M743.6 714.8a8.3 8.3 0 1 0 16.6 0a8.3 8.3 0 1 0 -16.6 0M739.4 714.8a12.5 12.5 0 1 0 24.9 0a12.5 12.5 0 1 0 -24.9 0M735.3 714.8a16.6 16.6 0 1 0 33.2 0a16.6 16.6 0 1 0 -33.2 0M731.1 714.8a20.8 20.8 0 1 0 41.5 0a20.8 20.8 0 1 0 -41.5 0M727 714.8a24.9 24.9 0 1 0 49.8 0a24.9 24.9 0 1 0 -49.8 0M722.9 714.8a29.1 29.1 0 1 0 58.1 0a29.1 29.1 0 1 0 -58.1 0M718.7 714.8a33.2 33.2 0 1 0 66.4 0a33.2 33.2 0 1 0 -66.4 0M714.5 714.8a37.4 37.4 0 1 0 74.7 0a37.4 37.4 0 1 0 -74.7 0" stroke="#9C1A1A" stroke-width="0.9" fill="none"/>
<path d="M751.9 714.8C749.9 712.9 743.3 707.2 740.1 703.5C736.9 699.9 733.8 694.7 732.5 692.9M740.1 703.5C740.5 701.5 742.1 693.1 742.5 691M736.3 700C735.1 699.8 730.1 698.8 728.9 698.5M737.7 703.5C735.8 703.7 728.2 704.1 726.3 704.2M745.1 707.2C745.3 706.6 746.1 704.2 746.3 703.5" stroke="#2428D8" stroke-width="0.8" fill="none" stroke-linecap="round" stroke-linejoin="round" opacity="0.8"/>
<path d="M753.8 713.5C754 712.5 756.1 709.9 755 707.2C754 704.5 748.8 699 747.6 697.3M755 707.2C755.9 706.3 758.1 702.8 760 701.7C761.9 700.5 765.2 700.6 766.3 700.4M752.1 700.7C752.6 699.2 754.6 693.2 755 691.7M760 701.7C760.2 700.6 761.1 696.5 761.3 695.4" stroke="#D8CC34" stroke-width="0.8" fill="none" stroke-linecap="round" stroke-linejoin="round" opacity="0.8"/>
<path d="M755 714.8C756.5 714.2 760.9 712.7 763.8 711C766.7 709.4 771.1 705.8 772.5 704.8M763.8 712.4C764.4 712.9 766.9 714.8 767.5 715.3M768.7 709.1C769.8 709.3 773.9 710.2 774.9 710.4" stroke="#C23CC4" stroke-width="0.8" fill="none" stroke-linecap="round" stroke-linejoin="round" opacity="0.8"/>
<path d="M753.8 717.2C754.2 718.9 755.9 725.6 756.3 727.2M755 718.5C756.3 719.1 760.9 720.2 762.5 722.3C764.2 724.4 764.6 729.5 765 731M762.5 722.3C764.4 722.1 771.8 721.2 773.7 721M766.3 723.4C767 724.3 769.9 727.6 770.6 728.5" stroke="#30D2D4" stroke-width="0.8" fill="none" stroke-linecap="round" stroke-linejoin="round" opacity="0.8"/>
<path d="M751.2 716.6C749.3 716.9 744.2 717.6 740.1 718.5C736 719.3 730.1 721 726.3 721.6C722.6 722.3 719.1 722.2 717.6 722.3M736.3 719.1C734.7 721.5 728 731 726.3 733.4M740.1 718.5C739.5 717.3 737 712.8 736.3 711.6M726.3 721.6C725.3 720.9 721.2 718 720.1 717.2M750 718.5C749.4 719.5 748.2 722.6 746.3 724.7C744.5 726.8 740.1 730 738.9 731M746.3 724.7C747.4 725.9 751.5 730.9 752.5 732.2M729.6 727.7C728.2 727.7 722.8 727.7 721.5 727.7" stroke="#D2302E" stroke-width="0.8" fill="none" stroke-linecap="round" stroke-linejoin="round" opacity="0.8"/>
<circle cx="751.9" cy="714.8" r="2.8" fill="#E8E040"/>
<text x="757.6" y="722.8" font-size="8" text-anchor="middle" font-weight="normal" fill="#fff" >10</text>
<text x="764.8" y="727.6" font-size="8" text-anchor="middle" font-weight="normal" fill="#fff" >20</text>
<text x="771.8" y="731.5" font-size="8" text-anchor="middle" font-weight="normal" fill="#fff" >30</text>
</g>
<path d="M237 969.9C238 970.1 241 970.8 243 971.1C245 971.5 247 971.7 249 971.8C251 972 253 971.9 255 972C257 972.1 259 972.4 261 972.4C263 972.5 265 972.1 267 972.2C269 972.2 271 972.5 273 972.7C275 972.9 277 973.1 279 973.4C281 973.6 283 974.2 285 974.3C287 974.4 289 973.8 291 973.9C293 974 295 975 297 975.1C299 975.1 301 974.4 303 974.4C305 974.5 307 975 309 975.2C311 975.3 313 975.3 315 975.5C317 975.7 319 976.5 321 976.6C323 976.7 325 976.1 327 976.1C329 976 331 976.1 333 976.1C335 976 337 975.8 339 975.7C341 975.7 343 976 345 975.9C347 975.9 349 975.7 351 975.5C353 975.4 355 975.2 357 975.2C359 975.2 361 975.5 363 975.4C365 975.3 367 975.1 369 974.8C371 974.6 373 974 375 973.9C377 973.8 379 974.2 381 974.1C383 974.1 385 973.6 387 973.5C389 973.4 391 973.4 393 973.4C395 973.4 397 973.7 399 973.6C401 973.5 403 973 405 972.9C407 972.8 410 972.8 411 972.8M237 969.7C238 969.8 241 970.2 243 970.3C245 970.4 247 970 249 970.2C251 970.4 253 971.2 255 971.5C257 971.7 259 971.8 261 971.8C263 971.9 265 971.8 267 971.9C269 971.9 271 971.7 273 972C275 972.3 277 973.2 279 973.4C281 973.6 283 973 285 973C287 973.1 289 973.8 291 973.9C293 973.9 295 973.6 297 973.6C299 973.6 301 973.8 303 973.9C305 974.1 307 974.5 309 974.7C311 974.8 313 974.9 315 975C317 975.1 319 975.2 321 975.3C323 975.5 325 975.9 327 976C329 976.1 331 976 333 975.9C335 975.8 337 975.4 339 975.3C341 975.2 343 975.5 345 975.5C347 975.5 349 975.2 351 975.1C353 975.1 355 975 357 975.1C359 975.1 361 975.6 363 975.5C365 975.3 367 974.5 369 974.3C371 974.2 373 974.5 375 974.4C377 974.2 379 973.7 381 973.5C383 973.3 385 973.3 387 973.1C389 972.8 391 972.3 393 972.2C395 972 397 972.2 399 972.2C401 972.1 403 972 405 972C407 972 410 972.2 411 972.3M237 971.8C238 971.8 241 972.1 243 972.1C245 972.1 247 971.7 249 971.9C251 972.2 253 973.1 255 973.3C257 973.6 259 973.6 261 973.7C263 973.8 265 973.8 267 974C269 974.1 271 974.4 273 974.5C275 974.5 277 974.2 279 974.3C281 974.3 283 974.6 285 974.8C287 975 289 975.5 291 975.7C293 975.9 295 975.7 297 975.9C299 976 301 976.4 303 976.5C305 976.6 307 976.4 309 976.6C311 976.7 313 977.5 315 977.6C317 977.6 319 976.9 321 976.9C323 976.9 325 977.7 327 977.9C329 978 331 977.8 333 977.7C335 977.5 337 977.1 339 976.8C341 976.6 343 976.4 345 976.4C347 976.4 349 976.7 351 976.8C353 976.9 355 976.9 357 976.9C359 976.8 361 976.6 363 976.4C365 976.2 367 975.8 369 975.6C371 975.4 373 975.3 375 975.2C377 975.2 379 975.4 381 975.2C383 975 385 974 387 973.9C389 973.8 391 974.8 393 974.8C395 974.9 397 974.1 399 973.9C401 973.7 403 973.8 405 973.8C407 973.7 410 973.6 411 973.6" stroke="#000" stroke-width="7" fill="none" stroke-linecap="round" stroke-linejoin="round"/>
<g stroke="#000" stroke-linecap="round" fill="#000"><path d="M406.8 972.7L409.7 978.3" stroke-width="3"/><path d="M306.6 975.1L305 980.4" stroke-width="2"/><path d="M319.6 976L320.3 968.9" stroke-width="2"/><path d="M288.3 974L283.7 978.9" stroke-width="1.6"/><path d="M264.3 972.1L260.6 967.6" stroke-width="1.5"/><path d="M273.6 972.9L273.4 980.2" stroke-width="1.8"/><path d="M290.3 974L287.6 979.6" stroke-width="2.2"/><path d="M245.9 970.7L246.9 964.2" stroke-width="2.8"/><path d="M333.5 975.8L339.5 970.8" stroke-width="2.2"/><path d="M396.7 972.9L390 968" stroke-width="2.5"/><path d="M402.2 972.8L398.5 980" stroke-width="1.6"/><path d="M284.5 973.8L287.5 966" stroke-width="2.7"/><path d="M264.1 972.1L267.9 976.1" stroke-width="2"/><path d="M329.9 975.9L333.1 969.2" stroke-width="1.8"/><path d="M372.8 974.4L372.2 968.8" stroke-width="1.8"/><path d="M361.3 975.3L356.4 970.1" stroke-width="1.5"/><path d="M326 976L327 969.1" stroke-width="1.7"/><path d="M343.5 975.6L349 971.7" stroke-width="1.7"/><path d="M329.8 975.9L327.4 970.2" stroke-width="2.6"/><path d="M264.9 972.1L262.6 977.9" stroke-width="2.1"/><path d="M308.8 975.3L308.7 968.3" stroke-width="1.8"/><path d="M394.2 973L391.1 978.3" stroke-width="2.3"/><path d="M261 972L256.8 979.1" stroke-width="2.2"/><path d="M284.1 973.8L283.5 967.4" stroke-width="1.8"/><path d="M405 972.8L409.3 976.4" stroke-width="1.5"/><path d="M381.8 973.4L380.7 966" stroke-width="2.6"/><path d="M379.5 973.7L381.7 967.7" stroke-width="2.1"/><path d="M327.3 976L329.6 981.7" stroke-width="2.8"/><path d="M248.2 971L250.4 965.9" stroke-width="2.5"/><path d="M345.6 975.5L343.8 968.8" stroke-width="2.7"/><path d="M366 975.1L371.4 980.7" stroke-width="1.6"/><path d="M390.4 973L393.2 978.9" stroke-width="2.1"/><path d="M333.9 975.8L339.1 969.7" stroke-width="2.6"/><path d="M402.8 972.8L398.8 980" stroke-width="1.6"/><path d="M338.9 975.7L334.2 969.3" stroke-width="1.7"/><path d="M329.5 975.9L330.3 968.3" stroke-width="1.6"/><path d="M380.3 973.6L381.7 966.8" stroke-width="3"/><path d="M324.3 976L321.1 981.1" stroke-width="2.7"/><path d="M353.3 975.4L357.8 972" stroke-width="1.9"/><path d="M347.3 975.5L351.1 982.6" stroke-width="2"/><path d="M338.3 975.7L332.3 981.1" stroke-width="2.1"/><path d="M402.7 972.8L397.9 976.5" stroke-width="2.9"/><path d="M240.9 970.2L241.3 962.2" stroke-width="2.7"/><path d="M323.4 976L319.6 971.7" stroke-width="2.9"/><path d="M306.8 975.1L304.1 968.2" stroke-width="2.3"/><path d="M249.4 971.1L247.8 978.5" stroke-width="1.8"/><path d="M386.3 973.1L383.2 978.3" stroke-width="1.6"/><path d="M273.3 972.8L271 978.6" stroke-width="2"/><path d="M391.3 973L388.9 966.6" stroke-width="1.6"/><path d="M299.7 974.4L302.1 968.4" stroke-width="1.6"/><path d="M295 974.1L289.1 968.9" stroke-width="2.2"/><path d="M276.2 973.1L280.3 968.9" stroke-width="2.3"/><path d="M256.5 971.9L254.5 964.8" stroke-width="2.9"/><path d="M353.5 975.4L355 981.7" stroke-width="1.7"/><path d="M327.6 976L326.9 970.3" stroke-width="2"/><path d="M272.4 972.7L269.5 977.7" stroke-width="2.5"/><path d="M285.7 973.9L290.7 977.6" stroke-width="2.6"/><path d="M288.1 974L292.8 978.5" stroke-width="1.6"/><path d="M304.4 974.9L302 980" stroke-width="1.7"/><path d="M363.2 975.2L366.3 979.9" stroke-width="2.2"/><path d="M266.5 972.2L270.3 977.7" stroke-width="2.9"/><path d="M252 971.4L256.1 966.4" stroke-width="3"/><path d="M265.9 972.2L268.5 965.3" stroke-width="2.6"/><path d="M362.4 975.3L360.4 968.2" stroke-width="2.5"/><path d="M311.1 975.5L315.2 970.9" stroke-width="1.8"/><path d="M311.4 975.5L307.1 981.1" stroke-width="2"/><path d="M252.4 971.5L252.5 964.8" stroke-width="2.3"/><path d="M384.7 973.2L384.4 980.3" stroke-width="2.6"/><path d="M270.3 972.5L272.5 967.3" stroke-width="2.9"/><path d="M342.2 975.6L338.2 971" stroke-width="1.9"/><path d="M275.4 973L275.3 965.9" stroke-width="1.7"/><path d="M387.5 973L384.4 978.5" stroke-width="1.9"/><path d="M386 973.1L384.5 980.9" stroke-width="2.8"/><path d="M388.9 973L383.2 978.7" stroke-width="2.5"/><path d="M370.7 974.6L372.4 969" stroke-width="2.2"/><path d="M371.9 974.5L368.2 981.2" stroke-width="2.7"/><path d="M362.8 975.2L360.8 969.6" stroke-width="2.4"/><path d="M352.2 975.4L347.9 968.8" stroke-width="1.8"/><path d="M332 975.9L336.7 968.9" stroke-width="2"/><path d="M297.4 974.3L291.3 979.9" stroke-width="1.8"/><path d="M340.7 975.7L345 981.7" stroke-width="3"/><path d="M328.8 975.9L334.6 971" stroke-width="2.9"/><path d="M281.8 973.6L281.3 966" stroke-width="1.7"/><path d="M306.5 975L302.2 978.8" stroke-width="1.7"/><path d="M333.4 975.8L329.3 970.1" stroke-width="1.9"/><path d="M284.4 973.8L289.5 978.5" stroke-width="2.2"/><path d="M264.4 972.1L263.6 980.5" stroke-width="2.5"/><path d="M358 975.3L355 983.2" stroke-width="2.1"/><path d="M390.5 973L386 978.4" stroke-width="2.7"/><path d="M320.8 976L318.1 982.8" stroke-width="2.2"/><path d="M360.3 975.3L357.7 968.5" stroke-width="2.9"/><path d="M350.5 975.4L347.4 981.6" stroke-width="1.9"/><path d="M383.5 973.3L383.1 967.1" stroke-width="2"/><path d="M277.7 973.3L281.4 980.5" stroke-width="2"/><path d="M409.4 972.7L405.3 978.4" stroke-width="2.3"/><path d="M311.3 975.5L315.5 981.1" stroke-width="2.1"/><path d="M367.8 974.9L373.3 980.2" stroke-width="1.5"/><path d="M277.3 973.2L275.3 967.5" stroke-width="1.5"/><path d="M248.9 971.1L244 975" stroke-width="2.4"/><path d="M314 975.7L319.6 980.2" stroke-width="2.7"/><path d="M406.8 972.7L407.1 980.3" stroke-width="2.8"/><path d="M246.9 970.8L251.8 967.3" stroke-width="2.6"/><path d="M291.5 974L296.2 967.8" stroke-width="2.1"/><path d="M276.9 973.2L271.3 978" stroke-width="2.2"/><path d="M293.5 974.1L292.9 980" stroke-width="2.6"/><path d="M298 974.3L297.8 981.3" stroke-width="1.8"/><path d="M321.7 976L327.3 980.8" stroke-width="2.2"/><path d="M375.4 974.1L378.1 982.1" stroke-width="3"/><path d="M343.3 975.6L347.9 982.7" stroke-width="2.9"/><path d="M340.8 975.7L341.1 967.8" stroke-width="2.9"/><path d="M320.7 976L322.5 970.3" stroke-width="1.7"/><path d="M299.4 974.4L295.7 978.9" stroke-width="2"/><path d="M261 972L260.1 966.6" stroke-width="2.9"/><path d="M241.9 970.2L235.9 975.1" stroke-width="2.7"/><path d="M335.7 975.8L336.5 983.8" stroke-width="2.2"/><path d="M315.3 975.8L311.1 971.5" stroke-width="2.5"/><path d="M300.7 974.5L297 969.2" stroke-width="2.2"/><path d="M361.2 975.3L363.2 970" stroke-width="2.6"/><path d="M262.1 972L257.6 978.4" stroke-width="2.9"/><path d="M359.6 975.3L357.8 969.3" stroke-width="2.4"/><path d="M361 975.3L358.3 980.7" stroke-width="1.9"/><path d="M374 974.3L374.2 968.2" stroke-width="2.1"/><path d="M375 974.2L372.4 968.1" stroke-width="2.9"/><path d="M371.9 974.5L374.4 967.6" stroke-width="2.1"/><path d="M262.9 972.1L263.5 965.2" stroke-width="2.3"/><path d="M257.8 971.9L261.2 977.7" stroke-width="3"/><path d="M298.8 974.4L294 979" stroke-width="2.6"/><path d="M367.3 975L366.3 966.9" stroke-width="2.2"/><path d="M407.8 972.7L405.6 966.8" stroke-width="2.4"/><path d="M304 974.8L301.5 968.2" stroke-width="2.4"/><path d="M346.1 975.5L344.2 981.4" stroke-width="2"/><path d="M357.5 975.3L355 982.3" stroke-width="2.9"/><path d="M331.7 975.9L331 982.2" stroke-width="2.2"/><path d="M258 972L262.3 968.2" stroke-width="1.6"/><path d="M242 970.2L242.4 962.1" stroke-width="2.5"/><path d="M400.7 972.9L402.9 967" stroke-width="1.9"/><path d="M381.2 973.5L379.7 979.6" stroke-width="2.1"/><path d="M405.1 972.8L399.9 966.5" stroke-width="2.3"/><path d="M382.3 973.4L384.6 980.4" stroke-width="2.9"/><path d="M364.1 975.2L364 981" stroke-width="2.5"/><path d="M255.1 971.8L251.5 977" stroke-width="2.6"/><path d="M400.5 972.9L400.2 980.5" stroke-width="2"/><path d="M373.4 974.3L374.5 966.9" stroke-width="2.5"/><path d="M387.4 973L385.1 966.6" stroke-width="1.7"/><path d="M252.1 971.5L256.4 977.2" stroke-width="1.9"/><path d="M356.3 975.3L353.4 983" stroke-width="1.6"/><path d="M319.7 976L315.5 969.6" stroke-width="2.2"/><path d="M334.2 975.8L339.5 980.2" stroke-width="2.3"/><path d="M296.4 974.2L295.9 981.2" stroke-width="2.5"/><path d="M365.3 975.1L368.1 969" stroke-width="1.6"/><path d="M333.8 975.8L330 969.7" stroke-width="3"/><path d="M286.4 973.9L291.3 967.3" stroke-width="2.1"/><path d="M369.7 974.7L367.9 968.3" stroke-width="2"/><path d="M266.1 972.2L265.4 980.4" stroke-width="2"/><path d="M239.5 970.1L242.6 962.3" stroke-width="1.6"/><path d="M370.9 974.6L374.9 979.5" stroke-width="2.6"/><path d="M256 971.8L260 965.1" stroke-width="2.2"/><path d="M388.8 973L384.1 976.4" stroke-width="2.1"/><path d="M247.1 970.8L250.5 964.5" stroke-width="2.5"/><path d="M310.7 975.4L314 969.6" stroke-width="2.3"/><path d="M286.3 973.9L286.2 966.7" stroke-width="2.9"/><path d="M367.2 975L369.5 969.7" stroke-width="2.7"/><path d="M245.7 970.6L248.7 975.6" stroke-width="2.6"/><path d="M300.9 974.5L299.7 980.1" stroke-width="2.7"/><path d="M345.2 975.5L348 981.5" stroke-width="1.8"/><path d="M373.9 974.3L368.6 968.8" stroke-width="2.9"/><path d="M281 973.6L281.8 981.6" stroke-width="2.1"/><path d="M402.2 972.8L401.4 980.9" stroke-width="2.9"/><path d="M371.4 974.6L378.2 969.7" stroke-width="2.8"/><path d="M279 973.4L280.1 979.4" stroke-width="1.6"/><path d="M306.8 975.1L308.3 983.4" stroke-width="2.5"/><path d="M341.6 975.6L344.2 981.1" stroke-width="2.1"/><path d="M374.8 974.2L378.8 981.5" stroke-width="1.7"/><path d="M357.2 975.3L360.4 981.9" stroke-width="2"/><path d="M348.6 975.5L344.9 982.6" stroke-width="2.9"/><path d="M270.6 972.6L275.1 967.2" stroke-width="2.3"/><path d="M311.5 975.5L310.7 969.7" stroke-width="2.4"/><path d="M381.2 973.5L385.9 978.7" stroke-width="2.6"/><path d="M349.2 975.4L346.9 968.5" stroke-width="3"/><path d="M380 973.6L374.7 977.8" stroke-width="2.2"/><path d="M360.6 975.3L358.3 981.4" stroke-width="1.7"/><path d="M388.9 973L388.3 967" stroke-width="1.9"/><path d="M293.9 974.1L292.3 966.7" stroke-width="1.9"/><path d="M398.8 972.9L403.4 968.1" stroke-width="1.6"/><path d="M280 973.5L277 967.2" stroke-width="1.9"/><path d="M339.6 975.7L335.1 978.9" stroke-width="2.5"/><path d="M365.2 975.1L365 981" stroke-width="2.9"/><path d="M345.9 975.5L340.8 970" stroke-width="2.1"/><path d="M308.1 975.2L305.1 969" stroke-width="2.6"/><path d="M370.7 974.6L373.8 980.3" stroke-width="2.2"/><circle cx="409.7" cy="978.3" r="1.8"/><circle cx="283.7" cy="978.9" r="1"/><circle cx="273.4" cy="980.2" r="1.5"/><circle cx="287.6" cy="979.6" r="1.5"/><circle cx="246.9" cy="964.2" r="1.7"/><circle cx="287.5" cy="966" r="2.4"/><circle cx="327" cy="969.1" r="1"/><circle cx="349" cy="971.7" r="1.2"/><circle cx="327.4" cy="970.2" r="2.1"/><circle cx="262.6" cy="977.9" r="1.5"/><circle cx="308.7" cy="968.3" r="1.1"/><circle cx="391.1" cy="978.3" r="2.2"/><circle cx="283.5" cy="967.4" r="1.4"/><circle cx="409.3" cy="976.4" r="1.5"/><circle cx="380.7" cy="966" r="2"/><circle cx="250.4" cy="965.9" r="2.2"/><circle cx="334.2" cy="969.3" r="1.5"/><circle cx="330.3" cy="968.3" r="1.3"/><circle cx="381.7" cy="966.8" r="2"/><circle cx="321.1" cy="981.1" r="1.9"/><circle cx="332.3" cy="981.1" r="1.5"/><circle cx="241.3" cy="962.2" r="1.8"/><circle cx="383.2" cy="978.3" r="1.4"/><circle cx="271" cy="978.6" r="1.6"/><circle cx="302.1" cy="968.4" r="1.2"/><circle cx="289.1" cy="968.9" r="1.6"/><circle cx="280.3" cy="968.9" r="2.1"/><circle cx="269.5" cy="977.7" r="1.8"/><circle cx="302" cy="980" r="1.3"/><circle cx="366.3" cy="979.9" r="1.8"/><circle cx="268.5" cy="965.3" r="2.4"/><circle cx="360.4" cy="968.2" r="2.1"/><circle cx="315.2" cy="970.9" r="1.4"/><circle cx="252.5" cy="964.8" r="2"/><circle cx="384.4" cy="980.3" r="2.2"/><circle cx="338.2" cy="971" r="1.1"/><circle cx="384.4" cy="978.5" r="1.8"/><circle cx="384.5" cy="980.9" r="1.7"/><circle cx="372.4" cy="969" r="2"/><circle cx="360.8" cy="969.6" r="2.2"/><circle cx="347.9" cy="968.8" r="1.5"/><circle cx="336.7" cy="968.9" r="1.4"/><circle cx="291.3" cy="979.9" r="1.4"/><circle cx="345" cy="981.7" r="2.1"/><circle cx="334.6" cy="971" r="2.6"/><circle cx="302.2" cy="978.8" r="1.1"/><circle cx="329.3" cy="970.1" r="1.3"/><circle cx="355" cy="983.2" r="1.4"/><circle cx="386" cy="978.4" r="1.9"/><circle cx="318.1" cy="982.8" r="1.6"/><circle cx="281.4" cy="980.5" r="1.6"/><circle cx="405.3" cy="978.4" r="2.3"/><circle cx="315.5" cy="981.1" r="1.7"/><circle cx="319.6" cy="980.2" r="2.5"/><circle cx="296.2" cy="967.8" r="1.3"/><circle cx="327.3" cy="980.8" r="1.6"/><circle cx="378.1" cy="982.1" r="2.1"/><circle cx="322.5" cy="970.3" r="1"/><circle cx="260.1" cy="966.6" r="2.3"/><circle cx="297" cy="969.2" r="1.8"/><circle cx="363.2" cy="970" r="2.3"/><circle cx="257.6" cy="978.4" r="1.8"/><circle cx="357.8" cy="969.3" r="1.8"/><circle cx="374.2" cy="968.2" r="1.8"/><circle cx="374.4" cy="967.6" r="2"/><circle cx="261.2" cy="977.7" r="2.2"/><circle cx="294" cy="979" r="2.2"/><circle cx="405.6" cy="966.8" r="2.2"/><circle cx="301.5" cy="968.2" r="2.2"/><circle cx="355" cy="982.3" r="2.1"/><circle cx="262.3" cy="968.2" r="1.2"/><circle cx="242.4" cy="962.1" r="1.7"/><circle cx="399.9" cy="966.5" r="2.2"/><circle cx="384.6" cy="980.4" r="2.4"/><circle cx="364" cy="981" r="1.5"/><circle cx="400.2" cy="980.5" r="1.9"/><circle cx="374.5" cy="966.9" r="1.6"/><circle cx="353.4" cy="983" r="1.1"/><circle cx="368.1" cy="969" r="1.1"/><circle cx="291.3" cy="967.3" r="1.9"/><circle cx="265.4" cy="980.4" r="1.5"/><circle cx="314" cy="969.6" r="1.5"/><circle cx="299.7" cy="980.1" r="1.6"/><circle cx="368.6" cy="968.8" r="2"/><circle cx="378.2" cy="969.7" r="2.1"/><circle cx="280.1" cy="979.4" r="1.2"/><circle cx="308.3" cy="983.4" r="2.2"/><circle cx="344.2" cy="981.1" r="1.5"/><circle cx="344.9" cy="982.6" r="2.4"/><circle cx="275.1" cy="967.2" r="1.5"/><circle cx="310.7" cy="969.7" r="2.1"/><circle cx="374.7" cy="977.8" r="2"/><circle cx="358.3" cy="981.4" r="1.3"/><circle cx="292.3" cy="966.7" r="1.7"/><circle cx="403.4" cy="968.1" r="1.2"/><circle cx="277" cy="967.2" r="1.8"/><circle cx="335.1" cy="978.9" r="2.3"/><circle cx="365" cy="981" r="1.8"/><circle cx="305.1" cy="969" r="1.6"/></g>
<path d="M236 1011.6C237 1011.6 240 1011.3 242 1011.7C244 1012.1 246 1013.2 248 1013.8C250 1014.4 252 1014.9 254 1015.3C256 1015.7 258 1015.9 260 1016.2C262 1016.4 264 1016.5 266 1016.6C268 1016.7 270 1016.7 272 1016.7C274 1016.6 276 1016.2 278 1016.3C280 1016.3 282 1016.9 284 1017.1C286 1017.3 288 1017.3 290 1017.4C292 1017.5 294 1017.4 296 1017.4C298 1017.5 300 1017.9 302 1017.9C304 1017.9 306 1017.6 308 1017.4C310 1017.2 312 1016.8 314 1016.6C316 1016.4 318 1016.2 320 1016.1C322 1016 324 1015.9 326 1016C328 1016.1 330 1016.6 332 1016.7C334 1016.8 336 1016.6 338 1016.5C340 1016.4 342 1016.3 344 1016.3C346 1016.2 348 1016 350 1016C352 1015.9 354 1016 356 1016C358 1015.9 360 1015.6 362 1015.6C364 1015.5 366 1015.7 368 1015.5C370 1015.3 372 1014.5 374 1014.3C376 1014.1 378 1014.3 380 1014.3C382 1014.3 384 1014.1 386 1014.1C388 1014.1 390 1014.3 392 1014.3C394 1014.4 396 1014.2 398 1014.2C400 1014.2 402 1014.3 404 1014.4C406 1014.6 409 1014.9 410 1015M236 1012.3C237 1012.5 240 1012.9 242 1013.2C244 1013.6 246 1013.9 248 1014.3C250 1014.8 252 1015.4 254 1015.9C256 1016.5 258 1017.5 260 1017.6C262 1017.8 264 1017 266 1016.9C268 1016.8 270 1017 272 1017.1C274 1017.2 276 1017.6 278 1017.8C280 1017.9 282 1018 284 1018.1C286 1018.1 288 1018 290 1018C292 1018.1 294 1018.3 296 1018.3C298 1018.4 300 1018.2 302 1018.2C304 1018.2 306 1018.2 308 1018.2C310 1018.2 312 1018.1 314 1018.1C316 1018 318 1017.8 320 1017.7C322 1017.6 324 1017.5 326 1017.5C328 1017.4 330 1017.1 332 1017.2C334 1017.2 336 1017.7 338 1017.6C340 1017.6 342 1017 344 1016.9C346 1016.8 348 1017 350 1017C352 1017.1 354 1017.3 356 1017.3C358 1017.2 360 1017.2 362 1017C364 1016.8 366 1016.4 368 1016.2C370 1016 372 1016.1 374 1015.9C376 1015.7 378 1015.2 380 1015.1C382 1015 384 1015.3 386 1015.3C388 1015.3 390 1015.1 392 1015.2C394 1015.2 396 1015.2 398 1015.4C400 1015.6 402 1016.2 404 1016.4C406 1016.5 409 1016.1 410 1016.1M236 1012.4C237 1012.5 240 1012.8 242 1013C244 1013.2 246 1013.2 248 1013.6C250 1013.9 252 1014.5 254 1015.1C256 1015.7 258 1016.8 260 1017.1C262 1017.5 264 1017.4 266 1017.3C268 1017.3 270 1016.9 272 1016.9C274 1016.8 276 1016.8 278 1016.9C280 1017 282 1017.5 284 1017.7C286 1017.9 288 1018.2 290 1018.2C292 1018.2 294 1017.5 296 1017.5C298 1017.4 300 1017.7 302 1017.8C304 1017.8 306 1017.9 308 1017.7C310 1017.6 312 1017 314 1016.8C316 1016.6 318 1016.8 320 1016.8C322 1016.7 324 1016.4 326 1016.4C328 1016.4 330 1016.7 332 1016.7C334 1016.7 336 1016.4 338 1016.3C340 1016.2 342 1016 344 1016C346 1016 348 1016.3 350 1016.3C352 1016.3 354 1016 356 1015.9C358 1015.9 360 1015.9 362 1015.8C364 1015.8 366 1015.6 368 1015.4C370 1015.3 372 1015.2 374 1015.1C376 1014.9 378 1014.4 380 1014.3C382 1014.3 384 1014.6 386 1014.6C388 1014.6 390 1014.4 392 1014.4C394 1014.4 396 1014.5 398 1014.6C400 1014.7 402 1014.8 404 1014.9C406 1015.1 409 1015.3 410 1015.4" stroke="#000" stroke-width="4.2" fill="none" stroke-linecap="round" stroke-linejoin="round"/>
<g stroke="#000" stroke-linecap="round" fill="#000"><path d="M366.6 1016.2L362.7 1013.1" stroke-width="2.5"/><path d="M336.9 1016.8L338.3 1011.9" stroke-width="1.5"/><path d="M305.4 1017.8L308.8 1021.9" stroke-width="2"/><path d="M401.2 1015.3L404.4 1007.5" stroke-width="2.3"/><path d="M285.4 1017.7L288.8 1010.4" stroke-width="1.5"/><path d="M262.6 1017L260.3 1022.4" stroke-width="2.4"/><path d="M332 1016.9L327.6 1021.2" stroke-width="1.7"/><path d="M338.8 1016.8L335.5 1020.2" stroke-width="2.8"/><path d="M272 1017.2L275.5 1010.6" stroke-width="2.7"/><path d="M334.3 1016.9L334 1011.6" stroke-width="2.7"/><path d="M359.3 1016.5L358.9 1020.9" stroke-width="2.4"/><path d="M350.2 1016.6L355.7 1011.3" stroke-width="2.4"/><path d="M306.7 1017.8L310.3 1022.1" stroke-width="2.1"/><path d="M279.5 1017.4L277.6 1023" stroke-width="1.5"/><path d="M298.1 1018L299.5 1010.6" stroke-width="2"/><path d="M242.4 1012.7L247.6 1005.9" stroke-width="2.1"/><path d="M247.7 1014L242 1018.6" stroke-width="1.5"/><path d="M407.8 1015.7L405.6 1011.3" stroke-width="1.8"/><path d="M357 1016.5L361.3 1011" stroke-width="1.8"/><path d="M386.4 1014.5L389 1020.4" stroke-width="1.7"/><path d="M332.1 1016.9L334.8 1009.6" stroke-width="2.5"/><path d="M407.3 1015.7L406.2 1021.5" stroke-width="2.3"/><path d="M358.9 1016.5L359 1022.9" stroke-width="2.5"/><path d="M325.1 1017L323.7 1012.7" stroke-width="2"/><path d="M251.8 1015.2L251.8 1010" stroke-width="2.7"/><path d="M255.5 1016.1L252.9 1008.7" stroke-width="2.1"/><path d="M363.2 1016.4L360.5 1012" stroke-width="1.9"/><path d="M395.6 1014.9L390.9 1010.4" stroke-width="2.5"/><path d="M398.3 1015.1L399.7 1020.9" stroke-width="1.4"/><path d="M243 1012.9L245 1019.4" stroke-width="2.2"/><path d="M350.2 1016.6L348.1 1012.1" stroke-width="2.5"/><path d="M304.1 1017.9L308.7 1024.5" stroke-width="2"/><path d="M287.8 1017.8L288.4 1025.6" stroke-width="2.1"/><path d="M397 1015L402 1022" stroke-width="2.7"/><path d="M342 1016.7L346.6 1009.8" stroke-width="1.4"/><path d="M317.2 1017.1L317.4 1012.3" stroke-width="2.3"/><path d="M338.4 1016.8L338.7 1024.9" stroke-width="2.2"/><path d="M267.2 1017L263.6 1020.4" stroke-width="1.7"/><path d="M317 1017.1L321.6 1021.7" stroke-width="2.1"/><path d="M367.2 1016.1L360.9 1010.6" stroke-width="2.4"/><path d="M290.4 1017.8L286.4 1023.4" stroke-width="1.7"/><path d="M348.3 1016.6L351.4 1022.1" stroke-width="2.3"/><path d="M383.3 1014.5L384.3 1020.1" stroke-width="2.3"/><path d="M286.5 1017.7L280.5 1023.3" stroke-width="2.4"/><path d="M305.3 1017.9L299.7 1013.5" stroke-width="2.8"/><path d="M390.3 1014.6L385.2 1009" stroke-width="2.7"/><path d="M401 1015.3L405.6 1010.3" stroke-width="2.6"/><path d="M302.9 1018L305.3 1012.2" stroke-width="2.2"/><path d="M375.6 1015.1L369.2 1009.8" stroke-width="2"/><path d="M396.3 1015L394 1018.7" stroke-width="2.1"/><path d="M371.5 1015.6L371.8 1010.8" stroke-width="2"/><path d="M376.7 1015L374.9 1022.5" stroke-width="1.8"/><path d="M376.1 1015.1L380.9 1021.9" stroke-width="1.7"/><path d="M251.8 1015.2L254.7 1010.9" stroke-width="2.8"/><path d="M410.8 1015.8L414.3 1020.7" stroke-width="2.2"/><path d="M349.7 1016.6L347.5 1021.5" stroke-width="1.5"/><path d="M278.2 1017.4L281.7 1023.1" stroke-width="2.1"/><path d="M400.3 1015.2L403.9 1020.1" stroke-width="1.7"/><path d="M350.8 1016.6L355.1 1013.6" stroke-width="2.4"/><path d="M242.7 1012.8L241.3 1005.8" stroke-width="1.7"/><path d="M405.5 1015.6L402.2 1009.4" stroke-width="2.4"/><path d="M270.6 1017.1L266.6 1023.8" stroke-width="2.6"/><path d="M283.8 1017.6L285.6 1026" stroke-width="2.4"/><path d="M313.6 1017.3L313.9 1011.2" stroke-width="2"/><path d="M378.2 1014.9L376.6 1010.6" stroke-width="2.1"/><path d="M276.5 1017.3L273.7 1022.7" stroke-width="2"/><path d="M275.9 1017.3L274 1011.1" stroke-width="2.7"/><path d="M240.8 1012.4L246 1019.3" stroke-width="1.8"/><path d="M406.8 1015.6L400.3 1020.6" stroke-width="1.9"/><path d="M317.6 1017.1L320.8 1019.7" stroke-width="1.6"/><path d="M366.5 1016.2L368.1 1010" stroke-width="2.2"/><path d="M259.4 1016.8L260.4 1021.2" stroke-width="2.7"/><path d="M254.7 1015.9L255.9 1021.4" stroke-width="2.2"/><path d="M399.9 1015.2L396.7 1019" stroke-width="2.1"/><path d="M385.8 1014.5L384.4 1020" stroke-width="1.9"/><circle cx="338.3" cy="1011.9" r="1.4"/><circle cx="308.8" cy="1021.9" r="1.5"/><circle cx="404.4" cy="1007.5" r="2.1"/><circle cx="288.8" cy="1010.4" r="1.5"/><circle cx="260.3" cy="1022.4" r="2.2"/><circle cx="327.6" cy="1021.2" r="1.1"/><circle cx="275.5" cy="1010.6" r="2.2"/><circle cx="358.9" cy="1020.9" r="2.1"/><circle cx="310.3" cy="1022.1" r="2"/><circle cx="299.5" cy="1010.6" r="2"/><circle cx="242" cy="1018.6" r="1.3"/><circle cx="361.3" cy="1011" r="1.7"/><circle cx="389" cy="1020.4" r="1.5"/><circle cx="359" cy="1022.9" r="2.4"/><circle cx="251.8" cy="1010" r="2.4"/><circle cx="245" cy="1019.4" r="1.5"/><circle cx="348.1" cy="1012.1" r="2.4"/><circle cx="308.7" cy="1024.5" r="1.9"/><circle cx="288.4" cy="1025.6" r="1.9"/><circle cx="338.7" cy="1024.9" r="2.1"/><circle cx="321.6" cy="1021.7" r="1.3"/><circle cx="351.4" cy="1022.1" r="1.7"/><circle cx="384.3" cy="1020.1" r="2.2"/><circle cx="299.7" cy="1013.5" r="2.6"/><circle cx="369.2" cy="1009.8" r="1.5"/><circle cx="374.9" cy="1022.5" r="1.1"/><circle cx="380.9" cy="1021.9" r="1.5"/><circle cx="254.7" cy="1010.9" r="2.3"/><circle cx="403.9" cy="1020.1" r="1.5"/><circle cx="241.3" cy="1005.8" r="1.1"/><circle cx="402.2" cy="1009.4" r="1.6"/><circle cx="266.6" cy="1023.8" r="1.9"/><circle cx="285.6" cy="1026" r="2"/><circle cx="376.6" cy="1010.6" r="1.8"/><circle cx="273.7" cy="1022.7" r="1.7"/><circle cx="246" cy="1019.3" r="1.5"/><circle cx="368.1" cy="1010" r="1.5"/><circle cx="260.4" cy="1021.2" r="2.4"/><circle cx="255.9" cy="1021.4" r="1.9"/><circle cx="396.7" cy="1019" r="1.3"/><circle cx="384.4" cy="1020" r="1.7"/></g>
<path d="M236 1060.1C237 1060.2 240 1060.4 242 1060.5C244 1060.6 246 1060.8 248 1060.8C250 1060.8 252 1060.5 254 1060.5C256 1060.5 258 1060.6 260 1060.8C262 1061 264 1061.7 266 1061.8C268 1061.9 270 1061.5 272 1061.5C274 1061.6 276 1061.8 278 1062C280 1062.2 282 1062.5 284 1062.7C286 1062.8 288 1063 290 1063C292 1062.9 294 1062.5 296 1062.5C298 1062.5 300 1062.8 302 1063C304 1063.2 306 1063.4 308 1063.7C310 1064 312 1064.7 314 1064.8C316 1064.9 318 1064.1 320 1064.1C322 1064 324 1064.3 326 1064.3C328 1064.3 330 1064.1 332 1064C334 1064 336 1063.9 338 1063.9C340 1063.9 342 1064.2 344 1064.2C346 1064.1 348 1063.7 350 1063.6C352 1063.5 354 1063.7 356 1063.8C358 1063.8 360 1064.2 362 1064C364 1063.7 366 1063.1 368 1062.3C370 1061.5 372 1060 374 1059.2C376 1058.4 378 1057.8 380 1057.3C382 1056.8 384 1056.6 386 1056.2C388 1055.8 390 1055.9 392 1055.1C394 1054.4 396 1052.8 398 1051.8C400 1050.8 402 1049.9 404 1049.2C406 1048.5 409 1047.9 410 1047.7M236 1060.2C237 1060.2 240 1060.2 242 1060.1C244 1060.1 246 1060.1 248 1060.1C250 1060.2 252 1060.4 254 1060.5C256 1060.7 258 1060.6 260 1060.9C262 1061.1 264 1061.9 266 1062.2C268 1062.4 270 1062.3 272 1062.4C274 1062.4 276 1062.6 278 1062.5C280 1062.5 282 1062.1 284 1062.2C286 1062.2 288 1062.6 290 1062.7C292 1062.8 294 1062.5 296 1062.6C298 1062.8 300 1063.2 302 1063.4C304 1063.5 306 1063.4 308 1063.5C310 1063.6 312 1064.1 314 1064.2C316 1064.4 318 1064.3 320 1064.3C322 1064.2 324 1064 326 1064.1C328 1064.2 330 1065 332 1064.9C334 1064.9 336 1063.9 338 1063.8C340 1063.7 342 1064.4 344 1064.5C346 1064.5 348 1064.3 350 1064.1C352 1064 354 1063.4 356 1063.3C358 1063.2 360 1063.7 362 1063.6C364 1063.5 366 1063.1 368 1062.5C370 1061.9 372 1060.7 374 1059.8C376 1058.9 378 1057.5 380 1056.9C382 1056.4 384 1056.7 386 1056.4C388 1056 390 1055.7 392 1054.9C394 1054.1 396 1052.7 398 1051.8C400 1050.9 402 1050.1 404 1049.4C406 1048.7 409 1047.9 410 1047.6M236 1059.1C237 1059.1 240 1058.7 242 1058.8C244 1058.8 246 1059.4 248 1059.4C250 1059.4 252 1058.9 254 1059C256 1059 258 1059.7 260 1059.8C262 1059.9 264 1059.6 266 1059.7C268 1059.9 270 1060.5 272 1060.7C274 1061 276 1061.2 278 1061.2C280 1061.2 282 1060.9 284 1060.9C286 1060.9 288 1061 290 1061.2C292 1061.3 294 1061.6 296 1061.7C298 1061.8 300 1061.6 302 1061.8C304 1061.9 306 1062.2 308 1062.5C310 1062.7 312 1062.9 314 1063.1C316 1063.3 318 1063.4 320 1063.4C322 1063.4 324 1063.1 326 1063.1C328 1063 330 1063.1 332 1063.1C334 1063 336 1062.8 338 1062.7C340 1062.7 342 1062.8 344 1062.8C346 1062.8 348 1062.9 350 1062.8C352 1062.7 354 1062.3 356 1062.3C358 1062.2 360 1062.7 362 1062.5C364 1062.3 366 1061.8 368 1061C370 1060.2 372 1058.8 374 1057.9C376 1057.1 378 1056.7 380 1056.1C382 1055.5 384 1054.9 386 1054.5C388 1054.1 390 1054.5 392 1053.8C394 1053.1 396 1051.4 398 1050.3C400 1049.3 402 1048.4 404 1047.8C406 1047.2 409 1046.8 410 1046.5" stroke="#000" stroke-width="6.5" fill="none" stroke-linecap="round" stroke-linejoin="round"/>
<g stroke="#000" stroke-linecap="round" fill="#000"><path d="M243.6 1059.2L245.5 1065.5" stroke-width="2.4"/><path d="M390.2 1054.2L388.7 1045.8" stroke-width="2.7"/><path d="M341.1 1063.1L342.1 1069.3" stroke-width="1.6"/><path d="M315.9 1063.4L320.4 1068.8" stroke-width="2.2"/><path d="M335.6 1063.3L329.7 1056.6" stroke-width="2.7"/><path d="M360.1 1062.7L356.1 1067.5" stroke-width="1.5"/><path d="M373 1058.6L374.3 1053" stroke-width="1.7"/><path d="M246.3 1059.3L244 1065.1" stroke-width="3"/><path d="M303.6 1062.5L306.2 1068.9" stroke-width="2.9"/><path d="M318.6 1063.5L322.9 1059.7" stroke-width="1.9"/><path d="M357 1062.7L362.1 1067.7" stroke-width="2.1"/><path d="M351.8 1062.8L358.5 1067.9" stroke-width="2.3"/><path d="M342.7 1063L345.8 1070.3" stroke-width="2"/><path d="M405.4 1047.7L400.2 1054.9" stroke-width="1.7"/><path d="M389.8 1054.3L394.6 1059.2" stroke-width="1.7"/><path d="M289.4 1061.3L292 1069.1" stroke-width="2"/><path d="M284.8 1061.1L284.7 1055.2" stroke-width="1.5"/><path d="M373.1 1058.6L367.9 1063.2" stroke-width="1.9"/><path d="M392.3 1053.5L395.2 1045.3" stroke-width="3"/><path d="M295.5 1061.8L300.9 1055.7" stroke-width="2.7"/><path d="M272.1 1060.8L273.1 1066.8" stroke-width="2.6"/><path d="M368.9 1060.5L370.8 1065.7" stroke-width="1.8"/><path d="M270 1060.7L268.7 1066.9" stroke-width="2.6"/><path d="M348 1062.9L350.8 1067.9" stroke-width="2.2"/><path d="M363.5 1062.3L362.6 1068.8" stroke-width="1.8"/><path d="M241.8 1059.1L240.3 1051.1" stroke-width="1.8"/><path d="M386.8 1054.9L391.8 1058.6" stroke-width="3"/><path d="M386.1 1055L389.7 1050.6" stroke-width="2.6"/><path d="M341.7 1063.1L345.2 1058.8" stroke-width="2.1"/><path d="M338.6 1063.2L339.4 1069.8" stroke-width="2.4"/><path d="M285.4 1061.1L282.5 1053.7" stroke-width="1.7"/><path d="M377.3 1056.7L370.8 1050.3" stroke-width="2.3"/><path d="M301.8 1062.3L300.3 1070.6" stroke-width="2.5"/><path d="M327.5 1063.5L332.8 1070.3" stroke-width="2.6"/><path d="M324.7 1063.5L318.9 1057.6" stroke-width="2.1"/><path d="M317.9 1063.4L315 1070.7" stroke-width="2.8"/><path d="M364.3 1062.1L363.7 1053.1" stroke-width="2.1"/><path d="M367.6 1061L364.5 1069.5" stroke-width="2.1"/><path d="M353.6 1062.8L360 1067.7" stroke-width="2.1"/><path d="M279.6 1061L281.2 1053.5" stroke-width="2.9"/><path d="M381.3 1055.5L375.8 1049.7" stroke-width="2.9"/><path d="M358.7 1062.7L356.6 1053.9" stroke-width="2.9"/><path d="M346.2 1062.9L340.6 1070" stroke-width="1.8"/><path d="M304.5 1062.6L301.5 1070.6" stroke-width="1.7"/><path d="M341.2 1063.1L337.2 1059.5" stroke-width="2.3"/><path d="M302.1 1062.3L307.7 1069.4" stroke-width="1.9"/><path d="M292.6 1061.5L288.1 1065.2" stroke-width="2.3"/><path d="M240.5 1059.1L241 1064.9" stroke-width="2.5"/><path d="M258.9 1060.1L255.8 1053.5" stroke-width="2.2"/><path d="M298.5 1062L304.9 1067.9" stroke-width="2.9"/><path d="M318 1063.4L324.6 1069" stroke-width="2.5"/><path d="M267.9 1060.6L272.4 1055.1" stroke-width="1.7"/><path d="M332.6 1063.3L333.1 1056.7" stroke-width="2.4"/><path d="M262.4 1060.3L263.9 1065.6" stroke-width="2.8"/><path d="M391.6 1053.7L391.6 1061.5" stroke-width="1.8"/><path d="M367.3 1061.1L365.4 1067.7" stroke-width="2.3"/><path d="M243.4 1059.1L239.4 1063.4" stroke-width="2.5"/><path d="M265.4 1060.5L260.4 1053.6" stroke-width="1.7"/><path d="M327.4 1063.5L326.9 1070.3" stroke-width="1.6"/><path d="M273.6 1060.9L277.3 1056.6" stroke-width="1.9"/><path d="M407.3 1047.1L404.2 1052.2" stroke-width="1.7"/><path d="M247.1 1059.3L248.7 1053.9" stroke-width="3"/><path d="M376.2 1057.2L376.1 1066" stroke-width="1.9"/><path d="M283.3 1061L284.5 1055.9" stroke-width="1.6"/><path d="M368.2 1060.8L368 1067.3" stroke-width="2.1"/><path d="M362.8 1062.4L361.5 1068.4" stroke-width="2.8"/><path d="M271.5 1060.8L268.3 1067.7" stroke-width="2.3"/><path d="M379.3 1056L378.4 1063" stroke-width="1.7"/><path d="M300.3 1062.2L294 1057.3" stroke-width="2"/><path d="M317 1063.4L316.4 1057.5" stroke-width="1.7"/><path d="M336.3 1063.2L339.8 1067.4" stroke-width="1.5"/><path d="M388.1 1054.7L386.3 1059.6" stroke-width="1.9"/><path d="M391 1053.9L395.4 1060.7" stroke-width="3"/><path d="M354.9 1062.7L358.4 1054.7" stroke-width="3"/><path d="M282.3 1061L285.8 1054.7" stroke-width="1.5"/><path d="M363.8 1062.2L363.4 1054.3" stroke-width="2.4"/><path d="M284.4 1061.1L279.8 1057.8" stroke-width="2.2"/><path d="M350.8 1062.8L346.3 1066.1" stroke-width="2.9"/><path d="M286.8 1061.2L283.8 1052.7" stroke-width="1.6"/><path d="M363.1 1062.4L367.8 1058.8" stroke-width="2.9"/><path d="M323.7 1063.5L317.3 1058.6" stroke-width="2.5"/><path d="M357.5 1062.7L362.1 1056.5" stroke-width="2.4"/><path d="M359.3 1062.7L357.6 1068.5" stroke-width="2.1"/><path d="M404.5 1048L402.2 1055.3" stroke-width="2"/><path d="M299.8 1062.1L302.3 1067.9" stroke-width="2.3"/><path d="M323.5 1063.5L317.2 1057.8" stroke-width="2.3"/><path d="M334 1063.3L332.2 1071" stroke-width="2.5"/><path d="M276.8 1061L283.4 1065.9" stroke-width="2.7"/><path d="M264.5 1060.4L262.2 1052.1" stroke-width="1.7"/><path d="M339.2 1063.2L341.9 1068.7" stroke-width="1.6"/><path d="M243.7 1059.2L240.9 1053.9" stroke-width="2.4"/><path d="M242.5 1059.1L237.5 1066.7" stroke-width="2.9"/><path d="M332.8 1063.3L338.4 1056.9" stroke-width="2.4"/><path d="M280.2 1061L277.9 1054.7" stroke-width="2.9"/><path d="M346.9 1062.9L341.9 1056.6" stroke-width="2.5"/><circle cx="245.5" cy="1065.5" r="1.5"/><circle cx="329.7" cy="1056.6" r="2.3"/><circle cx="374.3" cy="1053" r="1.6"/><circle cx="244" cy="1065.1" r="2.1"/><circle cx="345.8" cy="1070.3" r="1.2"/><circle cx="292" cy="1069.1" r="1.6"/><circle cx="284.7" cy="1055.2" r="1.5"/><circle cx="367.9" cy="1063.2" r="1.3"/><circle cx="395.2" cy="1045.3" r="2.1"/><circle cx="300.9" cy="1055.7" r="2.4"/><circle cx="370.8" cy="1065.7" r="1.3"/><circle cx="389.7" cy="1050.6" r="2.2"/><circle cx="339.4" cy="1069.8" r="2.3"/><circle cx="370.8" cy="1050.3" r="1.9"/><circle cx="300.3" cy="1070.6" r="1.8"/><circle cx="332.8" cy="1070.3" r="2.5"/><circle cx="318.9" cy="1057.6" r="1.6"/><circle cx="364.5" cy="1069.5" r="2"/><circle cx="281.2" cy="1053.5" r="2.7"/><circle cx="375.8" cy="1049.7" r="2.7"/><circle cx="340.6" cy="1070" r="1.5"/><circle cx="307.7" cy="1069.4" r="1.4"/><circle cx="304.9" cy="1067.9" r="2.1"/><circle cx="324.6" cy="1069" r="2.3"/><circle cx="272.4" cy="1055.1" r="1.1"/><circle cx="333.1" cy="1056.7" r="1.5"/><circle cx="391.6" cy="1061.5" r="1.7"/><circle cx="260.4" cy="1053.6" r="1.5"/><circle cx="277.3" cy="1056.6" r="1.8"/><circle cx="404.2" cy="1052.2" r="1.4"/><circle cx="248.7" cy="1053.9" r="2.2"/><circle cx="376.1" cy="1066" r="1.5"/><circle cx="284.5" cy="1055.9" r="1"/><circle cx="361.5" cy="1068.4" r="1.9"/><circle cx="378.4" cy="1063" r="1.2"/><circle cx="316.4" cy="1057.5" r="1.4"/><circle cx="386.3" cy="1059.6" r="1.5"/><circle cx="358.4" cy="1054.7" r="2.5"/><circle cx="279.8" cy="1057.8" r="2.2"/><circle cx="346.3" cy="1066.1" r="1.9"/><circle cx="367.8" cy="1058.8" r="2.2"/><circle cx="362.1" cy="1056.5" r="1.9"/><circle cx="402.2" cy="1055.3" r="1.8"/><circle cx="302.3" cy="1067.9" r="2.2"/><circle cx="317.2" cy="1057.8" r="1.5"/><circle cx="240.9" cy="1053.9" r="2"/><circle cx="237.5" cy="1066.7" r="2.6"/><circle cx="338.4" cy="1056.9" r="2.3"/></g>
<rect x="865" y="0" width="1" height="1106" fill="#000"/>
</svg></body></html>
